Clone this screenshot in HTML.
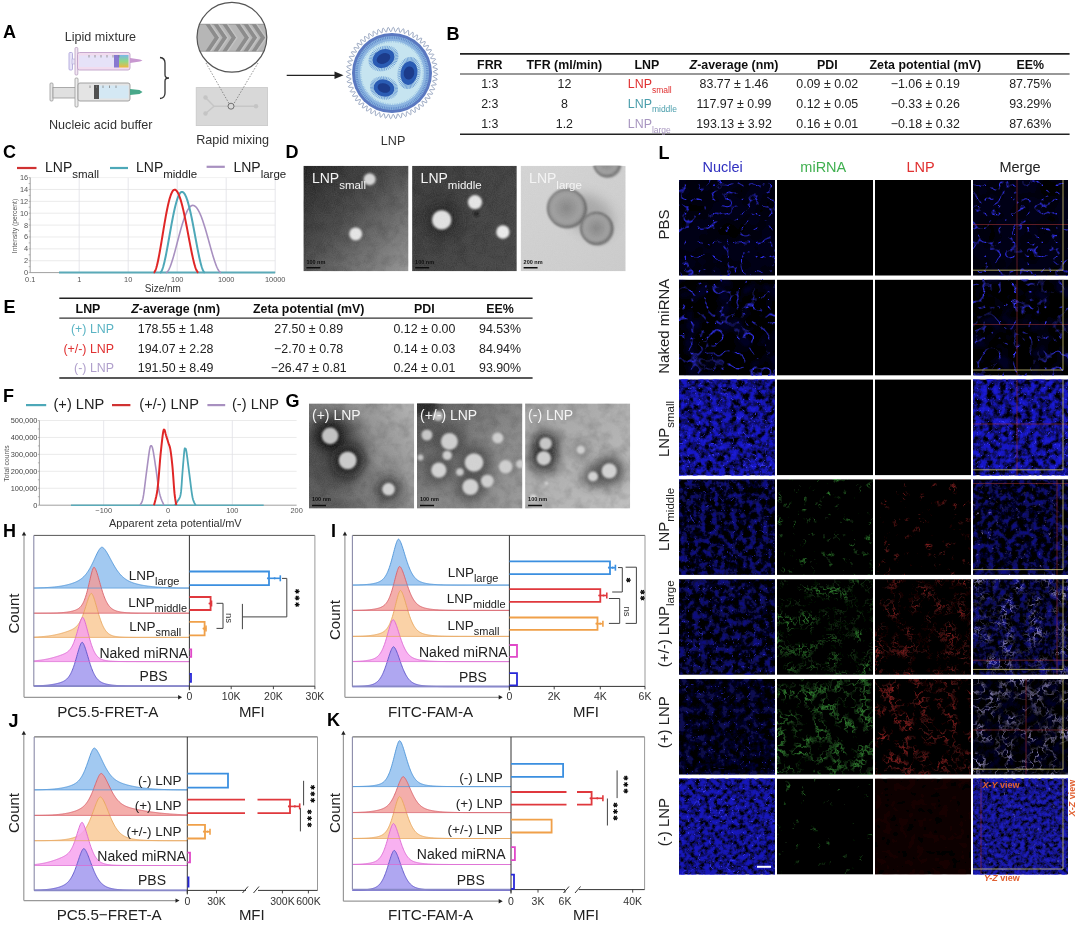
<!DOCTYPE html>
<html><head><meta charset="utf-8"><style>
html,body{margin:0;padding:0;background:#fff;}
svg{display:block;}
text{font-family:"Liberation Sans",sans-serif;}
</style></head><body>
<svg width="1080" height="925" viewBox="0 0 1080 925">
<defs><filter id="gsoft" x="0" y="0" width="100%" height="100%"><feGaussianBlur stdDeviation="0.3"/></filter></defs>
<g filter="url(#gsoft)">
<rect width="1080" height="925" fill="#fff"/>
<text x="3" y="37.5" font-size="18" fill="#000" text-anchor="start" font-weight="bold" >A</text><text x="446.5" y="40" font-size="18" fill="#000" text-anchor="start" font-weight="bold" >B</text><text x="3" y="158" font-size="18" fill="#000" text-anchor="start" font-weight="bold" >C</text><text x="285.5" y="158.3" font-size="18" fill="#000" text-anchor="start" font-weight="bold" >D</text><text x="3.5" y="313" font-size="18" fill="#000" text-anchor="start" font-weight="bold" >E</text><text x="3" y="402" font-size="18" fill="#000" text-anchor="start" font-weight="bold" >F</text><text x="285.5" y="406.7" font-size="18" fill="#000" text-anchor="start" font-weight="bold" >G</text><text x="3" y="537" font-size="18" fill="#000" text-anchor="start" font-weight="bold" >H</text><text x="331" y="537" font-size="18" fill="#000" text-anchor="start" font-weight="bold" >I</text><text x="8.5" y="727.3" font-size="18" fill="#000" text-anchor="start" font-weight="bold" >J</text><text x="327" y="726.2" font-size="18" fill="#000" text-anchor="start" font-weight="bold" >K</text><text x="658.5" y="158.5" font-size="18" fill="#000" text-anchor="start" font-weight="bold" >L</text><line x1="460" y1="53.9" x2="1069.6" y2="53.9" stroke="#222" stroke-width="1.6"/><line x1="460" y1="134.2" x2="1069.6" y2="134.2" stroke="#222" stroke-width="1.6"/><line x1="460" y1="74" x2="1069.6" y2="74" stroke="#333" stroke-width="1.1"/><text x="489.8" y="68.7" font-size="12.4" fill="#111" text-anchor="middle" font-weight="bold" >FRR</text><text x="564.4" y="68.7" font-size="12.4" fill="#111" text-anchor="middle" font-weight="bold" >TFR (ml/min)</text><text x="646.8" y="68.7" font-size="12.4" fill="#111" text-anchor="middle" font-weight="bold" >LNP</text><text x="734" y="68.7" font-size="12.4" fill="#111" text-anchor="middle" font-weight="bold" ><tspan font-style="italic">Z</tspan>-average (nm)</text><text x="827.3" y="68.7" font-size="12.4" fill="#111" text-anchor="middle" font-weight="bold" >PDI</text><text x="925.3" y="68.7" font-size="12.4" fill="#111" text-anchor="middle" font-weight="bold" >Zeta potential (mV)</text><text x="1030.2" y="68.7" font-size="12.4" fill="#111" text-anchor="middle" font-weight="bold" >EE%</text><text x="489.8" y="88.3" font-size="12.4" fill="#222" text-anchor="middle" font-weight="normal" >1:3</text><text x="564.4" y="88.3" font-size="12.4" fill="#222" text-anchor="middle" font-weight="normal" >12</text><text x="627.8" y="88.3" font-size="12.4" fill="#e03030" text-anchor="start" font-weight="normal" >LNP<tspan font-size="8.5" dy="4.2">small</tspan></text><text x="734" y="88.3" font-size="12.4" fill="#222" text-anchor="middle" font-weight="normal" >83.77 ± 1.46</text><text x="827.3" y="88.3" font-size="12.4" fill="#222" text-anchor="middle" font-weight="normal" >0.09 ± 0.02</text><text x="925.3" y="88.3" font-size="12.4" fill="#222" text-anchor="middle" font-weight="normal" >−1.06 ± 0.19</text><text x="1030.2" y="88.3" font-size="12.4" fill="#222" text-anchor="middle" font-weight="normal" >87.75%</text><text x="489.8" y="108.1" font-size="12.4" fill="#222" text-anchor="middle" font-weight="normal" >2:3</text><text x="564.4" y="108.1" font-size="12.4" fill="#222" text-anchor="middle" font-weight="normal" >8</text><text x="627.8" y="108.1" font-size="12.4" fill="#4a9eac" text-anchor="start" font-weight="normal" >LNP<tspan font-size="8.5" dy="4.2">middle</tspan></text><text x="734" y="108.1" font-size="12.4" fill="#222" text-anchor="middle" font-weight="normal" >117.97 ± 0.99</text><text x="827.3" y="108.1" font-size="12.4" fill="#222" text-anchor="middle" font-weight="normal" >0.12 ± 0.05</text><text x="925.3" y="108.1" font-size="12.4" fill="#222" text-anchor="middle" font-weight="normal" >−0.33 ± 0.26</text><text x="1030.2" y="108.1" font-size="12.4" fill="#222" text-anchor="middle" font-weight="normal" >93.29%</text><text x="489.8" y="128.3" font-size="12.4" fill="#222" text-anchor="middle" font-weight="normal" >1:3</text><text x="564.4" y="128.3" font-size="12.4" fill="#222" text-anchor="middle" font-weight="normal" >1.2</text><text x="627.8" y="128.3" font-size="12.4" fill="#a896c0" text-anchor="start" font-weight="normal" >LNP<tspan font-size="8.5" dy="4.2">large</tspan></text><text x="734" y="128.3" font-size="12.4" fill="#222" text-anchor="middle" font-weight="normal" >193.13 ± 3.92</text><text x="827.3" y="128.3" font-size="12.4" fill="#222" text-anchor="middle" font-weight="normal" >0.16 ± 0.01</text><text x="925.3" y="128.3" font-size="12.4" fill="#222" text-anchor="middle" font-weight="normal" >−0.18 ± 0.32</text><text x="1030.2" y="128.3" font-size="12.4" fill="#222" text-anchor="middle" font-weight="normal" >87.63%</text><line x1="59.3" y1="298.3" x2="532.6" y2="298.3" stroke="#222" stroke-width="1.6"/><line x1="59.3" y1="378" x2="532.6" y2="378" stroke="#222" stroke-width="1.6"/><line x1="59.3" y1="318.1" x2="532.6" y2="318.1" stroke="#333" stroke-width="1.1"/><text x="88" y="313.1" font-size="12.4" fill="#111" text-anchor="middle" font-weight="bold" >LNP</text><text x="175.6" y="313.1" font-size="12.4" fill="#111" text-anchor="middle" font-weight="bold" ><tspan font-style="italic">Z</tspan>-average (nm)</text><text x="308.7" y="313.1" font-size="12.4" fill="#111" text-anchor="middle" font-weight="bold" >Zeta potential (mV)</text><text x="424.4" y="313.1" font-size="12.4" fill="#111" text-anchor="middle" font-weight="bold" >PDI</text><text x="500" y="313.1" font-size="12.4" fill="#111" text-anchor="middle" font-weight="bold" >EE%</text><text x="114" y="333" font-size="12.4" fill="#5ab4c4" text-anchor="end" font-weight="normal" >(+) LNP</text><text x="175.6" y="333" font-size="12.4" fill="#222" text-anchor="middle" font-weight="normal" >178.55 ± 1.48</text><text x="308.7" y="333" font-size="12.4" fill="#222" text-anchor="middle" font-weight="normal" >27.50 ± 0.89</text><text x="424.4" y="333" font-size="12.4" fill="#222" text-anchor="middle" font-weight="normal" >0.12 ± 0.00</text><text x="500" y="333" font-size="12.4" fill="#222" text-anchor="middle" font-weight="normal" >94.53%</text><text x="114" y="352.8" font-size="12.4" fill="#e03030" text-anchor="end" font-weight="normal" >(+/-) LNP</text><text x="175.6" y="352.8" font-size="12.4" fill="#222" text-anchor="middle" font-weight="normal" >194.07 ± 2.28</text><text x="308.7" y="352.8" font-size="12.4" fill="#222" text-anchor="middle" font-weight="normal" >−2.70 ± 0.78</text><text x="424.4" y="352.8" font-size="12.4" fill="#222" text-anchor="middle" font-weight="normal" >0.14 ± 0.03</text><text x="500" y="352.8" font-size="12.4" fill="#222" text-anchor="middle" font-weight="normal" >84.94%</text><text x="114" y="372.1" font-size="12.4" fill="#b0a0cc" text-anchor="end" font-weight="normal" >(-) LNP</text><text x="175.6" y="372.1" font-size="12.4" fill="#222" text-anchor="middle" font-weight="normal" >191.50 ± 8.49</text><text x="308.7" y="372.1" font-size="12.4" fill="#222" text-anchor="middle" font-weight="normal" >−26.47 ± 0.81</text><text x="424.4" y="372.1" font-size="12.4" fill="#222" text-anchor="middle" font-weight="normal" >0.24 ± 0.01</text><text x="500" y="372.1" font-size="12.4" fill="#222" text-anchor="middle" font-weight="normal" >93.90%</text><text x="64.7" y="40.8" font-size="12.6" fill="#333" text-anchor="start" font-weight="normal" >Lipid mixture</text><text x="49" y="129" font-size="12.6" fill="#333" text-anchor="start" font-weight="normal" >Nucleic acid buffer</text><text x="196.2" y="144.3" font-size="12.6" fill="#333" text-anchor="start" font-weight="normal" >Rapid mixing</text><text x="380.8" y="145" font-size="12.6" fill="#333" text-anchor="start" font-weight="normal" >LNP</text><g><rect x="69" y="52.5" width="3.5" height="17.5" rx="1" fill="#e8e4f8" stroke="#a8a0d8" stroke-width="0.8"/><rect x="72" y="59" width="8" height="5" fill="#e8e4f8" stroke="#b0a8d8" stroke-width="0.6"/><rect x="75" y="47.5" width="2.8" height="27.5" rx="1" fill="#f3e6f3" stroke="#b8a0c0" stroke-width="0.8"/><rect x="77.5" y="52.5" width="52.5" height="17.5" rx="2" fill="#f2dcef" stroke="#c0a0c8" stroke-width="0.9"/><rect x="79" y="55.5" width="35" height="11.5" fill="#e6e2f8"/><rect x="114" y="55" width="5" height="12.5" fill="#8878d0"/><rect x="119" y="55" width="9.5" height="12.5" fill="url(#rainbow)"/><line x1="89" y1="55" x2="89" y2="57.5" stroke="#777" stroke-width="0.7"/><line x1="95" y1="55" x2="95" y2="57.5" stroke="#777" stroke-width="0.7"/><line x1="101" y1="55" x2="101" y2="57.5" stroke="#777" stroke-width="0.7"/><line x1="107" y1="55" x2="107" y2="57.5" stroke="#777" stroke-width="0.7"/><line x1="113" y1="55" x2="113" y2="57.5" stroke="#777" stroke-width="0.7"/><line x1="119" y1="55" x2="119" y2="57.5" stroke="#777" stroke-width="0.7"/><path d="M130 58 L140 59.5 L142.5 60.5 L140 61.5 L130 63 Z" fill="#c898d0"/><rect x="50" y="83" width="3" height="18" rx="1" fill="#e6e6e6" stroke="#999" stroke-width="0.8"/><rect x="53" y="87.5" width="25" height="10.5" fill="#e0e0e0" stroke="#999" stroke-width="0.8"/><rect x="75" y="78" width="3" height="29" rx="1" fill="#eee" stroke="#999" stroke-width="0.8"/><rect x="78" y="83" width="52" height="18" rx="2" fill="#e4e4e4" stroke="#999" stroke-width="0.9"/><rect x="99" y="85.5" width="29.5" height="13" fill="#d4e8f4"/><rect x="94" y="85" width="5" height="14" fill="#505050"/><line x1="90.0" y1="85.5" x2="90.0" y2="88" stroke="#777" stroke-width="0.7"/><line x1="96.5" y1="85.5" x2="96.5" y2="88" stroke="#777" stroke-width="0.7"/><line x1="103.0" y1="85.5" x2="103.0" y2="88" stroke="#777" stroke-width="0.7"/><line x1="109.5" y1="85.5" x2="109.5" y2="88" stroke="#777" stroke-width="0.7"/><line x1="116.0" y1="85.5" x2="116.0" y2="88" stroke="#777" stroke-width="0.7"/><path d="M130 89 L139.5 90 L142.5 92 L139.5 94 L130 95 Z" fill="#4aa88a"/><path d="M160 57.5 Q165 58 165 63 L165 75 Q165 78 169 78 Q165 78 165 81 L165 93 Q165 98 160 98.5" fill="none" stroke="#333" stroke-width="1.3"/></g><defs><clipPath id="zc"><circle cx="231.9" cy="37.3" r="34.9"/></clipPath><clipPath id="band"><rect x="190" y="24.3" width="80" height="27"/></clipPath><linearGradient id="rainbow" x1="0" y1="0" x2="0" y2="1"><stop offset="0" stop-color="#7ab8e8"/><stop offset="0.5" stop-color="#8ed88a"/><stop offset="1" stop-color="#f0b840"/></linearGradient></defs><g clip-path="url(#zc)"><rect x="190" y="0" width="80" height="80" fill="#fff"/><rect x="190" y="23.9" width="80" height="27.6" fill="#b6b6b6"/><line x1="190" y1="24.3" x2="270" y2="24.3" stroke="#999" stroke-width="0.8"/><line x1="190" y1="51.2" x2="270" y2="51.2" stroke="#999" stroke-width="0.8"/><g clip-path="url(#band)"><path d="M206.9 23 L216.9 37.7 L206.9 52.5" fill="none" stroke="#8c8c8c" stroke-width="4"/><path d="M209.9 23 L219.9 37.7 L209.9 52.5" fill="none" stroke="#c2c2c2" stroke-width="1.4"/><path d="M215 23 L225 37.7 L215 52.5" fill="none" stroke="#8c8c8c" stroke-width="4"/><path d="M218 23 L228 37.7 L218 52.5" fill="none" stroke="#c2c2c2" stroke-width="1.4"/><path d="M223.9 23 L233.9 37.7 L223.9 52.5" fill="none" stroke="#8c8c8c" stroke-width="4"/><path d="M226.9 23 L236.9 37.7 L226.9 52.5" fill="none" stroke="#c2c2c2" stroke-width="1.4"/><path d="M236.9 23 L246.9 37.7 L236.9 52.5" fill="none" stroke="#8c8c8c" stroke-width="4"/><path d="M239.9 23 L249.9 37.7 L239.9 52.5" fill="none" stroke="#c2c2c2" stroke-width="1.4"/><path d="M245 23 L255 37.7 L245 52.5" fill="none" stroke="#8c8c8c" stroke-width="4"/><path d="M248 23 L258 37.7 L248 52.5" fill="none" stroke="#c2c2c2" stroke-width="1.4"/><path d="M253.10000000000002 23 L263.1 37.7 L253.10000000000002 52.5" fill="none" stroke="#8c8c8c" stroke-width="4"/><path d="M256.1 23 L266.1 37.7 L256.1 52.5" fill="none" stroke="#c2c2c2" stroke-width="1.4"/></g></g><circle cx="231.9" cy="37.3" r="34.9" fill="none" stroke="#555" stroke-width="1.2"/><rect x="196.2" y="87.6" width="71.4" height="38" fill="#d8d8d8" stroke="#c8c8c8" stroke-width="0.8"/><path d="M205.5 97.5 L214 106.2 L205.5 113.5 M214 106.2 L256 106.2" stroke="#c6c6c6" stroke-width="1.5" fill="none"/><circle cx="205.5" cy="97.5" r="2.2" fill="#c4c4c4"/><circle cx="205.5" cy="113.5" r="2.2" fill="#c4c4c4"/><circle cx="256" cy="106.2" r="2.2" fill="#c4c4c4"/><path d="M206 63 L229 103.5 M258 63 L234 103.5" stroke="#666" stroke-width="0.7" stroke-dasharray="1.5,1.5" fill="none"/><circle cx="231" cy="106.2" r="3" fill="#d8d8d8" stroke="#555" stroke-width="0.8"/><line x1="286.7" y1="75.3" x2="336" y2="75.3" stroke="#222" stroke-width="1.3"/><path d="M334.5 71.5 L343.5 75.3 L334.5 79 Z" fill="#222"/><path d="M435.50 73.00 L436.53 73.39 L437.32 73.79 L437.67 74.20 L437.51 74.59 L436.87 74.96 L435.90 75.30 L434.81 75.62 L433.87 75.93 L433.28 76.25 L433.18 76.60 L433.57 77.00 L434.37 77.45 L435.37 77.94 L436.33 78.44 L437.02 78.93 L437.25 79.36 L436.98 79.72 L436.24 80.01 L435.21 80.23 L434.10 80.42 L433.16 80.63 L432.61 80.89 L432.53 81.25 L432.95 81.70 L433.73 82.25 L434.68 82.85 L435.56 83.46 L436.13 84.00 L436.24 84.44 L435.86 84.75 L435.04 84.94 L433.96 85.03 L432.85 85.10 L431.94 85.21 L431.42 85.43 L431.38 85.80 L431.80 86.32 L432.56 86.96 L433.44 87.67 L434.21 88.36 L434.66 88.95 L434.65 89.37 L434.17 89.61 L433.29 89.68 L432.19 89.65 L431.09 89.59 L430.22 89.62 L429.74 89.80 L429.73 90.19 L430.14 90.79 L430.85 91.53 L431.64 92.33 L432.30 93.09 L432.62 93.70 L432.51 94.09 L431.94 94.24 L431.01 94.18 L429.91 94.01 L428.85 93.85 L428.02 93.80 L427.59 93.96 L427.59 94.39 L427.99 95.05 L428.63 95.89 L429.32 96.78 L429.85 97.58 L430.05 98.19 L429.83 98.52 L429.20 98.56 L428.25 98.38 L427.16 98.08 L426.15 97.81 L425.38 97.70 L424.98 97.86 L425.00 98.32 L425.36 99.06 L425.92 99.98 L426.50 100.94 L426.90 101.77 L426.98 102.35 L426.67 102.61 L425.98 102.54 L425.03 102.23 L423.99 101.80 L423.03 101.43 L422.32 101.28 L421.97 101.44 L421.98 101.95 L422.29 102.77 L422.76 103.76 L423.21 104.76 L423.48 105.60 L423.45 106.14 L423.06 106.31 L422.34 106.11 L421.41 105.67 L420.42 105.13 L419.54 104.68 L418.89 104.49 L418.57 104.66 L418.57 105.23 L418.81 106.11 L419.17 107.16 L419.50 108.20 L419.64 109.02 L419.50 109.50 L419.05 109.56 L418.33 109.24 L417.44 108.66 L416.52 108.02 L415.71 107.50 L415.13 107.29 L414.83 107.49 L414.80 108.11 L414.97 109.05 L415.21 110.15 L415.40 111.19 L415.42 111.98 L415.19 112.38 L414.70 112.32 L413.99 111.88 L413.16 111.18 L412.33 110.44 L411.61 109.88 L411.09 109.66 L410.80 109.89 L410.73 110.56 L410.80 111.55 L410.92 112.68 L410.98 113.71 L410.89 114.44 L410.58 114.74 L410.07 114.56 L409.40 113.99 L408.65 113.19 L407.91 112.37 L407.27 111.78 L406.80 111.57 L406.52 111.83 L406.39 112.55 L406.37 113.57 L406.36 114.70 L406.29 115.70 L406.09 116.36 L405.73 116.55 L405.23 116.26 L404.61 115.57 L403.95 114.67 L403.31 113.79 L402.77 113.18 L402.34 112.99 L402.05 113.29 L401.85 114.04 L401.72 115.09 L401.58 116.20 L401.38 117.15 L401.10 117.72 L400.71 117.80 L400.23 117.38 L399.68 116.58 L399.13 115.60 L398.60 114.69 L398.14 114.07 L397.75 113.90 L397.43 114.24 L397.16 115.02 L396.91 116.07 L396.64 117.15 L396.34 118.03 L395.98 118.49 L395.58 118.45 L395.14 117.92 L394.69 117.02 L394.25 115.98 L393.84 115.05 L393.45 114.43 L393.08 114.30 L392.73 114.67 L392.37 115.47 L392.00 116.50 L391.61 117.53 L391.21 118.32 L390.80 118.67 L390.41 118.51 L390.04 117.87 L389.70 116.90 L389.38 115.81 L389.07 114.87 L388.75 114.28 L388.40 114.18 L388.00 114.57 L387.55 115.37 L387.06 116.37 L386.56 117.33 L386.07 118.02 L385.64 118.25 L385.28 117.98 L384.99 117.24 L384.77 116.21 L384.58 115.10 L384.37 114.16 L384.11 113.61 L383.75 113.53 L383.30 113.95 L382.75 114.73 L382.15 115.68 L381.54 116.56 L381.00 117.13 L380.56 117.24 L380.25 116.86 L380.06 116.04 L379.97 114.96 L379.90 113.85 L379.79 112.94 L379.57 112.42 L379.20 112.38 L378.68 112.80 L378.04 113.56 L377.33 114.44 L376.64 115.21 L376.05 115.66 L375.63 115.65 L375.39 115.17 L375.32 114.29 L375.35 113.19 L375.41 112.09 L375.38 111.22 L375.20 110.74 L374.81 110.73 L374.21 111.14 L373.47 111.85 L372.67 112.64 L371.91 113.30 L371.30 113.62 L370.91 113.51 L370.76 112.94 L370.82 112.01 L370.99 110.91 L371.15 109.85 L371.20 109.02 L371.04 108.59 L370.61 108.59 L369.95 108.99 L369.11 109.63 L368.22 110.32 L367.42 110.85 L366.81 111.05 L366.48 110.83 L366.44 110.20 L366.62 109.25 L366.92 108.16 L367.19 107.15 L367.30 106.38 L367.14 105.98 L366.68 106.00 L365.94 106.36 L365.02 106.92 L364.06 107.50 L363.23 107.90 L362.65 107.98 L362.39 107.67 L362.46 106.98 L362.77 106.03 L363.20 104.99 L363.57 104.03 L363.72 103.32 L363.56 102.97 L363.05 102.98 L362.23 103.29 L361.24 103.76 L360.24 104.21 L359.40 104.48 L358.86 104.45 L358.69 104.06 L358.89 103.34 L359.33 102.41 L359.87 101.42 L360.32 100.54 L360.51 99.89 L360.34 99.57 L359.77 99.57 L358.89 99.81 L357.84 100.17 L356.80 100.50 L355.98 100.64 L355.50 100.50 L355.44 100.05 L355.76 99.33 L356.34 98.44 L356.98 97.52 L357.50 96.71 L357.71 96.13 L357.51 95.83 L356.89 95.80 L355.95 95.97 L354.85 96.21 L353.81 96.40 L353.02 96.42 L352.62 96.19 L352.68 95.70 L353.12 94.99 L353.82 94.16 L354.56 93.33 L355.12 92.61 L355.34 92.09 L355.11 91.80 L354.44 91.73 L353.45 91.80 L352.32 91.92 L351.29 91.98 L350.56 91.89 L350.26 91.58 L350.44 91.07 L351.01 90.40 L351.81 89.65 L352.63 88.91 L353.22 88.27 L353.43 87.80 L353.17 87.52 L352.45 87.39 L351.43 87.37 L350.30 87.36 L349.30 87.29 L348.64 87.09 L348.45 86.73 L348.74 86.23 L349.43 85.61 L350.33 84.95 L351.21 84.31 L351.82 83.77 L352.01 83.34 L351.71 83.05 L350.96 82.85 L349.91 82.72 L348.80 82.58 L347.85 82.38 L347.28 82.10 L347.20 81.71 L347.62 81.23 L348.42 80.68 L349.40 80.13 L350.31 79.60 L350.93 79.14 L351.10 78.75 L350.76 78.43 L349.98 78.16 L348.93 77.91 L347.85 77.64 L346.97 77.34 L346.51 76.98 L346.55 76.58 L347.08 76.14 L347.98 75.69 L349.02 75.25 L349.95 74.84 L350.57 74.45 L350.70 74.08 L350.33 73.73 L349.53 73.37 L348.50 73.00 L347.47 72.61 L346.68 72.21 L346.33 71.80 L346.49 71.41 L347.13 71.04 L348.10 70.70 L349.19 70.38 L350.13 70.07 L350.72 69.75 L350.82 69.40 L350.43 69.00 L349.63 68.55 L348.63 68.06 L347.67 67.56 L346.98 67.07 L346.75 66.64 L347.02 66.28 L347.76 65.99 L348.79 65.77 L349.90 65.58 L350.84 65.37 L351.39 65.11 L351.47 64.75 L351.05 64.30 L350.27 63.75 L349.32 63.15 L348.44 62.54 L347.87 62.00 L347.76 61.56 L348.14 61.25 L348.96 61.06 L350.04 60.97 L351.15 60.90 L352.06 60.79 L352.58 60.57 L352.62 60.20 L352.20 59.68 L351.44 59.04 L350.56 58.33 L349.79 57.64 L349.34 57.05 L349.35 56.63 L349.83 56.39 L350.71 56.32 L351.81 56.35 L352.91 56.41 L353.78 56.38 L354.26 56.20 L354.27 55.81 L353.86 55.21 L353.15 54.47 L352.36 53.67 L351.70 52.91 L351.38 52.30 L351.49 51.91 L352.06 51.76 L352.99 51.82 L354.09 51.99 L355.15 52.15 L355.98 52.20 L356.41 52.04 L356.41 51.61 L356.01 50.95 L355.37 50.11 L354.68 49.22 L354.15 48.42 L353.95 47.81 L354.17 47.48 L354.80 47.44 L355.75 47.62 L356.84 47.92 L357.85 48.19 L358.62 48.30 L359.02 48.14 L359.00 47.68 L358.64 46.94 L358.08 46.02 L357.50 45.06 L357.10 44.23 L357.02 43.65 L357.33 43.39 L358.02 43.46 L358.97 43.77 L360.01 44.20 L360.97 44.57 L361.68 44.72 L362.03 44.56 L362.02 44.05 L361.71 43.23 L361.24 42.24 L360.79 41.24 L360.52 40.40 L360.55 39.86 L360.94 39.69 L361.66 39.89 L362.59 40.33 L363.58 40.87 L364.46 41.32 L365.11 41.51 L365.43 41.34 L365.43 40.77 L365.19 39.89 L364.83 38.84 L364.50 37.80 L364.36 36.98 L364.50 36.50 L364.95 36.44 L365.67 36.76 L366.56 37.34 L367.48 37.98 L368.29 38.50 L368.87 38.71 L369.17 38.51 L369.20 37.89 L369.03 36.95 L368.79 35.85 L368.60 34.81 L368.58 34.02 L368.81 33.62 L369.30 33.68 L370.01 34.12 L370.84 34.82 L371.67 35.56 L372.39 36.12 L372.91 36.34 L373.20 36.11 L373.27 35.44 L373.20 34.45 L373.08 33.32 L373.02 32.29 L373.11 31.56 L373.42 31.26 L373.93 31.44 L374.60 32.01 L375.35 32.81 L376.09 33.63 L376.73 34.22 L377.20 34.43 L377.48 34.17 L377.61 33.45 L377.63 32.43 L377.64 31.30 L377.71 30.30 L377.91 29.64 L378.27 29.45 L378.77 29.74 L379.39 30.43 L380.05 31.33 L380.69 32.21 L381.23 32.82 L381.66 33.01 L381.95 32.71 L382.15 31.96 L382.28 30.91 L382.42 29.80 L382.62 28.85 L382.90 28.28 L383.29 28.20 L383.77 28.62 L384.32 29.42 L384.87 30.40 L385.40 31.31 L385.86 31.93 L386.25 32.10 L386.57 31.76 L386.84 30.98 L387.09 29.93 L387.36 28.85 L387.66 27.97 L388.02 27.51 L388.42 27.55 L388.86 28.08 L389.31 28.98 L389.75 30.02 L390.16 30.95 L390.55 31.57 L390.92 31.70 L391.27 31.33 L391.63 30.53 L392.00 29.50 L392.39 28.47 L392.79 27.68 L393.20 27.33 L393.59 27.49 L393.96 28.13 L394.30 29.10 L394.62 30.19 L394.93 31.13 L395.25 31.72 L395.60 31.82 L396.00 31.43 L396.45 30.63 L396.94 29.63 L397.44 28.67 L397.93 27.98 L398.36 27.75 L398.72 28.02 L399.01 28.76 L399.23 29.79 L399.42 30.90 L399.63 31.84 L399.89 32.39 L400.25 32.47 L400.70 32.05 L401.25 31.27 L401.85 30.32 L402.46 29.44 L403.00 28.87 L403.44 28.76 L403.75 29.14 L403.94 29.96 L404.03 31.04 L404.10 32.15 L404.21 33.06 L404.43 33.58 L404.80 33.62 L405.32 33.20 L405.96 32.44 L406.67 31.56 L407.36 30.79 L407.95 30.34 L408.37 30.35 L408.61 30.83 L408.68 31.71 L408.65 32.81 L408.59 33.91 L408.62 34.78 L408.80 35.26 L409.19 35.27 L409.79 34.86 L410.53 34.15 L411.33 33.36 L412.09 32.70 L412.70 32.38 L413.09 32.49 L413.24 33.06 L413.18 33.99 L413.01 35.09 L412.85 36.15 L412.80 36.98 L412.96 37.41 L413.39 37.41 L414.05 37.01 L414.89 36.37 L415.78 35.68 L416.58 35.15 L417.19 34.95 L417.52 35.17 L417.56 35.80 L417.38 36.75 L417.08 37.84 L416.81 38.85 L416.70 39.62 L416.86 40.02 L417.32 40.00 L418.06 39.64 L418.98 39.08 L419.94 38.50 L420.77 38.10 L421.35 38.02 L421.61 38.33 L421.54 39.02 L421.23 39.97 L420.80 41.01 L420.43 41.97 L420.28 42.68 L420.44 43.03 L420.95 43.02 L421.77 42.71 L422.76 42.24 L423.76 41.79 L424.60 41.52 L425.14 41.55 L425.31 41.94 L425.11 42.66 L424.67 43.59 L424.13 44.58 L423.68 45.46 L423.49 46.11 L423.66 46.43 L424.23 46.43 L425.11 46.19 L426.16 45.83 L427.20 45.50 L428.02 45.36 L428.50 45.50 L428.56 45.95 L428.24 46.67 L427.66 47.56 L427.02 48.48 L426.50 49.29 L426.29 49.87 L426.49 50.17 L427.11 50.20 L428.05 50.03 L429.15 49.79 L430.19 49.60 L430.98 49.58 L431.38 49.81 L431.32 50.30 L430.88 51.01 L430.18 51.84 L429.44 52.67 L428.88 53.39 L428.66 53.91 L428.89 54.20 L429.56 54.27 L430.55 54.20 L431.68 54.08 L432.71 54.02 L433.44 54.11 L433.74 54.42 L433.56 54.93 L432.99 55.60 L432.19 56.35 L431.37 57.09 L430.78 57.73 L430.57 58.20 L430.83 58.48 L431.55 58.61 L432.57 58.63 L433.70 58.64 L434.70 58.71 L435.36 58.91 L435.55 59.27 L435.26 59.77 L434.57 60.39 L433.67 61.05 L432.79 61.69 L432.18 62.23 L431.99 62.66 L432.29 62.95 L433.04 63.15 L434.09 63.28 L435.20 63.42 L436.15 63.62 L436.72 63.90 L436.80 64.29 L436.38 64.77 L435.58 65.32 L434.60 65.87 L433.69 66.40 L433.07 66.86 L432.90 67.25 L433.24 67.57 L434.02 67.84 L435.07 68.09 L436.15 68.36 L437.03 68.66 L437.49 69.02 L437.45 69.42 L436.92 69.86 L436.02 70.31 L434.98 70.75 L434.05 71.16 L433.43 71.55 L433.30 71.92 L433.67 72.27 L434.47 72.63 L435.50 73.00" fill="none" stroke="#8a9ab8" stroke-width="0.9"/><circle cx="392" cy="73" r="40" fill="#5a78c0"/><circle cx="392" cy="73" r="37" fill="#8cb4e0"/><circle cx="392" cy="73" r="35.5" fill="none" stroke="#5c88c8" stroke-width="2.5" stroke-dasharray="0.8,1"/><circle cx="392" cy="73" r="32" fill="#c6e4f0"/><circle cx="392" cy="73" r="31.5" fill="none" stroke="#90bce0" stroke-width="2" stroke-dasharray="0.6,1.2"/><path d="M395.00 58.50 L399.02 58.50 M394.90 59.67 L398.89 60.09 M394.61 60.83 L398.50 61.64 M394.12 61.94 L397.84 63.15 M393.46 63.00 L396.95 64.58 M392.62 63.98 L395.82 65.90 M391.63 64.86 L394.48 67.09 M390.50 65.64 L392.95 68.14 M389.25 66.29 L391.26 69.02 M387.90 66.81 L389.44 69.73 M386.48 67.19 L387.52 70.24 M385.00 67.42 L385.53 70.55 M383.50 67.50 L383.50 70.65 M382.00 67.42 L381.47 70.55 M380.52 67.19 L379.48 70.24 M379.10 66.81 L377.56 69.73 M377.75 66.29 L375.74 69.02 M376.50 65.64 L374.05 68.14 M375.37 64.86 L372.52 67.09 M374.38 63.98 L371.18 65.90 M373.54 63.00 L370.05 64.58 M372.88 61.94 L369.16 63.15 M372.39 60.83 L368.50 61.64 M372.10 59.67 L368.11 60.09 M372.00 58.50 L367.98 58.50 M372.10 57.33 L368.11 56.91 M372.39 56.17 L368.50 55.36 M372.88 55.06 L369.16 53.85 M373.54 54.00 L370.05 52.43 M374.38 53.02 L371.18 51.10 M375.37 52.14 L372.52 49.91 M376.50 51.36 L374.05 48.86 M377.75 50.71 L375.74 47.98 M379.10 50.19 L377.56 47.27 M380.52 49.81 L379.48 46.76 M382.00 49.58 L381.47 46.45 M383.50 49.50 L383.50 46.35 M385.00 49.58 L385.53 46.45 M386.48 49.81 L387.52 46.76 M387.90 50.19 L389.44 47.27 M389.25 50.71 L391.26 47.98 M390.50 51.36 L392.95 48.86 M391.63 52.14 L394.48 49.91 M392.62 53.02 L395.82 51.10 M393.46 54.00 L396.95 52.42 M394.12 55.06 L397.84 53.85 M394.61 56.17 L398.50 55.36 M394.90 57.33 L398.89 56.91" transform="rotate(-25 383.5 58.5)" stroke="#6a9cd4" stroke-width="0.8"/><ellipse cx="383.5" cy="58.5" rx="11.5" ry="9" transform="rotate(-25 383.5 58.5)" fill="#2c5cb4"/><ellipse cx="383.5" cy="58.5" rx="7.13" ry="4.95" transform="rotate(-25 383.5 58.5)" fill="#1a3a8a"/><path d="M417.50 73.00 L420.48 73.00 M417.43 74.57 L420.38 75.11 M417.21 76.11 L420.08 77.19 M416.85 77.59 L419.60 79.20 M416.36 79.00 L418.94 81.10 M415.74 80.31 L418.10 82.86 M415.01 81.49 L417.11 84.46 M414.17 82.52 L415.99 85.85 M413.25 83.39 L414.74 87.03 M412.25 84.09 L413.39 87.97 M411.20 84.59 L411.97 88.65 M410.11 84.90 L410.50 89.06 M409.00 85.00 L409.00 89.20 M407.89 84.90 L407.50 89.06 M406.80 84.59 L406.03 88.65 M405.75 84.09 L404.61 87.97 M404.75 83.39 L403.26 87.03 M403.83 82.52 L402.01 85.85 M402.99 81.49 L400.89 84.46 M402.26 80.31 L399.90 82.86 M401.64 79.00 L399.06 81.10 M401.15 77.59 L398.40 79.20 M400.79 76.11 L397.92 77.19 M400.57 74.57 L397.62 75.11 M400.50 73.00 L397.52 73.00 M400.57 71.43 L397.62 70.89 M400.79 69.89 L397.92 68.81 M401.15 68.41 L398.40 66.80 M401.64 67.00 L399.06 64.90 M402.26 65.69 L399.90 63.14 M402.99 64.51 L400.89 61.54 M403.83 63.48 L402.01 60.15 M404.75 62.61 L403.26 58.97 M405.75 61.91 L404.61 58.03 M406.80 61.41 L406.03 57.35 M407.89 61.10 L407.50 56.94 M409.00 61.00 L409.00 56.80 M410.11 61.10 L410.50 56.94 M411.20 61.41 L411.97 57.35 M412.25 61.91 L413.39 58.03 M413.25 62.61 L414.74 58.97 M414.17 63.48 L415.99 60.15 M415.01 64.51 L417.11 61.54 M415.74 65.69 L418.10 63.14 M416.36 67.00 L418.94 64.90 M416.85 68.41 L419.60 66.80 M417.21 69.89 L420.08 68.81 M417.43 71.43 L420.38 70.89" transform="rotate(10 409 73)" stroke="#6a9cd4" stroke-width="0.8"/><ellipse cx="409" cy="73" rx="8.5" ry="12" transform="rotate(10 409 73)" fill="#2c5cb4"/><ellipse cx="409" cy="73" rx="5.27" ry="6.6000000000000005" transform="rotate(10 409 73)" fill="#1a3a8a"/><path d="M394.50 88.00 L398.18 88.00 M394.41 89.11 L398.05 89.50 M394.14 90.20 L397.69 90.97 M393.70 91.25 L397.10 92.39 M393.09 92.25 L396.28 93.74 M392.33 93.17 L395.25 94.99 M391.42 94.01 L394.02 96.11 M390.39 94.74 L392.63 97.10 M389.25 95.36 L391.09 97.94 M388.02 95.85 L389.42 98.60 M386.72 96.21 L387.67 99.08 M385.37 96.43 L385.85 99.38 M384.00 96.50 L384.00 99.47 M382.63 96.43 L382.15 99.38 M381.28 96.21 L380.33 99.08 M379.98 95.85 L378.58 98.60 M378.75 95.36 L376.91 97.94 M377.61 94.74 L375.37 97.10 M376.58 94.01 L373.98 96.11 M375.67 93.17 L372.75 94.99 M374.91 92.25 L371.72 93.74 M374.30 91.25 L370.90 92.39 M373.86 90.20 L370.31 90.97 M373.59 89.11 L369.95 89.50 M373.50 88.00 L369.82 88.00 M373.59 86.89 L369.95 86.50 M373.86 85.80 L370.31 85.03 M374.30 84.75 L370.90 83.61 M374.91 83.75 L371.72 82.26 M375.67 82.83 L372.75 81.01 M376.58 81.99 L373.98 79.89 M377.61 81.26 L375.37 78.90 M378.75 80.64 L376.91 78.06 M379.98 80.15 L378.58 77.40 M381.28 79.79 L380.33 76.92 M382.63 79.57 L382.15 76.62 M384.00 79.50 L384.00 76.53 M385.37 79.57 L385.85 76.62 M386.72 79.79 L387.67 76.92 M388.02 80.15 L389.42 77.40 M389.25 80.64 L391.09 78.06 M390.39 81.26 L392.63 78.90 M391.42 81.99 L394.02 79.89 M392.33 82.83 L395.25 81.01 M393.09 83.75 L396.28 82.26 M393.70 84.75 L397.10 83.61 M394.14 85.80 L397.69 85.03 M394.41 86.89 L398.05 86.50" transform="rotate(15 384 88)" stroke="#6a9cd4" stroke-width="0.8"/><ellipse cx="384" cy="88" rx="10.5" ry="8.5" transform="rotate(15 384 88)" fill="#2c5cb4"/><ellipse cx="384" cy="88" rx="6.51" ry="4.675000000000001" transform="rotate(15 384 88)" fill="#1a3a8a"/><line x1="30.2" y1="260.73" x2="275.2" y2="260.73" stroke="#e6e6e6" stroke-width="0.8"/><line x1="30.2" y1="248.85" x2="275.2" y2="248.85" stroke="#e6e6e6" stroke-width="0.8"/><line x1="30.2" y1="236.98" x2="275.2" y2="236.98" stroke="#e6e6e6" stroke-width="0.8"/><line x1="30.2" y1="225.10" x2="275.2" y2="225.10" stroke="#e6e6e6" stroke-width="0.8"/><line x1="30.2" y1="213.23" x2="275.2" y2="213.23" stroke="#e6e6e6" stroke-width="0.8"/><line x1="30.2" y1="201.35" x2="275.2" y2="201.35" stroke="#e6e6e6" stroke-width="0.8"/><line x1="30.2" y1="189.47" x2="275.2" y2="189.47" stroke="#e6e6e6" stroke-width="0.8"/><line x1="79.2" y1="177.6" x2="79.2" y2="272.6" stroke="#e0e0e6" stroke-width="0.8"/><line x1="128.2" y1="177.6" x2="128.2" y2="272.6" stroke="#e0e0e6" stroke-width="0.8"/><line x1="177.2" y1="177.6" x2="177.2" y2="272.6" stroke="#e0e0e6" stroke-width="0.8"/><line x1="226.2" y1="177.6" x2="226.2" y2="272.6" stroke="#e0e0e6" stroke-width="0.8"/><line x1="275.2" y1="177.6" x2="275.2" y2="272.6" stroke="#e0e0e6" stroke-width="0.8"/><line x1="30.2" y1="177.6" x2="275.2" y2="177.6" stroke="#ececec" stroke-width="0.8"/><line x1="30.2" y1="177.6" x2="30.2" y2="272.6" stroke="#888" stroke-width="0.8"/><line x1="30.2" y1="272.6" x2="275.2" y2="272.6" stroke="#888" stroke-width="0.8"/><line x1="28.7" y1="272.60" x2="30.2" y2="272.60" stroke="#888" stroke-width="0.6"/><line x1="28.7" y1="266.66" x2="30.2" y2="266.66" stroke="#888" stroke-width="0.6"/><line x1="28.7" y1="260.73" x2="30.2" y2="260.73" stroke="#888" stroke-width="0.6"/><line x1="28.7" y1="254.79" x2="30.2" y2="254.79" stroke="#888" stroke-width="0.6"/><line x1="28.7" y1="248.85" x2="30.2" y2="248.85" stroke="#888" stroke-width="0.6"/><line x1="28.7" y1="242.91" x2="30.2" y2="242.91" stroke="#888" stroke-width="0.6"/><line x1="28.7" y1="236.98" x2="30.2" y2="236.98" stroke="#888" stroke-width="0.6"/><line x1="28.7" y1="231.04" x2="30.2" y2="231.04" stroke="#888" stroke-width="0.6"/><line x1="28.7" y1="225.10" x2="30.2" y2="225.10" stroke="#888" stroke-width="0.6"/><line x1="28.7" y1="219.16" x2="30.2" y2="219.16" stroke="#888" stroke-width="0.6"/><line x1="28.7" y1="213.23" x2="30.2" y2="213.23" stroke="#888" stroke-width="0.6"/><line x1="28.7" y1="207.29" x2="30.2" y2="207.29" stroke="#888" stroke-width="0.6"/><line x1="28.7" y1="201.35" x2="30.2" y2="201.35" stroke="#888" stroke-width="0.6"/><line x1="28.7" y1="195.41" x2="30.2" y2="195.41" stroke="#888" stroke-width="0.6"/><line x1="28.7" y1="189.47" x2="30.2" y2="189.47" stroke="#888" stroke-width="0.6"/><line x1="28.7" y1="183.54" x2="30.2" y2="183.54" stroke="#888" stroke-width="0.6"/><line x1="28.7" y1="177.60" x2="30.2" y2="177.60" stroke="#888" stroke-width="0.6"/><text x="28.2" y="275.1" font-size="7.4" fill="#555" text-anchor="end" font-weight="normal" >0</text><text x="28.2" y="263.225" font-size="7.4" fill="#555" text-anchor="end" font-weight="normal" >2</text><text x="28.2" y="251.35000000000002" font-size="7.4" fill="#555" text-anchor="end" font-weight="normal" >4</text><text x="28.2" y="239.47500000000002" font-size="7.4" fill="#555" text-anchor="end" font-weight="normal" >6</text><text x="28.2" y="227.60000000000002" font-size="7.4" fill="#555" text-anchor="end" font-weight="normal" >8</text><text x="28.2" y="215.72500000000002" font-size="7.4" fill="#555" text-anchor="end" font-weight="normal" >10</text><text x="28.2" y="203.85" font-size="7.4" fill="#555" text-anchor="end" font-weight="normal" >12</text><text x="28.2" y="191.975" font-size="7.4" fill="#555" text-anchor="end" font-weight="normal" >14</text><text x="28.2" y="180.1" font-size="7.4" fill="#555" text-anchor="end" font-weight="normal" >16</text><text x="30.2" y="282" font-size="7.4" fill="#555" text-anchor="middle" font-weight="normal" >0.1</text><text x="79.2" y="282" font-size="7.4" fill="#555" text-anchor="middle" font-weight="normal" >1</text><text x="128.2" y="282" font-size="7.4" fill="#555" text-anchor="middle" font-weight="normal" >10</text><text x="177.2" y="282" font-size="7.4" fill="#555" text-anchor="middle" font-weight="normal" >100</text><text x="226.2" y="282" font-size="7.4" fill="#555" text-anchor="middle" font-weight="normal" >1000</text><text x="275.2" y="282" font-size="7.4" fill="#555" text-anchor="middle" font-weight="normal" >10000</text><text x="0" y="0" font-size="6.8" fill="#555" text-anchor="middle" font-weight="normal" transform="translate(16.5 226) rotate(-90)">Intensity (percent)</text><text x="144.8" y="292.2" font-size="10" fill="#333" text-anchor="start" font-weight="normal" >Size/nm</text><line x1="59" y1="272.6" x2="275.2" y2="272.6" stroke="#5aaab8" stroke-width="2"/><path d="M165.80 272.60 L166.20 272.54 L166.60 272.37 L167.00 272.09 L167.40 271.71 L167.80 271.23 L168.20 270.66 L168.60 270.00 L169.00 269.26 L169.40 268.44 L169.80 267.54 L170.20 266.58 L170.60 265.55 L171.00 264.46 L171.40 263.31 L171.80 262.11 L172.20 260.86 L172.60 259.57 L173.00 258.24 L173.40 256.88 L173.80 255.48 L174.20 254.05 L174.60 252.59 L175.00 251.12 L175.40 249.63 L175.80 248.12 L176.20 246.60 L176.60 245.07 L177.00 243.54 L177.40 242.01 L177.80 240.48 L178.20 238.95 L178.60 237.43 L179.00 235.92 L179.40 234.43 L179.80 232.95 L180.20 231.48 L180.60 230.04 L181.00 228.62 L181.40 227.22 L181.80 225.86 L182.20 224.52 L182.60 223.21 L183.00 221.94 L183.40 220.70 L183.80 219.50 L184.20 218.34 L184.60 217.22 L185.00 216.15 L185.40 215.12 L185.80 214.13 L186.20 213.19 L186.60 212.30 L187.00 211.46 L187.40 210.67 L187.80 209.93 L188.20 209.24 L188.60 208.61 L189.00 208.04 L189.40 207.51 L189.80 207.05 L190.20 206.64 L190.60 206.29 L191.00 206.00 L191.40 205.76 L191.80 205.58 L192.20 205.47 L192.60 205.41 L193.00 205.41 L193.40 205.46 L193.80 205.57 L194.20 205.72 L194.60 205.94 L195.00 206.20 L195.40 206.51 L195.80 206.88 L196.20 207.30 L196.60 207.77 L197.00 208.29 L197.40 208.86 L197.80 209.47 L198.20 210.14 L198.60 210.85 L199.00 211.61 L199.40 212.41 L199.80 213.26 L200.20 214.16 L200.60 215.09 L201.00 216.07 L201.40 217.08 L201.80 218.13 L202.20 219.23 L202.60 220.35 L203.00 221.51 L203.40 222.71 L203.80 223.93 L204.20 225.18 L204.60 226.46 L205.00 227.77 L205.40 229.10 L205.80 230.45 L206.20 231.83 L206.60 233.22 L207.00 234.62 L207.40 236.04 L207.80 237.47 L208.20 238.91 L208.60 240.36 L209.00 241.81 L209.40 243.26 L209.80 244.71 L210.20 246.16 L210.60 247.60 L211.00 249.03 L211.40 250.45 L211.80 251.86 L212.20 253.25 L212.60 254.61 L213.00 255.96 L213.40 257.27 L213.80 258.56 L214.20 259.81 L214.60 261.03 L215.00 262.21 L215.40 263.34 L215.80 264.43 L216.20 265.46 L216.60 266.45 L217.00 267.37 L217.40 268.23 L217.80 269.03 L218.20 269.76 L218.60 270.41 L219.00 270.99 L219.40 271.48 L219.80 271.89 L220.20 272.21 L220.60 272.44 L221.00 272.57" fill="none" stroke="#a890c0" stroke-width="1.6"/><path d="M160.00 272.60 L160.40 272.50 L160.80 272.19 L161.20 271.69 L161.60 271.01 L162.00 270.17 L162.40 269.17 L162.80 268.02 L163.20 266.73 L163.60 265.31 L164.00 263.78 L164.40 262.14 L164.80 260.40 L165.20 258.58 L165.60 256.67 L166.00 254.69 L166.40 252.65 L166.80 250.56 L167.20 248.42 L167.60 246.24 L168.00 244.03 L168.40 241.79 L168.80 239.55 L169.20 237.29 L169.60 235.03 L170.00 232.78 L170.40 230.53 L170.80 228.31 L171.20 226.11 L171.60 223.94 L172.00 221.80 L172.40 219.71 L172.80 217.66 L173.20 215.66 L173.60 213.71 L174.00 211.83 L174.40 210.01 L174.80 208.26 L175.20 206.58 L175.60 204.98 L176.00 203.46 L176.40 202.02 L176.80 200.67 L177.20 199.40 L177.60 198.23 L178.00 197.15 L178.40 196.16 L178.80 195.28 L179.20 194.49 L179.60 193.81 L180.00 193.23 L180.40 192.75 L180.80 192.38 L181.20 192.11 L181.60 191.95 L182.00 191.90 L182.40 191.95 L182.80 192.10 L183.20 192.34 L183.60 192.68 L184.00 193.12 L184.40 193.65 L184.80 194.27 L185.20 194.99 L185.60 195.81 L186.00 196.71 L186.40 197.70 L186.80 198.78 L187.20 199.94 L187.60 201.18 L188.00 202.51 L188.40 203.91 L188.80 205.39 L189.20 206.94 L189.60 208.56 L190.00 210.25 L190.40 211.99 L190.80 213.80 L191.20 215.66 L191.60 217.57 L192.00 219.53 L192.40 221.53 L192.80 223.56 L193.20 225.63 L193.60 227.73 L194.00 229.86 L194.40 231.99 L194.80 234.15 L195.20 236.31 L195.60 238.47 L196.00 240.62 L196.40 242.77 L196.80 244.89 L197.20 247.00 L197.60 249.07 L198.00 251.11 L198.40 253.10 L198.80 255.04 L199.20 256.92 L199.60 258.74 L200.00 260.48 L200.40 262.14 L200.80 263.71 L201.20 265.18 L201.60 266.55 L202.00 267.80 L202.40 268.93 L202.80 269.92 L203.20 270.77 L203.60 271.48 L204.00 272.02 L204.40 272.39 L204.80 272.58" fill="none" stroke="#4ea8b8" stroke-width="2"/><path d="M153.60 272.60 L154.00 272.48 L154.40 272.14 L154.80 271.58 L155.20 270.82 L155.60 269.87 L156.00 268.75 L156.40 267.46 L156.80 266.03 L157.20 264.45 L157.60 262.75 L158.00 260.93 L158.40 259.01 L158.80 256.99 L159.20 254.89 L159.60 252.71 L160.00 250.47 L160.40 248.18 L160.80 245.84 L161.20 243.46 L161.60 241.06 L162.00 238.64 L162.40 236.22 L162.80 233.78 L163.20 231.36 L163.60 228.95 L164.00 226.56 L164.40 224.20 L164.80 221.88 L165.20 219.59 L165.60 217.36 L166.00 215.17 L166.40 213.05 L166.80 211.00 L167.20 209.01 L167.60 207.10 L168.00 205.27 L168.40 203.52 L168.80 201.87 L169.20 200.30 L169.60 198.83 L170.00 197.46 L170.40 196.20 L170.80 195.04 L171.20 193.99 L171.60 193.05 L172.00 192.22 L172.40 191.51 L172.80 190.91 L173.20 190.44 L173.60 190.08 L174.00 189.84 L174.40 189.72 L174.80 189.71 L175.20 189.80 L175.60 189.99 L176.00 190.26 L176.40 190.63 L176.80 191.09 L177.20 191.63 L177.60 192.27 L178.00 192.99 L178.40 193.80 L178.80 194.70 L179.20 195.68 L179.60 196.74 L180.00 197.88 L180.40 199.10 L180.80 200.40 L181.20 201.76 L181.60 203.20 L182.00 204.71 L182.40 206.29 L182.80 207.93 L183.20 209.62 L183.60 211.38 L184.00 213.18 L184.40 215.04 L184.80 216.94 L185.20 218.89 L185.60 220.87 L186.00 222.89 L186.40 224.94 L186.80 227.01 L187.20 229.10 L187.60 231.21 L188.00 233.33 L188.40 235.46 L188.80 237.58 L189.20 239.70 L189.60 241.82 L190.00 243.91 L190.40 245.99 L190.80 248.03 L191.20 250.05 L191.60 252.02 L192.00 253.94 L192.40 255.82 L192.80 257.63 L193.20 259.38 L193.60 261.05 L194.00 262.64 L194.40 264.14 L194.80 265.55 L195.20 266.85 L195.60 268.05 L196.00 269.12 L196.40 270.06 L196.80 270.87 L197.20 271.54 L197.60 272.05 L198.00 272.40 L198.40 272.58" fill="none" stroke="#e02828" stroke-width="2"/><line x1="17" y1="168" x2="36.5" y2="168" stroke="#d03030" stroke-width="2.2"/><text x="45" y="172" font-size="14" fill="#222" text-anchor="start" font-weight="normal" >LNP<tspan font-size="11.5" dy="6">small</tspan></text><line x1="110" y1="168" x2="128" y2="168" stroke="#4ea8b8" stroke-width="2.2"/><text x="136" y="172" font-size="14" fill="#222" text-anchor="start" font-weight="normal" >LNP<tspan font-size="11.5" dy="6">middle</tspan></text><line x1="206.6" y1="166.8" x2="224.8" y2="166.8" stroke="#a890c0" stroke-width="2.2"/><text x="233.4" y="172" font-size="14" fill="#222" text-anchor="start" font-weight="normal" >LNP<tspan font-size="11.5" dy="6">large</tspan></text><line x1="39.4" y1="488.26" x2="296.6" y2="488.26" stroke="#e6e6e6" stroke-width="0.8"/><line x1="39.4" y1="471.32" x2="296.6" y2="471.32" stroke="#e6e6e6" stroke-width="0.8"/><line x1="39.4" y1="454.38" x2="296.6" y2="454.38" stroke="#e6e6e6" stroke-width="0.8"/><line x1="39.4" y1="437.44" x2="296.6" y2="437.44" stroke="#e6e6e6" stroke-width="0.8"/><line x1="39.4" y1="420.5" x2="296.6" y2="420.5" stroke="#e6e6e6" stroke-width="0.8"/><line x1="103.70" y1="420.5" x2="103.70" y2="505.2" stroke="#e0e0e6" stroke-width="0.8"/><line x1="168.00" y1="420.5" x2="168.00" y2="505.2" stroke="#e0e0e6" stroke-width="0.8"/><line x1="232.30" y1="420.5" x2="232.30" y2="505.2" stroke="#e0e0e6" stroke-width="0.8"/><line x1="39.4" y1="420.5" x2="39.4" y2="505.2" stroke="#888" stroke-width="0.8"/><line x1="39.4" y1="505.2" x2="296.6" y2="505.2" stroke="#888" stroke-width="0.8"/><line x1="37.9" y1="505.20" x2="39.4" y2="505.20" stroke="#888" stroke-width="0.6"/><line x1="37.9" y1="496.73" x2="39.4" y2="496.73" stroke="#888" stroke-width="0.6"/><line x1="37.9" y1="488.26" x2="39.4" y2="488.26" stroke="#888" stroke-width="0.6"/><line x1="37.9" y1="479.79" x2="39.4" y2="479.79" stroke="#888" stroke-width="0.6"/><line x1="37.9" y1="471.32" x2="39.4" y2="471.32" stroke="#888" stroke-width="0.6"/><line x1="37.9" y1="462.85" x2="39.4" y2="462.85" stroke="#888" stroke-width="0.6"/><line x1="37.9" y1="454.38" x2="39.4" y2="454.38" stroke="#888" stroke-width="0.6"/><line x1="37.9" y1="445.91" x2="39.4" y2="445.91" stroke="#888" stroke-width="0.6"/><line x1="37.9" y1="437.44" x2="39.4" y2="437.44" stroke="#888" stroke-width="0.6"/><line x1="37.9" y1="428.97" x2="39.4" y2="428.97" stroke="#888" stroke-width="0.6"/><line x1="37.9" y1="420.50" x2="39.4" y2="420.50" stroke="#888" stroke-width="0.6"/><text x="37.4" y="507.7" font-size="7.4" fill="#444" text-anchor="end" font-weight="normal" >0</text><text x="37.4" y="490.76" font-size="7.4" fill="#444" text-anchor="end" font-weight="normal" >100,000</text><text x="37.4" y="473.82" font-size="7.4" fill="#444" text-anchor="end" font-weight="normal" >200,000</text><text x="37.4" y="456.88" font-size="7.4" fill="#444" text-anchor="end" font-weight="normal" >300,000</text><text x="37.4" y="439.94" font-size="7.4" fill="#444" text-anchor="end" font-weight="normal" >400,000</text><text x="37.4" y="423.0" font-size="7.4" fill="#444" text-anchor="end" font-weight="normal" >500,000</text><text x="103.69999999999999" y="513" font-size="7.4" fill="#555" text-anchor="middle" font-weight="normal" >−100</text><text x="168.0" y="513" font-size="7.4" fill="#555" text-anchor="middle" font-weight="normal" >0</text><text x="232.29999999999998" y="513" font-size="7.4" fill="#555" text-anchor="middle" font-weight="normal" >100</text><text x="296.59999999999997" y="513" font-size="7.4" fill="#555" text-anchor="middle" font-weight="normal" >200</text><text x="0" y="0" font-size="6.8" fill="#555" text-anchor="middle" font-weight="normal" transform="translate(9 463.5) rotate(-90)">Total counts</text><text x="109" y="527.3" font-size="11" fill="#333" text-anchor="start" font-weight="normal" >Apparent zeta potential/mV</text><line x1="71" y1="505.2" x2="263.7" y2="505.2" stroke="#5aaab8" stroke-width="1.6"/><path d="M139.90 505.20 L140.23 504.66 L140.69 504.09 L141.23 503.32 L141.82 502.20 L142.42 500.55 L143.00 498.20 L143.57 494.92 L144.16 490.79 L144.76 486.14 L145.36 481.27 L145.94 476.52 L146.50 472.20 L147.05 468.10 L147.59 463.92 L148.12 459.85 L148.62 456.08 L149.09 452.80 L149.50 450.20 L149.84 448.35 L150.13 447.10 L150.37 446.35 L150.60 445.96 L150.83 445.82 L151.10 445.80 L151.39 445.86 L151.67 446.07 L151.96 446.54 L152.27 447.33 L152.62 448.52 L153.00 450.20 L153.43 452.46 L153.90 455.27 L154.40 458.47 L154.92 461.96 L155.46 465.57 L156.00 469.20 L156.54 473.05 L157.10 477.27 L157.66 481.64 L158.25 485.90 L158.86 489.84 L159.50 493.20 L160.23 496.03 L161.06 498.53 L161.92 500.70 L162.73 502.53 L163.41 504.03 L163.90 505.20" fill="none" stroke="#a890c0" stroke-width="1.6"/><path d="M174.80 505.20 L175.09 504.80 L175.48 504.27 L175.95 503.64 L176.46 502.90 L176.99 502.09 L177.50 501.20 L178.02 500.38 L178.58 499.64 L179.16 498.82 L179.72 497.76 L180.24 496.27 L180.70 494.20 L181.08 491.39 L181.40 487.94 L181.69 484.07 L181.95 480.01 L182.22 475.98 L182.50 472.20 L182.81 468.43 L183.13 464.44 L183.46 460.48 L183.77 456.79 L184.05 453.62 L184.30 451.20 L184.50 449.64 L184.65 448.77 L184.78 448.42 L184.90 448.40 L185.04 448.56 L185.20 448.70 L185.37 448.71 L185.54 448.70 L185.72 448.86 L185.93 449.37 L186.18 450.42 L186.50 452.20 L186.90 454.92 L187.37 458.46 L187.89 462.54 L188.44 466.89 L188.98 471.20 L189.50 475.20 L190.00 479.09 L190.50 483.13 L190.99 487.14 L191.49 490.94 L191.99 494.36 L192.50 497.20 L193.05 499.44 L193.64 501.20 L194.24 502.57 L194.79 503.64 L195.26 504.49 L195.60 505.20" fill="none" stroke="#4ea8b8" stroke-width="1.8"/><path d="M154.00 505.20 L154.39 503.67 L154.93 501.72 L155.56 499.32 L156.24 496.46 L156.91 493.09 L157.50 489.20 L158.03 484.44 L158.56 478.76 L159.06 472.57 L159.56 466.31 L160.03 460.38 L160.50 455.20 L160.96 450.62 L161.41 446.29 L161.85 442.29 L162.27 438.71 L162.65 435.65 L163.00 433.20 L163.29 431.46 L163.54 430.36 L163.76 429.79 L163.96 429.59 L164.17 429.64 L164.40 429.80 L164.64 430.16 L164.89 430.85 L165.13 431.79 L165.39 432.88 L165.68 434.05 L166.00 435.20 L166.37 436.40 L166.79 437.73 L167.23 439.14 L167.68 440.56 L168.11 441.93 L168.50 443.20 L168.85 444.23 L169.17 445.04 L169.48 445.80 L169.77 446.70 L170.08 447.90 L170.40 449.60 L170.74 451.79 L171.09 454.33 L171.44 457.17 L171.80 460.30 L172.15 463.65 L172.50 467.20 L172.84 471.21 L173.18 475.76 L173.52 480.55 L173.85 485.26 L174.18 489.58 L174.50 493.20 L174.83 496.15 L175.18 498.68 L175.53 500.82 L175.84 502.61 L176.11 504.06 L176.30 505.20" fill="none" stroke="#e02828" stroke-width="2"/><line x1="26" y1="405.1" x2="46.2" y2="405.1" stroke="#4ea8b8" stroke-width="2.2"/><text x="53.5" y="409.2" font-size="14.6" fill="#222" text-anchor="start" font-weight="normal" >(+) LNP</text><line x1="112" y1="405.1" x2="130.4" y2="405.1" stroke="#d03030" stroke-width="2.2"/><text x="139.3" y="409.2" font-size="14.6" fill="#222" text-anchor="start" font-weight="normal" >(+/-) LNP</text><line x1="207.4" y1="405.1" x2="225.2" y2="405.1" stroke="#a890c0" stroke-width="2.2"/><text x="232" y="409.2" font-size="14.6" fill="#222" text-anchor="start" font-weight="normal" >(-) LNP</text><defs>
<filter id="b06" x="-50%" y="-50%" width="200%" height="200%"><feGaussianBlur stdDeviation="0.85"/></filter>
<filter id="b1" x="-50%" y="-50%" width="200%" height="200%"><feGaussianBlur stdDeviation="1.2"/></filter>
<filter id="b3" x="-100%" y="-100%" width="300%" height="300%"><feGaussianBlur stdDeviation="3"/></filter>
<filter id="b6" x="-100%" y="-100%" width="300%" height="300%"><feGaussianBlur stdDeviation="6"/></filter>
<filter id="grain" x="0" y="0" width="100%" height="100%">
 <feTurbulence type="fractalNoise" baseFrequency="0.9" numOctaves="1" seed="3" result="n"/>
 <feColorMatrix in="n" type="matrix" values="0 0 0 0 0.5  0 0 0 0 0.5  0 0 0 0 0.5  0.35 0 0 0 -0.05" result="g"/>
 <feComposite in="g" in2="SourceGraphic" operator="in"/>
</filter>
<linearGradient id="gD1" x1="0" y1="0" x2="1" y2="1"><stop offset="0" stop-color="#1e1e1e"/><stop offset="0.45" stop-color="#474747"/><stop offset="1" stop-color="#959595"/></linearGradient><radialGradient id="rD3"><stop offset="0" stop-color="#858585"/><stop offset="0.75" stop-color="#a0a0a0"/><stop offset="1" stop-color="#8a8a8a"/></radialGradient>
<linearGradient id="gD2" x1="0" y1="0" x2="1" y2="1"><stop offset="0" stop-color="#363636"/><stop offset="1" stop-color="#444"/></linearGradient>
<linearGradient id="gD3" x1="0" y1="0" x2="1" y2="1"><stop offset="0" stop-color="#d6d6d6"/><stop offset="1" stop-color="#cdcdcd"/></linearGradient>
<linearGradient id="gG1" x1="0" y1="0.6" x2="1" y2="0"><stop offset="0" stop-color="#5a5a5a"/><stop offset="0.55" stop-color="#8e8e8e"/><stop offset="1" stop-color="#b4b4b4"/></linearGradient>
<linearGradient id="gG2" x1="0" y1="0" x2="1" y2="1"><stop offset="0" stop-color="#505050"/><stop offset="0.5" stop-color="#828282"/><stop offset="1" stop-color="#9a9a9a"/></linearGradient>
<linearGradient id="gG3" x1="0" y1="0" x2="1" y2="1"><stop offset="0" stop-color="#a0a0a0"/><stop offset="1" stop-color="#c0c0c0"/></linearGradient><filter id="mottle" x="0" y="0" width="100%" height="100%" color-interpolation-filters="sRGB"><feTurbulence type="fractalNoise" baseFrequency="0.09" numOctaves="3" seed="7"/><feColorMatrix type="matrix" values="0 0 0 0 0  0 0 0 0 0  0 0 0 0 0  1.4 0 0 0 -0.55"/></filter>
<clipPath id="cD1"><rect x="303.4" y="165.8" width="105.1" height="105.5"/></clipPath>
<clipPath id="cD2"><rect x="412.1" y="165.8" width="104.7" height="105.5"/></clipPath>
<clipPath id="cD3"><rect x="520.6" y="165.8" width="105.1" height="105.5"/></clipPath>
<clipPath id="cG1"><rect x="309" y="403.4" width="105.2" height="105.2"/></clipPath>
<clipPath id="cG2"><rect x="417" y="403.4" width="105.4" height="105.2"/></clipPath>
<clipPath id="cG3"><rect x="525.1" y="403.4" width="105.1" height="105.2"/></clipPath>
</defs><g clip-path="url(#cD1)"><rect x="303.4" y="165.8" width="105.1" height="105.5" fill="url(#gD1)"/><rect x="303.4" y="165.8" width="105.1" height="105.5" filter="url(#mottle)" opacity="0.22"/><circle cx="369.6" cy="179.2" r="6.0" fill="#d8d8d8" filter="url(#b06)"/><circle cx="355.7" cy="233.9" r="6.5" fill="#e8e8e8" filter="url(#b06)"/><rect x="303.4" y="165.8" width="105.1" height="105.5" fill="#000" filter="url(#grain)" opacity="0.6"/><text x="311.9" y="183.10000000000002" font-size="14" fill="#f4f4f4" text-anchor="start" font-weight="normal" >LNP<tspan font-size="11.5" dy="6">small</tspan></text><text x="306.4" y="263.8" font-size="5.5" font-weight="bold" fill="#111">100 nm</text><line x1="306.4" y1="267.8" x2="320.4" y2="267.8" stroke="#111" stroke-width="1.5"/></g><g clip-path="url(#cD2)"><rect x="412.1" y="165.8" width="104.7" height="105.5" fill="url(#gD2)"/><rect x="412.1" y="165.8" width="104.7" height="105.5" filter="url(#mottle)" opacity="0.22"/><circle cx="441.7" cy="219.9" r="18.43" fill="#222" filter="url(#b6)" opacity="0.85"/><circle cx="441.7" cy="219.9" r="9.7" fill="#e4e4e4" filter="url(#b06)"/><circle cx="475" cy="202.2" r="7.1" fill="#e8e8e8" filter="url(#b06)"/><circle cx="502.9" cy="232" r="6.7" fill="#eeeeee" filter="url(#b06)"/><circle cx="476.3" cy="213.8" r="2.8" fill="#1a1a1a" filter="url(#b06)"/><rect x="412.1" y="165.8" width="104.7" height="105.5" fill="#000" filter="url(#grain)" opacity="0.6"/><text x="420.6" y="183.10000000000002" font-size="14" fill="#f4f4f4" text-anchor="start" font-weight="normal" >LNP<tspan font-size="11.5" dy="6">middle</tspan></text><text x="415.1" y="263.8" font-size="5.5" font-weight="bold" fill="#111">100 nm</text><line x1="415.1" y1="267.8" x2="429.1" y2="267.8" stroke="#111" stroke-width="1.5"/></g><g clip-path="url(#cD3)"><rect x="520.6" y="165.8" width="105.1" height="105.5" fill="url(#gD3)"/><ellipse cx="590" cy="215" rx="26" ry="18" transform="rotate(35 590 215)" fill="#777" opacity="0.45" filter="url(#b6)"/><circle cx="607.8" cy="164.2" r="13.6" fill="#444" opacity="0.55" filter="url(#b1)"/><circle cx="567.6" cy="209.2" r="19.4" fill="#444" opacity="0.55" filter="url(#b1)"/><circle cx="597.5" cy="229.3" r="16.2" fill="#444" opacity="0.55" filter="url(#b1)"/><circle cx="606.6" cy="163" r="13" fill="url(#rD3)" stroke="#555" stroke-width="0.9" filter="url(#b06)"/><circle cx="566.4" cy="208" r="18.8" fill="url(#rD3)" stroke="#505050" stroke-width="1" filter="url(#b06)"/><circle cx="596.3" cy="228.1" r="15.6" fill="url(#rD3)" stroke="#4a4a4a" stroke-width="1" filter="url(#b06)"/><rect x="520.6" y="165.8" width="105.1" height="105.5" fill="#000" filter="url(#grain)" opacity="0.6"/><text x="529.1" y="183.10000000000002" font-size="14" fill="#f4f4f4" text-anchor="start" font-weight="normal" >LNP<tspan font-size="11.5" dy="6">large</tspan></text><text x="523.6" y="263.8" font-size="5.5" font-weight="bold" fill="#111">200 nm</text><line x1="523.6" y1="267.8" x2="537.6" y2="267.8" stroke="#111" stroke-width="1.5"/></g><g clip-path="url(#cG1)"><rect x="309" y="403.4" width="105.2" height="105.2" fill="url(#gG1)"/><rect x="309" y="403.4" width="105.2" height="105.2" filter="url(#mottle)" opacity="0.22"/><ellipse cx="335" cy="450" rx="30" ry="40" fill="#333" opacity="0.5" filter="url(#b6)"/><circle cx="330.1" cy="435.8" r="15.83" fill="#000" filter="url(#b6)" opacity="0.85"/><circle cx="347.7" cy="460.4" r="16.96" fill="#111" filter="url(#b6)" opacity="0.85"/><circle cx="388.5" cy="489.2" r="12.11" fill="#222" filter="url(#b6)" opacity="0.85"/><circle cx="330.1" cy="435.8" r="8.33" fill="#c4c4c4" filter="url(#b06)"/><circle cx="347.7" cy="460.4" r="8.924999999999999" fill="#cdcdcd" filter="url(#b06)"/><circle cx="388.5" cy="489.2" r="6.375" fill="#d4d4d4" filter="url(#b06)"/><rect x="309" y="403.4" width="105.2" height="105.2" fill="#000" filter="url(#grain)" opacity="0.6"/><text x="312" y="420.0" font-size="14" fill="#f4f4f4" text-anchor="start" font-weight="normal" >(+) LNP</text><text x="312" y="501.4" font-size="5.5" font-weight="bold" fill="#111">100 nm</text><line x1="312" y1="505.4" x2="326" y2="505.4" stroke="#111" stroke-width="1.5"/></g><g clip-path="url(#cG2)"><rect x="417" y="403.4" width="105.4" height="105.2" fill="url(#gG2)"/><rect x="417" y="403.4" width="105.4" height="105.2" filter="url(#mottle)" opacity="0.22"/><circle cx="425" cy="405" r="12" fill="#222" filter="url(#b3)"/><circle cx="426.9" cy="435" r="10.50" fill="#444" filter="url(#b6)" opacity="0.85"/><circle cx="449.4" cy="441.4" r="16.15" fill="#444" filter="url(#b6)" opacity="0.85"/><circle cx="438.8" cy="470.2" r="14.53" fill="#444" filter="url(#b6)" opacity="0.85"/><circle cx="474" cy="462.5" r="17.76" fill="#444" filter="url(#b6)" opacity="0.85"/><circle cx="470.4" cy="487" r="15.34" fill="#444" filter="url(#b6)" opacity="0.85"/><circle cx="426.9" cy="435" r="5.5249999999999995" fill="#c8c8c8" filter="url(#b06)"/><circle cx="449.4" cy="441.4" r="8.5" fill="#d0d0d0" filter="url(#b06)"/><circle cx="447.2" cy="455.4" r="4.675" fill="#d0d0d0" filter="url(#b06)"/><circle cx="438.8" cy="470.2" r="7.6499999999999995" fill="#d4d4d4" filter="url(#b06)"/><circle cx="459.9" cy="472" r="3.8249999999999997" fill="#ccc" filter="url(#b06)"/><circle cx="474" cy="462.5" r="9.35" fill="#d4d4d4" filter="url(#b06)"/><circle cx="497.8" cy="437.9" r="5.5249999999999995" fill="#d0d0d0" filter="url(#b06)"/><circle cx="505.6" cy="466.7" r="6.8" fill="#d0d0d0" filter="url(#b06)"/><circle cx="470.4" cy="487" r="8.075" fill="#d4d4d4" filter="url(#b06)"/><circle cx="487.3" cy="481" r="6.375" fill="#d0d0d0" filter="url(#b06)"/><circle cx="420.5" cy="457.5" r="2.975" fill="#c8c8c8" filter="url(#b06)"/><circle cx="520.3" cy="463.9" r="4.25" fill="#ccc" filter="url(#b06)"/><circle cx="438" cy="416" r="5.1" fill="#c0c0c0" filter="url(#b06)"/><rect x="417" y="403.4" width="105.4" height="105.2" fill="#000" filter="url(#grain)" opacity="0.6"/><text x="420" y="420.0" font-size="14" fill="#f4f4f4" text-anchor="start" font-weight="normal" >(+/-) LNP</text><text x="420" y="501.4" font-size="5.5" font-weight="bold" fill="#111">100 nm</text><line x1="420" y1="505.4" x2="434" y2="505.4" stroke="#111" stroke-width="1.5"/></g><g clip-path="url(#cG3)"><rect x="525.1" y="403.4" width="105.1" height="105.2" fill="url(#gG3)"/><rect x="525.1" y="403.4" width="105.1" height="105.2" filter="url(#mottle)" opacity="0.22"/><circle cx="545.6" cy="443.5" r="12.11" fill="#111" filter="url(#b6)" opacity="0.85"/><circle cx="543.8" cy="458.2" r="13.73" fill="#111" filter="url(#b6)" opacity="0.85"/><circle cx="580.8" cy="449.8" r="8.07" fill="#666" filter="url(#b6)" opacity="0.85"/><circle cx="593" cy="476.5" r="9.69" fill="#333" filter="url(#b6)" opacity="0.85"/><circle cx="609.2" cy="470.9" r="14.53" fill="#333" filter="url(#b6)" opacity="0.85"/><circle cx="545.6" cy="443.5" r="6.375" fill="#c8c8c8" filter="url(#b06)"/><circle cx="543.8" cy="458.2" r="7.225" fill="#cfcfcf" filter="url(#b06)"/><circle cx="580.8" cy="449.8" r="4.25" fill="#d0d0d0" filter="url(#b06)"/><circle cx="593" cy="476.5" r="5.1" fill="#d4d4d4" filter="url(#b06)"/><circle cx="609.2" cy="470.9" r="7.6499999999999995" fill="#d4d4d4" filter="url(#b06)"/><circle cx="546.6" cy="483.3" r="1.7" fill="#ddd" filter="url(#b06)"/><circle cx="533.3" cy="497.6" r="3.4" fill="#ddd" filter="url(#b06)"/><rect x="525.1" y="403.4" width="105.1" height="105.2" fill="#000" filter="url(#grain)" opacity="0.6"/><text x="528.1" y="420.0" font-size="14" fill="#f4f4f4" text-anchor="start" font-weight="normal" >(-) LNP</text><text x="528.1" y="501.4" font-size="5.5" font-weight="bold" fill="#111">100 nm</text><line x1="528.1" y1="505.4" x2="542.1" y2="505.4" stroke="#111" stroke-width="1.5"/></g><line x1="24" y1="534.5" x2="24" y2="697.3" stroke="#999" stroke-width="1.2"/><path d="M21.8 535.5 L24 531.5 L26.2 535.5 Z" fill="#222"/><line x1="24" y1="697.3" x2="179.1" y2="697.3" stroke="#999" stroke-width="1.2"/><path d="M178.1 695.0999999999999 L182.1 697.3 L178.1 699.5 Z" fill="#222"/><path d="M33.80 587.97 L34.30 587.96 L34.80 587.95 L35.30 587.94 L35.80 587.93 L36.30 587.92 L36.80 587.91 L37.30 587.90 L37.80 587.89 L38.30 587.88 L38.80 587.86 L39.30 587.85 L39.80 587.84 L40.30 587.82 L40.80 587.80 L41.30 587.79 L41.80 587.77 L42.30 587.75 L42.80 587.73 L43.30 587.71 L43.80 587.69 L44.30 587.67 L44.80 587.65 L45.30 587.62 L45.80 587.60 L46.30 587.57 L46.80 587.55 L47.30 587.52 L47.80 587.49 L48.30 587.46 L48.80 587.42 L49.30 587.39 L49.80 587.35 L50.30 587.32 L50.80 587.28 L51.30 587.24 L51.80 587.20 L52.30 587.15 L52.80 587.11 L53.30 587.06 L53.80 587.01 L54.30 586.96 L54.80 586.91 L55.30 586.86 L55.80 586.80 L56.30 586.74 L56.80 586.68 L57.30 586.62 L57.80 586.55 L58.30 586.48 L58.80 586.41 L59.30 586.34 L59.80 586.27 L60.30 586.19 L60.80 586.11 L61.30 586.03 L61.80 585.94 L62.30 585.85 L62.80 585.76 L63.30 585.67 L63.80 585.57 L64.30 585.47 L64.80 585.36 L65.30 585.26 L65.80 585.15 L66.30 585.03 L66.80 584.92 L67.30 584.80 L67.80 584.67 L68.30 584.54 L68.80 584.41 L69.30 584.27 L69.80 584.13 L70.30 583.99 L70.80 583.83 L71.30 583.68 L71.80 583.52 L72.30 583.35 L72.80 583.18 L73.30 583.00 L73.80 582.81 L74.30 582.62 L74.80 582.42 L75.30 582.21 L75.80 581.99 L76.30 581.76 L76.80 581.53 L77.30 581.28 L77.80 581.02 L78.30 580.74 L78.80 580.46 L79.30 580.16 L79.80 579.84 L80.30 579.51 L80.80 579.16 L81.30 578.79 L81.80 578.40 L82.30 577.99 L82.80 577.55 L83.30 577.09 L83.80 576.61 L84.30 576.10 L84.80 575.56 L85.30 574.99 L85.80 574.40 L86.30 573.77 L86.80 573.11 L87.30 572.41 L87.80 571.68 L88.30 570.92 L88.80 570.12 L89.30 569.29 L89.80 568.43 L90.30 567.53 L90.80 566.60 L91.30 565.64 L91.80 564.65 L92.30 563.64 L92.80 562.60 L93.30 561.54 L93.80 560.47 L94.30 559.39 L94.80 558.30 L95.30 557.22 L95.80 556.14 L96.30 555.07 L96.80 554.03 L97.30 553.02 L97.80 552.05 L98.30 551.13 L98.80 550.27 L99.30 549.49 L99.80 548.79 L100.30 548.20 L100.80 547.74 L101.30 547.40 L101.80 547.22 L102.30 547.28 L102.80 547.52 L103.30 547.87 L103.80 548.32 L104.30 548.84 L104.80 549.44 L105.30 550.10 L105.80 550.81 L106.30 551.57 L106.80 552.37 L107.30 553.21 L107.80 554.07 L108.30 554.96 L108.80 555.87 L109.30 556.79 L109.80 557.73 L110.30 558.66 L110.80 559.60 L111.30 560.53 L111.80 561.46 L112.30 562.38 L112.80 563.29 L113.30 564.18 L113.80 565.06 L114.30 565.91 L114.80 566.75 L115.30 567.57 L115.80 568.37 L116.30 569.14 L116.80 569.89 L117.30 570.61 L117.80 571.31 L118.30 571.98 L118.80 572.63 L119.30 573.26 L119.80 573.85 L120.30 574.43 L120.80 574.98 L121.30 575.51 L121.80 576.01 L122.30 576.49 L122.80 576.95 L123.30 577.39 L123.80 577.81 L124.30 578.21 L124.80 578.59 L125.30 578.95 L125.80 579.30 L126.30 579.63 L126.80 579.94 L127.30 580.24 L127.80 580.52 L128.30 580.80 L128.80 581.06 L129.30 581.30 L129.80 581.54 L130.30 581.77 L130.80 581.98 L131.30 582.19 L131.80 582.39 L132.30 582.58 L132.80 582.76 L133.30 582.94 L133.80 583.10 L134.30 583.27 L134.80 583.42 L135.30 583.57 L135.80 583.71 L136.30 583.85 L136.80 583.99 L137.30 584.12 L137.80 584.24 L138.30 584.36 L138.80 584.48 L139.30 584.60 L139.80 584.71 L140.30 584.81 L140.80 584.92 L141.30 585.02 L141.80 585.11 L142.30 585.21 L142.80 585.30 L143.30 585.39 L143.80 585.48 L144.30 585.56 L144.80 585.64 L145.30 585.72 L145.80 585.80 L146.30 585.87 L146.80 585.95 L147.30 586.02 L147.80 586.09 L148.30 586.15 L148.80 586.22 L149.30 586.28 L149.80 586.34 L150.30 586.40 L150.80 586.46 L151.30 586.52 L151.80 586.57 L152.30 586.63 L152.80 586.68 L153.30 586.73 L153.80 586.78 L154.30 586.82 L154.80 586.87 L155.30 586.91 L155.80 586.96 L156.30 587.00 L156.80 587.04 L157.30 587.08 L157.80 587.12 L158.30 587.15 L158.80 587.19 L159.30 587.22 L159.80 587.26 L160.30 587.29 L160.80 587.32 L161.30 587.35 L161.80 587.38 L162.30 587.41 L162.80 587.44 L163.30 587.46 L163.80 587.49 L164.30 587.51 L164.80 587.54 L165.30 587.56 L165.80 587.58 L166.30 587.60 L166.80 587.62 L167.30 587.64 L167.80 587.66 L168.30 587.68 L168.80 587.70 L169.30 587.71 L169.80 587.73 L170.30 587.75 L170.80 587.76 L171.30 587.78 L171.80 587.79 L172.30 587.80 L172.80 587.82 L173.30 587.83 L173.80 587.84 L174.30 587.85 L174.80 587.86 L175.30 587.87 L175.80 587.88 L176.30 587.89 L176.80 587.90 L177.30 587.91 L177.80 587.92 L178.30 587.93 L178.80 587.94 L179.30 587.94 L179.80 587.95 L180.30 587.96 L180.80 587.96 L181.30 587.97 L181.80 587.98 L182.30 587.98 L182.80 587.99 L183.30 587.99 L183.80 588.00 L184.30 588.00 L184.80 588.01 L185.30 588.01 L185.80 588.02 L186.30 588.02 L186.80 588.03 L187.30 588.03 L187.80 588.03 L188.30 588.04 L188.80 588.04 L189.30 588.04 L189.4 588.1 L33.8 588.1 Z" fill="#8dbdee" fill-opacity="0.82" stroke="none"/><path d="M33.80 587.97 L34.30 587.96 L34.80 587.95 L35.30 587.94 L35.80 587.93 L36.30 587.92 L36.80 587.91 L37.30 587.90 L37.80 587.89 L38.30 587.88 L38.80 587.86 L39.30 587.85 L39.80 587.84 L40.30 587.82 L40.80 587.80 L41.30 587.79 L41.80 587.77 L42.30 587.75 L42.80 587.73 L43.30 587.71 L43.80 587.69 L44.30 587.67 L44.80 587.65 L45.30 587.62 L45.80 587.60 L46.30 587.57 L46.80 587.55 L47.30 587.52 L47.80 587.49 L48.30 587.46 L48.80 587.42 L49.30 587.39 L49.80 587.35 L50.30 587.32 L50.80 587.28 L51.30 587.24 L51.80 587.20 L52.30 587.15 L52.80 587.11 L53.30 587.06 L53.80 587.01 L54.30 586.96 L54.80 586.91 L55.30 586.86 L55.80 586.80 L56.30 586.74 L56.80 586.68 L57.30 586.62 L57.80 586.55 L58.30 586.48 L58.80 586.41 L59.30 586.34 L59.80 586.27 L60.30 586.19 L60.80 586.11 L61.30 586.03 L61.80 585.94 L62.30 585.85 L62.80 585.76 L63.30 585.67 L63.80 585.57 L64.30 585.47 L64.80 585.36 L65.30 585.26 L65.80 585.15 L66.30 585.03 L66.80 584.92 L67.30 584.80 L67.80 584.67 L68.30 584.54 L68.80 584.41 L69.30 584.27 L69.80 584.13 L70.30 583.99 L70.80 583.83 L71.30 583.68 L71.80 583.52 L72.30 583.35 L72.80 583.18 L73.30 583.00 L73.80 582.81 L74.30 582.62 L74.80 582.42 L75.30 582.21 L75.80 581.99 L76.30 581.76 L76.80 581.53 L77.30 581.28 L77.80 581.02 L78.30 580.74 L78.80 580.46 L79.30 580.16 L79.80 579.84 L80.30 579.51 L80.80 579.16 L81.30 578.79 L81.80 578.40 L82.30 577.99 L82.80 577.55 L83.30 577.09 L83.80 576.61 L84.30 576.10 L84.80 575.56 L85.30 574.99 L85.80 574.40 L86.30 573.77 L86.80 573.11 L87.30 572.41 L87.80 571.68 L88.30 570.92 L88.80 570.12 L89.30 569.29 L89.80 568.43 L90.30 567.53 L90.80 566.60 L91.30 565.64 L91.80 564.65 L92.30 563.64 L92.80 562.60 L93.30 561.54 L93.80 560.47 L94.30 559.39 L94.80 558.30 L95.30 557.22 L95.80 556.14 L96.30 555.07 L96.80 554.03 L97.30 553.02 L97.80 552.05 L98.30 551.13 L98.80 550.27 L99.30 549.49 L99.80 548.79 L100.30 548.20 L100.80 547.74 L101.30 547.40 L101.80 547.22 L102.30 547.28 L102.80 547.52 L103.30 547.87 L103.80 548.32 L104.30 548.84 L104.80 549.44 L105.30 550.10 L105.80 550.81 L106.30 551.57 L106.80 552.37 L107.30 553.21 L107.80 554.07 L108.30 554.96 L108.80 555.87 L109.30 556.79 L109.80 557.73 L110.30 558.66 L110.80 559.60 L111.30 560.53 L111.80 561.46 L112.30 562.38 L112.80 563.29 L113.30 564.18 L113.80 565.06 L114.30 565.91 L114.80 566.75 L115.30 567.57 L115.80 568.37 L116.30 569.14 L116.80 569.89 L117.30 570.61 L117.80 571.31 L118.30 571.98 L118.80 572.63 L119.30 573.26 L119.80 573.85 L120.30 574.43 L120.80 574.98 L121.30 575.51 L121.80 576.01 L122.30 576.49 L122.80 576.95 L123.30 577.39 L123.80 577.81 L124.30 578.21 L124.80 578.59 L125.30 578.95 L125.80 579.30 L126.30 579.63 L126.80 579.94 L127.30 580.24 L127.80 580.52 L128.30 580.80 L128.80 581.06 L129.30 581.30 L129.80 581.54 L130.30 581.77 L130.80 581.98 L131.30 582.19 L131.80 582.39 L132.30 582.58 L132.80 582.76 L133.30 582.94 L133.80 583.10 L134.30 583.27 L134.80 583.42 L135.30 583.57 L135.80 583.71 L136.30 583.85 L136.80 583.99 L137.30 584.12 L137.80 584.24 L138.30 584.36 L138.80 584.48 L139.30 584.60 L139.80 584.71 L140.30 584.81 L140.80 584.92 L141.30 585.02 L141.80 585.11 L142.30 585.21 L142.80 585.30 L143.30 585.39 L143.80 585.48 L144.30 585.56 L144.80 585.64 L145.30 585.72 L145.80 585.80 L146.30 585.87 L146.80 585.95 L147.30 586.02 L147.80 586.09 L148.30 586.15 L148.80 586.22 L149.30 586.28 L149.80 586.34 L150.30 586.40 L150.80 586.46 L151.30 586.52 L151.80 586.57 L152.30 586.63 L152.80 586.68 L153.30 586.73 L153.80 586.78 L154.30 586.82 L154.80 586.87 L155.30 586.91 L155.80 586.96 L156.30 587.00 L156.80 587.04 L157.30 587.08 L157.80 587.12 L158.30 587.15 L158.80 587.19 L159.30 587.22 L159.80 587.26 L160.30 587.29 L160.80 587.32 L161.30 587.35 L161.80 587.38 L162.30 587.41 L162.80 587.44 L163.30 587.46 L163.80 587.49 L164.30 587.51 L164.80 587.54 L165.30 587.56 L165.80 587.58 L166.30 587.60 L166.80 587.62 L167.30 587.64 L167.80 587.66 L168.30 587.68 L168.80 587.70 L169.30 587.71 L169.80 587.73 L170.30 587.75 L170.80 587.76 L171.30 587.78 L171.80 587.79 L172.30 587.80 L172.80 587.82 L173.30 587.83 L173.80 587.84 L174.30 587.85 L174.80 587.86 L175.30 587.87 L175.80 587.88 L176.30 587.89 L176.80 587.90 L177.30 587.91 L177.80 587.92 L178.30 587.93 L178.80 587.94 L179.30 587.94 L179.80 587.95 L180.30 587.96 L180.80 587.96 L181.30 587.97 L181.80 587.98 L182.30 587.98 L182.80 587.99 L183.30 587.99 L183.80 588.00 L184.30 588.00 L184.80 588.01 L185.30 588.01 L185.80 588.02 L186.30 588.02 L186.80 588.03 L187.30 588.03 L187.80 588.03 L188.30 588.04 L188.80 588.04 L189.30 588.04" fill="none" stroke="#4d94d8" stroke-width="0.9"/><path d="M33.80 613.20 L34.30 613.20 L34.80 613.20 L35.30 613.20 L35.80 613.19 L36.30 613.19 L36.80 613.19 L37.30 613.19 L37.80 613.19 L38.30 613.19 L38.80 613.19 L39.30 613.19 L39.80 613.19 L40.30 613.19 L40.80 613.19 L41.30 613.18 L41.80 613.18 L42.30 613.18 L42.80 613.18 L43.30 613.18 L43.80 613.17 L44.30 613.17 L44.80 613.17 L45.30 613.16 L45.80 613.16 L46.30 613.16 L46.80 613.15 L47.30 613.15 L47.80 613.14 L48.30 613.14 L48.80 613.13 L49.30 613.13 L49.80 613.12 L50.30 613.11 L50.80 613.10 L51.30 613.09 L51.80 613.08 L52.30 613.07 L52.80 613.06 L53.30 613.05 L53.80 613.04 L54.30 613.02 L54.80 613.01 L55.30 612.99 L55.80 612.98 L56.30 612.96 L56.80 612.94 L57.30 612.92 L57.80 612.90 L58.30 612.87 L58.80 612.85 L59.30 612.82 L59.80 612.79 L60.30 612.76 L60.80 612.72 L61.30 612.69 L61.80 612.65 L62.30 612.61 L62.80 612.57 L63.30 612.52 L63.80 612.47 L64.30 612.42 L64.80 612.37 L65.30 612.31 L65.80 612.25 L66.30 612.19 L66.80 612.13 L67.30 612.06 L67.80 611.98 L68.30 611.90 L68.80 611.82 L69.30 611.74 L69.80 611.64 L70.30 611.55 L70.80 611.45 L71.30 611.34 L71.80 611.23 L72.30 611.11 L72.80 610.98 L73.30 610.84 L73.80 610.70 L74.30 610.54 L74.80 610.37 L75.30 610.19 L75.80 609.99 L76.30 609.78 L76.80 609.54 L77.30 609.28 L77.80 608.99 L78.30 608.67 L78.80 608.32 L79.30 607.92 L79.80 607.48 L80.30 606.98 L80.80 606.43 L81.30 605.80 L81.80 605.11 L82.30 604.33 L82.80 603.47 L83.30 602.51 L83.80 601.45 L84.30 600.28 L84.80 599.00 L85.30 597.59 L85.80 596.07 L86.30 594.44 L86.80 592.68 L87.30 590.82 L87.80 588.85 L88.30 586.80 L88.80 584.68 L89.30 582.52 L89.80 580.33 L90.30 578.16 L90.80 576.05 L91.30 574.02 L91.80 572.14 L92.30 570.46 L92.80 569.04 L93.30 567.95 L93.80 567.29 L94.30 567.32 L94.80 567.85 L95.30 568.68 L95.80 569.73 L96.30 570.98 L96.80 572.39 L97.30 573.92 L97.80 575.55 L98.30 577.26 L98.80 579.01 L99.30 580.79 L99.80 582.58 L100.30 584.36 L100.80 586.12 L101.30 587.84 L101.80 589.51 L102.30 591.12 L102.80 592.68 L103.30 594.16 L103.80 595.57 L104.30 596.90 L104.80 598.16 L105.30 599.34 L105.80 600.44 L106.30 601.47 L106.80 602.42 L107.30 603.30 L107.80 604.11 L108.30 604.86 L108.80 605.55 L109.30 606.18 L109.80 606.76 L110.30 607.28 L110.80 607.76 L111.30 608.20 L111.80 608.60 L112.30 608.97 L112.80 609.30 L113.30 609.60 L113.80 609.88 L114.30 610.13 L114.80 610.36 L115.30 610.57 L115.80 610.76 L116.30 610.93 L116.80 611.09 L117.30 611.24 L117.80 611.38 L118.30 611.50 L118.80 611.62 L119.30 611.73 L119.80 611.83 L120.30 611.92 L120.80 612.01 L121.30 612.09 L121.80 612.16 L122.30 612.23 L122.80 612.30 L123.30 612.36 L123.80 612.42 L124.30 612.47 L124.80 612.52 L125.30 612.57 L125.80 612.61 L126.30 612.65 L126.80 612.69 L127.30 612.73 L127.80 612.76 L128.30 612.79 L128.80 612.82 L129.30 612.85 L129.80 612.87 L130.30 612.90 L130.80 612.92 L131.30 612.94 L131.80 612.96 L132.30 612.98 L132.80 613.00 L133.30 613.01 L133.80 613.03 L134.30 613.04 L134.80 613.05 L135.30 613.07 L135.80 613.08 L136.30 613.09 L136.80 613.10 L137.30 613.10 L137.80 613.11 L138.30 613.12 L138.80 613.13 L139.30 613.13 L139.80 613.14 L140.30 613.14 L140.80 613.15 L141.30 613.15 L141.80 613.16 L142.30 613.16 L142.80 613.16 L143.30 613.17 L143.80 613.17 L144.30 613.17 L144.80 613.18 L145.30 613.18 L145.80 613.18 L146.30 613.18 L146.80 613.18 L147.30 613.19 L147.80 613.19 L148.30 613.19 L148.80 613.19 L149.30 613.19 L149.80 613.19 L150.30 613.19 L150.80 613.19 L151.30 613.19 L151.80 613.19 L152.30 613.19 L152.80 613.20 L153.30 613.20 L153.80 613.20 L154.30 613.20 L154.80 613.20 L155.30 613.20 L155.80 613.20 L156.30 613.20 L156.80 613.20 L157.30 613.20 L157.80 613.20 L158.30 613.20 L158.80 613.20 L159.30 613.20 L159.80 613.20 L160.30 613.20 L160.80 613.20 L161.30 613.20 L161.80 613.20 L162.30 613.20 L162.80 613.20 L163.30 613.20 L163.80 613.20 L164.30 613.20 L164.80 613.20 L165.30 613.20 L165.80 613.20 L166.30 613.20 L166.80 613.20 L167.30 613.20 L167.80 613.20 L168.30 613.20 L168.80 613.20 L169.30 613.20 L169.80 613.20 L170.30 613.20 L170.80 613.20 L171.30 613.20 L171.80 613.20 L172.30 613.20 L172.80 613.20 L173.30 613.20 L173.80 613.20 L174.30 613.20 L174.80 613.20 L175.30 613.20 L175.80 613.20 L176.30 613.20 L176.80 613.20 L177.30 613.20 L177.80 613.20 L178.30 613.20 L178.80 613.20 L179.30 613.20 L179.80 613.20 L180.30 613.20 L180.80 613.20 L181.30 613.20 L181.80 613.20 L182.30 613.20 L182.80 613.20 L183.30 613.20 L183.80 613.20 L184.30 613.20 L184.80 613.20 L185.30 613.20 L185.80 613.20 L186.30 613.20 L186.80 613.20 L187.30 613.20 L187.80 613.20 L188.30 613.20 L188.80 613.20 L189.30 613.20 L189.4 613.2 L33.8 613.2 Z" fill="#f29c98" fill-opacity="0.82" stroke="none"/><path d="M33.80 613.20 L34.30 613.20 L34.80 613.20 L35.30 613.20 L35.80 613.19 L36.30 613.19 L36.80 613.19 L37.30 613.19 L37.80 613.19 L38.30 613.19 L38.80 613.19 L39.30 613.19 L39.80 613.19 L40.30 613.19 L40.80 613.19 L41.30 613.18 L41.80 613.18 L42.30 613.18 L42.80 613.18 L43.30 613.18 L43.80 613.17 L44.30 613.17 L44.80 613.17 L45.30 613.16 L45.80 613.16 L46.30 613.16 L46.80 613.15 L47.30 613.15 L47.80 613.14 L48.30 613.14 L48.80 613.13 L49.30 613.13 L49.80 613.12 L50.30 613.11 L50.80 613.10 L51.30 613.09 L51.80 613.08 L52.30 613.07 L52.80 613.06 L53.30 613.05 L53.80 613.04 L54.30 613.02 L54.80 613.01 L55.30 612.99 L55.80 612.98 L56.30 612.96 L56.80 612.94 L57.30 612.92 L57.80 612.90 L58.30 612.87 L58.80 612.85 L59.30 612.82 L59.80 612.79 L60.30 612.76 L60.80 612.72 L61.30 612.69 L61.80 612.65 L62.30 612.61 L62.80 612.57 L63.30 612.52 L63.80 612.47 L64.30 612.42 L64.80 612.37 L65.30 612.31 L65.80 612.25 L66.30 612.19 L66.80 612.13 L67.30 612.06 L67.80 611.98 L68.30 611.90 L68.80 611.82 L69.30 611.74 L69.80 611.64 L70.30 611.55 L70.80 611.45 L71.30 611.34 L71.80 611.23 L72.30 611.11 L72.80 610.98 L73.30 610.84 L73.80 610.70 L74.30 610.54 L74.80 610.37 L75.30 610.19 L75.80 609.99 L76.30 609.78 L76.80 609.54 L77.30 609.28 L77.80 608.99 L78.30 608.67 L78.80 608.32 L79.30 607.92 L79.80 607.48 L80.30 606.98 L80.80 606.43 L81.30 605.80 L81.80 605.11 L82.30 604.33 L82.80 603.47 L83.30 602.51 L83.80 601.45 L84.30 600.28 L84.80 599.00 L85.30 597.59 L85.80 596.07 L86.30 594.44 L86.80 592.68 L87.30 590.82 L87.80 588.85 L88.30 586.80 L88.80 584.68 L89.30 582.52 L89.80 580.33 L90.30 578.16 L90.80 576.05 L91.30 574.02 L91.80 572.14 L92.30 570.46 L92.80 569.04 L93.30 567.95 L93.80 567.29 L94.30 567.32 L94.80 567.85 L95.30 568.68 L95.80 569.73 L96.30 570.98 L96.80 572.39 L97.30 573.92 L97.80 575.55 L98.30 577.26 L98.80 579.01 L99.30 580.79 L99.80 582.58 L100.30 584.36 L100.80 586.12 L101.30 587.84 L101.80 589.51 L102.30 591.12 L102.80 592.68 L103.30 594.16 L103.80 595.57 L104.30 596.90 L104.80 598.16 L105.30 599.34 L105.80 600.44 L106.30 601.47 L106.80 602.42 L107.30 603.30 L107.80 604.11 L108.30 604.86 L108.80 605.55 L109.30 606.18 L109.80 606.76 L110.30 607.28 L110.80 607.76 L111.30 608.20 L111.80 608.60 L112.30 608.97 L112.80 609.30 L113.30 609.60 L113.80 609.88 L114.30 610.13 L114.80 610.36 L115.30 610.57 L115.80 610.76 L116.30 610.93 L116.80 611.09 L117.30 611.24 L117.80 611.38 L118.30 611.50 L118.80 611.62 L119.30 611.73 L119.80 611.83 L120.30 611.92 L120.80 612.01 L121.30 612.09 L121.80 612.16 L122.30 612.23 L122.80 612.30 L123.30 612.36 L123.80 612.42 L124.30 612.47 L124.80 612.52 L125.30 612.57 L125.80 612.61 L126.30 612.65 L126.80 612.69 L127.30 612.73 L127.80 612.76 L128.30 612.79 L128.80 612.82 L129.30 612.85 L129.80 612.87 L130.30 612.90 L130.80 612.92 L131.30 612.94 L131.80 612.96 L132.30 612.98 L132.80 613.00 L133.30 613.01 L133.80 613.03 L134.30 613.04 L134.80 613.05 L135.30 613.07 L135.80 613.08 L136.30 613.09 L136.80 613.10 L137.30 613.10 L137.80 613.11 L138.30 613.12 L138.80 613.13 L139.30 613.13 L139.80 613.14 L140.30 613.14 L140.80 613.15 L141.30 613.15 L141.80 613.16 L142.30 613.16 L142.80 613.16 L143.30 613.17 L143.80 613.17 L144.30 613.17 L144.80 613.18 L145.30 613.18 L145.80 613.18 L146.30 613.18 L146.80 613.18 L147.30 613.19 L147.80 613.19 L148.30 613.19 L148.80 613.19 L149.30 613.19 L149.80 613.19 L150.30 613.19 L150.80 613.19 L151.30 613.19 L151.80 613.19 L152.30 613.19 L152.80 613.20 L153.30 613.20 L153.80 613.20 L154.30 613.20 L154.80 613.20 L155.30 613.20 L155.80 613.20 L156.30 613.20 L156.80 613.20 L157.30 613.20 L157.80 613.20 L158.30 613.20 L158.80 613.20 L159.30 613.20 L159.80 613.20 L160.30 613.20 L160.80 613.20 L161.30 613.20 L161.80 613.20 L162.30 613.20 L162.80 613.20 L163.30 613.20 L163.80 613.20 L164.30 613.20 L164.80 613.20 L165.30 613.20 L165.80 613.20 L166.30 613.20 L166.80 613.20 L167.30 613.20 L167.80 613.20 L168.30 613.20 L168.80 613.20 L169.30 613.20 L169.80 613.20 L170.30 613.20 L170.80 613.20 L171.30 613.20 L171.80 613.20 L172.30 613.20 L172.80 613.20 L173.30 613.20 L173.80 613.20 L174.30 613.20 L174.80 613.20 L175.30 613.20 L175.80 613.20 L176.30 613.20 L176.80 613.20 L177.30 613.20 L177.80 613.20 L178.30 613.20 L178.80 613.20 L179.30 613.20 L179.80 613.20 L180.30 613.20 L180.80 613.20 L181.30 613.20 L181.80 613.20 L182.30 613.20 L182.80 613.20 L183.30 613.20 L183.80 613.20 L184.30 613.20 L184.80 613.20 L185.30 613.20 L185.80 613.20 L186.30 613.20 L186.80 613.20 L187.30 613.20 L187.80 613.20 L188.30 613.20 L188.80 613.20 L189.30 613.20" fill="none" stroke="#d8606a" stroke-width="0.9"/><path d="M33.80 637.10 L34.30 637.08 L34.80 637.06 L35.30 637.04 L35.80 637.02 L36.30 636.99 L36.80 636.97 L37.30 636.94 L37.80 636.92 L38.30 636.89 L38.80 636.86 L39.30 636.83 L39.80 636.80 L40.30 636.77 L40.80 636.73 L41.30 636.70 L41.80 636.66 L42.30 636.62 L42.80 636.58 L43.30 636.53 L43.80 636.49 L44.30 636.44 L44.80 636.39 L45.30 636.34 L45.80 636.29 L46.30 636.23 L46.80 636.17 L47.30 636.11 L47.80 636.05 L48.30 635.99 L48.80 635.92 L49.30 635.85 L49.80 635.78 L50.30 635.70 L50.80 635.63 L51.30 635.55 L51.80 635.46 L52.30 635.38 L52.80 635.29 L53.30 635.20 L53.80 635.11 L54.30 635.01 L54.80 634.91 L55.30 634.81 L55.80 634.70 L56.30 634.59 L56.80 634.48 L57.30 634.37 L57.80 634.25 L58.30 634.13 L58.80 634.01 L59.30 633.89 L59.80 633.76 L60.30 633.63 L60.80 633.49 L61.30 633.36 L61.80 633.22 L62.30 633.07 L62.80 632.93 L63.30 632.78 L63.80 632.63 L64.30 632.48 L64.80 632.32 L65.30 632.16 L65.80 632.00 L66.30 631.83 L66.80 631.66 L67.30 631.49 L67.80 631.31 L68.30 631.13 L68.80 630.94 L69.30 630.74 L69.80 630.54 L70.30 630.34 L70.80 630.12 L71.30 629.89 L71.80 629.65 L72.30 629.40 L72.80 629.13 L73.30 628.84 L73.80 628.54 L74.30 628.21 L74.80 627.85 L75.30 627.46 L75.80 627.04 L76.30 626.59 L76.80 626.09 L77.30 625.54 L77.80 624.95 L78.30 624.30 L78.80 623.59 L79.30 622.82 L79.80 621.98 L80.30 621.06 L80.80 620.08 L81.30 619.01 L81.80 617.87 L82.30 616.66 L82.80 615.36 L83.30 613.99 L83.80 612.56 L84.30 611.08 L84.80 609.56 L85.30 608.01 L85.80 606.43 L86.30 604.85 L86.80 603.26 L87.30 601.70 L87.80 600.18 L88.30 598.74 L88.80 597.39 L89.30 596.17 L89.80 595.12 L90.30 594.27 L90.80 593.67 L91.30 593.40 L91.80 593.65 L92.30 594.33 L92.80 595.27 L93.30 596.42 L93.80 597.74 L94.30 599.20 L94.80 600.78 L95.30 602.43 L95.80 604.14 L96.30 605.89 L96.80 607.66 L97.30 609.43 L97.80 611.18 L98.30 612.91 L98.80 614.59 L99.30 616.22 L99.80 617.79 L100.30 619.29 L100.80 620.72 L101.30 622.08 L101.80 623.35 L102.30 624.55 L102.80 625.67 L103.30 626.72 L103.80 627.69 L104.30 628.58 L104.80 629.40 L105.30 630.16 L105.80 630.85 L106.30 631.48 L106.80 632.05 L107.30 632.57 L107.80 633.05 L108.30 633.47 L108.80 633.86 L109.30 634.20 L109.80 634.52 L110.30 634.80 L110.80 635.05 L111.30 635.28 L111.80 635.48 L112.30 635.66 L112.80 635.82 L113.30 635.97 L113.80 636.10 L114.30 636.22 L114.80 636.33 L115.30 636.42 L115.80 636.51 L116.30 636.59 L116.80 636.66 L117.30 636.72 L117.80 636.78 L118.30 636.83 L118.80 636.88 L119.30 636.92 L119.80 636.96 L120.30 637.00 L120.80 637.03 L121.30 637.06 L121.80 637.09 L122.30 637.11 L122.80 637.14 L123.30 637.16 L123.80 637.18 L124.30 637.20 L124.80 637.21 L125.30 637.23 L125.80 637.24 L126.30 637.26 L126.80 637.27 L127.30 637.28 L127.80 637.29 L128.30 637.30 L128.80 637.31 L129.30 637.32 L129.80 637.32 L130.30 637.33 L130.80 637.34 L131.30 637.34 L131.80 637.35 L132.30 637.35 L132.80 637.36 L133.30 637.36 L133.80 637.36 L134.30 637.37 L134.80 637.37 L135.30 637.37 L135.80 637.38 L136.30 637.38 L136.80 637.38 L137.30 637.38 L137.80 637.38 L138.30 637.39 L138.80 637.39 L139.30 637.39 L139.80 637.39 L140.30 637.39 L140.80 637.39 L141.30 637.39 L141.80 637.39 L142.30 637.39 L142.80 637.39 L143.30 637.39 L143.80 637.40 L144.30 637.40 L144.80 637.40 L145.30 637.40 L145.80 637.40 L146.30 637.40 L146.80 637.40 L147.30 637.40 L147.80 637.40 L148.30 637.40 L148.80 637.40 L149.30 637.40 L149.80 637.40 L150.30 637.40 L150.80 637.40 L151.30 637.40 L151.80 637.40 L152.30 637.40 L152.80 637.40 L153.30 637.40 L153.80 637.40 L154.30 637.40 L154.80 637.40 L155.30 637.40 L155.80 637.40 L156.30 637.40 L156.80 637.40 L157.30 637.40 L157.80 637.40 L158.30 637.40 L158.80 637.40 L159.30 637.40 L159.80 637.40 L160.30 637.40 L160.80 637.40 L161.30 637.40 L161.80 637.40 L162.30 637.40 L162.80 637.40 L163.30 637.40 L163.80 637.40 L164.30 637.40 L164.80 637.40 L165.30 637.40 L165.80 637.40 L166.30 637.40 L166.80 637.40 L167.30 637.40 L167.80 637.40 L168.30 637.40 L168.80 637.40 L169.30 637.40 L169.80 637.40 L170.30 637.40 L170.80 637.40 L171.30 637.40 L171.80 637.40 L172.30 637.40 L172.80 637.40 L173.30 637.40 L173.80 637.40 L174.30 637.40 L174.80 637.40 L175.30 637.40 L175.80 637.40 L176.30 637.40 L176.80 637.40 L177.30 637.40 L177.80 637.40 L178.30 637.40 L178.80 637.40 L179.30 637.40 L179.80 637.40 L180.30 637.40 L180.80 637.40 L181.30 637.40 L181.80 637.40 L182.30 637.40 L182.80 637.40 L183.30 637.40 L183.80 637.40 L184.30 637.40 L184.80 637.40 L185.30 637.40 L185.80 637.40 L186.30 637.40 L186.80 637.40 L187.30 637.40 L187.80 637.40 L188.30 637.40 L188.80 637.40 L189.30 637.40 L189.4 637.4 L33.8 637.4 Z" fill="#f9c894" fill-opacity="0.82" stroke="none"/><path d="M33.80 637.10 L34.30 637.08 L34.80 637.06 L35.30 637.04 L35.80 637.02 L36.30 636.99 L36.80 636.97 L37.30 636.94 L37.80 636.92 L38.30 636.89 L38.80 636.86 L39.30 636.83 L39.80 636.80 L40.30 636.77 L40.80 636.73 L41.30 636.70 L41.80 636.66 L42.30 636.62 L42.80 636.58 L43.30 636.53 L43.80 636.49 L44.30 636.44 L44.80 636.39 L45.30 636.34 L45.80 636.29 L46.30 636.23 L46.80 636.17 L47.30 636.11 L47.80 636.05 L48.30 635.99 L48.80 635.92 L49.30 635.85 L49.80 635.78 L50.30 635.70 L50.80 635.63 L51.30 635.55 L51.80 635.46 L52.30 635.38 L52.80 635.29 L53.30 635.20 L53.80 635.11 L54.30 635.01 L54.80 634.91 L55.30 634.81 L55.80 634.70 L56.30 634.59 L56.80 634.48 L57.30 634.37 L57.80 634.25 L58.30 634.13 L58.80 634.01 L59.30 633.89 L59.80 633.76 L60.30 633.63 L60.80 633.49 L61.30 633.36 L61.80 633.22 L62.30 633.07 L62.80 632.93 L63.30 632.78 L63.80 632.63 L64.30 632.48 L64.80 632.32 L65.30 632.16 L65.80 632.00 L66.30 631.83 L66.80 631.66 L67.30 631.49 L67.80 631.31 L68.30 631.13 L68.80 630.94 L69.30 630.74 L69.80 630.54 L70.30 630.34 L70.80 630.12 L71.30 629.89 L71.80 629.65 L72.30 629.40 L72.80 629.13 L73.30 628.84 L73.80 628.54 L74.30 628.21 L74.80 627.85 L75.30 627.46 L75.80 627.04 L76.30 626.59 L76.80 626.09 L77.30 625.54 L77.80 624.95 L78.30 624.30 L78.80 623.59 L79.30 622.82 L79.80 621.98 L80.30 621.06 L80.80 620.08 L81.30 619.01 L81.80 617.87 L82.30 616.66 L82.80 615.36 L83.30 613.99 L83.80 612.56 L84.30 611.08 L84.80 609.56 L85.30 608.01 L85.80 606.43 L86.30 604.85 L86.80 603.26 L87.30 601.70 L87.80 600.18 L88.30 598.74 L88.80 597.39 L89.30 596.17 L89.80 595.12 L90.30 594.27 L90.80 593.67 L91.30 593.40 L91.80 593.65 L92.30 594.33 L92.80 595.27 L93.30 596.42 L93.80 597.74 L94.30 599.20 L94.80 600.78 L95.30 602.43 L95.80 604.14 L96.30 605.89 L96.80 607.66 L97.30 609.43 L97.80 611.18 L98.30 612.91 L98.80 614.59 L99.30 616.22 L99.80 617.79 L100.30 619.29 L100.80 620.72 L101.30 622.08 L101.80 623.35 L102.30 624.55 L102.80 625.67 L103.30 626.72 L103.80 627.69 L104.30 628.58 L104.80 629.40 L105.30 630.16 L105.80 630.85 L106.30 631.48 L106.80 632.05 L107.30 632.57 L107.80 633.05 L108.30 633.47 L108.80 633.86 L109.30 634.20 L109.80 634.52 L110.30 634.80 L110.80 635.05 L111.30 635.28 L111.80 635.48 L112.30 635.66 L112.80 635.82 L113.30 635.97 L113.80 636.10 L114.30 636.22 L114.80 636.33 L115.30 636.42 L115.80 636.51 L116.30 636.59 L116.80 636.66 L117.30 636.72 L117.80 636.78 L118.30 636.83 L118.80 636.88 L119.30 636.92 L119.80 636.96 L120.30 637.00 L120.80 637.03 L121.30 637.06 L121.80 637.09 L122.30 637.11 L122.80 637.14 L123.30 637.16 L123.80 637.18 L124.30 637.20 L124.80 637.21 L125.30 637.23 L125.80 637.24 L126.30 637.26 L126.80 637.27 L127.30 637.28 L127.80 637.29 L128.30 637.30 L128.80 637.31 L129.30 637.32 L129.80 637.32 L130.30 637.33 L130.80 637.34 L131.30 637.34 L131.80 637.35 L132.30 637.35 L132.80 637.36 L133.30 637.36 L133.80 637.36 L134.30 637.37 L134.80 637.37 L135.30 637.37 L135.80 637.38 L136.30 637.38 L136.80 637.38 L137.30 637.38 L137.80 637.38 L138.30 637.39 L138.80 637.39 L139.30 637.39 L139.80 637.39 L140.30 637.39 L140.80 637.39 L141.30 637.39 L141.80 637.39 L142.30 637.39 L142.80 637.39 L143.30 637.39 L143.80 637.40 L144.30 637.40 L144.80 637.40 L145.30 637.40 L145.80 637.40 L146.30 637.40 L146.80 637.40 L147.30 637.40 L147.80 637.40 L148.30 637.40 L148.80 637.40 L149.30 637.40 L149.80 637.40 L150.30 637.40 L150.80 637.40 L151.30 637.40 L151.80 637.40 L152.30 637.40 L152.80 637.40 L153.30 637.40 L153.80 637.40 L154.30 637.40 L154.80 637.40 L155.30 637.40 L155.80 637.40 L156.30 637.40 L156.80 637.40 L157.30 637.40 L157.80 637.40 L158.30 637.40 L158.80 637.40 L159.30 637.40 L159.80 637.40 L160.30 637.40 L160.80 637.40 L161.30 637.40 L161.80 637.40 L162.30 637.40 L162.80 637.40 L163.30 637.40 L163.80 637.40 L164.30 637.40 L164.80 637.40 L165.30 637.40 L165.80 637.40 L166.30 637.40 L166.80 637.40 L167.30 637.40 L167.80 637.40 L168.30 637.40 L168.80 637.40 L169.30 637.40 L169.80 637.40 L170.30 637.40 L170.80 637.40 L171.30 637.40 L171.80 637.40 L172.30 637.40 L172.80 637.40 L173.30 637.40 L173.80 637.40 L174.30 637.40 L174.80 637.40 L175.30 637.40 L175.80 637.40 L176.30 637.40 L176.80 637.40 L177.30 637.40 L177.80 637.40 L178.30 637.40 L178.80 637.40 L179.30 637.40 L179.80 637.40 L180.30 637.40 L180.80 637.40 L181.30 637.40 L181.80 637.40 L182.30 637.40 L182.80 637.40 L183.30 637.40 L183.80 637.40 L184.30 637.40 L184.80 637.40 L185.30 637.40 L185.80 637.40 L186.30 637.40 L186.80 637.40 L187.30 637.40 L187.80 637.40 L188.30 637.40 L188.80 637.40 L189.30 637.40" fill="none" stroke="#e8a65c" stroke-width="0.9"/><path d="M33.80 660.86 L34.30 660.82 L34.80 660.78 L35.30 660.73 L35.80 660.69 L36.30 660.64 L36.80 660.59 L37.30 660.54 L37.80 660.49 L38.30 660.43 L38.80 660.37 L39.30 660.31 L39.80 660.25 L40.30 660.19 L40.80 660.12 L41.30 660.05 L41.80 659.98 L42.30 659.90 L42.80 659.83 L43.30 659.75 L43.80 659.66 L44.30 659.58 L44.80 659.49 L45.30 659.40 L45.80 659.31 L46.30 659.21 L46.80 659.11 L47.30 659.01 L47.80 658.90 L48.30 658.79 L48.80 658.68 L49.30 658.57 L49.80 658.45 L50.30 658.33 L50.80 658.21 L51.30 658.09 L51.80 657.96 L52.30 657.83 L52.80 657.69 L53.30 657.56 L53.80 657.42 L54.30 657.28 L54.80 657.13 L55.30 656.99 L55.80 656.84 L56.30 656.69 L56.80 656.53 L57.30 656.38 L57.80 656.22 L58.30 656.06 L58.80 655.89 L59.30 655.72 L59.80 655.55 L60.30 655.38 L60.80 655.20 L61.30 655.02 L61.80 654.84 L62.30 654.64 L62.80 654.44 L63.30 654.24 L63.80 654.02 L64.30 653.79 L64.80 653.55 L65.30 653.29 L65.80 653.02 L66.30 652.72 L66.80 652.40 L67.30 652.05 L67.80 651.67 L68.30 651.25 L68.80 650.78 L69.30 650.27 L69.80 649.70 L70.30 649.08 L70.80 648.38 L71.30 647.62 L71.80 646.77 L72.30 645.84 L72.80 644.83 L73.30 643.72 L73.80 642.51 L74.30 641.21 L74.80 639.82 L75.30 638.33 L75.80 636.76 L76.30 635.12 L76.80 633.44 L77.30 631.72 L77.80 629.96 L78.30 628.20 L78.80 626.44 L79.30 624.73 L79.80 623.10 L80.30 621.57 L80.80 620.20 L81.30 619.02 L81.80 618.10 L82.30 617.50 L82.80 617.33 L83.30 617.84 L83.80 618.72 L84.30 619.87 L84.80 621.24 L85.30 622.78 L85.80 624.47 L86.30 626.25 L86.80 628.11 L87.30 630.00 L87.80 631.92 L88.30 633.83 L88.80 635.71 L89.30 637.56 L89.80 639.35 L90.30 641.07 L90.80 642.72 L91.30 644.28 L91.80 645.76 L92.30 647.14 L92.80 648.43 L93.30 649.63 L93.80 650.74 L94.30 651.77 L94.80 652.70 L95.30 653.56 L95.80 654.34 L96.30 655.05 L96.80 655.69 L97.30 656.27 L97.80 656.79 L98.30 657.26 L98.80 657.68 L99.30 658.05 L99.80 658.39 L100.30 658.69 L100.80 658.96 L101.30 659.20 L101.80 659.42 L102.30 659.61 L102.80 659.79 L103.30 659.94 L103.80 660.08 L104.30 660.21 L104.80 660.32 L105.30 660.43 L105.80 660.52 L106.30 660.61 L106.80 660.69 L107.30 660.76 L107.80 660.82 L108.30 660.88 L108.80 660.94 L109.30 660.99 L109.80 661.03 L110.30 661.08 L110.80 661.12 L111.30 661.15 L111.80 661.19 L112.30 661.22 L112.80 661.25 L113.30 661.27 L113.80 661.30 L114.30 661.32 L114.80 661.35 L115.30 661.37 L115.80 661.38 L116.30 661.40 L116.80 661.42 L117.30 661.43 L117.80 661.45 L118.30 661.46 L118.80 661.47 L119.30 661.48 L119.80 661.49 L120.30 661.50 L120.80 661.51 L121.30 661.52 L121.80 661.52 L122.30 661.53 L122.80 661.54 L123.30 661.54 L123.80 661.55 L124.30 661.55 L124.80 661.56 L125.30 661.56 L125.80 661.56 L126.30 661.57 L126.80 661.57 L127.30 661.57 L127.80 661.58 L128.30 661.58 L128.80 661.58 L129.30 661.58 L129.80 661.58 L130.30 661.59 L130.80 661.59 L131.30 661.59 L131.80 661.59 L132.30 661.59 L132.80 661.59 L133.30 661.59 L133.80 661.59 L134.30 661.59 L134.80 661.59 L135.30 661.59 L135.80 661.60 L136.30 661.60 L136.80 661.60 L137.30 661.60 L137.80 661.60 L138.30 661.60 L138.80 661.60 L139.30 661.60 L139.80 661.60 L140.30 661.60 L140.80 661.60 L141.30 661.60 L141.80 661.60 L142.30 661.60 L142.80 661.60 L143.30 661.60 L143.80 661.60 L144.30 661.60 L144.80 661.60 L145.30 661.60 L145.80 661.60 L146.30 661.60 L146.80 661.60 L147.30 661.60 L147.80 661.60 L148.30 661.60 L148.80 661.60 L149.30 661.60 L149.80 661.60 L150.30 661.60 L150.80 661.60 L151.30 661.60 L151.80 661.60 L152.30 661.60 L152.80 661.60 L153.30 661.60 L153.80 661.60 L154.30 661.60 L154.80 661.60 L155.30 661.60 L155.80 661.60 L156.30 661.60 L156.80 661.60 L157.30 661.60 L157.80 661.60 L158.30 661.60 L158.80 661.60 L159.30 661.60 L159.80 661.60 L160.30 661.60 L160.80 661.60 L161.30 661.60 L161.80 661.60 L162.30 661.60 L162.80 661.60 L163.30 661.60 L163.80 661.60 L164.30 661.60 L164.80 661.60 L165.30 661.60 L165.80 661.60 L166.30 661.60 L166.80 661.60 L167.30 661.60 L167.80 661.60 L168.30 661.60 L168.80 661.60 L169.30 661.60 L169.80 661.60 L170.30 661.60 L170.80 661.60 L171.30 661.60 L171.80 661.60 L172.30 661.60 L172.80 661.60 L173.30 661.60 L173.80 661.60 L174.30 661.60 L174.80 661.60 L175.30 661.60 L175.80 661.60 L176.30 661.60 L176.80 661.60 L177.30 661.60 L177.80 661.60 L178.30 661.60 L178.80 661.60 L179.30 661.60 L179.80 661.60 L180.30 661.60 L180.80 661.60 L181.30 661.60 L181.80 661.60 L182.30 661.60 L182.80 661.60 L183.30 661.60 L183.80 661.60 L184.30 661.60 L184.80 661.60 L185.30 661.60 L185.80 661.60 L186.30 661.60 L186.80 661.60 L187.30 661.60 L187.80 661.60 L188.30 661.60 L188.80 661.60 L189.30 661.60 L189.4 661.6 L33.8 661.6 Z" fill="#f6a0ee" fill-opacity="0.82" stroke="none"/><path d="M33.80 660.86 L34.30 660.82 L34.80 660.78 L35.30 660.73 L35.80 660.69 L36.30 660.64 L36.80 660.59 L37.30 660.54 L37.80 660.49 L38.30 660.43 L38.80 660.37 L39.30 660.31 L39.80 660.25 L40.30 660.19 L40.80 660.12 L41.30 660.05 L41.80 659.98 L42.30 659.90 L42.80 659.83 L43.30 659.75 L43.80 659.66 L44.30 659.58 L44.80 659.49 L45.30 659.40 L45.80 659.31 L46.30 659.21 L46.80 659.11 L47.30 659.01 L47.80 658.90 L48.30 658.79 L48.80 658.68 L49.30 658.57 L49.80 658.45 L50.30 658.33 L50.80 658.21 L51.30 658.09 L51.80 657.96 L52.30 657.83 L52.80 657.69 L53.30 657.56 L53.80 657.42 L54.30 657.28 L54.80 657.13 L55.30 656.99 L55.80 656.84 L56.30 656.69 L56.80 656.53 L57.30 656.38 L57.80 656.22 L58.30 656.06 L58.80 655.89 L59.30 655.72 L59.80 655.55 L60.30 655.38 L60.80 655.20 L61.30 655.02 L61.80 654.84 L62.30 654.64 L62.80 654.44 L63.30 654.24 L63.80 654.02 L64.30 653.79 L64.80 653.55 L65.30 653.29 L65.80 653.02 L66.30 652.72 L66.80 652.40 L67.30 652.05 L67.80 651.67 L68.30 651.25 L68.80 650.78 L69.30 650.27 L69.80 649.70 L70.30 649.08 L70.80 648.38 L71.30 647.62 L71.80 646.77 L72.30 645.84 L72.80 644.83 L73.30 643.72 L73.80 642.51 L74.30 641.21 L74.80 639.82 L75.30 638.33 L75.80 636.76 L76.30 635.12 L76.80 633.44 L77.30 631.72 L77.80 629.96 L78.30 628.20 L78.80 626.44 L79.30 624.73 L79.80 623.10 L80.30 621.57 L80.80 620.20 L81.30 619.02 L81.80 618.10 L82.30 617.50 L82.80 617.33 L83.30 617.84 L83.80 618.72 L84.30 619.87 L84.80 621.24 L85.30 622.78 L85.80 624.47 L86.30 626.25 L86.80 628.11 L87.30 630.00 L87.80 631.92 L88.30 633.83 L88.80 635.71 L89.30 637.56 L89.80 639.35 L90.30 641.07 L90.80 642.72 L91.30 644.28 L91.80 645.76 L92.30 647.14 L92.80 648.43 L93.30 649.63 L93.80 650.74 L94.30 651.77 L94.80 652.70 L95.30 653.56 L95.80 654.34 L96.30 655.05 L96.80 655.69 L97.30 656.27 L97.80 656.79 L98.30 657.26 L98.80 657.68 L99.30 658.05 L99.80 658.39 L100.30 658.69 L100.80 658.96 L101.30 659.20 L101.80 659.42 L102.30 659.61 L102.80 659.79 L103.30 659.94 L103.80 660.08 L104.30 660.21 L104.80 660.32 L105.30 660.43 L105.80 660.52 L106.30 660.61 L106.80 660.69 L107.30 660.76 L107.80 660.82 L108.30 660.88 L108.80 660.94 L109.30 660.99 L109.80 661.03 L110.30 661.08 L110.80 661.12 L111.30 661.15 L111.80 661.19 L112.30 661.22 L112.80 661.25 L113.30 661.27 L113.80 661.30 L114.30 661.32 L114.80 661.35 L115.30 661.37 L115.80 661.38 L116.30 661.40 L116.80 661.42 L117.30 661.43 L117.80 661.45 L118.30 661.46 L118.80 661.47 L119.30 661.48 L119.80 661.49 L120.30 661.50 L120.80 661.51 L121.30 661.52 L121.80 661.52 L122.30 661.53 L122.80 661.54 L123.30 661.54 L123.80 661.55 L124.30 661.55 L124.80 661.56 L125.30 661.56 L125.80 661.56 L126.30 661.57 L126.80 661.57 L127.30 661.57 L127.80 661.58 L128.30 661.58 L128.80 661.58 L129.30 661.58 L129.80 661.58 L130.30 661.59 L130.80 661.59 L131.30 661.59 L131.80 661.59 L132.30 661.59 L132.80 661.59 L133.30 661.59 L133.80 661.59 L134.30 661.59 L134.80 661.59 L135.30 661.59 L135.80 661.60 L136.30 661.60 L136.80 661.60 L137.30 661.60 L137.80 661.60 L138.30 661.60 L138.80 661.60 L139.30 661.60 L139.80 661.60 L140.30 661.60 L140.80 661.60 L141.30 661.60 L141.80 661.60 L142.30 661.60 L142.80 661.60 L143.30 661.60 L143.80 661.60 L144.30 661.60 L144.80 661.60 L145.30 661.60 L145.80 661.60 L146.30 661.60 L146.80 661.60 L147.30 661.60 L147.80 661.60 L148.30 661.60 L148.80 661.60 L149.30 661.60 L149.80 661.60 L150.30 661.60 L150.80 661.60 L151.30 661.60 L151.80 661.60 L152.30 661.60 L152.80 661.60 L153.30 661.60 L153.80 661.60 L154.30 661.60 L154.80 661.60 L155.30 661.60 L155.80 661.60 L156.30 661.60 L156.80 661.60 L157.30 661.60 L157.80 661.60 L158.30 661.60 L158.80 661.60 L159.30 661.60 L159.80 661.60 L160.30 661.60 L160.80 661.60 L161.30 661.60 L161.80 661.60 L162.30 661.60 L162.80 661.60 L163.30 661.60 L163.80 661.60 L164.30 661.60 L164.80 661.60 L165.30 661.60 L165.80 661.60 L166.30 661.60 L166.80 661.60 L167.30 661.60 L167.80 661.60 L168.30 661.60 L168.80 661.60 L169.30 661.60 L169.80 661.60 L170.30 661.60 L170.80 661.60 L171.30 661.60 L171.80 661.60 L172.30 661.60 L172.80 661.60 L173.30 661.60 L173.80 661.60 L174.30 661.60 L174.80 661.60 L175.30 661.60 L175.80 661.60 L176.30 661.60 L176.80 661.60 L177.30 661.60 L177.80 661.60 L178.30 661.60 L178.80 661.60 L179.30 661.60 L179.80 661.60 L180.30 661.60 L180.80 661.60 L181.30 661.60 L181.80 661.60 L182.30 661.60 L182.80 661.60 L183.30 661.60 L183.80 661.60 L184.30 661.60 L184.80 661.60 L185.30 661.60 L185.80 661.60 L186.30 661.60 L186.80 661.60 L187.30 661.60 L187.80 661.60 L188.30 661.60 L188.80 661.60 L189.30 661.60" fill="none" stroke="#dd68d2" stroke-width="0.9"/><path d="M33.80 685.92 L34.30 685.91 L34.80 685.90 L35.30 685.88 L35.80 685.87 L36.30 685.85 L36.80 685.83 L37.30 685.81 L37.80 685.79 L38.30 685.77 L38.80 685.75 L39.30 685.73 L39.80 685.70 L40.30 685.68 L40.80 685.65 L41.30 685.62 L41.80 685.59 L42.30 685.56 L42.80 685.53 L43.30 685.49 L43.80 685.45 L44.30 685.41 L44.80 685.37 L45.30 685.33 L45.80 685.28 L46.30 685.24 L46.80 685.19 L47.30 685.13 L47.80 685.08 L48.30 685.02 L48.80 684.96 L49.30 684.90 L49.80 684.84 L50.30 684.77 L50.80 684.70 L51.30 684.63 L51.80 684.55 L52.30 684.47 L52.80 684.39 L53.30 684.30 L53.80 684.21 L54.30 684.12 L54.80 684.03 L55.30 683.93 L55.80 683.82 L56.30 683.71 L56.80 683.60 L57.30 683.48 L57.80 683.36 L58.30 683.23 L58.80 683.09 L59.30 682.95 L59.80 682.80 L60.30 682.64 L60.80 682.46 L61.30 682.28 L61.80 682.09 L62.30 681.88 L62.80 681.66 L63.30 681.42 L63.80 681.15 L64.30 680.87 L64.80 680.56 L65.30 680.22 L65.80 679.84 L66.30 679.44 L66.80 678.99 L67.30 678.49 L67.80 677.95 L68.30 677.36 L68.80 676.71 L69.30 675.99 L69.80 675.21 L70.30 674.36 L70.80 673.43 L71.30 672.43 L71.80 671.34 L72.30 670.17 L72.80 668.91 L73.30 667.57 L73.80 666.15 L74.30 664.65 L74.80 663.08 L75.30 661.44 L75.80 659.75 L76.30 658.01 L76.80 656.25 L77.30 654.47 L77.80 652.70 L78.30 650.97 L78.80 649.29 L79.30 647.70 L79.80 646.24 L80.30 644.94 L80.80 643.85 L81.30 642.99 L81.80 642.43 L82.30 642.30 L82.80 642.71 L83.30 643.43 L83.80 644.38 L84.30 645.52 L84.80 646.81 L85.30 648.24 L85.80 649.76 L86.30 651.36 L86.80 653.00 L87.30 654.68 L87.80 656.37 L88.30 658.06 L88.80 659.73 L89.30 661.36 L89.80 662.96 L90.30 664.50 L90.80 665.98 L91.30 667.40 L91.80 668.75 L92.30 670.03 L92.80 671.23 L93.30 672.36 L93.80 673.42 L94.30 674.41 L94.80 675.32 L95.30 676.17 L95.80 676.95 L96.30 677.66 L96.80 678.32 L97.30 678.93 L97.80 679.48 L98.30 679.99 L98.80 680.45 L99.30 680.87 L99.80 681.25 L100.30 681.60 L100.80 681.92 L101.30 682.21 L101.80 682.48 L102.30 682.72 L102.80 682.94 L103.30 683.14 L103.80 683.33 L104.30 683.50 L104.80 683.66 L105.30 683.81 L105.80 683.94 L106.30 684.07 L106.80 684.18 L107.30 684.29 L107.80 684.39 L108.30 684.49 L108.80 684.58 L109.30 684.66 L109.80 684.74 L110.30 684.82 L110.80 684.89 L111.30 684.95 L111.80 685.02 L112.30 685.08 L112.80 685.13 L113.30 685.19 L113.80 685.24 L114.30 685.29 L114.80 685.33 L115.30 685.38 L115.80 685.42 L116.30 685.46 L116.80 685.50 L117.30 685.53 L117.80 685.56 L118.30 685.60 L118.80 685.63 L119.30 685.66 L119.80 685.68 L120.30 685.71 L120.80 685.73 L121.30 685.76 L121.80 685.78 L122.30 685.80 L122.80 685.82 L123.30 685.84 L123.80 685.85 L124.30 685.87 L124.80 685.88 L125.30 685.90 L125.80 685.91 L126.30 685.92 L126.80 685.94 L127.30 685.95 L127.80 685.96 L128.30 685.97 L128.80 685.98 L129.30 685.99 L129.80 685.99 L130.30 686.00 L130.80 686.01 L131.30 686.02 L131.80 686.02 L132.30 686.03 L132.80 686.03 L133.30 686.04 L133.80 686.04 L134.30 686.05 L134.80 686.05 L135.30 686.05 L135.80 686.06 L136.30 686.06 L136.80 686.06 L137.30 686.07 L137.80 686.07 L138.30 686.07 L138.80 686.07 L139.30 686.08 L139.80 686.08 L140.30 686.08 L140.80 686.08 L141.30 686.08 L141.80 686.08 L142.30 686.09 L142.80 686.09 L143.30 686.09 L143.80 686.09 L144.30 686.09 L144.80 686.09 L145.30 686.09 L145.80 686.09 L146.30 686.09 L146.80 686.09 L147.30 686.09 L147.80 686.09 L148.30 686.10 L148.80 686.10 L149.30 686.10 L149.80 686.10 L150.30 686.10 L150.80 686.10 L151.30 686.10 L151.80 686.10 L152.30 686.10 L152.80 686.10 L153.30 686.10 L153.80 686.10 L154.30 686.10 L154.80 686.10 L155.30 686.10 L155.80 686.10 L156.30 686.10 L156.80 686.10 L157.30 686.10 L157.80 686.10 L158.30 686.10 L158.80 686.10 L159.30 686.10 L159.80 686.10 L160.30 686.10 L160.80 686.10 L161.30 686.10 L161.80 686.10 L162.30 686.10 L162.80 686.10 L163.30 686.10 L163.80 686.10 L164.30 686.10 L164.80 686.10 L165.30 686.10 L165.80 686.10 L166.30 686.10 L166.80 686.10 L167.30 686.10 L167.80 686.10 L168.30 686.10 L168.80 686.10 L169.30 686.10 L169.80 686.10 L170.30 686.10 L170.80 686.10 L171.30 686.10 L171.80 686.10 L172.30 686.10 L172.80 686.10 L173.30 686.10 L173.80 686.10 L174.30 686.10 L174.80 686.10 L175.30 686.10 L175.80 686.10 L176.30 686.10 L176.80 686.10 L177.30 686.10 L177.80 686.10 L178.30 686.10 L178.80 686.10 L179.30 686.10 L179.80 686.10 L180.30 686.10 L180.80 686.10 L181.30 686.10 L181.80 686.10 L182.30 686.10 L182.80 686.10 L183.30 686.10 L183.80 686.10 L184.30 686.10 L184.80 686.10 L185.30 686.10 L185.80 686.10 L186.30 686.10 L186.80 686.10 L187.30 686.10 L187.80 686.10 L188.30 686.10 L188.80 686.10 L189.30 686.10 L189.4 686.1 L33.8 686.1 Z" fill="#9d94ee" fill-opacity="0.82" stroke="none"/><path d="M33.80 685.92 L34.30 685.91 L34.80 685.90 L35.30 685.88 L35.80 685.87 L36.30 685.85 L36.80 685.83 L37.30 685.81 L37.80 685.79 L38.30 685.77 L38.80 685.75 L39.30 685.73 L39.80 685.70 L40.30 685.68 L40.80 685.65 L41.30 685.62 L41.80 685.59 L42.30 685.56 L42.80 685.53 L43.30 685.49 L43.80 685.45 L44.30 685.41 L44.80 685.37 L45.30 685.33 L45.80 685.28 L46.30 685.24 L46.80 685.19 L47.30 685.13 L47.80 685.08 L48.30 685.02 L48.80 684.96 L49.30 684.90 L49.80 684.84 L50.30 684.77 L50.80 684.70 L51.30 684.63 L51.80 684.55 L52.30 684.47 L52.80 684.39 L53.30 684.30 L53.80 684.21 L54.30 684.12 L54.80 684.03 L55.30 683.93 L55.80 683.82 L56.30 683.71 L56.80 683.60 L57.30 683.48 L57.80 683.36 L58.30 683.23 L58.80 683.09 L59.30 682.95 L59.80 682.80 L60.30 682.64 L60.80 682.46 L61.30 682.28 L61.80 682.09 L62.30 681.88 L62.80 681.66 L63.30 681.42 L63.80 681.15 L64.30 680.87 L64.80 680.56 L65.30 680.22 L65.80 679.84 L66.30 679.44 L66.80 678.99 L67.30 678.49 L67.80 677.95 L68.30 677.36 L68.80 676.71 L69.30 675.99 L69.80 675.21 L70.30 674.36 L70.80 673.43 L71.30 672.43 L71.80 671.34 L72.30 670.17 L72.80 668.91 L73.30 667.57 L73.80 666.15 L74.30 664.65 L74.80 663.08 L75.30 661.44 L75.80 659.75 L76.30 658.01 L76.80 656.25 L77.30 654.47 L77.80 652.70 L78.30 650.97 L78.80 649.29 L79.30 647.70 L79.80 646.24 L80.30 644.94 L80.80 643.85 L81.30 642.99 L81.80 642.43 L82.30 642.30 L82.80 642.71 L83.30 643.43 L83.80 644.38 L84.30 645.52 L84.80 646.81 L85.30 648.24 L85.80 649.76 L86.30 651.36 L86.80 653.00 L87.30 654.68 L87.80 656.37 L88.30 658.06 L88.80 659.73 L89.30 661.36 L89.80 662.96 L90.30 664.50 L90.80 665.98 L91.30 667.40 L91.80 668.75 L92.30 670.03 L92.80 671.23 L93.30 672.36 L93.80 673.42 L94.30 674.41 L94.80 675.32 L95.30 676.17 L95.80 676.95 L96.30 677.66 L96.80 678.32 L97.30 678.93 L97.80 679.48 L98.30 679.99 L98.80 680.45 L99.30 680.87 L99.80 681.25 L100.30 681.60 L100.80 681.92 L101.30 682.21 L101.80 682.48 L102.30 682.72 L102.80 682.94 L103.30 683.14 L103.80 683.33 L104.30 683.50 L104.80 683.66 L105.30 683.81 L105.80 683.94 L106.30 684.07 L106.80 684.18 L107.30 684.29 L107.80 684.39 L108.30 684.49 L108.80 684.58 L109.30 684.66 L109.80 684.74 L110.30 684.82 L110.80 684.89 L111.30 684.95 L111.80 685.02 L112.30 685.08 L112.80 685.13 L113.30 685.19 L113.80 685.24 L114.30 685.29 L114.80 685.33 L115.30 685.38 L115.80 685.42 L116.30 685.46 L116.80 685.50 L117.30 685.53 L117.80 685.56 L118.30 685.60 L118.80 685.63 L119.30 685.66 L119.80 685.68 L120.30 685.71 L120.80 685.73 L121.30 685.76 L121.80 685.78 L122.30 685.80 L122.80 685.82 L123.30 685.84 L123.80 685.85 L124.30 685.87 L124.80 685.88 L125.30 685.90 L125.80 685.91 L126.30 685.92 L126.80 685.94 L127.30 685.95 L127.80 685.96 L128.30 685.97 L128.80 685.98 L129.30 685.99 L129.80 685.99 L130.30 686.00 L130.80 686.01 L131.30 686.02 L131.80 686.02 L132.30 686.03 L132.80 686.03 L133.30 686.04 L133.80 686.04 L134.30 686.05 L134.80 686.05 L135.30 686.05 L135.80 686.06 L136.30 686.06 L136.80 686.06 L137.30 686.07 L137.80 686.07 L138.30 686.07 L138.80 686.07 L139.30 686.08 L139.80 686.08 L140.30 686.08 L140.80 686.08 L141.30 686.08 L141.80 686.08 L142.30 686.09 L142.80 686.09 L143.30 686.09 L143.80 686.09 L144.30 686.09 L144.80 686.09 L145.30 686.09 L145.80 686.09 L146.30 686.09 L146.80 686.09 L147.30 686.09 L147.80 686.09 L148.30 686.10 L148.80 686.10 L149.30 686.10 L149.80 686.10 L150.30 686.10 L150.80 686.10 L151.30 686.10 L151.80 686.10 L152.30 686.10 L152.80 686.10 L153.30 686.10 L153.80 686.10 L154.30 686.10 L154.80 686.10 L155.30 686.10 L155.80 686.10 L156.30 686.10 L156.80 686.10 L157.30 686.10 L157.80 686.10 L158.30 686.10 L158.80 686.10 L159.30 686.10 L159.80 686.10 L160.30 686.10 L160.80 686.10 L161.30 686.10 L161.80 686.10 L162.30 686.10 L162.80 686.10 L163.30 686.10 L163.80 686.10 L164.30 686.10 L164.80 686.10 L165.30 686.10 L165.80 686.10 L166.30 686.10 L166.80 686.10 L167.30 686.10 L167.80 686.10 L168.30 686.10 L168.80 686.10 L169.30 686.10 L169.80 686.10 L170.30 686.10 L170.80 686.10 L171.30 686.10 L171.80 686.10 L172.30 686.10 L172.80 686.10 L173.30 686.10 L173.80 686.10 L174.30 686.10 L174.80 686.10 L175.30 686.10 L175.80 686.10 L176.30 686.10 L176.80 686.10 L177.30 686.10 L177.80 686.10 L178.30 686.10 L178.80 686.10 L179.30 686.10 L179.80 686.10 L180.30 686.10 L180.80 686.10 L181.30 686.10 L181.80 686.10 L182.30 686.10 L182.80 686.10 L183.30 686.10 L183.80 686.10 L184.30 686.10 L184.80 686.10 L185.30 686.10 L185.80 686.10 L186.30 686.10 L186.80 686.10 L187.30 686.10 L187.80 686.10 L188.30 686.10 L188.80 686.10 L189.30 686.10" fill="none" stroke="#5e54c8" stroke-width="0.9"/><line x1="33.8" y1="588.1" x2="189.4" y2="588.1" stroke="#4d94d8" stroke-width="0.9" opacity="0.8"/><line x1="33.8" y1="613.2" x2="189.4" y2="613.2" stroke="#d8606a" stroke-width="0.9" opacity="0.8"/><line x1="33.8" y1="637.4" x2="189.4" y2="637.4" stroke="#e8a65c" stroke-width="0.9" opacity="0.8"/><line x1="33.8" y1="661.6" x2="189.4" y2="661.6" stroke="#dd68d2" stroke-width="0.9" opacity="0.8"/><line x1="33.8" y1="686.1" x2="189.4" y2="686.1" stroke="#5e54c8" stroke-width="0.9" opacity="0.8"/><line x1="33.8" y1="686.2" x2="189.4" y2="686.2" stroke="#8888c8" stroke-width="1.8"/><path d="M33.8 535.4 L314.9 535.4" fill="none" stroke="#555" stroke-width="1"/><path d="M314.9 535.4 L314.9 686.2" fill="none" stroke="#999" stroke-width="1"/><path d="M314.9 686.2 L189.4 686.2" fill="none" stroke="#333" stroke-width="1"/><line x1="33.8" y1="535.4" x2="33.8" y2="686.2" stroke="#8a8aa8" stroke-width="1.1"/><line x1="189.4" y1="535.4" x2="189.4" y2="690.2" stroke="#333" stroke-width="1"/><text x="179.5" y="580.1" font-size="13.5" fill="#222" text-anchor="end" font-weight="normal" >LNP<tspan font-size="11" dy="5">large</tspan></text><text x="187" y="606.7" font-size="13.5" fill="#222" text-anchor="end" font-weight="normal" >LNP<tspan font-size="11" dy="5">middle</tspan></text><text x="181.2" y="630.5" font-size="13.5" fill="#222" text-anchor="end" font-weight="normal" >LNP<tspan font-size="11" dy="5">small</tspan></text><text x="188.1" y="658" font-size="14" fill="#222" text-anchor="end" font-weight="normal" >Naked miRNA</text><text x="167.6" y="681.1" font-size="14" fill="#222" text-anchor="end" font-weight="normal" >PBS</text><path d="M189.4 571.5 L269 571.5 L269 585.1 L189.4 585.1" fill="none" stroke="#3b8fe0" stroke-width="1.8"/><line x1="269" y1="578.3" x2="280.3" y2="578.3" stroke="#3b8fe0" stroke-width="1.6"/><line x1="280.3" y1="575.3" x2="280.3" y2="581.3" stroke="#3b8fe0" stroke-width="1.6"/><circle cx="268" cy="578.3" r="1.1" fill="#3b8fe0"/><circle cx="274.65" cy="578.3" r="1.1" fill="#3b8fe0"/><path d="M189.4 597 L210.6 597 L210.6 610 L189.4 610" fill="none" stroke="#e0383c" stroke-width="1.8"/><line x1="210.6" y1="603.5" x2="211.5" y2="603.5" stroke="#e0383c" stroke-width="1.6"/><line x1="211.5" y1="600.5" x2="211.5" y2="606.5" stroke="#e0383c" stroke-width="1.6"/><circle cx="209.6" cy="603.5" r="1.1" fill="#e0383c"/><circle cx="211.05" cy="603.5" r="1.1" fill="#e0383c"/><path d="M189.4 621.9 L204.6 621.9 L204.6 635.3 L189.4 635.3" fill="none" stroke="#f0a048" stroke-width="1.8"/><line x1="204.6" y1="628.5999999999999" x2="206" y2="628.5999999999999" stroke="#f0a048" stroke-width="1.6"/><line x1="206" y1="625.5999999999999" x2="206" y2="631.5999999999999" stroke="#f0a048" stroke-width="1.6"/><circle cx="203.6" cy="628.5999999999999" r="1.1" fill="#f0a048"/><circle cx="205.3" cy="628.5999999999999" r="1.1" fill="#f0a048"/><path d="M189.4 649.3 L191.2 649.3 L191.2 656.9 L189.4 656.9" fill="none" stroke="#e048c8" stroke-width="1.8"/><path d="M189.4 673.8 L191 673.8 L191 681.8 L189.4 681.8" fill="none" stroke="#2828d8" stroke-width="1.8"/><path d="M216.5 603.3 L223 603.3 L223 628.4 L216.5 628.4" fill="none" stroke="#444" stroke-width="1"/><path d="M282 578.4 L286.8 578.4 L286.8 616.9 L242.4 616.9 M242.4 603.9 L242.4 629.2" fill="none" stroke="#444" stroke-width="1"/><text x="0" y="0" font-size="9.5" fill="#333" text-anchor="middle" transform="translate(226 618) rotate(90)">ns</text><path d="M294.80 591.30 L299.60 591.30 M296.00 589.22 L298.40 593.38 M298.40 589.22 L296.00 593.38 " stroke="#111" stroke-width="1.25" fill="none"/><path d="M294.80 598.00 L299.60 598.00 M296.00 595.92 L298.40 600.08 M298.40 595.92 L296.00 600.08 " stroke="#111" stroke-width="1.25" fill="none"/><path d="M294.80 604.60 L299.60 604.60 M296.00 602.52 L298.40 606.68 M298.40 602.52 L296.00 606.68 " stroke="#111" stroke-width="1.25" fill="none"/><line x1="189.4" y1="686.2" x2="189.4" y2="689.2" stroke="#333" stroke-width="0.9"/><text x="189.4" y="699.7" font-size="10.5" fill="#333" text-anchor="middle" font-weight="normal" >0</text><line x1="231.2" y1="686.2" x2="231.2" y2="689.2" stroke="#333" stroke-width="0.9"/><text x="231.2" y="699.7" font-size="10.5" fill="#333" text-anchor="middle" font-weight="normal" >10K</text><line x1="273.4" y1="686.2" x2="273.4" y2="689.2" stroke="#333" stroke-width="0.9"/><text x="273.4" y="699.7" font-size="10.5" fill="#333" text-anchor="middle" font-weight="normal" >20K</text><line x1="314.9" y1="686.2" x2="314.9" y2="689.2" stroke="#333" stroke-width="0.9"/><text x="314.9" y="699.7" font-size="10.5" fill="#333" text-anchor="middle" font-weight="normal" >30K</text><text x="0" y="0" font-size="15" fill="#222" text-anchor="middle" font-weight="normal" transform="translate(19.3 613.6) rotate(-90)">Count</text><text x="107.8" y="717.4" font-size="15.2" fill="#222" text-anchor="middle" font-weight="normal" >PC5.5-FRET-A</text><text x="251.8" y="717.4" font-size="15" fill="#222" text-anchor="middle" font-weight="normal" >MFI</text><line x1="344.9" y1="534.5" x2="344.9" y2="697.3" stroke="#999" stroke-width="1.2"/><path d="M342.7 535.5 L344.9 531.5 L347.09999999999997 535.5 Z" fill="#222"/><line x1="344.9" y1="697.3" x2="499.7" y2="697.3" stroke="#999" stroke-width="1.2"/><path d="M498.7 695.0999999999999 L502.7 697.3 L498.7 699.5 Z" fill="#222"/><path d="M352.40 585.04 L352.90 585.03 L353.40 585.02 L353.90 585.02 L354.40 585.01 L354.90 585.00 L355.40 584.99 L355.90 584.98 L356.40 584.97 L356.90 584.96 L357.40 584.95 L357.90 584.94 L358.40 584.92 L358.90 584.91 L359.40 584.89 L359.90 584.87 L360.40 584.85 L360.90 584.83 L361.40 584.81 L361.90 584.79 L362.40 584.77 L362.90 584.74 L363.40 584.71 L363.90 584.68 L364.40 584.65 L364.90 584.62 L365.40 584.58 L365.90 584.54 L366.40 584.50 L366.90 584.46 L367.40 584.41 L367.90 584.36 L368.40 584.31 L368.90 584.25 L369.40 584.20 L369.90 584.13 L370.40 584.07 L370.90 584.00 L371.40 583.92 L371.90 583.85 L372.40 583.76 L372.90 583.67 L373.40 583.58 L373.90 583.48 L374.40 583.37 L374.90 583.26 L375.40 583.13 L375.90 583.00 L376.40 582.86 L376.90 582.70 L377.40 582.54 L377.90 582.36 L378.40 582.16 L378.90 581.95 L379.40 581.71 L379.90 581.45 L380.40 581.17 L380.90 580.86 L381.40 580.52 L381.90 580.15 L382.40 579.73 L382.90 579.27 L383.40 578.77 L383.90 578.21 L384.40 577.60 L384.90 576.93 L385.40 576.18 L385.90 575.37 L386.40 574.48 L386.90 573.52 L387.40 572.46 L387.90 571.32 L388.40 570.09 L388.90 568.77 L389.40 567.36 L389.90 565.86 L390.40 564.27 L390.90 562.61 L391.40 560.86 L391.90 559.05 L392.40 557.19 L392.90 555.29 L393.40 553.37 L393.90 551.45 L394.40 549.55 L394.90 547.70 L395.40 545.92 L395.90 544.26 L396.40 542.75 L396.90 541.43 L397.40 540.34 L397.90 539.54 L398.40 539.13 L398.90 539.30 L399.40 539.83 L399.90 540.60 L400.40 541.57 L400.90 542.71 L401.40 543.98 L401.90 545.36 L402.40 546.83 L402.90 548.37 L403.40 549.96 L403.90 551.59 L404.40 553.22 L404.90 554.87 L405.40 556.50 L405.90 558.10 L406.40 559.68 L406.90 561.21 L407.40 562.70 L407.90 564.14 L408.40 565.51 L408.90 566.83 L409.40 568.08 L409.90 569.26 L410.40 570.38 L410.90 571.44 L411.40 572.42 L411.90 573.35 L412.40 574.21 L412.90 575.01 L413.40 575.76 L413.90 576.45 L414.40 577.08 L414.90 577.67 L415.40 578.22 L415.90 578.72 L416.40 579.17 L416.90 579.60 L417.40 579.98 L417.90 580.34 L418.40 580.67 L418.90 580.97 L419.40 581.24 L419.90 581.50 L420.40 581.73 L420.90 581.95 L421.40 582.14 L421.90 582.33 L422.40 582.50 L422.90 582.65 L423.40 582.80 L423.90 582.93 L424.40 583.06 L424.90 583.18 L425.40 583.29 L425.90 583.39 L426.40 583.49 L426.90 583.58 L427.40 583.66 L427.90 583.74 L428.40 583.82 L428.90 583.89 L429.40 583.96 L429.90 584.02 L430.40 584.08 L430.90 584.14 L431.40 584.19 L431.90 584.24 L432.40 584.29 L432.90 584.34 L433.40 584.38 L433.90 584.42 L434.40 584.46 L434.90 584.50 L435.40 584.54 L435.90 584.57 L436.40 584.60 L436.90 584.63 L437.40 584.66 L437.90 584.69 L438.40 584.71 L438.90 584.74 L439.40 584.76 L439.90 584.78 L440.40 584.80 L440.90 584.82 L441.40 584.84 L441.90 584.86 L442.40 584.87 L442.90 584.89 L443.40 584.90 L443.90 584.91 L444.40 584.93 L444.90 584.94 L445.40 584.95 L445.90 584.96 L446.40 584.97 L446.90 584.98 L447.40 584.99 L447.90 585.00 L448.40 585.00 L448.90 585.01 L449.40 585.02 L449.90 585.02 L450.40 585.03 L450.90 585.03 L451.40 585.04 L451.90 585.04 L452.40 585.05 L452.90 585.05 L453.40 585.06 L453.90 585.06 L454.40 585.06 L454.90 585.06 L455.40 585.07 L455.90 585.07 L456.40 585.07 L456.90 585.07 L457.40 585.08 L457.90 585.08 L458.40 585.08 L458.90 585.08 L459.40 585.08 L459.90 585.08 L460.40 585.09 L460.90 585.09 L461.40 585.09 L461.90 585.09 L462.40 585.09 L462.90 585.09 L463.40 585.09 L463.90 585.09 L464.40 585.09 L464.90 585.09 L465.40 585.09 L465.90 585.09 L466.40 585.10 L466.90 585.10 L467.40 585.10 L467.90 585.10 L468.40 585.10 L468.90 585.10 L469.40 585.10 L469.90 585.10 L470.40 585.10 L470.90 585.10 L471.40 585.10 L471.90 585.10 L472.40 585.10 L472.90 585.10 L473.40 585.10 L473.90 585.10 L474.40 585.10 L474.90 585.10 L475.40 585.10 L475.90 585.10 L476.40 585.10 L476.90 585.10 L477.40 585.10 L477.90 585.10 L478.40 585.10 L478.90 585.10 L479.40 585.10 L479.90 585.10 L480.40 585.10 L480.90 585.10 L481.40 585.10 L481.90 585.10 L482.40 585.10 L482.90 585.10 L483.40 585.10 L483.90 585.10 L484.40 585.10 L484.90 585.10 L485.40 585.10 L485.90 585.10 L486.40 585.10 L486.90 585.10 L487.40 585.10 L487.90 585.10 L488.40 585.10 L488.90 585.10 L489.40 585.10 L489.90 585.10 L490.40 585.10 L490.90 585.10 L491.40 585.10 L491.90 585.10 L492.40 585.10 L492.90 585.10 L493.40 585.10 L493.90 585.10 L494.40 585.10 L494.90 585.10 L495.40 585.10 L495.90 585.10 L496.40 585.10 L496.90 585.10 L497.40 585.10 L497.90 585.10 L498.40 585.10 L498.90 585.10 L499.40 585.10 L499.90 585.10 L500.40 585.10 L500.90 585.10 L501.40 585.10 L501.90 585.10 L502.40 585.10 L502.90 585.10 L503.40 585.10 L503.90 585.10 L504.40 585.10 L504.90 585.10 L505.40 585.10 L505.90 585.10 L506.40 585.10 L506.90 585.10 L507.40 585.10 L507.90 585.10 L508.40 585.10 L508.90 585.10 L509.40 585.10 L509.4 585.1 L352.4 585.1 Z" fill="#8dbdee" fill-opacity="0.82" stroke="none"/><path d="M352.40 585.04 L352.90 585.03 L353.40 585.02 L353.90 585.02 L354.40 585.01 L354.90 585.00 L355.40 584.99 L355.90 584.98 L356.40 584.97 L356.90 584.96 L357.40 584.95 L357.90 584.94 L358.40 584.92 L358.90 584.91 L359.40 584.89 L359.90 584.87 L360.40 584.85 L360.90 584.83 L361.40 584.81 L361.90 584.79 L362.40 584.77 L362.90 584.74 L363.40 584.71 L363.90 584.68 L364.40 584.65 L364.90 584.62 L365.40 584.58 L365.90 584.54 L366.40 584.50 L366.90 584.46 L367.40 584.41 L367.90 584.36 L368.40 584.31 L368.90 584.25 L369.40 584.20 L369.90 584.13 L370.40 584.07 L370.90 584.00 L371.40 583.92 L371.90 583.85 L372.40 583.76 L372.90 583.67 L373.40 583.58 L373.90 583.48 L374.40 583.37 L374.90 583.26 L375.40 583.13 L375.90 583.00 L376.40 582.86 L376.90 582.70 L377.40 582.54 L377.90 582.36 L378.40 582.16 L378.90 581.95 L379.40 581.71 L379.90 581.45 L380.40 581.17 L380.90 580.86 L381.40 580.52 L381.90 580.15 L382.40 579.73 L382.90 579.27 L383.40 578.77 L383.90 578.21 L384.40 577.60 L384.90 576.93 L385.40 576.18 L385.90 575.37 L386.40 574.48 L386.90 573.52 L387.40 572.46 L387.90 571.32 L388.40 570.09 L388.90 568.77 L389.40 567.36 L389.90 565.86 L390.40 564.27 L390.90 562.61 L391.40 560.86 L391.90 559.05 L392.40 557.19 L392.90 555.29 L393.40 553.37 L393.90 551.45 L394.40 549.55 L394.90 547.70 L395.40 545.92 L395.90 544.26 L396.40 542.75 L396.90 541.43 L397.40 540.34 L397.90 539.54 L398.40 539.13 L398.90 539.30 L399.40 539.83 L399.90 540.60 L400.40 541.57 L400.90 542.71 L401.40 543.98 L401.90 545.36 L402.40 546.83 L402.90 548.37 L403.40 549.96 L403.90 551.59 L404.40 553.22 L404.90 554.87 L405.40 556.50 L405.90 558.10 L406.40 559.68 L406.90 561.21 L407.40 562.70 L407.90 564.14 L408.40 565.51 L408.90 566.83 L409.40 568.08 L409.90 569.26 L410.40 570.38 L410.90 571.44 L411.40 572.42 L411.90 573.35 L412.40 574.21 L412.90 575.01 L413.40 575.76 L413.90 576.45 L414.40 577.08 L414.90 577.67 L415.40 578.22 L415.90 578.72 L416.40 579.17 L416.90 579.60 L417.40 579.98 L417.90 580.34 L418.40 580.67 L418.90 580.97 L419.40 581.24 L419.90 581.50 L420.40 581.73 L420.90 581.95 L421.40 582.14 L421.90 582.33 L422.40 582.50 L422.90 582.65 L423.40 582.80 L423.90 582.93 L424.40 583.06 L424.90 583.18 L425.40 583.29 L425.90 583.39 L426.40 583.49 L426.90 583.58 L427.40 583.66 L427.90 583.74 L428.40 583.82 L428.90 583.89 L429.40 583.96 L429.90 584.02 L430.40 584.08 L430.90 584.14 L431.40 584.19 L431.90 584.24 L432.40 584.29 L432.90 584.34 L433.40 584.38 L433.90 584.42 L434.40 584.46 L434.90 584.50 L435.40 584.54 L435.90 584.57 L436.40 584.60 L436.90 584.63 L437.40 584.66 L437.90 584.69 L438.40 584.71 L438.90 584.74 L439.40 584.76 L439.90 584.78 L440.40 584.80 L440.90 584.82 L441.40 584.84 L441.90 584.86 L442.40 584.87 L442.90 584.89 L443.40 584.90 L443.90 584.91 L444.40 584.93 L444.90 584.94 L445.40 584.95 L445.90 584.96 L446.40 584.97 L446.90 584.98 L447.40 584.99 L447.90 585.00 L448.40 585.00 L448.90 585.01 L449.40 585.02 L449.90 585.02 L450.40 585.03 L450.90 585.03 L451.40 585.04 L451.90 585.04 L452.40 585.05 L452.90 585.05 L453.40 585.06 L453.90 585.06 L454.40 585.06 L454.90 585.06 L455.40 585.07 L455.90 585.07 L456.40 585.07 L456.90 585.07 L457.40 585.08 L457.90 585.08 L458.40 585.08 L458.90 585.08 L459.40 585.08 L459.90 585.08 L460.40 585.09 L460.90 585.09 L461.40 585.09 L461.90 585.09 L462.40 585.09 L462.90 585.09 L463.40 585.09 L463.90 585.09 L464.40 585.09 L464.90 585.09 L465.40 585.09 L465.90 585.09 L466.40 585.10 L466.90 585.10 L467.40 585.10 L467.90 585.10 L468.40 585.10 L468.90 585.10 L469.40 585.10 L469.90 585.10 L470.40 585.10 L470.90 585.10 L471.40 585.10 L471.90 585.10 L472.40 585.10 L472.90 585.10 L473.40 585.10 L473.90 585.10 L474.40 585.10 L474.90 585.10 L475.40 585.10 L475.90 585.10 L476.40 585.10 L476.90 585.10 L477.40 585.10 L477.90 585.10 L478.40 585.10 L478.90 585.10 L479.40 585.10 L479.90 585.10 L480.40 585.10 L480.90 585.10 L481.40 585.10 L481.90 585.10 L482.40 585.10 L482.90 585.10 L483.40 585.10 L483.90 585.10 L484.40 585.10 L484.90 585.10 L485.40 585.10 L485.90 585.10 L486.40 585.10 L486.90 585.10 L487.40 585.10 L487.90 585.10 L488.40 585.10 L488.90 585.10 L489.40 585.10 L489.90 585.10 L490.40 585.10 L490.90 585.10 L491.40 585.10 L491.90 585.10 L492.40 585.10 L492.90 585.10 L493.40 585.10 L493.90 585.10 L494.40 585.10 L494.90 585.10 L495.40 585.10 L495.90 585.10 L496.40 585.10 L496.90 585.10 L497.40 585.10 L497.90 585.10 L498.40 585.10 L498.90 585.10 L499.40 585.10 L499.90 585.10 L500.40 585.10 L500.90 585.10 L501.40 585.10 L501.90 585.10 L502.40 585.10 L502.90 585.10 L503.40 585.10 L503.90 585.10 L504.40 585.10 L504.90 585.10 L505.40 585.10 L505.90 585.10 L506.40 585.10 L506.90 585.10 L507.40 585.10 L507.90 585.10 L508.40 585.10 L508.90 585.10 L509.40 585.10" fill="none" stroke="#4d94d8" stroke-width="0.9"/><path d="M352.40 610.36 L352.90 610.35 L353.40 610.35 L353.90 610.34 L354.40 610.34 L354.90 610.33 L355.40 610.32 L355.90 610.32 L356.40 610.31 L356.90 610.30 L357.40 610.29 L357.90 610.28 L358.40 610.27 L358.90 610.26 L359.40 610.25 L359.90 610.24 L360.40 610.22 L360.90 610.21 L361.40 610.19 L361.90 610.17 L362.40 610.15 L362.90 610.13 L363.40 610.11 L363.90 610.09 L364.40 610.07 L364.90 610.04 L365.40 610.01 L365.90 609.98 L366.40 609.95 L366.90 609.92 L367.40 609.88 L367.90 609.84 L368.40 609.80 L368.90 609.76 L369.40 609.71 L369.90 609.66 L370.40 609.61 L370.90 609.56 L371.40 609.50 L371.90 609.44 L372.40 609.37 L372.90 609.30 L373.40 609.23 L373.90 609.15 L374.40 609.07 L374.90 608.98 L375.40 608.89 L375.90 608.79 L376.40 608.69 L376.90 608.58 L377.40 608.46 L377.90 608.33 L378.40 608.19 L378.90 608.04 L379.40 607.88 L379.90 607.70 L380.40 607.51 L380.90 607.30 L381.40 607.07 L381.90 606.82 L382.40 606.54 L382.90 606.24 L383.40 605.90 L383.90 605.53 L384.40 605.11 L384.90 604.65 L385.40 604.14 L385.90 603.57 L386.40 602.94 L386.90 602.25 L387.40 601.48 L387.90 600.63 L388.40 599.71 L388.90 598.69 L389.40 597.59 L389.90 596.39 L390.40 595.09 L390.90 593.70 L391.40 592.21 L391.90 590.62 L392.40 588.95 L392.90 587.20 L393.40 585.38 L393.90 583.50 L394.40 581.59 L394.90 579.65 L395.40 577.72 L395.90 575.82 L396.40 573.98 L396.90 572.24 L397.40 570.63 L397.90 569.20 L398.40 567.99 L398.90 567.06 L399.40 566.50 L399.90 566.50 L400.40 566.92 L400.90 567.59 L401.40 568.45 L401.90 569.48 L402.40 570.65 L402.90 571.93 L403.40 573.30 L403.90 574.74 L404.40 576.23 L404.90 577.76 L405.40 579.31 L405.90 580.86 L406.40 582.41 L406.90 583.94 L407.40 585.44 L407.90 586.90 L408.40 588.32 L408.90 589.70 L409.40 591.02 L409.90 592.28 L410.40 593.48 L410.90 594.62 L411.40 595.70 L411.90 596.72 L412.40 597.68 L412.90 598.57 L413.40 599.41 L413.90 600.19 L414.40 600.91 L414.90 601.59 L415.40 602.21 L415.90 602.79 L416.40 603.32 L416.90 603.81 L417.40 604.27 L417.90 604.69 L418.40 605.07 L418.90 605.42 L419.40 605.75 L419.90 606.05 L420.40 606.33 L420.90 606.58 L421.40 606.82 L421.90 607.04 L422.40 607.24 L422.90 607.43 L423.40 607.60 L423.90 607.76 L424.40 607.91 L424.90 608.05 L425.40 608.18 L425.90 608.31 L426.40 608.42 L426.90 608.53 L427.40 608.63 L427.90 608.73 L428.40 608.82 L428.90 608.90 L429.40 608.98 L429.90 609.06 L430.40 609.13 L430.90 609.20 L431.40 609.27 L431.90 609.33 L432.40 609.39 L432.90 609.44 L433.40 609.50 L433.90 609.55 L434.40 609.60 L434.90 609.64 L435.40 609.68 L435.90 609.73 L436.40 609.76 L436.90 609.80 L437.40 609.84 L437.90 609.87 L438.40 609.90 L438.90 609.93 L439.40 609.96 L439.90 609.99 L440.40 610.01 L440.90 610.04 L441.40 610.06 L441.90 610.08 L442.40 610.10 L442.90 610.12 L443.40 610.14 L443.90 610.16 L444.40 610.17 L444.90 610.19 L445.40 610.20 L445.90 610.21 L446.40 610.23 L446.90 610.24 L447.40 610.25 L447.90 610.26 L448.40 610.27 L448.90 610.28 L449.40 610.29 L449.90 610.30 L450.40 610.30 L450.90 610.31 L451.40 610.32 L451.90 610.32 L452.40 610.33 L452.90 610.33 L453.40 610.34 L453.90 610.34 L454.40 610.35 L454.90 610.35 L455.40 610.36 L455.90 610.36 L456.40 610.36 L456.90 610.36 L457.40 610.37 L457.90 610.37 L458.40 610.37 L458.90 610.37 L459.40 610.38 L459.90 610.38 L460.40 610.38 L460.90 610.38 L461.40 610.38 L461.90 610.38 L462.40 610.39 L462.90 610.39 L463.40 610.39 L463.90 610.39 L464.40 610.39 L464.90 610.39 L465.40 610.39 L465.90 610.39 L466.40 610.39 L466.90 610.39 L467.40 610.39 L467.90 610.39 L468.40 610.40 L468.90 610.40 L469.40 610.40 L469.90 610.40 L470.40 610.40 L470.90 610.40 L471.40 610.40 L471.90 610.40 L472.40 610.40 L472.90 610.40 L473.40 610.40 L473.90 610.40 L474.40 610.40 L474.90 610.40 L475.40 610.40 L475.90 610.40 L476.40 610.40 L476.90 610.40 L477.40 610.40 L477.90 610.40 L478.40 610.40 L478.90 610.40 L479.40 610.40 L479.90 610.40 L480.40 610.40 L480.90 610.40 L481.40 610.40 L481.90 610.40 L482.40 610.40 L482.90 610.40 L483.40 610.40 L483.90 610.40 L484.40 610.40 L484.90 610.40 L485.40 610.40 L485.90 610.40 L486.40 610.40 L486.90 610.40 L487.40 610.40 L487.90 610.40 L488.40 610.40 L488.90 610.40 L489.40 610.40 L489.90 610.40 L490.40 610.40 L490.90 610.40 L491.40 610.40 L491.90 610.40 L492.40 610.40 L492.90 610.40 L493.40 610.40 L493.90 610.40 L494.40 610.40 L494.90 610.40 L495.40 610.40 L495.90 610.40 L496.40 610.40 L496.90 610.40 L497.40 610.40 L497.90 610.40 L498.40 610.40 L498.90 610.40 L499.40 610.40 L499.90 610.40 L500.40 610.40 L500.90 610.40 L501.40 610.40 L501.90 610.40 L502.40 610.40 L502.90 610.40 L503.40 610.40 L503.90 610.40 L504.40 610.40 L504.90 610.40 L505.40 610.40 L505.90 610.40 L506.40 610.40 L506.90 610.40 L507.40 610.40 L507.90 610.40 L508.40 610.40 L508.90 610.40 L509.40 610.40 L509.4 610.4 L352.4 610.4 Z" fill="#f29c98" fill-opacity="0.82" stroke="none"/><path d="M352.40 610.36 L352.90 610.35 L353.40 610.35 L353.90 610.34 L354.40 610.34 L354.90 610.33 L355.40 610.32 L355.90 610.32 L356.40 610.31 L356.90 610.30 L357.40 610.29 L357.90 610.28 L358.40 610.27 L358.90 610.26 L359.40 610.25 L359.90 610.24 L360.40 610.22 L360.90 610.21 L361.40 610.19 L361.90 610.17 L362.40 610.15 L362.90 610.13 L363.40 610.11 L363.90 610.09 L364.40 610.07 L364.90 610.04 L365.40 610.01 L365.90 609.98 L366.40 609.95 L366.90 609.92 L367.40 609.88 L367.90 609.84 L368.40 609.80 L368.90 609.76 L369.40 609.71 L369.90 609.66 L370.40 609.61 L370.90 609.56 L371.40 609.50 L371.90 609.44 L372.40 609.37 L372.90 609.30 L373.40 609.23 L373.90 609.15 L374.40 609.07 L374.90 608.98 L375.40 608.89 L375.90 608.79 L376.40 608.69 L376.90 608.58 L377.40 608.46 L377.90 608.33 L378.40 608.19 L378.90 608.04 L379.40 607.88 L379.90 607.70 L380.40 607.51 L380.90 607.30 L381.40 607.07 L381.90 606.82 L382.40 606.54 L382.90 606.24 L383.40 605.90 L383.90 605.53 L384.40 605.11 L384.90 604.65 L385.40 604.14 L385.90 603.57 L386.40 602.94 L386.90 602.25 L387.40 601.48 L387.90 600.63 L388.40 599.71 L388.90 598.69 L389.40 597.59 L389.90 596.39 L390.40 595.09 L390.90 593.70 L391.40 592.21 L391.90 590.62 L392.40 588.95 L392.90 587.20 L393.40 585.38 L393.90 583.50 L394.40 581.59 L394.90 579.65 L395.40 577.72 L395.90 575.82 L396.40 573.98 L396.90 572.24 L397.40 570.63 L397.90 569.20 L398.40 567.99 L398.90 567.06 L399.40 566.50 L399.90 566.50 L400.40 566.92 L400.90 567.59 L401.40 568.45 L401.90 569.48 L402.40 570.65 L402.90 571.93 L403.40 573.30 L403.90 574.74 L404.40 576.23 L404.90 577.76 L405.40 579.31 L405.90 580.86 L406.40 582.41 L406.90 583.94 L407.40 585.44 L407.90 586.90 L408.40 588.32 L408.90 589.70 L409.40 591.02 L409.90 592.28 L410.40 593.48 L410.90 594.62 L411.40 595.70 L411.90 596.72 L412.40 597.68 L412.90 598.57 L413.40 599.41 L413.90 600.19 L414.40 600.91 L414.90 601.59 L415.40 602.21 L415.90 602.79 L416.40 603.32 L416.90 603.81 L417.40 604.27 L417.90 604.69 L418.40 605.07 L418.90 605.42 L419.40 605.75 L419.90 606.05 L420.40 606.33 L420.90 606.58 L421.40 606.82 L421.90 607.04 L422.40 607.24 L422.90 607.43 L423.40 607.60 L423.90 607.76 L424.40 607.91 L424.90 608.05 L425.40 608.18 L425.90 608.31 L426.40 608.42 L426.90 608.53 L427.40 608.63 L427.90 608.73 L428.40 608.82 L428.90 608.90 L429.40 608.98 L429.90 609.06 L430.40 609.13 L430.90 609.20 L431.40 609.27 L431.90 609.33 L432.40 609.39 L432.90 609.44 L433.40 609.50 L433.90 609.55 L434.40 609.60 L434.90 609.64 L435.40 609.68 L435.90 609.73 L436.40 609.76 L436.90 609.80 L437.40 609.84 L437.90 609.87 L438.40 609.90 L438.90 609.93 L439.40 609.96 L439.90 609.99 L440.40 610.01 L440.90 610.04 L441.40 610.06 L441.90 610.08 L442.40 610.10 L442.90 610.12 L443.40 610.14 L443.90 610.16 L444.40 610.17 L444.90 610.19 L445.40 610.20 L445.90 610.21 L446.40 610.23 L446.90 610.24 L447.40 610.25 L447.90 610.26 L448.40 610.27 L448.90 610.28 L449.40 610.29 L449.90 610.30 L450.40 610.30 L450.90 610.31 L451.40 610.32 L451.90 610.32 L452.40 610.33 L452.90 610.33 L453.40 610.34 L453.90 610.34 L454.40 610.35 L454.90 610.35 L455.40 610.36 L455.90 610.36 L456.40 610.36 L456.90 610.36 L457.40 610.37 L457.90 610.37 L458.40 610.37 L458.90 610.37 L459.40 610.38 L459.90 610.38 L460.40 610.38 L460.90 610.38 L461.40 610.38 L461.90 610.38 L462.40 610.39 L462.90 610.39 L463.40 610.39 L463.90 610.39 L464.40 610.39 L464.90 610.39 L465.40 610.39 L465.90 610.39 L466.40 610.39 L466.90 610.39 L467.40 610.39 L467.90 610.39 L468.40 610.40 L468.90 610.40 L469.40 610.40 L469.90 610.40 L470.40 610.40 L470.90 610.40 L471.40 610.40 L471.90 610.40 L472.40 610.40 L472.90 610.40 L473.40 610.40 L473.90 610.40 L474.40 610.40 L474.90 610.40 L475.40 610.40 L475.90 610.40 L476.40 610.40 L476.90 610.40 L477.40 610.40 L477.90 610.40 L478.40 610.40 L478.90 610.40 L479.40 610.40 L479.90 610.40 L480.40 610.40 L480.90 610.40 L481.40 610.40 L481.90 610.40 L482.40 610.40 L482.90 610.40 L483.40 610.40 L483.90 610.40 L484.40 610.40 L484.90 610.40 L485.40 610.40 L485.90 610.40 L486.40 610.40 L486.90 610.40 L487.40 610.40 L487.90 610.40 L488.40 610.40 L488.90 610.40 L489.40 610.40 L489.90 610.40 L490.40 610.40 L490.90 610.40 L491.40 610.40 L491.90 610.40 L492.40 610.40 L492.90 610.40 L493.40 610.40 L493.90 610.40 L494.40 610.40 L494.90 610.40 L495.40 610.40 L495.90 610.40 L496.40 610.40 L496.90 610.40 L497.40 610.40 L497.90 610.40 L498.40 610.40 L498.90 610.40 L499.40 610.40 L499.90 610.40 L500.40 610.40 L500.90 610.40 L501.40 610.40 L501.90 610.40 L502.40 610.40 L502.90 610.40 L503.40 610.40 L503.90 610.40 L504.40 610.40 L504.90 610.40 L505.40 610.40 L505.90 610.40 L506.40 610.40 L506.90 610.40 L507.40 610.40 L507.90 610.40 L508.40 610.40 L508.90 610.40 L509.40 610.40" fill="none" stroke="#d8606a" stroke-width="0.9"/><path d="M352.40 636.35 L352.90 636.34 L353.40 636.34 L353.90 636.33 L354.40 636.32 L354.90 636.32 L355.40 636.31 L355.90 636.30 L356.40 636.29 L356.90 636.28 L357.40 636.27 L357.90 636.26 L358.40 636.25 L358.90 636.24 L359.40 636.22 L359.90 636.21 L360.40 636.19 L360.90 636.17 L361.40 636.15 L361.90 636.13 L362.40 636.11 L362.90 636.09 L363.40 636.07 L363.90 636.04 L364.40 636.01 L364.90 635.98 L365.40 635.95 L365.90 635.92 L366.40 635.88 L366.90 635.84 L367.40 635.80 L367.90 635.76 L368.40 635.71 L368.90 635.66 L369.40 635.61 L369.90 635.56 L370.40 635.50 L370.90 635.44 L371.40 635.38 L371.90 635.31 L372.40 635.24 L372.90 635.16 L373.40 635.08 L373.90 635.00 L374.40 634.91 L374.90 634.82 L375.40 634.72 L375.90 634.62 L376.40 634.51 L376.90 634.40 L377.40 634.27 L377.90 634.14 L378.40 634.01 L378.90 633.86 L379.40 633.70 L379.90 633.53 L380.40 633.35 L380.90 633.15 L381.40 632.94 L381.90 632.71 L382.40 632.45 L382.90 632.18 L383.40 631.87 L383.90 631.54 L384.40 631.17 L384.90 630.76 L385.40 630.31 L385.90 629.81 L386.40 629.26 L386.90 628.65 L387.40 627.98 L387.90 627.24 L388.40 626.42 L388.90 625.52 L389.40 624.53 L389.90 623.45 L390.40 622.28 L390.90 621.00 L391.40 619.63 L391.90 618.16 L392.40 616.59 L392.90 614.92 L393.40 613.17 L393.90 611.33 L394.40 609.43 L394.90 607.47 L395.40 605.47 L395.90 603.47 L396.40 601.48 L396.90 599.53 L397.40 597.65 L397.90 595.89 L398.40 594.28 L398.90 592.88 L399.40 591.74 L399.90 590.92 L400.40 590.50 L400.90 590.71 L401.40 591.30 L401.90 592.15 L402.40 593.21 L402.90 594.45 L403.40 595.82 L403.90 597.31 L404.40 598.88 L404.90 600.52 L405.40 602.21 L405.90 603.92 L406.40 605.65 L406.90 607.36 L407.40 609.05 L407.90 610.71 L408.40 612.33 L408.90 613.90 L409.40 615.41 L409.90 616.85 L410.40 618.23 L410.90 619.53 L411.40 620.77 L411.90 621.93 L412.40 623.02 L412.90 624.03 L413.40 624.98 L413.90 625.86 L414.40 626.67 L414.90 627.42 L415.40 628.11 L415.90 628.75 L416.40 629.33 L416.90 629.87 L417.40 630.36 L417.90 630.81 L418.40 631.22 L418.90 631.59 L419.40 631.93 L419.90 632.25 L420.40 632.53 L420.90 632.79 L421.40 633.03 L421.90 633.25 L422.40 633.45 L422.90 633.64 L423.40 633.81 L423.90 633.97 L424.40 634.11 L424.90 634.25 L425.40 634.37 L425.90 634.49 L426.40 634.60 L426.90 634.70 L427.40 634.80 L427.90 634.89 L428.40 634.97 L428.90 635.05 L429.40 635.12 L429.90 635.20 L430.40 635.26 L430.90 635.33 L431.40 635.38 L431.90 635.44 L432.40 635.50 L432.90 635.55 L433.40 635.59 L433.90 635.64 L434.40 635.68 L434.90 635.73 L435.40 635.76 L435.90 635.80 L436.40 635.84 L436.90 635.87 L437.40 635.90 L437.90 635.93 L438.40 635.96 L438.90 635.99 L439.40 636.01 L439.90 636.04 L440.40 636.06 L440.90 636.08 L441.40 636.10 L441.90 636.12 L442.40 636.14 L442.90 636.16 L443.40 636.17 L443.90 636.19 L444.40 636.20 L444.90 636.21 L445.40 636.23 L445.90 636.24 L446.40 636.25 L446.90 636.26 L447.40 636.27 L447.90 636.28 L448.40 636.29 L448.90 636.30 L449.40 636.30 L449.90 636.31 L450.40 636.32 L450.90 636.32 L451.40 636.33 L451.90 636.33 L452.40 636.34 L452.90 636.34 L453.40 636.35 L453.90 636.35 L454.40 636.36 L454.90 636.36 L455.40 636.36 L455.90 636.36 L456.40 636.37 L456.90 636.37 L457.40 636.37 L457.90 636.37 L458.40 636.38 L458.90 636.38 L459.40 636.38 L459.90 636.38 L460.40 636.38 L460.90 636.38 L461.40 636.39 L461.90 636.39 L462.40 636.39 L462.90 636.39 L463.40 636.39 L463.90 636.39 L464.40 636.39 L464.90 636.39 L465.40 636.39 L465.90 636.39 L466.40 636.39 L466.90 636.39 L467.40 636.40 L467.90 636.40 L468.40 636.40 L468.90 636.40 L469.40 636.40 L469.90 636.40 L470.40 636.40 L470.90 636.40 L471.40 636.40 L471.90 636.40 L472.40 636.40 L472.90 636.40 L473.40 636.40 L473.90 636.40 L474.40 636.40 L474.90 636.40 L475.40 636.40 L475.90 636.40 L476.40 636.40 L476.90 636.40 L477.40 636.40 L477.90 636.40 L478.40 636.40 L478.90 636.40 L479.40 636.40 L479.90 636.40 L480.40 636.40 L480.90 636.40 L481.40 636.40 L481.90 636.40 L482.40 636.40 L482.90 636.40 L483.40 636.40 L483.90 636.40 L484.40 636.40 L484.90 636.40 L485.40 636.40 L485.90 636.40 L486.40 636.40 L486.90 636.40 L487.40 636.40 L487.90 636.40 L488.40 636.40 L488.90 636.40 L489.40 636.40 L489.90 636.40 L490.40 636.40 L490.90 636.40 L491.40 636.40 L491.90 636.40 L492.40 636.40 L492.90 636.40 L493.40 636.40 L493.90 636.40 L494.40 636.40 L494.90 636.40 L495.40 636.40 L495.90 636.40 L496.40 636.40 L496.90 636.40 L497.40 636.40 L497.90 636.40 L498.40 636.40 L498.90 636.40 L499.40 636.40 L499.90 636.40 L500.40 636.40 L500.90 636.40 L501.40 636.40 L501.90 636.40 L502.40 636.40 L502.90 636.40 L503.40 636.40 L503.90 636.40 L504.40 636.40 L504.90 636.40 L505.40 636.40 L505.90 636.40 L506.40 636.40 L506.90 636.40 L507.40 636.40 L507.90 636.40 L508.40 636.40 L508.90 636.40 L509.40 636.40 L509.4 636.4 L352.4 636.4 Z" fill="#f9c894" fill-opacity="0.82" stroke="none"/><path d="M352.40 636.35 L352.90 636.34 L353.40 636.34 L353.90 636.33 L354.40 636.32 L354.90 636.32 L355.40 636.31 L355.90 636.30 L356.40 636.29 L356.90 636.28 L357.40 636.27 L357.90 636.26 L358.40 636.25 L358.90 636.24 L359.40 636.22 L359.90 636.21 L360.40 636.19 L360.90 636.17 L361.40 636.15 L361.90 636.13 L362.40 636.11 L362.90 636.09 L363.40 636.07 L363.90 636.04 L364.40 636.01 L364.90 635.98 L365.40 635.95 L365.90 635.92 L366.40 635.88 L366.90 635.84 L367.40 635.80 L367.90 635.76 L368.40 635.71 L368.90 635.66 L369.40 635.61 L369.90 635.56 L370.40 635.50 L370.90 635.44 L371.40 635.38 L371.90 635.31 L372.40 635.24 L372.90 635.16 L373.40 635.08 L373.90 635.00 L374.40 634.91 L374.90 634.82 L375.40 634.72 L375.90 634.62 L376.40 634.51 L376.90 634.40 L377.40 634.27 L377.90 634.14 L378.40 634.01 L378.90 633.86 L379.40 633.70 L379.90 633.53 L380.40 633.35 L380.90 633.15 L381.40 632.94 L381.90 632.71 L382.40 632.45 L382.90 632.18 L383.40 631.87 L383.90 631.54 L384.40 631.17 L384.90 630.76 L385.40 630.31 L385.90 629.81 L386.40 629.26 L386.90 628.65 L387.40 627.98 L387.90 627.24 L388.40 626.42 L388.90 625.52 L389.40 624.53 L389.90 623.45 L390.40 622.28 L390.90 621.00 L391.40 619.63 L391.90 618.16 L392.40 616.59 L392.90 614.92 L393.40 613.17 L393.90 611.33 L394.40 609.43 L394.90 607.47 L395.40 605.47 L395.90 603.47 L396.40 601.48 L396.90 599.53 L397.40 597.65 L397.90 595.89 L398.40 594.28 L398.90 592.88 L399.40 591.74 L399.90 590.92 L400.40 590.50 L400.90 590.71 L401.40 591.30 L401.90 592.15 L402.40 593.21 L402.90 594.45 L403.40 595.82 L403.90 597.31 L404.40 598.88 L404.90 600.52 L405.40 602.21 L405.90 603.92 L406.40 605.65 L406.90 607.36 L407.40 609.05 L407.90 610.71 L408.40 612.33 L408.90 613.90 L409.40 615.41 L409.90 616.85 L410.40 618.23 L410.90 619.53 L411.40 620.77 L411.90 621.93 L412.40 623.02 L412.90 624.03 L413.40 624.98 L413.90 625.86 L414.40 626.67 L414.90 627.42 L415.40 628.11 L415.90 628.75 L416.40 629.33 L416.90 629.87 L417.40 630.36 L417.90 630.81 L418.40 631.22 L418.90 631.59 L419.40 631.93 L419.90 632.25 L420.40 632.53 L420.90 632.79 L421.40 633.03 L421.90 633.25 L422.40 633.45 L422.90 633.64 L423.40 633.81 L423.90 633.97 L424.40 634.11 L424.90 634.25 L425.40 634.37 L425.90 634.49 L426.40 634.60 L426.90 634.70 L427.40 634.80 L427.90 634.89 L428.40 634.97 L428.90 635.05 L429.40 635.12 L429.90 635.20 L430.40 635.26 L430.90 635.33 L431.40 635.38 L431.90 635.44 L432.40 635.50 L432.90 635.55 L433.40 635.59 L433.90 635.64 L434.40 635.68 L434.90 635.73 L435.40 635.76 L435.90 635.80 L436.40 635.84 L436.90 635.87 L437.40 635.90 L437.90 635.93 L438.40 635.96 L438.90 635.99 L439.40 636.01 L439.90 636.04 L440.40 636.06 L440.90 636.08 L441.40 636.10 L441.90 636.12 L442.40 636.14 L442.90 636.16 L443.40 636.17 L443.90 636.19 L444.40 636.20 L444.90 636.21 L445.40 636.23 L445.90 636.24 L446.40 636.25 L446.90 636.26 L447.40 636.27 L447.90 636.28 L448.40 636.29 L448.90 636.30 L449.40 636.30 L449.90 636.31 L450.40 636.32 L450.90 636.32 L451.40 636.33 L451.90 636.33 L452.40 636.34 L452.90 636.34 L453.40 636.35 L453.90 636.35 L454.40 636.36 L454.90 636.36 L455.40 636.36 L455.90 636.36 L456.40 636.37 L456.90 636.37 L457.40 636.37 L457.90 636.37 L458.40 636.38 L458.90 636.38 L459.40 636.38 L459.90 636.38 L460.40 636.38 L460.90 636.38 L461.40 636.39 L461.90 636.39 L462.40 636.39 L462.90 636.39 L463.40 636.39 L463.90 636.39 L464.40 636.39 L464.90 636.39 L465.40 636.39 L465.90 636.39 L466.40 636.39 L466.90 636.39 L467.40 636.40 L467.90 636.40 L468.40 636.40 L468.90 636.40 L469.40 636.40 L469.90 636.40 L470.40 636.40 L470.90 636.40 L471.40 636.40 L471.90 636.40 L472.40 636.40 L472.90 636.40 L473.40 636.40 L473.90 636.40 L474.40 636.40 L474.90 636.40 L475.40 636.40 L475.90 636.40 L476.40 636.40 L476.90 636.40 L477.40 636.40 L477.90 636.40 L478.40 636.40 L478.90 636.40 L479.40 636.40 L479.90 636.40 L480.40 636.40 L480.90 636.40 L481.40 636.40 L481.90 636.40 L482.40 636.40 L482.90 636.40 L483.40 636.40 L483.90 636.40 L484.40 636.40 L484.90 636.40 L485.40 636.40 L485.90 636.40 L486.40 636.40 L486.90 636.40 L487.40 636.40 L487.90 636.40 L488.40 636.40 L488.90 636.40 L489.40 636.40 L489.90 636.40 L490.40 636.40 L490.90 636.40 L491.40 636.40 L491.90 636.40 L492.40 636.40 L492.90 636.40 L493.40 636.40 L493.90 636.40 L494.40 636.40 L494.90 636.40 L495.40 636.40 L495.90 636.40 L496.40 636.40 L496.90 636.40 L497.40 636.40 L497.90 636.40 L498.40 636.40 L498.90 636.40 L499.40 636.40 L499.90 636.40 L500.40 636.40 L500.90 636.40 L501.40 636.40 L501.90 636.40 L502.40 636.40 L502.90 636.40 L503.40 636.40 L503.90 636.40 L504.40 636.40 L504.90 636.40 L505.40 636.40 L505.90 636.40 L506.40 636.40 L506.90 636.40 L507.40 636.40 L507.90 636.40 L508.40 636.40 L508.90 636.40 L509.40 636.40" fill="none" stroke="#e8a65c" stroke-width="0.9"/><path d="M352.40 661.47 L352.90 661.46 L353.40 661.44 L353.90 661.43 L354.40 661.42 L354.90 661.40 L355.40 661.39 L355.90 661.37 L356.40 661.35 L356.90 661.33 L357.40 661.31 L357.90 661.28 L358.40 661.26 L358.90 661.23 L359.40 661.21 L359.90 661.18 L360.40 661.14 L360.90 661.11 L361.40 661.07 L361.90 661.04 L362.40 661.00 L362.90 660.95 L363.40 660.91 L363.90 660.86 L364.40 660.81 L364.90 660.75 L365.40 660.69 L365.90 660.63 L366.40 660.57 L366.90 660.50 L367.40 660.42 L367.90 660.34 L368.40 660.26 L368.90 660.17 L369.40 660.07 L369.90 659.96 L370.40 659.85 L370.90 659.73 L371.40 659.60 L371.90 659.46 L372.40 659.30 L372.90 659.13 L373.40 658.95 L373.90 658.74 L374.40 658.52 L374.90 658.27 L375.40 658.00 L375.90 657.71 L376.40 657.38 L376.90 657.01 L377.40 656.61 L377.90 656.16 L378.40 655.67 L378.90 655.12 L379.40 654.52 L379.90 653.86 L380.40 653.14 L380.90 652.34 L381.40 651.47 L381.90 650.53 L382.40 649.50 L382.90 648.39 L383.40 647.20 L383.90 645.93 L384.40 644.57 L384.90 643.12 L385.40 641.61 L385.90 640.02 L386.40 638.37 L386.90 636.66 L387.40 634.92 L387.90 633.16 L388.40 631.38 L388.90 629.63 L389.40 627.91 L389.90 626.26 L390.40 624.71 L390.90 623.28 L391.40 622.01 L391.90 620.95 L392.40 620.14 L392.90 619.66 L393.40 619.71 L393.90 620.17 L394.40 620.88 L394.90 621.79 L395.40 622.87 L395.90 624.09 L396.40 625.41 L396.90 626.83 L397.40 628.31 L397.90 629.84 L398.40 631.40 L398.90 632.96 L399.40 634.53 L399.90 636.08 L400.40 637.60 L400.90 639.08 L401.40 640.52 L401.90 641.91 L402.40 643.24 L402.90 644.52 L403.40 645.72 L403.90 646.86 L404.40 647.94 L404.90 648.95 L405.40 649.89 L405.90 650.77 L406.40 651.58 L406.90 652.34 L407.40 653.04 L407.90 653.69 L408.40 654.28 L408.90 654.82 L409.40 655.33 L409.90 655.78 L410.40 656.20 L410.90 656.59 L411.40 656.94 L411.90 657.26 L412.40 657.55 L412.90 657.82 L413.40 658.07 L413.90 658.30 L414.40 658.50 L414.90 658.69 L415.40 658.87 L415.90 659.03 L416.40 659.18 L416.90 659.32 L417.40 659.45 L417.90 659.57 L418.40 659.68 L418.90 659.79 L419.40 659.89 L419.90 659.98 L420.40 660.07 L420.90 660.15 L421.40 660.23 L421.90 660.30 L422.40 660.37 L422.90 660.44 L423.40 660.50 L423.90 660.56 L424.40 660.61 L424.90 660.67 L425.40 660.72 L425.90 660.77 L426.40 660.81 L426.90 660.86 L427.40 660.90 L427.90 660.94 L428.40 660.98 L428.90 661.01 L429.40 661.05 L429.90 661.08 L430.40 661.11 L430.90 661.14 L431.40 661.16 L431.90 661.19 L432.40 661.22 L432.90 661.24 L433.40 661.26 L433.90 661.28 L434.40 661.30 L434.90 661.32 L435.40 661.34 L435.90 661.36 L436.40 661.37 L436.90 661.39 L437.40 661.40 L437.90 661.41 L438.40 661.43 L438.90 661.44 L439.40 661.45 L439.90 661.46 L440.40 661.47 L440.90 661.48 L441.40 661.49 L441.90 661.49 L442.40 661.50 L442.90 661.51 L443.40 661.52 L443.90 661.52 L444.40 661.53 L444.90 661.53 L445.40 661.54 L445.90 661.54 L446.40 661.55 L446.90 661.55 L447.40 661.55 L447.90 661.56 L448.40 661.56 L448.90 661.56 L449.40 661.57 L449.90 661.57 L450.40 661.57 L450.90 661.57 L451.40 661.58 L451.90 661.58 L452.40 661.58 L452.90 661.58 L453.40 661.58 L453.90 661.58 L454.40 661.59 L454.90 661.59 L455.40 661.59 L455.90 661.59 L456.40 661.59 L456.90 661.59 L457.40 661.59 L457.90 661.59 L458.40 661.59 L458.90 661.59 L459.40 661.59 L459.90 661.59 L460.40 661.59 L460.90 661.60 L461.40 661.60 L461.90 661.60 L462.40 661.60 L462.90 661.60 L463.40 661.60 L463.90 661.60 L464.40 661.60 L464.90 661.60 L465.40 661.60 L465.90 661.60 L466.40 661.60 L466.90 661.60 L467.40 661.60 L467.90 661.60 L468.40 661.60 L468.90 661.60 L469.40 661.60 L469.90 661.60 L470.40 661.60 L470.90 661.60 L471.40 661.60 L471.90 661.60 L472.40 661.60 L472.90 661.60 L473.40 661.60 L473.90 661.60 L474.40 661.60 L474.90 661.60 L475.40 661.60 L475.90 661.60 L476.40 661.60 L476.90 661.60 L477.40 661.60 L477.90 661.60 L478.40 661.60 L478.90 661.60 L479.40 661.60 L479.90 661.60 L480.40 661.60 L480.90 661.60 L481.40 661.60 L481.90 661.60 L482.40 661.60 L482.90 661.60 L483.40 661.60 L483.90 661.60 L484.40 661.60 L484.90 661.60 L485.40 661.60 L485.90 661.60 L486.40 661.60 L486.90 661.60 L487.40 661.60 L487.90 661.60 L488.40 661.60 L488.90 661.60 L489.40 661.60 L489.90 661.60 L490.40 661.60 L490.90 661.60 L491.40 661.60 L491.90 661.60 L492.40 661.60 L492.90 661.60 L493.40 661.60 L493.90 661.60 L494.40 661.60 L494.90 661.60 L495.40 661.60 L495.90 661.60 L496.40 661.60 L496.90 661.60 L497.40 661.60 L497.90 661.60 L498.40 661.60 L498.90 661.60 L499.40 661.60 L499.90 661.60 L500.40 661.60 L500.90 661.60 L501.40 661.60 L501.90 661.60 L502.40 661.60 L502.90 661.60 L503.40 661.60 L503.90 661.60 L504.40 661.60 L504.90 661.60 L505.40 661.60 L505.90 661.60 L506.40 661.60 L506.90 661.60 L507.40 661.60 L507.90 661.60 L508.40 661.60 L508.90 661.60 L509.40 661.60 L509.4 661.6 L352.4 661.6 Z" fill="#f6a0ee" fill-opacity="0.82" stroke="none"/><path d="M352.40 661.47 L352.90 661.46 L353.40 661.44 L353.90 661.43 L354.40 661.42 L354.90 661.40 L355.40 661.39 L355.90 661.37 L356.40 661.35 L356.90 661.33 L357.40 661.31 L357.90 661.28 L358.40 661.26 L358.90 661.23 L359.40 661.21 L359.90 661.18 L360.40 661.14 L360.90 661.11 L361.40 661.07 L361.90 661.04 L362.40 661.00 L362.90 660.95 L363.40 660.91 L363.90 660.86 L364.40 660.81 L364.90 660.75 L365.40 660.69 L365.90 660.63 L366.40 660.57 L366.90 660.50 L367.40 660.42 L367.90 660.34 L368.40 660.26 L368.90 660.17 L369.40 660.07 L369.90 659.96 L370.40 659.85 L370.90 659.73 L371.40 659.60 L371.90 659.46 L372.40 659.30 L372.90 659.13 L373.40 658.95 L373.90 658.74 L374.40 658.52 L374.90 658.27 L375.40 658.00 L375.90 657.71 L376.40 657.38 L376.90 657.01 L377.40 656.61 L377.90 656.16 L378.40 655.67 L378.90 655.12 L379.40 654.52 L379.90 653.86 L380.40 653.14 L380.90 652.34 L381.40 651.47 L381.90 650.53 L382.40 649.50 L382.90 648.39 L383.40 647.20 L383.90 645.93 L384.40 644.57 L384.90 643.12 L385.40 641.61 L385.90 640.02 L386.40 638.37 L386.90 636.66 L387.40 634.92 L387.90 633.16 L388.40 631.38 L388.90 629.63 L389.40 627.91 L389.90 626.26 L390.40 624.71 L390.90 623.28 L391.40 622.01 L391.90 620.95 L392.40 620.14 L392.90 619.66 L393.40 619.71 L393.90 620.17 L394.40 620.88 L394.90 621.79 L395.40 622.87 L395.90 624.09 L396.40 625.41 L396.90 626.83 L397.40 628.31 L397.90 629.84 L398.40 631.40 L398.90 632.96 L399.40 634.53 L399.90 636.08 L400.40 637.60 L400.90 639.08 L401.40 640.52 L401.90 641.91 L402.40 643.24 L402.90 644.52 L403.40 645.72 L403.90 646.86 L404.40 647.94 L404.90 648.95 L405.40 649.89 L405.90 650.77 L406.40 651.58 L406.90 652.34 L407.40 653.04 L407.90 653.69 L408.40 654.28 L408.90 654.82 L409.40 655.33 L409.90 655.78 L410.40 656.20 L410.90 656.59 L411.40 656.94 L411.90 657.26 L412.40 657.55 L412.90 657.82 L413.40 658.07 L413.90 658.30 L414.40 658.50 L414.90 658.69 L415.40 658.87 L415.90 659.03 L416.40 659.18 L416.90 659.32 L417.40 659.45 L417.90 659.57 L418.40 659.68 L418.90 659.79 L419.40 659.89 L419.90 659.98 L420.40 660.07 L420.90 660.15 L421.40 660.23 L421.90 660.30 L422.40 660.37 L422.90 660.44 L423.40 660.50 L423.90 660.56 L424.40 660.61 L424.90 660.67 L425.40 660.72 L425.90 660.77 L426.40 660.81 L426.90 660.86 L427.40 660.90 L427.90 660.94 L428.40 660.98 L428.90 661.01 L429.40 661.05 L429.90 661.08 L430.40 661.11 L430.90 661.14 L431.40 661.16 L431.90 661.19 L432.40 661.22 L432.90 661.24 L433.40 661.26 L433.90 661.28 L434.40 661.30 L434.90 661.32 L435.40 661.34 L435.90 661.36 L436.40 661.37 L436.90 661.39 L437.40 661.40 L437.90 661.41 L438.40 661.43 L438.90 661.44 L439.40 661.45 L439.90 661.46 L440.40 661.47 L440.90 661.48 L441.40 661.49 L441.90 661.49 L442.40 661.50 L442.90 661.51 L443.40 661.52 L443.90 661.52 L444.40 661.53 L444.90 661.53 L445.40 661.54 L445.90 661.54 L446.40 661.55 L446.90 661.55 L447.40 661.55 L447.90 661.56 L448.40 661.56 L448.90 661.56 L449.40 661.57 L449.90 661.57 L450.40 661.57 L450.90 661.57 L451.40 661.58 L451.90 661.58 L452.40 661.58 L452.90 661.58 L453.40 661.58 L453.90 661.58 L454.40 661.59 L454.90 661.59 L455.40 661.59 L455.90 661.59 L456.40 661.59 L456.90 661.59 L457.40 661.59 L457.90 661.59 L458.40 661.59 L458.90 661.59 L459.40 661.59 L459.90 661.59 L460.40 661.59 L460.90 661.60 L461.40 661.60 L461.90 661.60 L462.40 661.60 L462.90 661.60 L463.40 661.60 L463.90 661.60 L464.40 661.60 L464.90 661.60 L465.40 661.60 L465.90 661.60 L466.40 661.60 L466.90 661.60 L467.40 661.60 L467.90 661.60 L468.40 661.60 L468.90 661.60 L469.40 661.60 L469.90 661.60 L470.40 661.60 L470.90 661.60 L471.40 661.60 L471.90 661.60 L472.40 661.60 L472.90 661.60 L473.40 661.60 L473.90 661.60 L474.40 661.60 L474.90 661.60 L475.40 661.60 L475.90 661.60 L476.40 661.60 L476.90 661.60 L477.40 661.60 L477.90 661.60 L478.40 661.60 L478.90 661.60 L479.40 661.60 L479.90 661.60 L480.40 661.60 L480.90 661.60 L481.40 661.60 L481.90 661.60 L482.40 661.60 L482.90 661.60 L483.40 661.60 L483.90 661.60 L484.40 661.60 L484.90 661.60 L485.40 661.60 L485.90 661.60 L486.40 661.60 L486.90 661.60 L487.40 661.60 L487.90 661.60 L488.40 661.60 L488.90 661.60 L489.40 661.60 L489.90 661.60 L490.40 661.60 L490.90 661.60 L491.40 661.60 L491.90 661.60 L492.40 661.60 L492.90 661.60 L493.40 661.60 L493.90 661.60 L494.40 661.60 L494.90 661.60 L495.40 661.60 L495.90 661.60 L496.40 661.60 L496.90 661.60 L497.40 661.60 L497.90 661.60 L498.40 661.60 L498.90 661.60 L499.40 661.60 L499.90 661.60 L500.40 661.60 L500.90 661.60 L501.40 661.60 L501.90 661.60 L502.40 661.60 L502.90 661.60 L503.40 661.60 L503.90 661.60 L504.40 661.60 L504.90 661.60 L505.40 661.60 L505.90 661.60 L506.40 661.60 L506.90 661.60 L507.40 661.60 L507.90 661.60 L508.40 661.60 L508.90 661.60 L509.40 661.60" fill="none" stroke="#dd68d2" stroke-width="0.9"/><path d="M352.40 686.59 L352.90 686.58 L353.40 686.57 L353.90 686.56 L354.40 686.54 L354.90 686.53 L355.40 686.52 L355.90 686.50 L356.40 686.48 L356.90 686.47 L357.40 686.45 L357.90 686.43 L358.40 686.41 L358.90 686.38 L359.40 686.36 L359.90 686.33 L360.40 686.31 L360.90 686.28 L361.40 686.25 L361.90 686.21 L362.40 686.18 L362.90 686.14 L363.40 686.10 L363.90 686.05 L364.40 686.01 L364.90 685.95 L365.40 685.90 L365.90 685.84 L366.40 685.78 L366.90 685.72 L367.40 685.64 L367.90 685.57 L368.40 685.48 L368.90 685.39 L369.40 685.30 L369.90 685.19 L370.40 685.07 L370.90 684.95 L371.40 684.81 L371.90 684.66 L372.40 684.50 L372.90 684.32 L373.40 684.12 L373.90 683.90 L374.40 683.66 L374.90 683.40 L375.40 683.10 L375.90 682.78 L376.40 682.43 L376.90 682.04 L377.40 681.62 L377.90 681.15 L378.40 680.63 L378.90 680.07 L379.40 679.46 L379.90 678.78 L380.40 678.06 L380.90 677.27 L381.40 676.41 L381.90 675.49 L382.40 674.50 L382.90 673.45 L383.40 672.32 L383.90 671.12 L384.40 669.86 L384.90 668.53 L385.40 667.15 L385.90 665.71 L386.40 664.22 L386.90 662.69 L387.40 661.14 L387.90 659.57 L388.40 657.99 L388.90 656.43 L389.40 654.90 L389.90 653.43 L390.40 652.02 L390.90 650.72 L391.40 649.53 L391.90 648.50 L392.40 647.66 L392.90 647.04 L393.40 646.72 L393.90 646.87 L394.40 647.33 L394.90 648.00 L395.40 648.83 L395.90 649.82 L396.40 650.92 L396.90 652.11 L397.40 653.39 L397.90 654.73 L398.40 656.11 L398.90 657.52 L399.40 658.95 L399.90 660.38 L400.40 661.81 L400.90 663.21 L401.40 664.59 L401.90 665.93 L402.40 667.24 L402.90 668.50 L403.40 669.71 L403.90 670.86 L404.40 671.96 L404.90 673.01 L405.40 674.00 L405.90 674.93 L406.40 675.80 L406.90 676.62 L407.40 677.38 L407.90 678.09 L408.40 678.75 L408.90 679.36 L409.40 679.92 L409.90 680.44 L410.40 680.92 L410.90 681.36 L411.40 681.77 L411.90 682.14 L412.40 682.48 L412.90 682.79 L413.40 683.08 L413.90 683.34 L414.40 683.58 L414.90 683.80 L415.40 684.00 L415.90 684.18 L416.40 684.35 L416.90 684.50 L417.40 684.65 L417.90 684.78 L418.40 684.90 L418.90 685.01 L419.40 685.11 L419.90 685.21 L420.40 685.30 L420.90 685.38 L421.40 685.46 L421.90 685.53 L422.40 685.60 L422.90 685.66 L423.40 685.72 L423.90 685.78 L424.40 685.83 L424.90 685.88 L425.40 685.93 L425.90 685.97 L426.40 686.01 L426.90 686.05 L427.40 686.09 L427.90 686.13 L428.40 686.16 L428.90 686.19 L429.40 686.22 L429.90 686.25 L430.40 686.28 L430.90 686.30 L431.40 686.33 L431.90 686.35 L432.40 686.37 L432.90 686.39 L433.40 686.41 L433.90 686.43 L434.40 686.44 L434.90 686.46 L435.40 686.48 L435.90 686.49 L436.40 686.50 L436.90 686.52 L437.40 686.53 L437.90 686.54 L438.40 686.55 L438.90 686.56 L439.40 686.57 L439.90 686.58 L440.40 686.59 L440.90 686.60 L441.40 686.60 L441.90 686.61 L442.40 686.62 L442.90 686.62 L443.40 686.63 L443.90 686.63 L444.40 686.64 L444.90 686.64 L445.40 686.65 L445.90 686.65 L446.40 686.65 L446.90 686.66 L447.40 686.66 L447.90 686.66 L448.40 686.67 L448.90 686.67 L449.40 686.67 L449.90 686.67 L450.40 686.68 L450.90 686.68 L451.40 686.68 L451.90 686.68 L452.40 686.68 L452.90 686.68 L453.40 686.69 L453.90 686.69 L454.40 686.69 L454.90 686.69 L455.40 686.69 L455.90 686.69 L456.40 686.69 L456.90 686.69 L457.40 686.69 L457.90 686.69 L458.40 686.69 L458.90 686.69 L459.40 686.69 L459.90 686.70 L460.40 686.70 L460.90 686.70 L461.40 686.70 L461.90 686.70 L462.40 686.70 L462.90 686.70 L463.40 686.70 L463.90 686.70 L464.40 686.70 L464.90 686.70 L465.40 686.70 L465.90 686.70 L466.40 686.70 L466.90 686.70 L467.40 686.70 L467.90 686.70 L468.40 686.70 L468.90 686.70 L469.40 686.70 L469.90 686.70 L470.40 686.70 L470.90 686.70 L471.40 686.70 L471.90 686.70 L472.40 686.70 L472.90 686.70 L473.40 686.70 L473.90 686.70 L474.40 686.70 L474.90 686.70 L475.40 686.70 L475.90 686.70 L476.40 686.70 L476.90 686.70 L477.40 686.70 L477.90 686.70 L478.40 686.70 L478.90 686.70 L479.40 686.70 L479.90 686.70 L480.40 686.70 L480.90 686.70 L481.40 686.70 L481.90 686.70 L482.40 686.70 L482.90 686.70 L483.40 686.70 L483.90 686.70 L484.40 686.70 L484.90 686.70 L485.40 686.70 L485.90 686.70 L486.40 686.70 L486.90 686.70 L487.40 686.70 L487.90 686.70 L488.40 686.70 L488.90 686.70 L489.40 686.70 L489.90 686.70 L490.40 686.70 L490.90 686.70 L491.40 686.70 L491.90 686.70 L492.40 686.70 L492.90 686.70 L493.40 686.70 L493.90 686.70 L494.40 686.70 L494.90 686.70 L495.40 686.70 L495.90 686.70 L496.40 686.70 L496.90 686.70 L497.40 686.70 L497.90 686.70 L498.40 686.70 L498.90 686.70 L499.40 686.70 L499.90 686.70 L500.40 686.70 L500.90 686.70 L501.40 686.70 L501.90 686.70 L502.40 686.70 L502.90 686.70 L503.40 686.70 L503.90 686.70 L504.40 686.70 L504.90 686.70 L505.40 686.70 L505.90 686.70 L506.40 686.70 L506.90 686.70 L507.40 686.70 L507.90 686.70 L508.40 686.70 L508.90 686.70 L509.40 686.70 L509.4 686.7 L352.4 686.7 Z" fill="#9d94ee" fill-opacity="0.82" stroke="none"/><path d="M352.40 686.59 L352.90 686.58 L353.40 686.57 L353.90 686.56 L354.40 686.54 L354.90 686.53 L355.40 686.52 L355.90 686.50 L356.40 686.48 L356.90 686.47 L357.40 686.45 L357.90 686.43 L358.40 686.41 L358.90 686.38 L359.40 686.36 L359.90 686.33 L360.40 686.31 L360.90 686.28 L361.40 686.25 L361.90 686.21 L362.40 686.18 L362.90 686.14 L363.40 686.10 L363.90 686.05 L364.40 686.01 L364.90 685.95 L365.40 685.90 L365.90 685.84 L366.40 685.78 L366.90 685.72 L367.40 685.64 L367.90 685.57 L368.40 685.48 L368.90 685.39 L369.40 685.30 L369.90 685.19 L370.40 685.07 L370.90 684.95 L371.40 684.81 L371.90 684.66 L372.40 684.50 L372.90 684.32 L373.40 684.12 L373.90 683.90 L374.40 683.66 L374.90 683.40 L375.40 683.10 L375.90 682.78 L376.40 682.43 L376.90 682.04 L377.40 681.62 L377.90 681.15 L378.40 680.63 L378.90 680.07 L379.40 679.46 L379.90 678.78 L380.40 678.06 L380.90 677.27 L381.40 676.41 L381.90 675.49 L382.40 674.50 L382.90 673.45 L383.40 672.32 L383.90 671.12 L384.40 669.86 L384.90 668.53 L385.40 667.15 L385.90 665.71 L386.40 664.22 L386.90 662.69 L387.40 661.14 L387.90 659.57 L388.40 657.99 L388.90 656.43 L389.40 654.90 L389.90 653.43 L390.40 652.02 L390.90 650.72 L391.40 649.53 L391.90 648.50 L392.40 647.66 L392.90 647.04 L393.40 646.72 L393.90 646.87 L394.40 647.33 L394.90 648.00 L395.40 648.83 L395.90 649.82 L396.40 650.92 L396.90 652.11 L397.40 653.39 L397.90 654.73 L398.40 656.11 L398.90 657.52 L399.40 658.95 L399.90 660.38 L400.40 661.81 L400.90 663.21 L401.40 664.59 L401.90 665.93 L402.40 667.24 L402.90 668.50 L403.40 669.71 L403.90 670.86 L404.40 671.96 L404.90 673.01 L405.40 674.00 L405.90 674.93 L406.40 675.80 L406.90 676.62 L407.40 677.38 L407.90 678.09 L408.40 678.75 L408.90 679.36 L409.40 679.92 L409.90 680.44 L410.40 680.92 L410.90 681.36 L411.40 681.77 L411.90 682.14 L412.40 682.48 L412.90 682.79 L413.40 683.08 L413.90 683.34 L414.40 683.58 L414.90 683.80 L415.40 684.00 L415.90 684.18 L416.40 684.35 L416.90 684.50 L417.40 684.65 L417.90 684.78 L418.40 684.90 L418.90 685.01 L419.40 685.11 L419.90 685.21 L420.40 685.30 L420.90 685.38 L421.40 685.46 L421.90 685.53 L422.40 685.60 L422.90 685.66 L423.40 685.72 L423.90 685.78 L424.40 685.83 L424.90 685.88 L425.40 685.93 L425.90 685.97 L426.40 686.01 L426.90 686.05 L427.40 686.09 L427.90 686.13 L428.40 686.16 L428.90 686.19 L429.40 686.22 L429.90 686.25 L430.40 686.28 L430.90 686.30 L431.40 686.33 L431.90 686.35 L432.40 686.37 L432.90 686.39 L433.40 686.41 L433.90 686.43 L434.40 686.44 L434.90 686.46 L435.40 686.48 L435.90 686.49 L436.40 686.50 L436.90 686.52 L437.40 686.53 L437.90 686.54 L438.40 686.55 L438.90 686.56 L439.40 686.57 L439.90 686.58 L440.40 686.59 L440.90 686.60 L441.40 686.60 L441.90 686.61 L442.40 686.62 L442.90 686.62 L443.40 686.63 L443.90 686.63 L444.40 686.64 L444.90 686.64 L445.40 686.65 L445.90 686.65 L446.40 686.65 L446.90 686.66 L447.40 686.66 L447.90 686.66 L448.40 686.67 L448.90 686.67 L449.40 686.67 L449.90 686.67 L450.40 686.68 L450.90 686.68 L451.40 686.68 L451.90 686.68 L452.40 686.68 L452.90 686.68 L453.40 686.69 L453.90 686.69 L454.40 686.69 L454.90 686.69 L455.40 686.69 L455.90 686.69 L456.40 686.69 L456.90 686.69 L457.40 686.69 L457.90 686.69 L458.40 686.69 L458.90 686.69 L459.40 686.69 L459.90 686.70 L460.40 686.70 L460.90 686.70 L461.40 686.70 L461.90 686.70 L462.40 686.70 L462.90 686.70 L463.40 686.70 L463.90 686.70 L464.40 686.70 L464.90 686.70 L465.40 686.70 L465.90 686.70 L466.40 686.70 L466.90 686.70 L467.40 686.70 L467.90 686.70 L468.40 686.70 L468.90 686.70 L469.40 686.70 L469.90 686.70 L470.40 686.70 L470.90 686.70 L471.40 686.70 L471.90 686.70 L472.40 686.70 L472.90 686.70 L473.40 686.70 L473.90 686.70 L474.40 686.70 L474.90 686.70 L475.40 686.70 L475.90 686.70 L476.40 686.70 L476.90 686.70 L477.40 686.70 L477.90 686.70 L478.40 686.70 L478.90 686.70 L479.40 686.70 L479.90 686.70 L480.40 686.70 L480.90 686.70 L481.40 686.70 L481.90 686.70 L482.40 686.70 L482.90 686.70 L483.40 686.70 L483.90 686.70 L484.40 686.70 L484.90 686.70 L485.40 686.70 L485.90 686.70 L486.40 686.70 L486.90 686.70 L487.40 686.70 L487.90 686.70 L488.40 686.70 L488.90 686.70 L489.40 686.70 L489.90 686.70 L490.40 686.70 L490.90 686.70 L491.40 686.70 L491.90 686.70 L492.40 686.70 L492.90 686.70 L493.40 686.70 L493.90 686.70 L494.40 686.70 L494.90 686.70 L495.40 686.70 L495.90 686.70 L496.40 686.70 L496.90 686.70 L497.40 686.70 L497.90 686.70 L498.40 686.70 L498.90 686.70 L499.40 686.70 L499.90 686.70 L500.40 686.70 L500.90 686.70 L501.40 686.70 L501.90 686.70 L502.40 686.70 L502.90 686.70 L503.40 686.70 L503.90 686.70 L504.40 686.70 L504.90 686.70 L505.40 686.70 L505.90 686.70 L506.40 686.70 L506.90 686.70 L507.40 686.70 L507.90 686.70 L508.40 686.70 L508.90 686.70 L509.40 686.70" fill="none" stroke="#5e54c8" stroke-width="0.9"/><line x1="352.4" y1="585.1" x2="509.4" y2="585.1" stroke="#4d94d8" stroke-width="0.9" opacity="0.8"/><line x1="352.4" y1="610.4" x2="509.4" y2="610.4" stroke="#d8606a" stroke-width="0.9" opacity="0.8"/><line x1="352.4" y1="636.4" x2="509.4" y2="636.4" stroke="#e8a65c" stroke-width="0.9" opacity="0.8"/><line x1="352.4" y1="661.6" x2="509.4" y2="661.6" stroke="#dd68d2" stroke-width="0.9" opacity="0.8"/><line x1="352.4" y1="686.7" x2="509.4" y2="686.7" stroke="#5e54c8" stroke-width="0.9" opacity="0.8"/><line x1="352.4" y1="686.4" x2="509.4" y2="686.4" stroke="#8888c8" stroke-width="1.8"/><path d="M352.4 535.4 L645 535.4" fill="none" stroke="#555" stroke-width="1"/><path d="M645 535.4 L645 686.4" fill="none" stroke="#999" stroke-width="1"/><path d="M645 686.4 L509.4 686.4" fill="none" stroke="#333" stroke-width="1"/><line x1="352.4" y1="535.4" x2="352.4" y2="686.4" stroke="#8a8aa8" stroke-width="1.1"/><line x1="509.4" y1="535.4" x2="509.4" y2="690.4" stroke="#333" stroke-width="1"/><text x="498.4" y="576.9" font-size="13.5" fill="#222" text-anchor="end" font-weight="normal" >LNP<tspan font-size="11" dy="5">large</tspan></text><text x="505.5" y="602.8" font-size="13.5" fill="#222" text-anchor="end" font-weight="normal" >LNP<tspan font-size="11" dy="5">middle</tspan></text><text x="499.5" y="629.9" font-size="13.5" fill="#222" text-anchor="end" font-weight="normal" >LNP<tspan font-size="11" dy="5">small</tspan></text><text x="507.7" y="657.3" font-size="14" fill="#222" text-anchor="end" font-weight="normal" >Naked miRNA</text><text x="486.9" y="682.4" font-size="14" fill="#222" text-anchor="end" font-weight="normal" >PBS</text><path d="M509.4 561.3 L610 561.3 L610 574.1 L509.4 574.1" fill="none" stroke="#3b8fe0" stroke-width="1.8"/><line x1="610" y1="567.7" x2="615.4" y2="567.7" stroke="#3b8fe0" stroke-width="1.6"/><line x1="615.4" y1="564.7" x2="615.4" y2="570.7" stroke="#3b8fe0" stroke-width="1.6"/><circle cx="609" cy="567.7" r="1.1" fill="#3b8fe0"/><circle cx="612.7" cy="567.7" r="1.1" fill="#3b8fe0"/><path d="M509.4 589.2 L600.3 589.2 L600.3 601.8 L509.4 601.8" fill="none" stroke="#e0383c" stroke-width="1.8"/><line x1="600.3" y1="595.5" x2="606.8" y2="595.5" stroke="#e0383c" stroke-width="1.6"/><line x1="606.8" y1="592.5" x2="606.8" y2="598.5" stroke="#e0383c" stroke-width="1.6"/><circle cx="599.3" cy="595.5" r="1.1" fill="#e0383c"/><circle cx="603.55" cy="595.5" r="1.1" fill="#e0383c"/><path d="M509.4 617.5 L597.5 617.5 L597.5 629.9 L509.4 629.9" fill="none" stroke="#f0a048" stroke-width="1.8"/><line x1="597.5" y1="623.7" x2="602.9" y2="623.7" stroke="#f0a048" stroke-width="1.6"/><line x1="602.9" y1="620.7" x2="602.9" y2="626.7" stroke="#f0a048" stroke-width="1.6"/><circle cx="596.5" cy="623.7" r="1.1" fill="#f0a048"/><circle cx="600.2" cy="623.7" r="1.1" fill="#f0a048"/><path d="M509.4 645 L517 645 L517 656.9 L509.4 656.9" fill="none" stroke="#e048c8" stroke-width="1.8"/><path d="M509.4 673.1 L517 673.1 L517 685.4 L509.4 685.4" fill="none" stroke="#2828d8" stroke-width="1.8"/><path d="M618 567.6 L622.3 567.6 L622.3 592 L612.2 592" fill="none" stroke="#444" stroke-width="1"/><path d="M608.9 598.5 L619.7 598.5 L619.7 623.4 L608.9 623.4" fill="none" stroke="#444" stroke-width="1"/><path d="M625.6 567.2 L636.4 567.2 L636.4 623.4 L625.6 623.4" fill="none" stroke="#444" stroke-width="1"/><path d="M626.00 580.10 L630.80 580.10 M627.20 578.02 L629.60 582.18 M629.60 578.02 L627.20 582.18 " stroke="#111" stroke-width="1.25" fill="none"/><text x="0" y="0" font-size="9.5" fill="#333" text-anchor="middle" transform="translate(623.5 611.4) rotate(90)">ns</text><path d="M640.10 592.10 L644.90 592.10 M641.30 590.02 L643.70 594.18 M643.70 590.02 L641.30 594.18 " stroke="#111" stroke-width="1.25" fill="none"/><path d="M640.10 598.20 L644.90 598.20 M641.30 596.12 L643.70 600.28 M643.70 596.12 L641.30 600.28 " stroke="#111" stroke-width="1.25" fill="none"/><line x1="509.4" y1="686.4" x2="509.4" y2="689.4" stroke="#333" stroke-width="0.9"/><text x="509.4" y="699.7" font-size="10.5" fill="#333" text-anchor="middle" font-weight="normal" >0</text><line x1="554.2" y1="686.4" x2="554.2" y2="689.4" stroke="#333" stroke-width="0.9"/><text x="554.2" y="699.7" font-size="10.5" fill="#333" text-anchor="middle" font-weight="normal" >2K</text><line x1="600.3" y1="686.4" x2="600.3" y2="689.4" stroke="#333" stroke-width="0.9"/><text x="600.3" y="699.7" font-size="10.5" fill="#333" text-anchor="middle" font-weight="normal" >4K</text><line x1="645" y1="686.4" x2="645" y2="689.4" stroke="#333" stroke-width="0.9"/><text x="645" y="699.7" font-size="10.5" fill="#333" text-anchor="middle" font-weight="normal" >6K</text><text x="0" y="0" font-size="15" fill="#222" text-anchor="middle" font-weight="normal" transform="translate(340.3 620) rotate(-90)">Count</text><text x="430.5" y="717.4" font-size="15.2" fill="#222" text-anchor="middle" font-weight="normal" >FITC-FAM-A</text><text x="586" y="717.4" font-size="15" fill="#222" text-anchor="middle" font-weight="normal" >MFI</text><line x1="23.8" y1="733.7" x2="23.8" y2="900.6" stroke="#999" stroke-width="1.2"/><path d="M21.6 734.7 L23.8 730.7 L26.0 734.7 Z" fill="#222"/><line x1="23.8" y1="900.6" x2="176.5" y2="900.6" stroke="#999" stroke-width="1.2"/><path d="M175.5 898.4 L179.5 900.6 L175.5 902.8000000000001 Z" fill="#222"/><path d="M34.20 789.82 L34.70 789.81 L35.20 789.80 L35.70 789.80 L36.20 789.79 L36.70 789.78 L37.20 789.78 L37.70 789.77 L38.20 789.76 L38.70 789.75 L39.20 789.74 L39.70 789.73 L40.20 789.72 L40.70 789.70 L41.20 789.69 L41.70 789.68 L42.20 789.66 L42.70 789.65 L43.20 789.63 L43.70 789.62 L44.20 789.60 L44.70 789.58 L45.20 789.56 L45.70 789.54 L46.20 789.52 L46.70 789.49 L47.20 789.47 L47.70 789.44 L48.20 789.42 L48.70 789.39 L49.20 789.36 L49.70 789.33 L50.20 789.30 L50.70 789.26 L51.20 789.23 L51.70 789.19 L52.20 789.15 L52.70 789.11 L53.20 789.06 L53.70 789.02 L54.20 788.97 L54.70 788.92 L55.20 788.87 L55.70 788.82 L56.20 788.76 L56.70 788.70 L57.20 788.64 L57.70 788.58 L58.20 788.51 L58.70 788.44 L59.20 788.37 L59.70 788.29 L60.20 788.22 L60.70 788.14 L61.20 788.05 L61.70 787.97 L62.20 787.88 L62.70 787.78 L63.20 787.69 L63.70 787.59 L64.20 787.48 L64.70 787.37 L65.20 787.26 L65.70 787.14 L66.20 787.02 L66.70 786.90 L67.20 786.76 L67.70 786.63 L68.20 786.49 L68.70 786.34 L69.20 786.18 L69.70 786.02 L70.20 785.85 L70.70 785.67 L71.20 785.48 L71.70 785.29 L72.20 785.08 L72.70 784.86 L73.20 784.62 L73.70 784.37 L74.20 784.10 L74.70 783.82 L75.20 783.51 L75.70 783.19 L76.20 782.83 L76.70 782.45 L77.20 782.05 L77.70 781.60 L78.20 781.13 L78.70 780.61 L79.20 780.06 L79.70 779.46 L80.20 778.82 L80.70 778.12 L81.20 777.38 L81.70 776.58 L82.20 775.72 L82.70 774.80 L83.20 773.83 L83.70 772.79 L84.20 771.69 L84.70 770.54 L85.20 769.32 L85.70 768.06 L86.20 766.74 L86.70 765.38 L87.20 763.97 L87.70 762.54 L88.20 761.09 L88.70 759.63 L89.20 758.17 L89.70 756.74 L90.20 755.33 L90.70 753.98 L91.20 752.71 L91.70 751.52 L92.20 750.46 L92.70 749.54 L93.20 748.80 L93.70 748.27 L94.20 748.05 L94.70 748.17 L95.20 748.45 L95.70 748.86 L96.20 749.41 L96.70 750.06 L97.20 750.79 L97.70 751.60 L98.20 752.47 L98.70 753.39 L99.20 754.35 L99.70 755.35 L100.20 756.37 L100.70 757.41 L101.20 758.46 L101.70 759.52 L102.20 760.57 L102.70 761.63 L103.20 762.67 L103.70 763.69 L104.20 764.70 L104.70 765.69 L105.20 766.65 L105.70 767.59 L106.20 768.50 L106.70 769.37 L107.20 770.22 L107.70 771.04 L108.20 771.82 L108.70 772.57 L109.20 773.29 L109.70 773.97 L110.20 774.63 L110.70 775.25 L111.20 775.84 L111.70 776.41 L112.20 776.94 L112.70 777.44 L113.20 777.92 L113.70 778.38 L114.20 778.81 L114.70 779.22 L115.20 779.60 L115.70 779.97 L116.20 780.31 L116.70 780.64 L117.20 780.95 L117.70 781.25 L118.20 781.53 L118.70 781.79 L119.20 782.04 L119.70 782.29 L120.20 782.52 L120.70 782.74 L121.20 782.95 L121.70 783.15 L122.20 783.34 L122.70 783.53 L123.20 783.71 L123.70 783.88 L124.20 784.04 L124.70 784.21 L125.20 784.36 L125.70 784.51 L126.20 784.66 L126.70 784.80 L127.20 784.94 L127.70 785.07 L128.20 785.20 L128.70 785.33 L129.20 785.45 L129.70 785.57 L130.20 785.69 L130.70 785.81 L131.20 785.92 L131.70 786.03 L132.20 786.14 L132.70 786.24 L133.20 786.34 L133.70 786.44 L134.20 786.54 L134.70 786.64 L135.20 786.73 L135.70 786.82 L136.20 786.91 L136.70 787.00 L137.20 787.09 L137.70 787.17 L138.20 787.25 L138.70 787.33 L139.20 787.41 L139.70 787.49 L140.20 787.56 L140.70 787.64 L141.20 787.71 L141.70 787.78 L142.20 787.84 L142.70 787.91 L143.20 787.98 L143.70 788.04 L144.20 788.10 L144.70 788.16 L145.20 788.22 L145.70 788.27 L146.20 788.33 L146.70 788.38 L147.20 788.43 L147.70 788.48 L148.20 788.53 L148.70 788.58 L149.20 788.63 L149.70 788.67 L150.20 788.72 L150.70 788.76 L151.20 788.80 L151.70 788.84 L152.20 788.88 L152.70 788.91 L153.20 788.95 L153.70 788.99 L154.20 789.02 L154.70 789.05 L155.20 789.09 L155.70 789.12 L156.20 789.15 L156.70 789.18 L157.20 789.20 L157.70 789.23 L158.20 789.26 L158.70 789.28 L159.20 789.31 L159.70 789.33 L160.20 789.35 L160.70 789.37 L161.20 789.40 L161.70 789.42 L162.20 789.44 L162.70 789.46 L163.20 789.47 L163.70 789.49 L164.20 789.51 L164.70 789.52 L165.20 789.54 L165.70 789.56 L166.20 789.57 L166.70 789.58 L167.20 789.60 L167.70 789.61 L168.20 789.62 L168.70 789.64 L169.20 789.65 L169.70 789.66 L170.20 789.67 L170.70 789.68 L171.20 789.69 L171.70 789.70 L172.20 789.71 L172.70 789.72 L173.20 789.72 L173.70 789.73 L174.20 789.74 L174.70 789.75 L175.20 789.75 L175.70 789.76 L176.20 789.77 L176.70 789.77 L177.20 789.78 L177.70 789.79 L178.20 789.79 L178.70 789.80 L179.20 789.80 L179.70 789.81 L180.20 789.81 L180.70 789.81 L181.20 789.82 L181.70 789.82 L182.20 789.83 L182.70 789.83 L183.20 789.83 L183.70 789.84 L184.20 789.84 L184.70 789.84 L185.20 789.85 L185.70 789.85 L186.20 789.85 L186.70 789.85 L187.20 789.86 L187.3 789.9 L34.2 789.9 Z" fill="#8dbdee" fill-opacity="0.82" stroke="none"/><path d="M34.20 789.82 L34.70 789.81 L35.20 789.80 L35.70 789.80 L36.20 789.79 L36.70 789.78 L37.20 789.78 L37.70 789.77 L38.20 789.76 L38.70 789.75 L39.20 789.74 L39.70 789.73 L40.20 789.72 L40.70 789.70 L41.20 789.69 L41.70 789.68 L42.20 789.66 L42.70 789.65 L43.20 789.63 L43.70 789.62 L44.20 789.60 L44.70 789.58 L45.20 789.56 L45.70 789.54 L46.20 789.52 L46.70 789.49 L47.20 789.47 L47.70 789.44 L48.20 789.42 L48.70 789.39 L49.20 789.36 L49.70 789.33 L50.20 789.30 L50.70 789.26 L51.20 789.23 L51.70 789.19 L52.20 789.15 L52.70 789.11 L53.20 789.06 L53.70 789.02 L54.20 788.97 L54.70 788.92 L55.20 788.87 L55.70 788.82 L56.20 788.76 L56.70 788.70 L57.20 788.64 L57.70 788.58 L58.20 788.51 L58.70 788.44 L59.20 788.37 L59.70 788.29 L60.20 788.22 L60.70 788.14 L61.20 788.05 L61.70 787.97 L62.20 787.88 L62.70 787.78 L63.20 787.69 L63.70 787.59 L64.20 787.48 L64.70 787.37 L65.20 787.26 L65.70 787.14 L66.20 787.02 L66.70 786.90 L67.20 786.76 L67.70 786.63 L68.20 786.49 L68.70 786.34 L69.20 786.18 L69.70 786.02 L70.20 785.85 L70.70 785.67 L71.20 785.48 L71.70 785.29 L72.20 785.08 L72.70 784.86 L73.20 784.62 L73.70 784.37 L74.20 784.10 L74.70 783.82 L75.20 783.51 L75.70 783.19 L76.20 782.83 L76.70 782.45 L77.20 782.05 L77.70 781.60 L78.20 781.13 L78.70 780.61 L79.20 780.06 L79.70 779.46 L80.20 778.82 L80.70 778.12 L81.20 777.38 L81.70 776.58 L82.20 775.72 L82.70 774.80 L83.20 773.83 L83.70 772.79 L84.20 771.69 L84.70 770.54 L85.20 769.32 L85.70 768.06 L86.20 766.74 L86.70 765.38 L87.20 763.97 L87.70 762.54 L88.20 761.09 L88.70 759.63 L89.20 758.17 L89.70 756.74 L90.20 755.33 L90.70 753.98 L91.20 752.71 L91.70 751.52 L92.20 750.46 L92.70 749.54 L93.20 748.80 L93.70 748.27 L94.20 748.05 L94.70 748.17 L95.20 748.45 L95.70 748.86 L96.20 749.41 L96.70 750.06 L97.20 750.79 L97.70 751.60 L98.20 752.47 L98.70 753.39 L99.20 754.35 L99.70 755.35 L100.20 756.37 L100.70 757.41 L101.20 758.46 L101.70 759.52 L102.20 760.57 L102.70 761.63 L103.20 762.67 L103.70 763.69 L104.20 764.70 L104.70 765.69 L105.20 766.65 L105.70 767.59 L106.20 768.50 L106.70 769.37 L107.20 770.22 L107.70 771.04 L108.20 771.82 L108.70 772.57 L109.20 773.29 L109.70 773.97 L110.20 774.63 L110.70 775.25 L111.20 775.84 L111.70 776.41 L112.20 776.94 L112.70 777.44 L113.20 777.92 L113.70 778.38 L114.20 778.81 L114.70 779.22 L115.20 779.60 L115.70 779.97 L116.20 780.31 L116.70 780.64 L117.20 780.95 L117.70 781.25 L118.20 781.53 L118.70 781.79 L119.20 782.04 L119.70 782.29 L120.20 782.52 L120.70 782.74 L121.20 782.95 L121.70 783.15 L122.20 783.34 L122.70 783.53 L123.20 783.71 L123.70 783.88 L124.20 784.04 L124.70 784.21 L125.20 784.36 L125.70 784.51 L126.20 784.66 L126.70 784.80 L127.20 784.94 L127.70 785.07 L128.20 785.20 L128.70 785.33 L129.20 785.45 L129.70 785.57 L130.20 785.69 L130.70 785.81 L131.20 785.92 L131.70 786.03 L132.20 786.14 L132.70 786.24 L133.20 786.34 L133.70 786.44 L134.20 786.54 L134.70 786.64 L135.20 786.73 L135.70 786.82 L136.20 786.91 L136.70 787.00 L137.20 787.09 L137.70 787.17 L138.20 787.25 L138.70 787.33 L139.20 787.41 L139.70 787.49 L140.20 787.56 L140.70 787.64 L141.20 787.71 L141.70 787.78 L142.20 787.84 L142.70 787.91 L143.20 787.98 L143.70 788.04 L144.20 788.10 L144.70 788.16 L145.20 788.22 L145.70 788.27 L146.20 788.33 L146.70 788.38 L147.20 788.43 L147.70 788.48 L148.20 788.53 L148.70 788.58 L149.20 788.63 L149.70 788.67 L150.20 788.72 L150.70 788.76 L151.20 788.80 L151.70 788.84 L152.20 788.88 L152.70 788.91 L153.20 788.95 L153.70 788.99 L154.20 789.02 L154.70 789.05 L155.20 789.09 L155.70 789.12 L156.20 789.15 L156.70 789.18 L157.20 789.20 L157.70 789.23 L158.20 789.26 L158.70 789.28 L159.20 789.31 L159.70 789.33 L160.20 789.35 L160.70 789.37 L161.20 789.40 L161.70 789.42 L162.20 789.44 L162.70 789.46 L163.20 789.47 L163.70 789.49 L164.20 789.51 L164.70 789.52 L165.20 789.54 L165.70 789.56 L166.20 789.57 L166.70 789.58 L167.20 789.60 L167.70 789.61 L168.20 789.62 L168.70 789.64 L169.20 789.65 L169.70 789.66 L170.20 789.67 L170.70 789.68 L171.20 789.69 L171.70 789.70 L172.20 789.71 L172.70 789.72 L173.20 789.72 L173.70 789.73 L174.20 789.74 L174.70 789.75 L175.20 789.75 L175.70 789.76 L176.20 789.77 L176.70 789.77 L177.20 789.78 L177.70 789.79 L178.20 789.79 L178.70 789.80 L179.20 789.80 L179.70 789.81 L180.20 789.81 L180.70 789.81 L181.20 789.82 L181.70 789.82 L182.20 789.83 L182.70 789.83 L183.20 789.83 L183.70 789.84 L184.20 789.84 L184.70 789.84 L185.20 789.85 L185.70 789.85 L186.20 789.85 L186.70 789.85 L187.20 789.86" fill="none" stroke="#4d94d8" stroke-width="0.9"/><path d="M34.20 815.35 L34.70 815.35 L35.20 815.35 L35.70 815.34 L36.20 815.34 L36.70 815.33 L37.20 815.33 L37.70 815.32 L38.20 815.32 L38.70 815.31 L39.20 815.30 L39.70 815.30 L40.20 815.29 L40.70 815.28 L41.20 815.28 L41.70 815.27 L42.20 815.26 L42.70 815.25 L43.20 815.24 L43.70 815.23 L44.20 815.22 L44.70 815.20 L45.20 815.19 L45.70 815.18 L46.20 815.16 L46.70 815.15 L47.20 815.13 L47.70 815.12 L48.20 815.10 L48.70 815.08 L49.20 815.06 L49.70 815.04 L50.20 815.02 L50.70 814.99 L51.20 814.97 L51.70 814.94 L52.20 814.92 L52.70 814.89 L53.20 814.86 L53.70 814.83 L54.20 814.80 L54.70 814.76 L55.20 814.73 L55.70 814.69 L56.20 814.65 L56.70 814.61 L57.20 814.56 L57.70 814.52 L58.20 814.47 L58.70 814.42 L59.20 814.37 L59.70 814.32 L60.20 814.26 L60.70 814.20 L61.20 814.14 L61.70 814.08 L62.20 814.01 L62.70 813.94 L63.20 813.87 L63.70 813.80 L64.20 813.72 L64.70 813.64 L65.20 813.55 L65.70 813.47 L66.20 813.38 L66.70 813.28 L67.20 813.19 L67.70 813.09 L68.20 812.98 L68.70 812.88 L69.20 812.77 L69.70 812.65 L70.20 812.53 L70.70 812.41 L71.20 812.28 L71.70 812.15 L72.20 812.01 L72.70 811.86 L73.20 811.72 L73.70 811.56 L74.20 811.40 L74.70 811.24 L75.20 811.06 L75.70 810.88 L76.20 810.69 L76.70 810.49 L77.20 810.28 L77.70 810.07 L78.20 809.84 L78.70 809.60 L79.20 809.34 L79.70 809.07 L80.20 808.79 L80.70 808.48 L81.20 808.16 L81.70 807.82 L82.20 807.45 L82.70 807.07 L83.20 806.65 L83.70 806.21 L84.20 805.73 L84.70 805.23 L85.20 804.68 L85.70 804.11 L86.20 803.49 L86.70 802.83 L87.20 802.13 L87.70 801.38 L88.20 800.58 L88.70 799.74 L89.20 798.85 L89.70 797.90 L90.20 796.91 L90.70 795.87 L91.20 794.78 L91.70 793.65 L92.20 792.47 L92.70 791.25 L93.20 790.00 L93.70 788.71 L94.20 787.41 L94.70 786.09 L95.20 784.76 L95.70 783.44 L96.20 782.13 L96.70 780.85 L97.20 779.61 L97.70 778.42 L98.20 777.32 L98.70 776.30 L99.20 775.39 L99.70 774.62 L100.20 774.02 L100.70 773.60 L101.20 773.43 L101.70 773.58 L102.20 773.90 L102.70 774.36 L103.20 774.92 L103.70 775.58 L104.20 776.31 L104.70 777.12 L105.20 777.98 L105.70 778.89 L106.20 779.85 L106.70 780.83 L107.20 781.84 L107.70 782.87 L108.20 783.90 L108.70 784.94 L109.20 785.98 L109.70 787.01 L110.20 788.03 L110.70 789.04 L111.20 790.03 L111.70 790.99 L112.20 791.93 L112.70 792.84 L113.20 793.72 L113.70 794.57 L114.20 795.39 L114.70 796.17 L115.20 796.93 L115.70 797.65 L116.20 798.33 L116.70 798.99 L117.20 799.61 L117.70 800.20 L118.20 800.76 L118.70 801.28 L119.20 801.78 L119.70 802.25 L120.20 802.70 L120.70 803.12 L121.20 803.51 L121.70 803.88 L122.20 804.23 L122.70 804.56 L123.20 804.87 L123.70 805.16 L124.20 805.44 L124.70 805.70 L125.20 805.95 L125.70 806.18 L126.20 806.40 L126.70 806.61 L127.20 806.81 L127.70 806.99 L128.20 807.17 L128.70 807.35 L129.20 807.51 L129.70 807.67 L130.20 807.82 L130.70 807.96 L131.20 808.10 L131.70 808.24 L132.20 808.37 L132.70 808.50 L133.20 808.62 L133.70 808.74 L134.20 808.86 L134.70 808.97 L135.20 809.09 L135.70 809.20 L136.20 809.31 L136.70 809.41 L137.20 809.52 L137.70 809.62 L138.20 809.72 L138.70 809.82 L139.20 809.92 L139.70 810.01 L140.20 810.11 L140.70 810.20 L141.20 810.30 L141.70 810.39 L142.20 810.48 L142.70 810.57 L143.20 810.66 L143.70 810.74 L144.20 810.83 L144.70 810.91 L145.20 811.00 L145.70 811.08 L146.20 811.16 L146.70 811.24 L147.20 811.32 L147.70 811.40 L148.20 811.48 L148.70 811.56 L149.20 811.63 L149.70 811.71 L150.20 811.78 L150.70 811.86 L151.20 811.93 L151.70 812.00 L152.20 812.07 L152.70 812.14 L153.20 812.21 L153.70 812.27 L154.20 812.34 L154.70 812.41 L155.20 812.47 L155.70 812.53 L156.20 812.59 L156.70 812.66 L157.20 812.72 L157.70 812.78 L158.20 812.83 L158.70 812.89 L159.20 812.95 L159.70 813.00 L160.20 813.06 L160.70 813.11 L161.20 813.16 L161.70 813.22 L162.20 813.27 L162.70 813.32 L163.20 813.37 L163.70 813.41 L164.20 813.46 L164.70 813.51 L165.20 813.55 L165.70 813.60 L166.20 813.64 L166.70 813.68 L167.20 813.73 L167.70 813.77 L168.20 813.81 L168.70 813.85 L169.20 813.89 L169.70 813.92 L170.20 813.96 L170.70 814.00 L171.20 814.03 L171.70 814.07 L172.20 814.10 L172.70 814.14 L173.20 814.17 L173.70 814.20 L174.20 814.23 L174.70 814.26 L175.20 814.29 L175.70 814.32 L176.20 814.35 L176.70 814.38 L177.20 814.41 L177.70 814.44 L178.20 814.46 L178.70 814.49 L179.20 814.51 L179.70 814.54 L180.20 814.56 L180.70 814.58 L181.20 814.61 L181.70 814.63 L182.20 814.65 L182.70 814.67 L183.20 814.69 L183.70 814.71 L184.20 814.73 L184.70 814.75 L185.20 814.77 L185.70 814.79 L186.20 814.81 L186.70 814.82 L187.20 814.84 L187.3 815.4 L34.2 815.4 Z" fill="#f29c98" fill-opacity="0.82" stroke="none"/><path d="M34.20 815.35 L34.70 815.35 L35.20 815.35 L35.70 815.34 L36.20 815.34 L36.70 815.33 L37.20 815.33 L37.70 815.32 L38.20 815.32 L38.70 815.31 L39.20 815.30 L39.70 815.30 L40.20 815.29 L40.70 815.28 L41.20 815.28 L41.70 815.27 L42.20 815.26 L42.70 815.25 L43.20 815.24 L43.70 815.23 L44.20 815.22 L44.70 815.20 L45.20 815.19 L45.70 815.18 L46.20 815.16 L46.70 815.15 L47.20 815.13 L47.70 815.12 L48.20 815.10 L48.70 815.08 L49.20 815.06 L49.70 815.04 L50.20 815.02 L50.70 814.99 L51.20 814.97 L51.70 814.94 L52.20 814.92 L52.70 814.89 L53.20 814.86 L53.70 814.83 L54.20 814.80 L54.70 814.76 L55.20 814.73 L55.70 814.69 L56.20 814.65 L56.70 814.61 L57.20 814.56 L57.70 814.52 L58.20 814.47 L58.70 814.42 L59.20 814.37 L59.70 814.32 L60.20 814.26 L60.70 814.20 L61.20 814.14 L61.70 814.08 L62.20 814.01 L62.70 813.94 L63.20 813.87 L63.70 813.80 L64.20 813.72 L64.70 813.64 L65.20 813.55 L65.70 813.47 L66.20 813.38 L66.70 813.28 L67.20 813.19 L67.70 813.09 L68.20 812.98 L68.70 812.88 L69.20 812.77 L69.70 812.65 L70.20 812.53 L70.70 812.41 L71.20 812.28 L71.70 812.15 L72.20 812.01 L72.70 811.86 L73.20 811.72 L73.70 811.56 L74.20 811.40 L74.70 811.24 L75.20 811.06 L75.70 810.88 L76.20 810.69 L76.70 810.49 L77.20 810.28 L77.70 810.07 L78.20 809.84 L78.70 809.60 L79.20 809.34 L79.70 809.07 L80.20 808.79 L80.70 808.48 L81.20 808.16 L81.70 807.82 L82.20 807.45 L82.70 807.07 L83.20 806.65 L83.70 806.21 L84.20 805.73 L84.70 805.23 L85.20 804.68 L85.70 804.11 L86.20 803.49 L86.70 802.83 L87.20 802.13 L87.70 801.38 L88.20 800.58 L88.70 799.74 L89.20 798.85 L89.70 797.90 L90.20 796.91 L90.70 795.87 L91.20 794.78 L91.70 793.65 L92.20 792.47 L92.70 791.25 L93.20 790.00 L93.70 788.71 L94.20 787.41 L94.70 786.09 L95.20 784.76 L95.70 783.44 L96.20 782.13 L96.70 780.85 L97.20 779.61 L97.70 778.42 L98.20 777.32 L98.70 776.30 L99.20 775.39 L99.70 774.62 L100.20 774.02 L100.70 773.60 L101.20 773.43 L101.70 773.58 L102.20 773.90 L102.70 774.36 L103.20 774.92 L103.70 775.58 L104.20 776.31 L104.70 777.12 L105.20 777.98 L105.70 778.89 L106.20 779.85 L106.70 780.83 L107.20 781.84 L107.70 782.87 L108.20 783.90 L108.70 784.94 L109.20 785.98 L109.70 787.01 L110.20 788.03 L110.70 789.04 L111.20 790.03 L111.70 790.99 L112.20 791.93 L112.70 792.84 L113.20 793.72 L113.70 794.57 L114.20 795.39 L114.70 796.17 L115.20 796.93 L115.70 797.65 L116.20 798.33 L116.70 798.99 L117.20 799.61 L117.70 800.20 L118.20 800.76 L118.70 801.28 L119.20 801.78 L119.70 802.25 L120.20 802.70 L120.70 803.12 L121.20 803.51 L121.70 803.88 L122.20 804.23 L122.70 804.56 L123.20 804.87 L123.70 805.16 L124.20 805.44 L124.70 805.70 L125.20 805.95 L125.70 806.18 L126.20 806.40 L126.70 806.61 L127.20 806.81 L127.70 806.99 L128.20 807.17 L128.70 807.35 L129.20 807.51 L129.70 807.67 L130.20 807.82 L130.70 807.96 L131.20 808.10 L131.70 808.24 L132.20 808.37 L132.70 808.50 L133.20 808.62 L133.70 808.74 L134.20 808.86 L134.70 808.97 L135.20 809.09 L135.70 809.20 L136.20 809.31 L136.70 809.41 L137.20 809.52 L137.70 809.62 L138.20 809.72 L138.70 809.82 L139.20 809.92 L139.70 810.01 L140.20 810.11 L140.70 810.20 L141.20 810.30 L141.70 810.39 L142.20 810.48 L142.70 810.57 L143.20 810.66 L143.70 810.74 L144.20 810.83 L144.70 810.91 L145.20 811.00 L145.70 811.08 L146.20 811.16 L146.70 811.24 L147.20 811.32 L147.70 811.40 L148.20 811.48 L148.70 811.56 L149.20 811.63 L149.70 811.71 L150.20 811.78 L150.70 811.86 L151.20 811.93 L151.70 812.00 L152.20 812.07 L152.70 812.14 L153.20 812.21 L153.70 812.27 L154.20 812.34 L154.70 812.41 L155.20 812.47 L155.70 812.53 L156.20 812.59 L156.70 812.66 L157.20 812.72 L157.70 812.78 L158.20 812.83 L158.70 812.89 L159.20 812.95 L159.70 813.00 L160.20 813.06 L160.70 813.11 L161.20 813.16 L161.70 813.22 L162.20 813.27 L162.70 813.32 L163.20 813.37 L163.70 813.41 L164.20 813.46 L164.70 813.51 L165.20 813.55 L165.70 813.60 L166.20 813.64 L166.70 813.68 L167.20 813.73 L167.70 813.77 L168.20 813.81 L168.70 813.85 L169.20 813.89 L169.70 813.92 L170.20 813.96 L170.70 814.00 L171.20 814.03 L171.70 814.07 L172.20 814.10 L172.70 814.14 L173.20 814.17 L173.70 814.20 L174.20 814.23 L174.70 814.26 L175.20 814.29 L175.70 814.32 L176.20 814.35 L176.70 814.38 L177.20 814.41 L177.70 814.44 L178.20 814.46 L178.70 814.49 L179.20 814.51 L179.70 814.54 L180.20 814.56 L180.70 814.58 L181.20 814.61 L181.70 814.63 L182.20 814.65 L182.70 814.67 L183.20 814.69 L183.70 814.71 L184.20 814.73 L184.70 814.75 L185.20 814.77 L185.70 814.79 L186.20 814.81 L186.70 814.82 L187.20 814.84" fill="none" stroke="#d8606a" stroke-width="0.9"/><path d="M34.20 840.69 L34.70 840.68 L35.20 840.68 L35.70 840.68 L36.20 840.68 L36.70 840.68 L37.20 840.68 L37.70 840.67 L38.20 840.67 L38.70 840.67 L39.20 840.67 L39.70 840.66 L40.20 840.66 L40.70 840.66 L41.20 840.66 L41.70 840.65 L42.20 840.65 L42.70 840.64 L43.20 840.64 L43.70 840.63 L44.20 840.63 L44.70 840.62 L45.20 840.62 L45.70 840.61 L46.20 840.60 L46.70 840.59 L47.20 840.59 L47.70 840.58 L48.20 840.57 L48.70 840.56 L49.20 840.55 L49.70 840.54 L50.20 840.52 L50.70 840.51 L51.20 840.50 L51.70 840.48 L52.20 840.46 L52.70 840.45 L53.20 840.43 L53.70 840.41 L54.20 840.39 L54.70 840.37 L55.20 840.35 L55.70 840.32 L56.20 840.30 L56.70 840.27 L57.20 840.24 L57.70 840.21 L58.20 840.18 L58.70 840.14 L59.20 840.11 L59.70 840.07 L60.20 840.03 L60.70 839.99 L61.20 839.94 L61.70 839.90 L62.20 839.85 L62.70 839.80 L63.20 839.74 L63.70 839.68 L64.20 839.62 L64.70 839.56 L65.20 839.49 L65.70 839.42 L66.20 839.35 L66.70 839.27 L67.20 839.19 L67.70 839.11 L68.20 839.02 L68.70 838.92 L69.20 838.82 L69.70 838.72 L70.20 838.61 L70.70 838.49 L71.20 838.37 L71.70 838.24 L72.20 838.11 L72.70 837.97 L73.20 837.82 L73.70 837.66 L74.20 837.49 L74.70 837.31 L75.20 837.12 L75.70 836.92 L76.20 836.70 L76.70 836.48 L77.20 836.23 L77.70 835.97 L78.20 835.70 L78.70 835.40 L79.20 835.08 L79.70 834.75 L80.20 834.38 L80.70 834.00 L81.20 833.58 L81.70 833.14 L82.20 832.66 L82.70 832.16 L83.20 831.61 L83.70 831.03 L84.20 830.41 L84.70 829.75 L85.20 829.05 L85.70 828.30 L86.20 827.51 L86.70 826.67 L87.20 825.78 L87.70 824.84 L88.20 823.85 L88.70 822.82 L89.20 821.73 L89.70 820.60 L90.20 819.42 L90.70 818.20 L91.20 816.94 L91.70 815.65 L92.20 814.32 L92.70 812.97 L93.20 811.60 L93.70 810.23 L94.20 808.85 L94.70 807.47 L95.20 806.12 L95.70 804.80 L96.20 803.52 L96.70 802.30 L97.20 801.16 L97.70 800.11 L98.20 799.17 L98.70 798.37 L99.20 797.72 L99.70 797.23 L100.20 796.95 L100.70 796.97 L101.20 797.29 L101.70 797.78 L102.20 798.40 L102.70 799.15 L103.20 799.99 L103.70 800.93 L104.20 801.94 L104.70 803.01 L105.20 804.14 L105.70 805.31 L106.20 806.51 L106.70 807.74 L107.20 808.98 L107.70 810.24 L108.20 811.49 L108.70 812.75 L109.20 813.99 L109.70 815.21 L110.20 816.42 L110.70 817.60 L111.20 818.75 L111.70 819.87 L112.20 820.96 L112.70 822.01 L113.20 823.02 L113.70 824.00 L114.20 824.94 L114.70 825.83 L115.20 826.69 L115.70 827.51 L116.20 828.28 L116.70 829.02 L117.20 829.72 L117.70 830.38 L118.20 831.00 L118.70 831.59 L119.20 832.15 L119.70 832.67 L120.20 833.16 L120.70 833.62 L121.20 834.05 L121.70 834.46 L122.20 834.83 L122.70 835.19 L123.20 835.52 L123.70 835.83 L124.20 836.12 L124.70 836.39 L125.20 836.65 L125.70 836.88 L126.20 837.11 L126.70 837.31 L127.20 837.51 L127.70 837.69 L128.20 837.86 L128.70 838.02 L129.20 838.17 L129.70 838.31 L130.20 838.44 L130.70 838.56 L131.20 838.68 L131.70 838.79 L132.20 838.89 L132.70 838.99 L133.20 839.08 L133.70 839.16 L134.20 839.24 L134.70 839.32 L135.20 839.39 L135.70 839.46 L136.20 839.53 L136.70 839.59 L137.20 839.65 L137.70 839.70 L138.20 839.76 L138.70 839.81 L139.20 839.85 L139.70 839.90 L140.20 839.94 L140.70 839.98 L141.20 840.02 L141.70 840.06 L142.20 840.09 L142.70 840.12 L143.20 840.16 L143.70 840.19 L144.20 840.21 L144.70 840.24 L145.20 840.27 L145.70 840.29 L146.20 840.31 L146.70 840.34 L147.20 840.36 L147.70 840.38 L148.20 840.39 L148.70 840.41 L149.20 840.43 L149.70 840.45 L150.20 840.46 L150.70 840.47 L151.20 840.49 L151.70 840.50 L152.20 840.51 L152.70 840.52 L153.20 840.53 L153.70 840.55 L154.20 840.55 L154.70 840.56 L155.20 840.57 L155.70 840.58 L156.20 840.59 L156.70 840.59 L157.20 840.60 L157.70 840.61 L158.20 840.61 L158.70 840.62 L159.20 840.62 L159.70 840.63 L160.20 840.63 L160.70 840.64 L161.20 840.64 L161.70 840.65 L162.20 840.65 L162.70 840.65 L163.20 840.66 L163.70 840.66 L164.20 840.66 L164.70 840.67 L165.20 840.67 L165.70 840.67 L166.20 840.67 L166.70 840.67 L167.20 840.68 L167.70 840.68 L168.20 840.68 L168.70 840.68 L169.20 840.68 L169.70 840.68 L170.20 840.68 L170.70 840.69 L171.20 840.69 L171.70 840.69 L172.20 840.69 L172.70 840.69 L173.20 840.69 L173.70 840.69 L174.20 840.69 L174.70 840.69 L175.20 840.69 L175.70 840.69 L176.20 840.69 L176.70 840.69 L177.20 840.69 L177.70 840.70 L178.20 840.70 L178.70 840.70 L179.20 840.70 L179.70 840.70 L180.20 840.70 L180.70 840.70 L181.20 840.70 L181.70 840.70 L182.20 840.70 L182.70 840.70 L183.20 840.70 L183.70 840.70 L184.20 840.70 L184.70 840.70 L185.20 840.70 L185.70 840.70 L186.20 840.70 L186.70 840.70 L187.20 840.70 L187.3 840.7 L34.2 840.7 Z" fill="#f9c894" fill-opacity="0.82" stroke="none"/><path d="M34.20 840.69 L34.70 840.68 L35.20 840.68 L35.70 840.68 L36.20 840.68 L36.70 840.68 L37.20 840.68 L37.70 840.67 L38.20 840.67 L38.70 840.67 L39.20 840.67 L39.70 840.66 L40.20 840.66 L40.70 840.66 L41.20 840.66 L41.70 840.65 L42.20 840.65 L42.70 840.64 L43.20 840.64 L43.70 840.63 L44.20 840.63 L44.70 840.62 L45.20 840.62 L45.70 840.61 L46.20 840.60 L46.70 840.59 L47.20 840.59 L47.70 840.58 L48.20 840.57 L48.70 840.56 L49.20 840.55 L49.70 840.54 L50.20 840.52 L50.70 840.51 L51.20 840.50 L51.70 840.48 L52.20 840.46 L52.70 840.45 L53.20 840.43 L53.70 840.41 L54.20 840.39 L54.70 840.37 L55.20 840.35 L55.70 840.32 L56.20 840.30 L56.70 840.27 L57.20 840.24 L57.70 840.21 L58.20 840.18 L58.70 840.14 L59.20 840.11 L59.70 840.07 L60.20 840.03 L60.70 839.99 L61.20 839.94 L61.70 839.90 L62.20 839.85 L62.70 839.80 L63.20 839.74 L63.70 839.68 L64.20 839.62 L64.70 839.56 L65.20 839.49 L65.70 839.42 L66.20 839.35 L66.70 839.27 L67.20 839.19 L67.70 839.11 L68.20 839.02 L68.70 838.92 L69.20 838.82 L69.70 838.72 L70.20 838.61 L70.70 838.49 L71.20 838.37 L71.70 838.24 L72.20 838.11 L72.70 837.97 L73.20 837.82 L73.70 837.66 L74.20 837.49 L74.70 837.31 L75.20 837.12 L75.70 836.92 L76.20 836.70 L76.70 836.48 L77.20 836.23 L77.70 835.97 L78.20 835.70 L78.70 835.40 L79.20 835.08 L79.70 834.75 L80.20 834.38 L80.70 834.00 L81.20 833.58 L81.70 833.14 L82.20 832.66 L82.70 832.16 L83.20 831.61 L83.70 831.03 L84.20 830.41 L84.70 829.75 L85.20 829.05 L85.70 828.30 L86.20 827.51 L86.70 826.67 L87.20 825.78 L87.70 824.84 L88.20 823.85 L88.70 822.82 L89.20 821.73 L89.70 820.60 L90.20 819.42 L90.70 818.20 L91.20 816.94 L91.70 815.65 L92.20 814.32 L92.70 812.97 L93.20 811.60 L93.70 810.23 L94.20 808.85 L94.70 807.47 L95.20 806.12 L95.70 804.80 L96.20 803.52 L96.70 802.30 L97.20 801.16 L97.70 800.11 L98.20 799.17 L98.70 798.37 L99.20 797.72 L99.70 797.23 L100.20 796.95 L100.70 796.97 L101.20 797.29 L101.70 797.78 L102.20 798.40 L102.70 799.15 L103.20 799.99 L103.70 800.93 L104.20 801.94 L104.70 803.01 L105.20 804.14 L105.70 805.31 L106.20 806.51 L106.70 807.74 L107.20 808.98 L107.70 810.24 L108.20 811.49 L108.70 812.75 L109.20 813.99 L109.70 815.21 L110.20 816.42 L110.70 817.60 L111.20 818.75 L111.70 819.87 L112.20 820.96 L112.70 822.01 L113.20 823.02 L113.70 824.00 L114.20 824.94 L114.70 825.83 L115.20 826.69 L115.70 827.51 L116.20 828.28 L116.70 829.02 L117.20 829.72 L117.70 830.38 L118.20 831.00 L118.70 831.59 L119.20 832.15 L119.70 832.67 L120.20 833.16 L120.70 833.62 L121.20 834.05 L121.70 834.46 L122.20 834.83 L122.70 835.19 L123.20 835.52 L123.70 835.83 L124.20 836.12 L124.70 836.39 L125.20 836.65 L125.70 836.88 L126.20 837.11 L126.70 837.31 L127.20 837.51 L127.70 837.69 L128.20 837.86 L128.70 838.02 L129.20 838.17 L129.70 838.31 L130.20 838.44 L130.70 838.56 L131.20 838.68 L131.70 838.79 L132.20 838.89 L132.70 838.99 L133.20 839.08 L133.70 839.16 L134.20 839.24 L134.70 839.32 L135.20 839.39 L135.70 839.46 L136.20 839.53 L136.70 839.59 L137.20 839.65 L137.70 839.70 L138.20 839.76 L138.70 839.81 L139.20 839.85 L139.70 839.90 L140.20 839.94 L140.70 839.98 L141.20 840.02 L141.70 840.06 L142.20 840.09 L142.70 840.12 L143.20 840.16 L143.70 840.19 L144.20 840.21 L144.70 840.24 L145.20 840.27 L145.70 840.29 L146.20 840.31 L146.70 840.34 L147.20 840.36 L147.70 840.38 L148.20 840.39 L148.70 840.41 L149.20 840.43 L149.70 840.45 L150.20 840.46 L150.70 840.47 L151.20 840.49 L151.70 840.50 L152.20 840.51 L152.70 840.52 L153.20 840.53 L153.70 840.55 L154.20 840.55 L154.70 840.56 L155.20 840.57 L155.70 840.58 L156.20 840.59 L156.70 840.59 L157.20 840.60 L157.70 840.61 L158.20 840.61 L158.70 840.62 L159.20 840.62 L159.70 840.63 L160.20 840.63 L160.70 840.64 L161.20 840.64 L161.70 840.65 L162.20 840.65 L162.70 840.65 L163.20 840.66 L163.70 840.66 L164.20 840.66 L164.70 840.67 L165.20 840.67 L165.70 840.67 L166.20 840.67 L166.70 840.67 L167.20 840.68 L167.70 840.68 L168.20 840.68 L168.70 840.68 L169.20 840.68 L169.70 840.68 L170.20 840.68 L170.70 840.69 L171.20 840.69 L171.70 840.69 L172.20 840.69 L172.70 840.69 L173.20 840.69 L173.70 840.69 L174.20 840.69 L174.70 840.69 L175.20 840.69 L175.70 840.69 L176.20 840.69 L176.70 840.69 L177.20 840.69 L177.70 840.70 L178.20 840.70 L178.70 840.70 L179.20 840.70 L179.70 840.70 L180.20 840.70 L180.70 840.70 L181.20 840.70 L181.70 840.70 L182.20 840.70 L182.70 840.70 L183.20 840.70 L183.70 840.70 L184.20 840.70 L184.70 840.70 L185.20 840.70 L185.70 840.70 L186.20 840.70 L186.70 840.70 L187.20 840.70" fill="none" stroke="#e8a65c" stroke-width="0.9"/><path d="M34.20 864.57 L34.70 864.52 L35.20 864.47 L35.70 864.42 L36.20 864.36 L36.70 864.30 L37.20 864.24 L37.70 864.18 L38.20 864.11 L38.70 864.04 L39.20 863.97 L39.70 863.90 L40.20 863.82 L40.70 863.74 L41.20 863.66 L41.70 863.57 L42.20 863.48 L42.70 863.39 L43.20 863.29 L43.70 863.20 L44.20 863.09 L44.70 862.99 L45.20 862.88 L45.70 862.77 L46.20 862.65 L46.70 862.54 L47.20 862.41 L47.70 862.29 L48.20 862.16 L48.70 862.03 L49.20 861.89 L49.70 861.75 L50.20 861.61 L50.70 861.46 L51.20 861.31 L51.70 861.16 L52.20 861.00 L52.70 860.85 L53.20 860.68 L53.70 860.52 L54.20 860.35 L54.70 860.18 L55.20 860.00 L55.70 859.82 L56.20 859.64 L56.70 859.46 L57.20 859.27 L57.70 859.08 L58.20 858.89 L58.70 858.69 L59.20 858.49 L59.70 858.29 L60.20 858.08 L60.70 857.87 L61.20 857.65 L61.70 857.43 L62.20 857.20 L62.70 856.96 L63.20 856.72 L63.70 856.46 L64.20 856.19 L64.70 855.91 L65.20 855.61 L65.70 855.29 L66.20 854.95 L66.70 854.59 L67.20 854.19 L67.70 853.76 L68.20 853.29 L68.70 852.78 L69.20 852.21 L69.70 851.60 L70.20 850.92 L70.70 850.18 L71.20 849.36 L71.70 848.48 L72.20 847.51 L72.70 846.46 L73.20 845.32 L73.70 844.10 L74.20 842.79 L74.70 841.40 L75.20 839.93 L75.70 838.40 L76.20 836.82 L76.70 835.22 L77.20 833.60 L77.70 831.99 L78.20 830.39 L78.70 828.84 L79.20 827.36 L79.70 825.99 L80.20 824.76 L80.70 823.72 L81.20 822.92 L81.70 822.41 L82.20 822.30 L82.70 822.77 L83.20 823.55 L83.70 824.54 L84.20 825.72 L84.70 827.04 L85.20 828.48 L85.70 830.01 L86.20 831.61 L86.70 833.26 L87.20 834.94 L87.70 836.63 L88.20 838.31 L88.70 839.97 L89.20 841.60 L89.70 843.19 L90.20 844.73 L90.70 846.21 L91.20 847.63 L91.70 848.98 L92.20 850.26 L92.70 851.47 L93.20 852.60 L93.70 853.66 L94.20 854.65 L94.70 855.57 L95.20 856.42 L95.70 857.21 L96.20 857.93 L96.70 858.60 L97.20 859.21 L97.70 859.77 L98.20 860.27 L98.70 860.74 L99.20 861.16 L99.70 861.54 L100.20 861.89 L100.70 862.21 L101.20 862.50 L101.70 862.76 L102.20 862.99 L102.70 863.21 L103.20 863.40 L103.70 863.58 L104.20 863.74 L104.70 863.88 L105.20 864.01 L105.70 864.13 L106.20 864.24 L106.70 864.34 L107.20 864.44 L107.70 864.52 L108.20 864.60 L108.70 864.67 L109.20 864.73 L109.70 864.79 L110.20 864.85 L110.70 864.90 L111.20 864.94 L111.70 864.99 L112.20 865.03 L112.70 865.06 L113.20 865.10 L113.70 865.13 L114.20 865.16 L114.70 865.19 L115.20 865.21 L115.70 865.23 L116.20 865.26 L116.70 865.28 L117.20 865.29 L117.70 865.31 L118.20 865.33 L118.70 865.34 L119.20 865.35 L119.70 865.37 L120.20 865.38 L120.70 865.39 L121.20 865.40 L121.70 865.41 L122.20 865.41 L122.70 865.42 L123.20 865.43 L123.70 865.44 L124.20 865.44 L124.70 865.45 L125.20 865.45 L125.70 865.46 L126.20 865.46 L126.70 865.46 L127.20 865.47 L127.70 865.47 L128.20 865.47 L128.70 865.48 L129.20 865.48 L129.70 865.48 L130.20 865.48 L130.70 865.48 L131.20 865.49 L131.70 865.49 L132.20 865.49 L132.70 865.49 L133.20 865.49 L133.70 865.49 L134.20 865.49 L134.70 865.49 L135.20 865.49 L135.70 865.49 L136.20 865.49 L136.70 865.50 L137.20 865.50 L137.70 865.50 L138.20 865.50 L138.70 865.50 L139.20 865.50 L139.70 865.50 L140.20 865.50 L140.70 865.50 L141.20 865.50 L141.70 865.50 L142.20 865.50 L142.70 865.50 L143.20 865.50 L143.70 865.50 L144.20 865.50 L144.70 865.50 L145.20 865.50 L145.70 865.50 L146.20 865.50 L146.70 865.50 L147.20 865.50 L147.70 865.50 L148.20 865.50 L148.70 865.50 L149.20 865.50 L149.70 865.50 L150.20 865.50 L150.70 865.50 L151.20 865.50 L151.70 865.50 L152.20 865.50 L152.70 865.50 L153.20 865.50 L153.70 865.50 L154.20 865.50 L154.70 865.50 L155.20 865.50 L155.70 865.50 L156.20 865.50 L156.70 865.50 L157.20 865.50 L157.70 865.50 L158.20 865.50 L158.70 865.50 L159.20 865.50 L159.70 865.50 L160.20 865.50 L160.70 865.50 L161.20 865.50 L161.70 865.50 L162.20 865.50 L162.70 865.50 L163.20 865.50 L163.70 865.50 L164.20 865.50 L164.70 865.50 L165.20 865.50 L165.70 865.50 L166.20 865.50 L166.70 865.50 L167.20 865.50 L167.70 865.50 L168.20 865.50 L168.70 865.50 L169.20 865.50 L169.70 865.50 L170.20 865.50 L170.70 865.50 L171.20 865.50 L171.70 865.50 L172.20 865.50 L172.70 865.50 L173.20 865.50 L173.70 865.50 L174.20 865.50 L174.70 865.50 L175.20 865.50 L175.70 865.50 L176.20 865.50 L176.70 865.50 L177.20 865.50 L177.70 865.50 L178.20 865.50 L178.70 865.50 L179.20 865.50 L179.70 865.50 L180.20 865.50 L180.70 865.50 L181.20 865.50 L181.70 865.50 L182.20 865.50 L182.70 865.50 L183.20 865.50 L183.70 865.50 L184.20 865.50 L184.70 865.50 L185.20 865.50 L185.70 865.50 L186.20 865.50 L186.70 865.50 L187.20 865.50 L187.3 865.5 L34.2 865.5 Z" fill="#f6a0ee" fill-opacity="0.82" stroke="none"/><path d="M34.20 864.57 L34.70 864.52 L35.20 864.47 L35.70 864.42 L36.20 864.36 L36.70 864.30 L37.20 864.24 L37.70 864.18 L38.20 864.11 L38.70 864.04 L39.20 863.97 L39.70 863.90 L40.20 863.82 L40.70 863.74 L41.20 863.66 L41.70 863.57 L42.20 863.48 L42.70 863.39 L43.20 863.29 L43.70 863.20 L44.20 863.09 L44.70 862.99 L45.20 862.88 L45.70 862.77 L46.20 862.65 L46.70 862.54 L47.20 862.41 L47.70 862.29 L48.20 862.16 L48.70 862.03 L49.20 861.89 L49.70 861.75 L50.20 861.61 L50.70 861.46 L51.20 861.31 L51.70 861.16 L52.20 861.00 L52.70 860.85 L53.20 860.68 L53.70 860.52 L54.20 860.35 L54.70 860.18 L55.20 860.00 L55.70 859.82 L56.20 859.64 L56.70 859.46 L57.20 859.27 L57.70 859.08 L58.20 858.89 L58.70 858.69 L59.20 858.49 L59.70 858.29 L60.20 858.08 L60.70 857.87 L61.20 857.65 L61.70 857.43 L62.20 857.20 L62.70 856.96 L63.20 856.72 L63.70 856.46 L64.20 856.19 L64.70 855.91 L65.20 855.61 L65.70 855.29 L66.20 854.95 L66.70 854.59 L67.20 854.19 L67.70 853.76 L68.20 853.29 L68.70 852.78 L69.20 852.21 L69.70 851.60 L70.20 850.92 L70.70 850.18 L71.20 849.36 L71.70 848.48 L72.20 847.51 L72.70 846.46 L73.20 845.32 L73.70 844.10 L74.20 842.79 L74.70 841.40 L75.20 839.93 L75.70 838.40 L76.20 836.82 L76.70 835.22 L77.20 833.60 L77.70 831.99 L78.20 830.39 L78.70 828.84 L79.20 827.36 L79.70 825.99 L80.20 824.76 L80.70 823.72 L81.20 822.92 L81.70 822.41 L82.20 822.30 L82.70 822.77 L83.20 823.55 L83.70 824.54 L84.20 825.72 L84.70 827.04 L85.20 828.48 L85.70 830.01 L86.20 831.61 L86.70 833.26 L87.20 834.94 L87.70 836.63 L88.20 838.31 L88.70 839.97 L89.20 841.60 L89.70 843.19 L90.20 844.73 L90.70 846.21 L91.20 847.63 L91.70 848.98 L92.20 850.26 L92.70 851.47 L93.20 852.60 L93.70 853.66 L94.20 854.65 L94.70 855.57 L95.20 856.42 L95.70 857.21 L96.20 857.93 L96.70 858.60 L97.20 859.21 L97.70 859.77 L98.20 860.27 L98.70 860.74 L99.20 861.16 L99.70 861.54 L100.20 861.89 L100.70 862.21 L101.20 862.50 L101.70 862.76 L102.20 862.99 L102.70 863.21 L103.20 863.40 L103.70 863.58 L104.20 863.74 L104.70 863.88 L105.20 864.01 L105.70 864.13 L106.20 864.24 L106.70 864.34 L107.20 864.44 L107.70 864.52 L108.20 864.60 L108.70 864.67 L109.20 864.73 L109.70 864.79 L110.20 864.85 L110.70 864.90 L111.20 864.94 L111.70 864.99 L112.20 865.03 L112.70 865.06 L113.20 865.10 L113.70 865.13 L114.20 865.16 L114.70 865.19 L115.20 865.21 L115.70 865.23 L116.20 865.26 L116.70 865.28 L117.20 865.29 L117.70 865.31 L118.20 865.33 L118.70 865.34 L119.20 865.35 L119.70 865.37 L120.20 865.38 L120.70 865.39 L121.20 865.40 L121.70 865.41 L122.20 865.41 L122.70 865.42 L123.20 865.43 L123.70 865.44 L124.20 865.44 L124.70 865.45 L125.20 865.45 L125.70 865.46 L126.20 865.46 L126.70 865.46 L127.20 865.47 L127.70 865.47 L128.20 865.47 L128.70 865.48 L129.20 865.48 L129.70 865.48 L130.20 865.48 L130.70 865.48 L131.20 865.49 L131.70 865.49 L132.20 865.49 L132.70 865.49 L133.20 865.49 L133.70 865.49 L134.20 865.49 L134.70 865.49 L135.20 865.49 L135.70 865.49 L136.20 865.49 L136.70 865.50 L137.20 865.50 L137.70 865.50 L138.20 865.50 L138.70 865.50 L139.20 865.50 L139.70 865.50 L140.20 865.50 L140.70 865.50 L141.20 865.50 L141.70 865.50 L142.20 865.50 L142.70 865.50 L143.20 865.50 L143.70 865.50 L144.20 865.50 L144.70 865.50 L145.20 865.50 L145.70 865.50 L146.20 865.50 L146.70 865.50 L147.20 865.50 L147.70 865.50 L148.20 865.50 L148.70 865.50 L149.20 865.50 L149.70 865.50 L150.20 865.50 L150.70 865.50 L151.20 865.50 L151.70 865.50 L152.20 865.50 L152.70 865.50 L153.20 865.50 L153.70 865.50 L154.20 865.50 L154.70 865.50 L155.20 865.50 L155.70 865.50 L156.20 865.50 L156.70 865.50 L157.20 865.50 L157.70 865.50 L158.20 865.50 L158.70 865.50 L159.20 865.50 L159.70 865.50 L160.20 865.50 L160.70 865.50 L161.20 865.50 L161.70 865.50 L162.20 865.50 L162.70 865.50 L163.20 865.50 L163.70 865.50 L164.20 865.50 L164.70 865.50 L165.20 865.50 L165.70 865.50 L166.20 865.50 L166.70 865.50 L167.20 865.50 L167.70 865.50 L168.20 865.50 L168.70 865.50 L169.20 865.50 L169.70 865.50 L170.20 865.50 L170.70 865.50 L171.20 865.50 L171.70 865.50 L172.20 865.50 L172.70 865.50 L173.20 865.50 L173.70 865.50 L174.20 865.50 L174.70 865.50 L175.20 865.50 L175.70 865.50 L176.20 865.50 L176.70 865.50 L177.20 865.50 L177.70 865.50 L178.20 865.50 L178.70 865.50 L179.20 865.50 L179.70 865.50 L180.20 865.50 L180.70 865.50 L181.20 865.50 L181.70 865.50 L182.20 865.50 L182.70 865.50 L183.20 865.50 L183.70 865.50 L184.20 865.50 L184.70 865.50 L185.20 865.50 L185.70 865.50 L186.20 865.50 L186.70 865.50 L187.20 865.50" fill="none" stroke="#dd68d2" stroke-width="0.9"/><path d="M34.20 890.22 L34.70 890.21 L35.20 890.20 L35.70 890.18 L36.20 890.16 L36.70 890.15 L37.20 890.13 L37.70 890.11 L38.20 890.09 L38.70 890.07 L39.20 890.05 L39.70 890.02 L40.20 890.00 L40.70 889.97 L41.20 889.94 L41.70 889.91 L42.20 889.88 L42.70 889.84 L43.20 889.81 L43.70 889.77 L44.20 889.73 L44.70 889.69 L45.20 889.65 L45.70 889.60 L46.20 889.55 L46.70 889.50 L47.20 889.45 L47.70 889.39 L48.20 889.33 L48.70 889.27 L49.20 889.21 L49.70 889.14 L50.20 889.07 L50.70 888.99 L51.20 888.92 L51.70 888.83 L52.20 888.75 L52.70 888.66 L53.20 888.57 L53.70 888.47 L54.20 888.37 L54.70 888.27 L55.20 888.16 L55.70 888.05 L56.20 887.93 L56.70 887.81 L57.20 887.68 L57.70 887.54 L58.20 887.40 L58.70 887.25 L59.20 887.09 L59.70 886.93 L60.20 886.76 L60.70 886.58 L61.20 886.38 L61.70 886.18 L62.20 885.96 L62.70 885.74 L63.20 885.49 L63.70 885.23 L64.20 884.95 L64.70 884.65 L65.20 884.33 L65.70 883.98 L66.20 883.61 L66.70 883.21 L67.20 882.78 L67.70 882.31 L68.20 881.80 L68.70 881.25 L69.20 880.66 L69.70 880.02 L70.20 879.34 L70.70 878.60 L71.20 877.80 L71.70 876.95 L72.20 876.04 L72.70 875.06 L73.20 874.03 L73.70 872.93 L74.20 871.77 L74.70 870.55 L75.20 869.27 L75.70 867.93 L76.20 866.55 L76.70 865.13 L77.20 863.67 L77.70 862.19 L78.20 860.69 L78.70 859.20 L79.20 857.72 L79.70 856.27 L80.20 854.87 L80.70 853.54 L81.20 852.30 L81.70 851.19 L82.20 850.22 L82.70 849.45 L83.20 848.89 L83.70 848.59 L84.20 848.69 L84.70 849.10 L85.20 849.70 L85.70 850.46 L86.20 851.35 L86.70 852.35 L87.20 853.45 L87.70 854.62 L88.20 855.85 L88.70 857.14 L89.20 858.46 L89.70 859.80 L90.20 861.16 L90.70 862.52 L91.20 863.87 L91.70 865.21 L92.20 866.52 L92.70 867.81 L93.20 869.07 L93.70 870.29 L94.20 871.47 L94.70 872.60 L95.20 873.69 L95.70 874.73 L96.20 875.72 L96.70 876.66 L97.20 877.55 L97.70 878.40 L98.20 879.19 L98.70 879.94 L99.20 880.64 L99.70 881.30 L100.20 881.92 L100.70 882.49 L101.20 883.03 L101.70 883.53 L102.20 883.99 L102.70 884.43 L103.20 884.83 L103.70 885.20 L104.20 885.55 L104.70 885.87 L105.20 886.17 L105.70 886.44 L106.20 886.70 L106.70 886.94 L107.20 887.16 L107.70 887.36 L108.20 887.55 L108.70 887.73 L109.20 887.89 L109.70 888.05 L110.20 888.19 L110.70 888.32 L111.20 888.45 L111.70 888.57 L112.20 888.68 L112.70 888.78 L113.20 888.87 L113.70 888.96 L114.20 889.05 L114.70 889.13 L115.20 889.20 L115.70 889.27 L116.20 889.34 L116.70 889.40 L117.20 889.46 L117.70 889.52 L118.20 889.57 L118.70 889.62 L119.20 889.67 L119.70 889.71 L120.20 889.75 L120.70 889.79 L121.20 889.83 L121.70 889.87 L122.20 889.90 L122.70 889.93 L123.20 889.96 L123.70 889.99 L124.20 890.02 L124.70 890.04 L125.20 890.06 L125.70 890.09 L126.20 890.11 L126.70 890.13 L127.20 890.14 L127.70 890.16 L128.20 890.18 L128.70 890.19 L129.20 890.21 L129.70 890.22 L130.20 890.23 L130.70 890.24 L131.20 890.26 L131.70 890.27 L132.20 890.28 L132.70 890.28 L133.20 890.29 L133.70 890.30 L134.20 890.31 L134.70 890.31 L135.20 890.32 L135.70 890.33 L136.20 890.33 L136.70 890.34 L137.20 890.34 L137.70 890.35 L138.20 890.35 L138.70 890.35 L139.20 890.36 L139.70 890.36 L140.20 890.36 L140.70 890.37 L141.20 890.37 L141.70 890.37 L142.20 890.37 L142.70 890.38 L143.20 890.38 L143.70 890.38 L144.20 890.38 L144.70 890.38 L145.20 890.38 L145.70 890.39 L146.20 890.39 L146.70 890.39 L147.20 890.39 L147.70 890.39 L148.20 890.39 L148.70 890.39 L149.20 890.39 L149.70 890.39 L150.20 890.39 L150.70 890.39 L151.20 890.39 L151.70 890.40 L152.20 890.40 L152.70 890.40 L153.20 890.40 L153.70 890.40 L154.20 890.40 L154.70 890.40 L155.20 890.40 L155.70 890.40 L156.20 890.40 L156.70 890.40 L157.20 890.40 L157.70 890.40 L158.20 890.40 L158.70 890.40 L159.20 890.40 L159.70 890.40 L160.20 890.40 L160.70 890.40 L161.20 890.40 L161.70 890.40 L162.20 890.40 L162.70 890.40 L163.20 890.40 L163.70 890.40 L164.20 890.40 L164.70 890.40 L165.20 890.40 L165.70 890.40 L166.20 890.40 L166.70 890.40 L167.20 890.40 L167.70 890.40 L168.20 890.40 L168.70 890.40 L169.20 890.40 L169.70 890.40 L170.20 890.40 L170.70 890.40 L171.20 890.40 L171.70 890.40 L172.20 890.40 L172.70 890.40 L173.20 890.40 L173.70 890.40 L174.20 890.40 L174.70 890.40 L175.20 890.40 L175.70 890.40 L176.20 890.40 L176.70 890.40 L177.20 890.40 L177.70 890.40 L178.20 890.40 L178.70 890.40 L179.20 890.40 L179.70 890.40 L180.20 890.40 L180.70 890.40 L181.20 890.40 L181.70 890.40 L182.20 890.40 L182.70 890.40 L183.20 890.40 L183.70 890.40 L184.20 890.40 L184.70 890.40 L185.20 890.40 L185.70 890.40 L186.20 890.40 L186.70 890.40 L187.20 890.40 L187.3 890.4 L34.2 890.4 Z" fill="#9d94ee" fill-opacity="0.82" stroke="none"/><path d="M34.20 890.22 L34.70 890.21 L35.20 890.20 L35.70 890.18 L36.20 890.16 L36.70 890.15 L37.20 890.13 L37.70 890.11 L38.20 890.09 L38.70 890.07 L39.20 890.05 L39.70 890.02 L40.20 890.00 L40.70 889.97 L41.20 889.94 L41.70 889.91 L42.20 889.88 L42.70 889.84 L43.20 889.81 L43.70 889.77 L44.20 889.73 L44.70 889.69 L45.20 889.65 L45.70 889.60 L46.20 889.55 L46.70 889.50 L47.20 889.45 L47.70 889.39 L48.20 889.33 L48.70 889.27 L49.20 889.21 L49.70 889.14 L50.20 889.07 L50.70 888.99 L51.20 888.92 L51.70 888.83 L52.20 888.75 L52.70 888.66 L53.20 888.57 L53.70 888.47 L54.20 888.37 L54.70 888.27 L55.20 888.16 L55.70 888.05 L56.20 887.93 L56.70 887.81 L57.20 887.68 L57.70 887.54 L58.20 887.40 L58.70 887.25 L59.20 887.09 L59.70 886.93 L60.20 886.76 L60.70 886.58 L61.20 886.38 L61.70 886.18 L62.20 885.96 L62.70 885.74 L63.20 885.49 L63.70 885.23 L64.20 884.95 L64.70 884.65 L65.20 884.33 L65.70 883.98 L66.20 883.61 L66.70 883.21 L67.20 882.78 L67.70 882.31 L68.20 881.80 L68.70 881.25 L69.20 880.66 L69.70 880.02 L70.20 879.34 L70.70 878.60 L71.20 877.80 L71.70 876.95 L72.20 876.04 L72.70 875.06 L73.20 874.03 L73.70 872.93 L74.20 871.77 L74.70 870.55 L75.20 869.27 L75.70 867.93 L76.20 866.55 L76.70 865.13 L77.20 863.67 L77.70 862.19 L78.20 860.69 L78.70 859.20 L79.20 857.72 L79.70 856.27 L80.20 854.87 L80.70 853.54 L81.20 852.30 L81.70 851.19 L82.20 850.22 L82.70 849.45 L83.20 848.89 L83.70 848.59 L84.20 848.69 L84.70 849.10 L85.20 849.70 L85.70 850.46 L86.20 851.35 L86.70 852.35 L87.20 853.45 L87.70 854.62 L88.20 855.85 L88.70 857.14 L89.20 858.46 L89.70 859.80 L90.20 861.16 L90.70 862.52 L91.20 863.87 L91.70 865.21 L92.20 866.52 L92.70 867.81 L93.20 869.07 L93.70 870.29 L94.20 871.47 L94.70 872.60 L95.20 873.69 L95.70 874.73 L96.20 875.72 L96.70 876.66 L97.20 877.55 L97.70 878.40 L98.20 879.19 L98.70 879.94 L99.20 880.64 L99.70 881.30 L100.20 881.92 L100.70 882.49 L101.20 883.03 L101.70 883.53 L102.20 883.99 L102.70 884.43 L103.20 884.83 L103.70 885.20 L104.20 885.55 L104.70 885.87 L105.20 886.17 L105.70 886.44 L106.20 886.70 L106.70 886.94 L107.20 887.16 L107.70 887.36 L108.20 887.55 L108.70 887.73 L109.20 887.89 L109.70 888.05 L110.20 888.19 L110.70 888.32 L111.20 888.45 L111.70 888.57 L112.20 888.68 L112.70 888.78 L113.20 888.87 L113.70 888.96 L114.20 889.05 L114.70 889.13 L115.20 889.20 L115.70 889.27 L116.20 889.34 L116.70 889.40 L117.20 889.46 L117.70 889.52 L118.20 889.57 L118.70 889.62 L119.20 889.67 L119.70 889.71 L120.20 889.75 L120.70 889.79 L121.20 889.83 L121.70 889.87 L122.20 889.90 L122.70 889.93 L123.20 889.96 L123.70 889.99 L124.20 890.02 L124.70 890.04 L125.20 890.06 L125.70 890.09 L126.20 890.11 L126.70 890.13 L127.20 890.14 L127.70 890.16 L128.20 890.18 L128.70 890.19 L129.20 890.21 L129.70 890.22 L130.20 890.23 L130.70 890.24 L131.20 890.26 L131.70 890.27 L132.20 890.28 L132.70 890.28 L133.20 890.29 L133.70 890.30 L134.20 890.31 L134.70 890.31 L135.20 890.32 L135.70 890.33 L136.20 890.33 L136.70 890.34 L137.20 890.34 L137.70 890.35 L138.20 890.35 L138.70 890.35 L139.20 890.36 L139.70 890.36 L140.20 890.36 L140.70 890.37 L141.20 890.37 L141.70 890.37 L142.20 890.37 L142.70 890.38 L143.20 890.38 L143.70 890.38 L144.20 890.38 L144.70 890.38 L145.20 890.38 L145.70 890.39 L146.20 890.39 L146.70 890.39 L147.20 890.39 L147.70 890.39 L148.20 890.39 L148.70 890.39 L149.20 890.39 L149.70 890.39 L150.20 890.39 L150.70 890.39 L151.20 890.39 L151.70 890.40 L152.20 890.40 L152.70 890.40 L153.20 890.40 L153.70 890.40 L154.20 890.40 L154.70 890.40 L155.20 890.40 L155.70 890.40 L156.20 890.40 L156.70 890.40 L157.20 890.40 L157.70 890.40 L158.20 890.40 L158.70 890.40 L159.20 890.40 L159.70 890.40 L160.20 890.40 L160.70 890.40 L161.20 890.40 L161.70 890.40 L162.20 890.40 L162.70 890.40 L163.20 890.40 L163.70 890.40 L164.20 890.40 L164.70 890.40 L165.20 890.40 L165.70 890.40 L166.20 890.40 L166.70 890.40 L167.20 890.40 L167.70 890.40 L168.20 890.40 L168.70 890.40 L169.20 890.40 L169.70 890.40 L170.20 890.40 L170.70 890.40 L171.20 890.40 L171.70 890.40 L172.20 890.40 L172.70 890.40 L173.20 890.40 L173.70 890.40 L174.20 890.40 L174.70 890.40 L175.20 890.40 L175.70 890.40 L176.20 890.40 L176.70 890.40 L177.20 890.40 L177.70 890.40 L178.20 890.40 L178.70 890.40 L179.20 890.40 L179.70 890.40 L180.20 890.40 L180.70 890.40 L181.20 890.40 L181.70 890.40 L182.20 890.40 L182.70 890.40 L183.20 890.40 L183.70 890.40 L184.20 890.40 L184.70 890.40 L185.20 890.40 L185.70 890.40 L186.20 890.40 L186.70 890.40 L187.20 890.40" fill="none" stroke="#5e54c8" stroke-width="0.9"/><line x1="34.2" y1="789.9" x2="187.3" y2="789.9" stroke="#4d94d8" stroke-width="0.9" opacity="0.8"/><line x1="34.2" y1="815.4" x2="187.3" y2="815.4" stroke="#d8606a" stroke-width="0.9" opacity="0.8"/><line x1="34.2" y1="840.7" x2="187.3" y2="840.7" stroke="#e8a65c" stroke-width="0.9" opacity="0.8"/><line x1="34.2" y1="865.5" x2="187.3" y2="865.5" stroke="#dd68d2" stroke-width="0.9" opacity="0.8"/><line x1="34.2" y1="890.4" x2="187.3" y2="890.4" stroke="#5e54c8" stroke-width="0.9" opacity="0.8"/><line x1="34.2" y1="890.4" x2="187.3" y2="890.4" stroke="#8888c8" stroke-width="1.8"/><path d="M34.2 736.9 L317.5 736.9" fill="none" stroke="#555" stroke-width="1"/><path d="M317.5 736.9 L317.5 890.4" fill="none" stroke="#999" stroke-width="1"/><path d="M317.5 890.4 L187.3 890.4" fill="none" stroke="#333" stroke-width="1"/><line x1="34.2" y1="736.9" x2="34.2" y2="890.4" stroke="#8a8aa8" stroke-width="1.1"/><line x1="187.3" y1="736.9" x2="187.3" y2="894.4" stroke="#333" stroke-width="1"/><text x="181.6" y="784.5" font-size="13.5" fill="#222" text-anchor="end" font-weight="normal" >(-) LNP</text><text x="181.6" y="810.4" font-size="13.5" fill="#222" text-anchor="end" font-weight="normal" >(+) LNP</text><text x="181.6" y="836.4" font-size="13.5" fill="#222" text-anchor="end" font-weight="normal" >(+/-) LNP</text><text x="186" y="860.8" font-size="14" fill="#222" text-anchor="end" font-weight="normal" >Naked miRNA</text><text x="166" y="884.6" font-size="14" fill="#222" text-anchor="end" font-weight="normal" >PBS</text><path d="M187.3 773.6 L228 773.6 L228 787.7 L187.3 787.7" fill="none" stroke="#3b8fe0" stroke-width="1.8"/><path d="M187.3 799.6 L290 799.6 L290 813.2 L187.3 813.2" fill="none" stroke="#e0383c" stroke-width="1.8"/><line x1="290" y1="806.4000000000001" x2="299.7" y2="806.4000000000001" stroke="#e0383c" stroke-width="1.6"/><line x1="299.7" y1="803.4000000000001" x2="299.7" y2="809.4000000000001" stroke="#e0383c" stroke-width="1.6"/><circle cx="289" cy="806.4000000000001" r="1.1" fill="#e0383c"/><circle cx="294.85" cy="806.4000000000001" r="1.1" fill="#e0383c"/><path d="M187.3 824.9 L205 824.9 L205 838.5 L187.3 838.5" fill="none" stroke="#f0a048" stroke-width="1.8"/><line x1="205" y1="831.7" x2="210" y2="831.7" stroke="#f0a048" stroke-width="1.6"/><line x1="210" y1="828.7" x2="210" y2="834.7" stroke="#f0a048" stroke-width="1.6"/><circle cx="204" cy="831.7" r="1.1" fill="#f0a048"/><circle cx="207.5" cy="831.7" r="1.1" fill="#f0a048"/><path d="M187.3 852.6 L190 852.6 L190 862.3 L187.3 862.3" fill="none" stroke="#e048c8" stroke-width="1.8"/><path d="M187.3 877.4 L188.5 877.4 L188.5 886.7 L187.3 886.7" fill="none" stroke="#2828d8" stroke-width="1.8"/><rect x="245" y="797" width="12.5" height="18" fill="#fff"/><line x1="303.6" y1="780.8" x2="303.6" y2="805.4" stroke="#444" stroke-width="1"/><line x1="300.4" y1="808.2" x2="300.4" y2="831.4" stroke="#444" stroke-width="1"/><path d="M310.30 787.30 L315.10 787.30 M311.50 785.22 L313.90 789.38 M313.90 785.22 L311.50 789.38 " stroke="#111" stroke-width="1.25" fill="none"/><path d="M310.30 793.80 L315.10 793.80 M311.50 791.72 L313.90 795.88 M313.90 791.72 L311.50 795.88 " stroke="#111" stroke-width="1.25" fill="none"/><path d="M310.30 800.30 L315.10 800.30 M311.50 798.22 L313.90 802.38 M313.90 798.22 L311.50 802.38 " stroke="#111" stroke-width="1.25" fill="none"/><path d="M307.10 811.90 L311.90 811.90 M308.30 809.82 L310.70 813.98 M310.70 809.82 L308.30 813.98 " stroke="#111" stroke-width="1.25" fill="none"/><path d="M307.10 818.40 L311.90 818.40 M308.30 816.32 L310.70 820.48 M310.70 816.32 L308.30 820.48 " stroke="#111" stroke-width="1.25" fill="none"/><path d="M307.10 824.90 L311.90 824.90 M308.30 822.82 L310.70 826.98 M310.70 822.82 L308.30 826.98 " stroke="#111" stroke-width="1.25" fill="none"/><rect x="246" y="886" width="12" height="8" fill="#fff"/><path d="M242.5 893 L248 886.5 M253.5 893 L259 886.5" stroke="#333" stroke-width="1"/><line x1="187.3" y1="890.4" x2="187.3" y2="893.4" stroke="#333" stroke-width="0.9"/><text x="187.3" y="904.5" font-size="10.5" fill="#333" text-anchor="middle" font-weight="normal" >0</text><line x1="216.5" y1="890.4" x2="216.5" y2="893.4" stroke="#333" stroke-width="0.9"/><text x="216.5" y="904.5" font-size="10.5" fill="#333" text-anchor="middle" font-weight="normal" >30K</text><line x1="282.4" y1="890.4" x2="282.4" y2="893.4" stroke="#333" stroke-width="0.9"/><text x="282.4" y="904.5" font-size="10.5" fill="#333" text-anchor="middle" font-weight="normal" >300K</text><line x1="308.4" y1="890.4" x2="308.4" y2="893.4" stroke="#333" stroke-width="0.9"/><text x="308.4" y="904.5" font-size="10.5" fill="#333" text-anchor="middle" font-weight="normal" >600K</text><text x="0" y="0" font-size="15" fill="#222" text-anchor="middle" font-weight="normal" transform="translate(19.3 813) rotate(-90)">Count</text><text x="109.2" y="919.6" font-size="15.2" fill="#222" text-anchor="middle" font-weight="normal" >PC5.5−FRET-A</text><text x="251.8" y="919.6" font-size="15" fill="#222" text-anchor="middle" font-weight="normal" >MFI</text><line x1="343.4" y1="733.7" x2="343.4" y2="901.2" stroke="#999" stroke-width="1.2"/><path d="M341.2 734.7 L343.4 730.7 L345.59999999999997 734.7 Z" fill="#222"/><line x1="343.4" y1="901.2" x2="499.7" y2="901.2" stroke="#999" stroke-width="1.2"/><path d="M498.7 899.0 L502.7 901.2 L498.7 903.4000000000001 Z" fill="#222"/><path d="M352.40 786.56 L352.90 786.56 L353.40 786.55 L353.90 786.55 L354.40 786.54 L354.90 786.54 L355.40 786.53 L355.90 786.53 L356.40 786.52 L356.90 786.51 L357.40 786.50 L357.90 786.50 L358.40 786.49 L358.90 786.48 L359.40 786.47 L359.90 786.46 L360.40 786.44 L360.90 786.43 L361.40 786.42 L361.90 786.40 L362.40 786.38 L362.90 786.37 L363.40 786.35 L363.90 786.33 L364.40 786.31 L364.90 786.29 L365.40 786.26 L365.90 786.24 L366.40 786.21 L366.90 786.18 L367.40 786.15 L367.90 786.12 L368.40 786.08 L368.90 786.05 L369.40 786.01 L369.90 785.96 L370.40 785.92 L370.90 785.87 L371.40 785.82 L371.90 785.77 L372.40 785.71 L372.90 785.65 L373.40 785.59 L373.90 785.52 L374.40 785.45 L374.90 785.37 L375.40 785.28 L375.90 785.19 L376.40 785.09 L376.90 784.99 L377.40 784.87 L377.90 784.74 L378.40 784.60 L378.90 784.45 L379.40 784.29 L379.90 784.10 L380.40 783.90 L380.90 783.68 L381.40 783.43 L381.90 783.15 L382.40 782.84 L382.90 782.50 L383.40 782.12 L383.90 781.69 L384.40 781.22 L384.90 780.69 L385.40 780.11 L385.90 779.46 L386.40 778.75 L386.90 777.96 L387.40 777.09 L387.90 776.14 L388.40 775.11 L388.90 773.98 L389.40 772.75 L389.90 771.44 L390.40 770.02 L390.90 768.51 L391.40 766.91 L391.90 765.22 L392.40 763.45 L392.90 761.60 L393.40 759.70 L393.90 757.75 L394.40 755.77 L394.90 753.79 L395.40 751.82 L395.90 749.89 L396.40 748.04 L396.90 746.30 L397.40 744.70 L397.90 743.28 L398.40 742.09 L398.90 741.20 L399.40 740.68 L399.90 740.74 L400.40 741.22 L400.90 741.98 L401.40 742.94 L401.90 744.08 L402.40 745.37 L402.90 746.78 L403.40 748.28 L403.90 749.86 L404.40 751.49 L404.90 753.16 L405.40 754.85 L405.90 756.54 L406.40 758.22 L406.90 759.88 L407.40 761.50 L407.90 763.09 L408.40 764.62 L408.90 766.10 L409.40 767.52 L409.90 768.87 L410.40 770.16 L410.90 771.37 L411.40 772.52 L411.90 773.60 L412.40 774.61 L412.90 775.55 L413.40 776.42 L413.90 777.24 L414.40 777.99 L414.90 778.68 L415.40 779.32 L415.90 779.91 L416.40 780.45 L416.90 780.94 L417.40 781.39 L417.90 781.80 L418.40 782.18 L418.90 782.52 L419.40 782.83 L419.90 783.12 L420.40 783.37 L420.90 783.61 L421.40 783.83 L421.90 784.02 L422.40 784.20 L422.90 784.36 L423.40 784.51 L423.90 784.65 L424.40 784.78 L424.90 784.89 L425.40 785.00 L425.90 785.10 L426.40 785.19 L426.90 785.28 L427.40 785.36 L427.90 785.43 L428.40 785.50 L428.90 785.56 L429.40 785.62 L429.90 785.68 L430.40 785.73 L430.90 785.78 L431.40 785.83 L431.90 785.87 L432.40 785.91 L432.90 785.95 L433.40 785.99 L433.90 786.03 L434.40 786.06 L434.90 786.09 L435.40 786.12 L435.90 786.15 L436.40 786.18 L436.90 786.20 L437.40 786.23 L437.90 786.25 L438.40 786.27 L438.90 786.29 L439.40 786.31 L439.90 786.33 L440.40 786.34 L440.90 786.36 L441.40 786.38 L441.90 786.39 L442.40 786.40 L442.90 786.42 L443.40 786.43 L443.90 786.44 L444.40 786.45 L444.90 786.46 L445.40 786.47 L445.90 786.48 L446.40 786.49 L446.90 786.50 L447.40 786.50 L447.90 786.51 L448.40 786.52 L448.90 786.52 L449.40 786.53 L449.90 786.53 L450.40 786.54 L450.90 786.54 L451.40 786.55 L451.90 786.55 L452.40 786.55 L452.90 786.56 L453.40 786.56 L453.90 786.56 L454.40 786.57 L454.90 786.57 L455.40 786.57 L455.90 786.57 L456.40 786.58 L456.90 786.58 L457.40 786.58 L457.90 786.58 L458.40 786.58 L458.90 786.58 L459.40 786.59 L459.90 786.59 L460.40 786.59 L460.90 786.59 L461.40 786.59 L461.90 786.59 L462.40 786.59 L462.90 786.59 L463.40 786.59 L463.90 786.59 L464.40 786.59 L464.90 786.59 L465.40 786.59 L465.90 786.60 L466.40 786.60 L466.90 786.60 L467.40 786.60 L467.90 786.60 L468.40 786.60 L468.90 786.60 L469.40 786.60 L469.90 786.60 L470.40 786.60 L470.90 786.60 L471.40 786.60 L471.90 786.60 L472.40 786.60 L472.90 786.60 L473.40 786.60 L473.90 786.60 L474.40 786.60 L474.90 786.60 L475.40 786.60 L475.90 786.60 L476.40 786.60 L476.90 786.60 L477.40 786.60 L477.90 786.60 L478.40 786.60 L478.90 786.60 L479.40 786.60 L479.90 786.60 L480.40 786.60 L480.90 786.60 L481.40 786.60 L481.90 786.60 L482.40 786.60 L482.90 786.60 L483.40 786.60 L483.90 786.60 L484.40 786.60 L484.90 786.60 L485.40 786.60 L485.90 786.60 L486.40 786.60 L486.90 786.60 L487.40 786.60 L487.90 786.60 L488.40 786.60 L488.90 786.60 L489.40 786.60 L489.90 786.60 L490.40 786.60 L490.90 786.60 L491.40 786.60 L491.90 786.60 L492.40 786.60 L492.90 786.60 L493.40 786.60 L493.90 786.60 L494.40 786.60 L494.90 786.60 L495.40 786.60 L495.90 786.60 L496.40 786.60 L496.90 786.60 L497.40 786.60 L497.90 786.60 L498.40 786.60 L498.90 786.60 L499.40 786.60 L499.90 786.60 L500.40 786.60 L500.90 786.60 L501.40 786.60 L501.90 786.60 L502.40 786.60 L502.90 786.60 L503.40 786.60 L503.90 786.60 L504.40 786.60 L504.90 786.60 L505.40 786.60 L505.90 786.60 L506.40 786.60 L506.90 786.60 L507.40 786.60 L507.90 786.60 L508.40 786.60 L508.90 786.60 L509.40 786.60 L509.90 786.60 L510.40 786.60 L510.90 786.60 L511 786.6 L352.4 786.6 Z" fill="#8dbdee" fill-opacity="0.82" stroke="none"/><path d="M352.40 786.56 L352.90 786.56 L353.40 786.55 L353.90 786.55 L354.40 786.54 L354.90 786.54 L355.40 786.53 L355.90 786.53 L356.40 786.52 L356.90 786.51 L357.40 786.50 L357.90 786.50 L358.40 786.49 L358.90 786.48 L359.40 786.47 L359.90 786.46 L360.40 786.44 L360.90 786.43 L361.40 786.42 L361.90 786.40 L362.40 786.38 L362.90 786.37 L363.40 786.35 L363.90 786.33 L364.40 786.31 L364.90 786.29 L365.40 786.26 L365.90 786.24 L366.40 786.21 L366.90 786.18 L367.40 786.15 L367.90 786.12 L368.40 786.08 L368.90 786.05 L369.40 786.01 L369.90 785.96 L370.40 785.92 L370.90 785.87 L371.40 785.82 L371.90 785.77 L372.40 785.71 L372.90 785.65 L373.40 785.59 L373.90 785.52 L374.40 785.45 L374.90 785.37 L375.40 785.28 L375.90 785.19 L376.40 785.09 L376.90 784.99 L377.40 784.87 L377.90 784.74 L378.40 784.60 L378.90 784.45 L379.40 784.29 L379.90 784.10 L380.40 783.90 L380.90 783.68 L381.40 783.43 L381.90 783.15 L382.40 782.84 L382.90 782.50 L383.40 782.12 L383.90 781.69 L384.40 781.22 L384.90 780.69 L385.40 780.11 L385.90 779.46 L386.40 778.75 L386.90 777.96 L387.40 777.09 L387.90 776.14 L388.40 775.11 L388.90 773.98 L389.40 772.75 L389.90 771.44 L390.40 770.02 L390.90 768.51 L391.40 766.91 L391.90 765.22 L392.40 763.45 L392.90 761.60 L393.40 759.70 L393.90 757.75 L394.40 755.77 L394.90 753.79 L395.40 751.82 L395.90 749.89 L396.40 748.04 L396.90 746.30 L397.40 744.70 L397.90 743.28 L398.40 742.09 L398.90 741.20 L399.40 740.68 L399.90 740.74 L400.40 741.22 L400.90 741.98 L401.40 742.94 L401.90 744.08 L402.40 745.37 L402.90 746.78 L403.40 748.28 L403.90 749.86 L404.40 751.49 L404.90 753.16 L405.40 754.85 L405.90 756.54 L406.40 758.22 L406.90 759.88 L407.40 761.50 L407.90 763.09 L408.40 764.62 L408.90 766.10 L409.40 767.52 L409.90 768.87 L410.40 770.16 L410.90 771.37 L411.40 772.52 L411.90 773.60 L412.40 774.61 L412.90 775.55 L413.40 776.42 L413.90 777.24 L414.40 777.99 L414.90 778.68 L415.40 779.32 L415.90 779.91 L416.40 780.45 L416.90 780.94 L417.40 781.39 L417.90 781.80 L418.40 782.18 L418.90 782.52 L419.40 782.83 L419.90 783.12 L420.40 783.37 L420.90 783.61 L421.40 783.83 L421.90 784.02 L422.40 784.20 L422.90 784.36 L423.40 784.51 L423.90 784.65 L424.40 784.78 L424.90 784.89 L425.40 785.00 L425.90 785.10 L426.40 785.19 L426.90 785.28 L427.40 785.36 L427.90 785.43 L428.40 785.50 L428.90 785.56 L429.40 785.62 L429.90 785.68 L430.40 785.73 L430.90 785.78 L431.40 785.83 L431.90 785.87 L432.40 785.91 L432.90 785.95 L433.40 785.99 L433.90 786.03 L434.40 786.06 L434.90 786.09 L435.40 786.12 L435.90 786.15 L436.40 786.18 L436.90 786.20 L437.40 786.23 L437.90 786.25 L438.40 786.27 L438.90 786.29 L439.40 786.31 L439.90 786.33 L440.40 786.34 L440.90 786.36 L441.40 786.38 L441.90 786.39 L442.40 786.40 L442.90 786.42 L443.40 786.43 L443.90 786.44 L444.40 786.45 L444.90 786.46 L445.40 786.47 L445.90 786.48 L446.40 786.49 L446.90 786.50 L447.40 786.50 L447.90 786.51 L448.40 786.52 L448.90 786.52 L449.40 786.53 L449.90 786.53 L450.40 786.54 L450.90 786.54 L451.40 786.55 L451.90 786.55 L452.40 786.55 L452.90 786.56 L453.40 786.56 L453.90 786.56 L454.40 786.57 L454.90 786.57 L455.40 786.57 L455.90 786.57 L456.40 786.58 L456.90 786.58 L457.40 786.58 L457.90 786.58 L458.40 786.58 L458.90 786.58 L459.40 786.59 L459.90 786.59 L460.40 786.59 L460.90 786.59 L461.40 786.59 L461.90 786.59 L462.40 786.59 L462.90 786.59 L463.40 786.59 L463.90 786.59 L464.40 786.59 L464.90 786.59 L465.40 786.59 L465.90 786.60 L466.40 786.60 L466.90 786.60 L467.40 786.60 L467.90 786.60 L468.40 786.60 L468.90 786.60 L469.40 786.60 L469.90 786.60 L470.40 786.60 L470.90 786.60 L471.40 786.60 L471.90 786.60 L472.40 786.60 L472.90 786.60 L473.40 786.60 L473.90 786.60 L474.40 786.60 L474.90 786.60 L475.40 786.60 L475.90 786.60 L476.40 786.60 L476.90 786.60 L477.40 786.60 L477.90 786.60 L478.40 786.60 L478.90 786.60 L479.40 786.60 L479.90 786.60 L480.40 786.60 L480.90 786.60 L481.40 786.60 L481.90 786.60 L482.40 786.60 L482.90 786.60 L483.40 786.60 L483.90 786.60 L484.40 786.60 L484.90 786.60 L485.40 786.60 L485.90 786.60 L486.40 786.60 L486.90 786.60 L487.40 786.60 L487.90 786.60 L488.40 786.60 L488.90 786.60 L489.40 786.60 L489.90 786.60 L490.40 786.60 L490.90 786.60 L491.40 786.60 L491.90 786.60 L492.40 786.60 L492.90 786.60 L493.40 786.60 L493.90 786.60 L494.40 786.60 L494.90 786.60 L495.40 786.60 L495.90 786.60 L496.40 786.60 L496.90 786.60 L497.40 786.60 L497.90 786.60 L498.40 786.60 L498.90 786.60 L499.40 786.60 L499.90 786.60 L500.40 786.60 L500.90 786.60 L501.40 786.60 L501.90 786.60 L502.40 786.60 L502.90 786.60 L503.40 786.60 L503.90 786.60 L504.40 786.60 L504.90 786.60 L505.40 786.60 L505.90 786.60 L506.40 786.60 L506.90 786.60 L507.40 786.60 L507.90 786.60 L508.40 786.60 L508.90 786.60 L509.40 786.60 L509.90 786.60 L510.40 786.60 L510.90 786.60" fill="none" stroke="#4d94d8" stroke-width="0.9"/><path d="M352.40 812.49 L352.90 812.48 L353.40 812.47 L353.90 812.46 L354.40 812.45 L354.90 812.44 L355.40 812.43 L355.90 812.42 L356.40 812.41 L356.90 812.39 L357.40 812.38 L357.90 812.36 L358.40 812.35 L358.90 812.33 L359.40 812.31 L359.90 812.29 L360.40 812.27 L360.90 812.25 L361.40 812.22 L361.90 812.20 L362.40 812.17 L362.90 812.14 L363.40 812.12 L363.90 812.08 L364.40 812.05 L364.90 812.02 L365.40 811.98 L365.90 811.94 L366.40 811.90 L366.90 811.86 L367.40 811.82 L367.90 811.77 L368.40 811.73 L368.90 811.67 L369.40 811.62 L369.90 811.57 L370.40 811.51 L370.90 811.45 L371.40 811.38 L371.90 811.32 L372.40 811.25 L372.90 811.18 L373.40 811.10 L373.90 811.02 L374.40 810.94 L374.90 810.85 L375.40 810.76 L375.90 810.67 L376.40 810.57 L376.90 810.47 L377.40 810.36 L377.90 810.24 L378.40 810.12 L378.90 809.99 L379.40 809.86 L379.90 809.72 L380.40 809.56 L380.90 809.40 L381.40 809.23 L381.90 809.05 L382.40 808.85 L382.90 808.65 L383.40 808.42 L383.90 808.18 L384.40 807.92 L384.90 807.63 L385.40 807.33 L385.90 807.00 L386.40 806.64 L386.90 806.25 L387.40 805.83 L387.90 805.37 L388.40 804.88 L388.90 804.34 L389.40 803.77 L389.90 803.14 L390.40 802.47 L390.90 801.74 L391.40 800.97 L391.90 800.14 L392.40 799.25 L392.90 798.31 L393.40 797.32 L393.90 796.27 L394.40 795.16 L394.90 794.01 L395.40 792.82 L395.90 791.58 L396.40 790.32 L396.90 789.02 L397.40 787.72 L397.90 786.40 L398.40 785.10 L398.90 783.82 L399.40 782.58 L399.90 781.39 L400.40 780.28 L400.90 779.27 L401.40 778.37 L401.90 777.62 L402.40 777.06 L402.90 776.72 L403.40 776.70 L403.90 776.98 L404.40 777.45 L404.90 778.05 L405.40 778.77 L405.90 779.59 L406.40 780.50 L406.90 781.47 L407.40 782.51 L407.90 783.58 L408.40 784.69 L408.90 785.82 L409.40 786.97 L409.90 788.12 L410.40 789.26 L410.90 790.39 L411.40 791.51 L411.90 792.61 L412.40 793.67 L412.90 794.71 L413.40 795.71 L413.90 796.68 L414.40 797.60 L414.90 798.49 L415.40 799.33 L415.90 800.13 L416.40 800.89 L416.90 801.61 L417.40 802.29 L417.90 802.93 L418.40 803.53 L418.90 804.09 L419.40 804.61 L419.90 805.11 L420.40 805.56 L420.90 805.99 L421.40 806.39 L421.90 806.76 L422.40 807.10 L422.90 807.42 L423.40 807.72 L423.90 808.00 L424.40 808.26 L424.90 808.50 L425.40 808.72 L425.90 808.93 L426.40 809.12 L426.90 809.30 L427.40 809.47 L427.90 809.63 L428.40 809.78 L428.90 809.92 L429.40 810.05 L429.90 810.18 L430.40 810.29 L430.90 810.40 L431.40 810.51 L431.90 810.60 L432.40 810.70 L432.90 810.79 L433.40 810.87 L433.90 810.95 L434.40 811.03 L434.90 811.10 L435.40 811.17 L435.90 811.24 L436.40 811.30 L436.90 811.36 L437.40 811.42 L437.90 811.48 L438.40 811.53 L438.90 811.58 L439.40 811.63 L439.90 811.68 L440.40 811.72 L440.90 811.76 L441.40 811.81 L441.90 811.84 L442.40 811.88 L442.90 811.92 L443.40 811.95 L443.90 811.99 L444.40 812.02 L444.90 812.05 L445.40 812.08 L445.90 812.10 L446.40 812.13 L446.90 812.15 L447.40 812.18 L447.90 812.20 L448.40 812.22 L448.90 812.24 L449.40 812.26 L449.90 812.28 L450.40 812.30 L450.90 812.32 L451.40 812.33 L451.90 812.35 L452.40 812.36 L452.90 812.38 L453.40 812.39 L453.90 812.40 L454.40 812.41 L454.90 812.42 L455.40 812.43 L455.90 812.44 L456.40 812.45 L456.90 812.46 L457.40 812.47 L457.90 812.48 L458.40 812.49 L458.90 812.49 L459.40 812.50 L459.90 812.51 L460.40 812.51 L460.90 812.52 L461.40 812.52 L461.90 812.53 L462.40 812.53 L462.90 812.54 L463.40 812.54 L463.90 812.55 L464.40 812.55 L464.90 812.55 L465.40 812.56 L465.90 812.56 L466.40 812.56 L466.90 812.56 L467.40 812.57 L467.90 812.57 L468.40 812.57 L468.90 812.57 L469.40 812.57 L469.90 812.58 L470.40 812.58 L470.90 812.58 L471.40 812.58 L471.90 812.58 L472.40 812.58 L472.90 812.59 L473.40 812.59 L473.90 812.59 L474.40 812.59 L474.90 812.59 L475.40 812.59 L475.90 812.59 L476.40 812.59 L476.90 812.59 L477.40 812.59 L477.90 812.59 L478.40 812.59 L478.90 812.59 L479.40 812.59 L479.90 812.59 L480.40 812.60 L480.90 812.60 L481.40 812.60 L481.90 812.60 L482.40 812.60 L482.90 812.60 L483.40 812.60 L483.90 812.60 L484.40 812.60 L484.90 812.60 L485.40 812.60 L485.90 812.60 L486.40 812.60 L486.90 812.60 L487.40 812.60 L487.90 812.60 L488.40 812.60 L488.90 812.60 L489.40 812.60 L489.90 812.60 L490.40 812.60 L490.90 812.60 L491.40 812.60 L491.90 812.60 L492.40 812.60 L492.90 812.60 L493.40 812.60 L493.90 812.60 L494.40 812.60 L494.90 812.60 L495.40 812.60 L495.90 812.60 L496.40 812.60 L496.90 812.60 L497.40 812.60 L497.90 812.60 L498.40 812.60 L498.90 812.60 L499.40 812.60 L499.90 812.60 L500.40 812.60 L500.90 812.60 L501.40 812.60 L501.90 812.60 L502.40 812.60 L502.90 812.60 L503.40 812.60 L503.90 812.60 L504.40 812.60 L504.90 812.60 L505.40 812.60 L505.90 812.60 L506.40 812.60 L506.90 812.60 L507.40 812.60 L507.90 812.60 L508.40 812.60 L508.90 812.60 L509.40 812.60 L509.90 812.60 L510.40 812.60 L510.90 812.60 L511 812.6 L352.4 812.6 Z" fill="#f29c98" fill-opacity="0.82" stroke="none"/><path d="M352.40 812.49 L352.90 812.48 L353.40 812.47 L353.90 812.46 L354.40 812.45 L354.90 812.44 L355.40 812.43 L355.90 812.42 L356.40 812.41 L356.90 812.39 L357.40 812.38 L357.90 812.36 L358.40 812.35 L358.90 812.33 L359.40 812.31 L359.90 812.29 L360.40 812.27 L360.90 812.25 L361.40 812.22 L361.90 812.20 L362.40 812.17 L362.90 812.14 L363.40 812.12 L363.90 812.08 L364.40 812.05 L364.90 812.02 L365.40 811.98 L365.90 811.94 L366.40 811.90 L366.90 811.86 L367.40 811.82 L367.90 811.77 L368.40 811.73 L368.90 811.67 L369.40 811.62 L369.90 811.57 L370.40 811.51 L370.90 811.45 L371.40 811.38 L371.90 811.32 L372.40 811.25 L372.90 811.18 L373.40 811.10 L373.90 811.02 L374.40 810.94 L374.90 810.85 L375.40 810.76 L375.90 810.67 L376.40 810.57 L376.90 810.47 L377.40 810.36 L377.90 810.24 L378.40 810.12 L378.90 809.99 L379.40 809.86 L379.90 809.72 L380.40 809.56 L380.90 809.40 L381.40 809.23 L381.90 809.05 L382.40 808.85 L382.90 808.65 L383.40 808.42 L383.90 808.18 L384.40 807.92 L384.90 807.63 L385.40 807.33 L385.90 807.00 L386.40 806.64 L386.90 806.25 L387.40 805.83 L387.90 805.37 L388.40 804.88 L388.90 804.34 L389.40 803.77 L389.90 803.14 L390.40 802.47 L390.90 801.74 L391.40 800.97 L391.90 800.14 L392.40 799.25 L392.90 798.31 L393.40 797.32 L393.90 796.27 L394.40 795.16 L394.90 794.01 L395.40 792.82 L395.90 791.58 L396.40 790.32 L396.90 789.02 L397.40 787.72 L397.90 786.40 L398.40 785.10 L398.90 783.82 L399.40 782.58 L399.90 781.39 L400.40 780.28 L400.90 779.27 L401.40 778.37 L401.90 777.62 L402.40 777.06 L402.90 776.72 L403.40 776.70 L403.90 776.98 L404.40 777.45 L404.90 778.05 L405.40 778.77 L405.90 779.59 L406.40 780.50 L406.90 781.47 L407.40 782.51 L407.90 783.58 L408.40 784.69 L408.90 785.82 L409.40 786.97 L409.90 788.12 L410.40 789.26 L410.90 790.39 L411.40 791.51 L411.90 792.61 L412.40 793.67 L412.90 794.71 L413.40 795.71 L413.90 796.68 L414.40 797.60 L414.90 798.49 L415.40 799.33 L415.90 800.13 L416.40 800.89 L416.90 801.61 L417.40 802.29 L417.90 802.93 L418.40 803.53 L418.90 804.09 L419.40 804.61 L419.90 805.11 L420.40 805.56 L420.90 805.99 L421.40 806.39 L421.90 806.76 L422.40 807.10 L422.90 807.42 L423.40 807.72 L423.90 808.00 L424.40 808.26 L424.90 808.50 L425.40 808.72 L425.90 808.93 L426.40 809.12 L426.90 809.30 L427.40 809.47 L427.90 809.63 L428.40 809.78 L428.90 809.92 L429.40 810.05 L429.90 810.18 L430.40 810.29 L430.90 810.40 L431.40 810.51 L431.90 810.60 L432.40 810.70 L432.90 810.79 L433.40 810.87 L433.90 810.95 L434.40 811.03 L434.90 811.10 L435.40 811.17 L435.90 811.24 L436.40 811.30 L436.90 811.36 L437.40 811.42 L437.90 811.48 L438.40 811.53 L438.90 811.58 L439.40 811.63 L439.90 811.68 L440.40 811.72 L440.90 811.76 L441.40 811.81 L441.90 811.84 L442.40 811.88 L442.90 811.92 L443.40 811.95 L443.90 811.99 L444.40 812.02 L444.90 812.05 L445.40 812.08 L445.90 812.10 L446.40 812.13 L446.90 812.15 L447.40 812.18 L447.90 812.20 L448.40 812.22 L448.90 812.24 L449.40 812.26 L449.90 812.28 L450.40 812.30 L450.90 812.32 L451.40 812.33 L451.90 812.35 L452.40 812.36 L452.90 812.38 L453.40 812.39 L453.90 812.40 L454.40 812.41 L454.90 812.42 L455.40 812.43 L455.90 812.44 L456.40 812.45 L456.90 812.46 L457.40 812.47 L457.90 812.48 L458.40 812.49 L458.90 812.49 L459.40 812.50 L459.90 812.51 L460.40 812.51 L460.90 812.52 L461.40 812.52 L461.90 812.53 L462.40 812.53 L462.90 812.54 L463.40 812.54 L463.90 812.55 L464.40 812.55 L464.90 812.55 L465.40 812.56 L465.90 812.56 L466.40 812.56 L466.90 812.56 L467.40 812.57 L467.90 812.57 L468.40 812.57 L468.90 812.57 L469.40 812.57 L469.90 812.58 L470.40 812.58 L470.90 812.58 L471.40 812.58 L471.90 812.58 L472.40 812.58 L472.90 812.59 L473.40 812.59 L473.90 812.59 L474.40 812.59 L474.90 812.59 L475.40 812.59 L475.90 812.59 L476.40 812.59 L476.90 812.59 L477.40 812.59 L477.90 812.59 L478.40 812.59 L478.90 812.59 L479.40 812.59 L479.90 812.59 L480.40 812.60 L480.90 812.60 L481.40 812.60 L481.90 812.60 L482.40 812.60 L482.90 812.60 L483.40 812.60 L483.90 812.60 L484.40 812.60 L484.90 812.60 L485.40 812.60 L485.90 812.60 L486.40 812.60 L486.90 812.60 L487.40 812.60 L487.90 812.60 L488.40 812.60 L488.90 812.60 L489.40 812.60 L489.90 812.60 L490.40 812.60 L490.90 812.60 L491.40 812.60 L491.90 812.60 L492.40 812.60 L492.90 812.60 L493.40 812.60 L493.90 812.60 L494.40 812.60 L494.90 812.60 L495.40 812.60 L495.90 812.60 L496.40 812.60 L496.90 812.60 L497.40 812.60 L497.90 812.60 L498.40 812.60 L498.90 812.60 L499.40 812.60 L499.90 812.60 L500.40 812.60 L500.90 812.60 L501.40 812.60 L501.90 812.60 L502.40 812.60 L502.90 812.60 L503.40 812.60 L503.90 812.60 L504.40 812.60 L504.90 812.60 L505.40 812.60 L505.90 812.60 L506.40 812.60 L506.90 812.60 L507.40 812.60 L507.90 812.60 L508.40 812.60 L508.90 812.60 L509.40 812.60 L509.90 812.60 L510.40 812.60 L510.90 812.60" fill="none" stroke="#d8606a" stroke-width="0.9"/><path d="M352.40 838.46 L352.90 838.46 L353.40 838.45 L353.90 838.45 L354.40 838.44 L354.90 838.44 L355.40 838.43 L355.90 838.43 L356.40 838.42 L356.90 838.41 L357.40 838.40 L357.90 838.40 L358.40 838.39 L358.90 838.38 L359.40 838.37 L359.90 838.36 L360.40 838.34 L360.90 838.33 L361.40 838.32 L361.90 838.30 L362.40 838.28 L362.90 838.27 L363.40 838.25 L363.90 838.23 L364.40 838.21 L364.90 838.19 L365.40 838.16 L365.90 838.14 L366.40 838.11 L366.90 838.08 L367.40 838.05 L367.90 838.02 L368.40 837.98 L368.90 837.95 L369.40 837.91 L369.90 837.86 L370.40 837.82 L370.90 837.77 L371.40 837.72 L371.90 837.67 L372.40 837.61 L372.90 837.56 L373.40 837.49 L373.90 837.42 L374.40 837.35 L374.90 837.27 L375.40 837.19 L375.90 837.10 L376.40 837.00 L376.90 836.90 L377.40 836.79 L377.90 836.67 L378.40 836.53 L378.90 836.39 L379.40 836.23 L379.90 836.05 L380.40 835.86 L380.90 835.65 L381.40 835.41 L381.90 835.15 L382.40 834.86 L382.90 834.54 L383.40 834.19 L383.90 833.80 L384.40 833.36 L384.90 832.87 L385.40 832.33 L385.90 831.74 L386.40 831.08 L386.90 830.36 L387.40 829.57 L387.90 828.70 L388.40 827.76 L388.90 826.73 L389.40 825.61 L389.90 824.41 L390.40 823.13 L390.90 821.76 L391.40 820.30 L391.90 818.77 L392.40 817.16 L392.90 815.49 L393.40 813.76 L393.90 812.00 L394.40 810.21 L394.90 808.41 L395.40 806.63 L395.90 804.89 L396.40 803.22 L396.90 801.64 L397.40 800.20 L397.90 798.92 L398.40 797.85 L398.90 797.04 L399.40 796.57 L399.90 796.62 L400.40 797.07 L400.90 797.75 L401.40 798.62 L401.90 799.65 L402.40 800.82 L402.90 802.09 L403.40 803.45 L403.90 804.88 L404.40 806.36 L404.90 807.87 L405.40 809.40 L405.90 810.93 L406.40 812.45 L406.90 813.95 L407.40 815.43 L407.90 816.86 L408.40 818.26 L408.90 819.60 L409.40 820.88 L409.90 822.11 L410.40 823.28 L410.90 824.39 L411.40 825.43 L411.90 826.41 L412.40 827.33 L412.90 828.19 L413.40 828.99 L413.90 829.73 L414.40 830.42 L414.90 831.05 L415.40 831.64 L415.90 832.18 L416.40 832.67 L416.90 833.12 L417.40 833.54 L417.90 833.92 L418.40 834.27 L418.90 834.59 L419.40 834.88 L419.90 835.14 L420.40 835.38 L420.90 835.60 L421.40 835.81 L421.90 835.99 L422.40 836.16 L422.90 836.32 L423.40 836.46 L423.90 836.59 L424.40 836.71 L424.90 836.82 L425.40 836.92 L425.90 837.02 L426.40 837.11 L426.90 837.19 L427.40 837.27 L427.90 837.34 L428.40 837.41 L428.90 837.47 L429.40 837.53 L429.90 837.58 L430.40 837.63 L430.90 837.68 L431.40 837.73 L431.90 837.77 L432.40 837.82 L432.90 837.86 L433.40 837.89 L433.90 837.93 L434.40 837.96 L434.90 837.99 L435.40 838.02 L435.90 838.05 L436.40 838.08 L436.90 838.10 L437.40 838.13 L437.90 838.15 L438.40 838.17 L438.90 838.19 L439.40 838.21 L439.90 838.23 L440.40 838.24 L440.90 838.26 L441.40 838.28 L441.90 838.29 L442.40 838.30 L442.90 838.32 L443.40 838.33 L443.90 838.34 L444.40 838.35 L444.90 838.36 L445.40 838.37 L445.90 838.38 L446.40 838.39 L446.90 838.40 L447.40 838.40 L447.90 838.41 L448.40 838.42 L448.90 838.42 L449.40 838.43 L449.90 838.43 L450.40 838.44 L450.90 838.44 L451.40 838.45 L451.90 838.45 L452.40 838.45 L452.90 838.46 L453.40 838.46 L453.90 838.46 L454.40 838.47 L454.90 838.47 L455.40 838.47 L455.90 838.47 L456.40 838.48 L456.90 838.48 L457.40 838.48 L457.90 838.48 L458.40 838.48 L458.90 838.48 L459.40 838.49 L459.90 838.49 L460.40 838.49 L460.90 838.49 L461.40 838.49 L461.90 838.49 L462.40 838.49 L462.90 838.49 L463.40 838.49 L463.90 838.49 L464.40 838.49 L464.90 838.49 L465.40 838.49 L465.90 838.50 L466.40 838.50 L466.90 838.50 L467.40 838.50 L467.90 838.50 L468.40 838.50 L468.90 838.50 L469.40 838.50 L469.90 838.50 L470.40 838.50 L470.90 838.50 L471.40 838.50 L471.90 838.50 L472.40 838.50 L472.90 838.50 L473.40 838.50 L473.90 838.50 L474.40 838.50 L474.90 838.50 L475.40 838.50 L475.90 838.50 L476.40 838.50 L476.90 838.50 L477.40 838.50 L477.90 838.50 L478.40 838.50 L478.90 838.50 L479.40 838.50 L479.90 838.50 L480.40 838.50 L480.90 838.50 L481.40 838.50 L481.90 838.50 L482.40 838.50 L482.90 838.50 L483.40 838.50 L483.90 838.50 L484.40 838.50 L484.90 838.50 L485.40 838.50 L485.90 838.50 L486.40 838.50 L486.90 838.50 L487.40 838.50 L487.90 838.50 L488.40 838.50 L488.90 838.50 L489.40 838.50 L489.90 838.50 L490.40 838.50 L490.90 838.50 L491.40 838.50 L491.90 838.50 L492.40 838.50 L492.90 838.50 L493.40 838.50 L493.90 838.50 L494.40 838.50 L494.90 838.50 L495.40 838.50 L495.90 838.50 L496.40 838.50 L496.90 838.50 L497.40 838.50 L497.90 838.50 L498.40 838.50 L498.90 838.50 L499.40 838.50 L499.90 838.50 L500.40 838.50 L500.90 838.50 L501.40 838.50 L501.90 838.50 L502.40 838.50 L502.90 838.50 L503.40 838.50 L503.90 838.50 L504.40 838.50 L504.90 838.50 L505.40 838.50 L505.90 838.50 L506.40 838.50 L506.90 838.50 L507.40 838.50 L507.90 838.50 L508.40 838.50 L508.90 838.50 L509.40 838.50 L509.90 838.50 L510.40 838.50 L510.90 838.50 L511 838.5 L352.4 838.5 Z" fill="#f9c894" fill-opacity="0.82" stroke="none"/><path d="M352.40 838.46 L352.90 838.46 L353.40 838.45 L353.90 838.45 L354.40 838.44 L354.90 838.44 L355.40 838.43 L355.90 838.43 L356.40 838.42 L356.90 838.41 L357.40 838.40 L357.90 838.40 L358.40 838.39 L358.90 838.38 L359.40 838.37 L359.90 838.36 L360.40 838.34 L360.90 838.33 L361.40 838.32 L361.90 838.30 L362.40 838.28 L362.90 838.27 L363.40 838.25 L363.90 838.23 L364.40 838.21 L364.90 838.19 L365.40 838.16 L365.90 838.14 L366.40 838.11 L366.90 838.08 L367.40 838.05 L367.90 838.02 L368.40 837.98 L368.90 837.95 L369.40 837.91 L369.90 837.86 L370.40 837.82 L370.90 837.77 L371.40 837.72 L371.90 837.67 L372.40 837.61 L372.90 837.56 L373.40 837.49 L373.90 837.42 L374.40 837.35 L374.90 837.27 L375.40 837.19 L375.90 837.10 L376.40 837.00 L376.90 836.90 L377.40 836.79 L377.90 836.67 L378.40 836.53 L378.90 836.39 L379.40 836.23 L379.90 836.05 L380.40 835.86 L380.90 835.65 L381.40 835.41 L381.90 835.15 L382.40 834.86 L382.90 834.54 L383.40 834.19 L383.90 833.80 L384.40 833.36 L384.90 832.87 L385.40 832.33 L385.90 831.74 L386.40 831.08 L386.90 830.36 L387.40 829.57 L387.90 828.70 L388.40 827.76 L388.90 826.73 L389.40 825.61 L389.90 824.41 L390.40 823.13 L390.90 821.76 L391.40 820.30 L391.90 818.77 L392.40 817.16 L392.90 815.49 L393.40 813.76 L393.90 812.00 L394.40 810.21 L394.90 808.41 L395.40 806.63 L395.90 804.89 L396.40 803.22 L396.90 801.64 L397.40 800.20 L397.90 798.92 L398.40 797.85 L398.90 797.04 L399.40 796.57 L399.90 796.62 L400.40 797.07 L400.90 797.75 L401.40 798.62 L401.90 799.65 L402.40 800.82 L402.90 802.09 L403.40 803.45 L403.90 804.88 L404.40 806.36 L404.90 807.87 L405.40 809.40 L405.90 810.93 L406.40 812.45 L406.90 813.95 L407.40 815.43 L407.90 816.86 L408.40 818.26 L408.90 819.60 L409.40 820.88 L409.90 822.11 L410.40 823.28 L410.90 824.39 L411.40 825.43 L411.90 826.41 L412.40 827.33 L412.90 828.19 L413.40 828.99 L413.90 829.73 L414.40 830.42 L414.90 831.05 L415.40 831.64 L415.90 832.18 L416.40 832.67 L416.90 833.12 L417.40 833.54 L417.90 833.92 L418.40 834.27 L418.90 834.59 L419.40 834.88 L419.90 835.14 L420.40 835.38 L420.90 835.60 L421.40 835.81 L421.90 835.99 L422.40 836.16 L422.90 836.32 L423.40 836.46 L423.90 836.59 L424.40 836.71 L424.90 836.82 L425.40 836.92 L425.90 837.02 L426.40 837.11 L426.90 837.19 L427.40 837.27 L427.90 837.34 L428.40 837.41 L428.90 837.47 L429.40 837.53 L429.90 837.58 L430.40 837.63 L430.90 837.68 L431.40 837.73 L431.90 837.77 L432.40 837.82 L432.90 837.86 L433.40 837.89 L433.90 837.93 L434.40 837.96 L434.90 837.99 L435.40 838.02 L435.90 838.05 L436.40 838.08 L436.90 838.10 L437.40 838.13 L437.90 838.15 L438.40 838.17 L438.90 838.19 L439.40 838.21 L439.90 838.23 L440.40 838.24 L440.90 838.26 L441.40 838.28 L441.90 838.29 L442.40 838.30 L442.90 838.32 L443.40 838.33 L443.90 838.34 L444.40 838.35 L444.90 838.36 L445.40 838.37 L445.90 838.38 L446.40 838.39 L446.90 838.40 L447.40 838.40 L447.90 838.41 L448.40 838.42 L448.90 838.42 L449.40 838.43 L449.90 838.43 L450.40 838.44 L450.90 838.44 L451.40 838.45 L451.90 838.45 L452.40 838.45 L452.90 838.46 L453.40 838.46 L453.90 838.46 L454.40 838.47 L454.90 838.47 L455.40 838.47 L455.90 838.47 L456.40 838.48 L456.90 838.48 L457.40 838.48 L457.90 838.48 L458.40 838.48 L458.90 838.48 L459.40 838.49 L459.90 838.49 L460.40 838.49 L460.90 838.49 L461.40 838.49 L461.90 838.49 L462.40 838.49 L462.90 838.49 L463.40 838.49 L463.90 838.49 L464.40 838.49 L464.90 838.49 L465.40 838.49 L465.90 838.50 L466.40 838.50 L466.90 838.50 L467.40 838.50 L467.90 838.50 L468.40 838.50 L468.90 838.50 L469.40 838.50 L469.90 838.50 L470.40 838.50 L470.90 838.50 L471.40 838.50 L471.90 838.50 L472.40 838.50 L472.90 838.50 L473.40 838.50 L473.90 838.50 L474.40 838.50 L474.90 838.50 L475.40 838.50 L475.90 838.50 L476.40 838.50 L476.90 838.50 L477.40 838.50 L477.90 838.50 L478.40 838.50 L478.90 838.50 L479.40 838.50 L479.90 838.50 L480.40 838.50 L480.90 838.50 L481.40 838.50 L481.90 838.50 L482.40 838.50 L482.90 838.50 L483.40 838.50 L483.90 838.50 L484.40 838.50 L484.90 838.50 L485.40 838.50 L485.90 838.50 L486.40 838.50 L486.90 838.50 L487.40 838.50 L487.90 838.50 L488.40 838.50 L488.90 838.50 L489.40 838.50 L489.90 838.50 L490.40 838.50 L490.90 838.50 L491.40 838.50 L491.90 838.50 L492.40 838.50 L492.90 838.50 L493.40 838.50 L493.90 838.50 L494.40 838.50 L494.90 838.50 L495.40 838.50 L495.90 838.50 L496.40 838.50 L496.90 838.50 L497.40 838.50 L497.90 838.50 L498.40 838.50 L498.90 838.50 L499.40 838.50 L499.90 838.50 L500.40 838.50 L500.90 838.50 L501.40 838.50 L501.90 838.50 L502.40 838.50 L502.90 838.50 L503.40 838.50 L503.90 838.50 L504.40 838.50 L504.90 838.50 L505.40 838.50 L505.90 838.50 L506.40 838.50 L506.90 838.50 L507.40 838.50 L507.90 838.50 L508.40 838.50 L508.90 838.50 L509.40 838.50 L509.90 838.50 L510.40 838.50 L510.90 838.50" fill="none" stroke="#e8a65c" stroke-width="0.9"/><path d="M352.40 864.39 L352.90 864.38 L353.40 864.37 L353.90 864.36 L354.40 864.34 L354.90 864.33 L355.40 864.32 L355.90 864.30 L356.40 864.28 L356.90 864.27 L357.40 864.25 L357.90 864.23 L358.40 864.21 L358.90 864.19 L359.40 864.16 L359.90 864.14 L360.40 864.11 L360.90 864.08 L361.40 864.05 L361.90 864.02 L362.40 863.98 L362.90 863.95 L363.40 863.91 L363.90 863.86 L364.40 863.82 L364.90 863.77 L365.40 863.72 L365.90 863.67 L366.40 863.61 L366.90 863.55 L367.40 863.49 L367.90 863.42 L368.40 863.35 L368.90 863.27 L369.40 863.19 L369.90 863.10 L370.40 863.00 L370.90 862.90 L371.40 862.79 L371.90 862.66 L372.40 862.53 L372.90 862.38 L373.40 862.22 L373.90 862.05 L374.40 861.86 L374.90 861.64 L375.40 861.41 L375.90 861.15 L376.40 860.86 L376.90 860.54 L377.40 860.18 L377.90 859.79 L378.40 859.35 L378.90 858.87 L379.40 858.33 L379.90 857.74 L380.40 857.08 L380.90 856.36 L381.40 855.58 L381.90 854.71 L382.40 853.77 L382.90 852.75 L383.40 851.65 L383.90 850.46 L384.40 849.19 L384.90 847.84 L385.40 846.41 L385.90 844.90 L386.40 843.32 L386.90 841.68 L387.40 839.99 L387.90 838.26 L388.40 836.51 L388.90 834.76 L389.40 833.04 L389.90 831.35 L390.40 829.74 L390.90 828.22 L391.40 826.84 L391.90 825.63 L392.40 824.63 L392.90 823.90 L393.40 823.53 L393.90 823.70 L394.40 824.25 L394.90 825.04 L395.40 826.04 L395.90 827.20 L396.40 828.50 L396.90 829.90 L397.40 831.38 L397.90 832.93 L398.40 834.51 L398.90 836.11 L399.40 837.71 L399.90 839.30 L400.40 840.87 L400.90 842.40 L401.40 843.88 L401.90 845.31 L402.40 846.68 L402.90 847.98 L403.40 849.21 L403.90 850.38 L404.40 851.47 L404.90 852.50 L405.40 853.45 L405.90 854.33 L406.40 855.15 L406.90 855.91 L407.40 856.60 L407.90 857.24 L408.40 857.82 L408.90 858.35 L409.40 858.84 L409.90 859.28 L410.40 859.68 L410.90 860.04 L411.40 860.37 L411.90 860.67 L412.40 860.95 L412.90 861.20 L413.40 861.42 L413.90 861.63 L414.40 861.82 L414.90 861.99 L415.40 862.14 L415.90 862.29 L416.40 862.42 L416.90 862.54 L417.40 862.66 L417.90 862.76 L418.40 862.86 L418.90 862.95 L419.40 863.03 L419.90 863.11 L420.40 863.19 L420.90 863.26 L421.40 863.33 L421.90 863.39 L422.40 863.45 L422.90 863.50 L423.40 863.56 L423.90 863.61 L424.40 863.66 L424.90 863.70 L425.40 863.75 L425.90 863.79 L426.40 863.83 L426.90 863.86 L427.40 863.90 L427.90 863.93 L428.40 863.96 L428.90 864.00 L429.40 864.02 L429.90 864.05 L430.40 864.08 L430.90 864.10 L431.40 864.13 L431.90 864.15 L432.40 864.17 L432.90 864.19 L433.40 864.21 L433.90 864.23 L434.40 864.24 L434.90 864.26 L435.40 864.28 L435.90 864.29 L436.40 864.30 L436.90 864.32 L437.40 864.33 L437.90 864.34 L438.40 864.35 L438.90 864.36 L439.40 864.37 L439.90 864.38 L440.40 864.39 L440.90 864.40 L441.40 864.40 L441.90 864.41 L442.40 864.42 L442.90 864.42 L443.40 864.43 L443.90 864.43 L444.40 864.44 L444.90 864.44 L445.40 864.45 L445.90 864.45 L446.40 864.45 L446.90 864.46 L447.40 864.46 L447.90 864.46 L448.40 864.47 L448.90 864.47 L449.40 864.47 L449.90 864.47 L450.40 864.48 L450.90 864.48 L451.40 864.48 L451.90 864.48 L452.40 864.48 L452.90 864.48 L453.40 864.49 L453.90 864.49 L454.40 864.49 L454.90 864.49 L455.40 864.49 L455.90 864.49 L456.40 864.49 L456.90 864.49 L457.40 864.49 L457.90 864.49 L458.40 864.49 L458.90 864.49 L459.40 864.49 L459.90 864.50 L460.40 864.50 L460.90 864.50 L461.40 864.50 L461.90 864.50 L462.40 864.50 L462.90 864.50 L463.40 864.50 L463.90 864.50 L464.40 864.50 L464.90 864.50 L465.40 864.50 L465.90 864.50 L466.40 864.50 L466.90 864.50 L467.40 864.50 L467.90 864.50 L468.40 864.50 L468.90 864.50 L469.40 864.50 L469.90 864.50 L470.40 864.50 L470.90 864.50 L471.40 864.50 L471.90 864.50 L472.40 864.50 L472.90 864.50 L473.40 864.50 L473.90 864.50 L474.40 864.50 L474.90 864.50 L475.40 864.50 L475.90 864.50 L476.40 864.50 L476.90 864.50 L477.40 864.50 L477.90 864.50 L478.40 864.50 L478.90 864.50 L479.40 864.50 L479.90 864.50 L480.40 864.50 L480.90 864.50 L481.40 864.50 L481.90 864.50 L482.40 864.50 L482.90 864.50 L483.40 864.50 L483.90 864.50 L484.40 864.50 L484.90 864.50 L485.40 864.50 L485.90 864.50 L486.40 864.50 L486.90 864.50 L487.40 864.50 L487.90 864.50 L488.40 864.50 L488.90 864.50 L489.40 864.50 L489.90 864.50 L490.40 864.50 L490.90 864.50 L491.40 864.50 L491.90 864.50 L492.40 864.50 L492.90 864.50 L493.40 864.50 L493.90 864.50 L494.40 864.50 L494.90 864.50 L495.40 864.50 L495.90 864.50 L496.40 864.50 L496.90 864.50 L497.40 864.50 L497.90 864.50 L498.40 864.50 L498.90 864.50 L499.40 864.50 L499.90 864.50 L500.40 864.50 L500.90 864.50 L501.40 864.50 L501.90 864.50 L502.40 864.50 L502.90 864.50 L503.40 864.50 L503.90 864.50 L504.40 864.50 L504.90 864.50 L505.40 864.50 L505.90 864.50 L506.40 864.50 L506.90 864.50 L507.40 864.50 L507.90 864.50 L508.40 864.50 L508.90 864.50 L509.40 864.50 L509.90 864.50 L510.40 864.50 L510.90 864.50 L511 864.5 L352.4 864.5 Z" fill="#f6a0ee" fill-opacity="0.82" stroke="none"/><path d="M352.40 864.39 L352.90 864.38 L353.40 864.37 L353.90 864.36 L354.40 864.34 L354.90 864.33 L355.40 864.32 L355.90 864.30 L356.40 864.28 L356.90 864.27 L357.40 864.25 L357.90 864.23 L358.40 864.21 L358.90 864.19 L359.40 864.16 L359.90 864.14 L360.40 864.11 L360.90 864.08 L361.40 864.05 L361.90 864.02 L362.40 863.98 L362.90 863.95 L363.40 863.91 L363.90 863.86 L364.40 863.82 L364.90 863.77 L365.40 863.72 L365.90 863.67 L366.40 863.61 L366.90 863.55 L367.40 863.49 L367.90 863.42 L368.40 863.35 L368.90 863.27 L369.40 863.19 L369.90 863.10 L370.40 863.00 L370.90 862.90 L371.40 862.79 L371.90 862.66 L372.40 862.53 L372.90 862.38 L373.40 862.22 L373.90 862.05 L374.40 861.86 L374.90 861.64 L375.40 861.41 L375.90 861.15 L376.40 860.86 L376.90 860.54 L377.40 860.18 L377.90 859.79 L378.40 859.35 L378.90 858.87 L379.40 858.33 L379.90 857.74 L380.40 857.08 L380.90 856.36 L381.40 855.58 L381.90 854.71 L382.40 853.77 L382.90 852.75 L383.40 851.65 L383.90 850.46 L384.40 849.19 L384.90 847.84 L385.40 846.41 L385.90 844.90 L386.40 843.32 L386.90 841.68 L387.40 839.99 L387.90 838.26 L388.40 836.51 L388.90 834.76 L389.40 833.04 L389.90 831.35 L390.40 829.74 L390.90 828.22 L391.40 826.84 L391.90 825.63 L392.40 824.63 L392.90 823.90 L393.40 823.53 L393.90 823.70 L394.40 824.25 L394.90 825.04 L395.40 826.04 L395.90 827.20 L396.40 828.50 L396.90 829.90 L397.40 831.38 L397.90 832.93 L398.40 834.51 L398.90 836.11 L399.40 837.71 L399.90 839.30 L400.40 840.87 L400.90 842.40 L401.40 843.88 L401.90 845.31 L402.40 846.68 L402.90 847.98 L403.40 849.21 L403.90 850.38 L404.40 851.47 L404.90 852.50 L405.40 853.45 L405.90 854.33 L406.40 855.15 L406.90 855.91 L407.40 856.60 L407.90 857.24 L408.40 857.82 L408.90 858.35 L409.40 858.84 L409.90 859.28 L410.40 859.68 L410.90 860.04 L411.40 860.37 L411.90 860.67 L412.40 860.95 L412.90 861.20 L413.40 861.42 L413.90 861.63 L414.40 861.82 L414.90 861.99 L415.40 862.14 L415.90 862.29 L416.40 862.42 L416.90 862.54 L417.40 862.66 L417.90 862.76 L418.40 862.86 L418.90 862.95 L419.40 863.03 L419.90 863.11 L420.40 863.19 L420.90 863.26 L421.40 863.33 L421.90 863.39 L422.40 863.45 L422.90 863.50 L423.40 863.56 L423.90 863.61 L424.40 863.66 L424.90 863.70 L425.40 863.75 L425.90 863.79 L426.40 863.83 L426.90 863.86 L427.40 863.90 L427.90 863.93 L428.40 863.96 L428.90 864.00 L429.40 864.02 L429.90 864.05 L430.40 864.08 L430.90 864.10 L431.40 864.13 L431.90 864.15 L432.40 864.17 L432.90 864.19 L433.40 864.21 L433.90 864.23 L434.40 864.24 L434.90 864.26 L435.40 864.28 L435.90 864.29 L436.40 864.30 L436.90 864.32 L437.40 864.33 L437.90 864.34 L438.40 864.35 L438.90 864.36 L439.40 864.37 L439.90 864.38 L440.40 864.39 L440.90 864.40 L441.40 864.40 L441.90 864.41 L442.40 864.42 L442.90 864.42 L443.40 864.43 L443.90 864.43 L444.40 864.44 L444.90 864.44 L445.40 864.45 L445.90 864.45 L446.40 864.45 L446.90 864.46 L447.40 864.46 L447.90 864.46 L448.40 864.47 L448.90 864.47 L449.40 864.47 L449.90 864.47 L450.40 864.48 L450.90 864.48 L451.40 864.48 L451.90 864.48 L452.40 864.48 L452.90 864.48 L453.40 864.49 L453.90 864.49 L454.40 864.49 L454.90 864.49 L455.40 864.49 L455.90 864.49 L456.40 864.49 L456.90 864.49 L457.40 864.49 L457.90 864.49 L458.40 864.49 L458.90 864.49 L459.40 864.49 L459.90 864.50 L460.40 864.50 L460.90 864.50 L461.40 864.50 L461.90 864.50 L462.40 864.50 L462.90 864.50 L463.40 864.50 L463.90 864.50 L464.40 864.50 L464.90 864.50 L465.40 864.50 L465.90 864.50 L466.40 864.50 L466.90 864.50 L467.40 864.50 L467.90 864.50 L468.40 864.50 L468.90 864.50 L469.40 864.50 L469.90 864.50 L470.40 864.50 L470.90 864.50 L471.40 864.50 L471.90 864.50 L472.40 864.50 L472.90 864.50 L473.40 864.50 L473.90 864.50 L474.40 864.50 L474.90 864.50 L475.40 864.50 L475.90 864.50 L476.40 864.50 L476.90 864.50 L477.40 864.50 L477.90 864.50 L478.40 864.50 L478.90 864.50 L479.40 864.50 L479.90 864.50 L480.40 864.50 L480.90 864.50 L481.40 864.50 L481.90 864.50 L482.40 864.50 L482.90 864.50 L483.40 864.50 L483.90 864.50 L484.40 864.50 L484.90 864.50 L485.40 864.50 L485.90 864.50 L486.40 864.50 L486.90 864.50 L487.40 864.50 L487.90 864.50 L488.40 864.50 L488.90 864.50 L489.40 864.50 L489.90 864.50 L490.40 864.50 L490.90 864.50 L491.40 864.50 L491.90 864.50 L492.40 864.50 L492.90 864.50 L493.40 864.50 L493.90 864.50 L494.40 864.50 L494.90 864.50 L495.40 864.50 L495.90 864.50 L496.40 864.50 L496.90 864.50 L497.40 864.50 L497.90 864.50 L498.40 864.50 L498.90 864.50 L499.40 864.50 L499.90 864.50 L500.40 864.50 L500.90 864.50 L501.40 864.50 L501.90 864.50 L502.40 864.50 L502.90 864.50 L503.40 864.50 L503.90 864.50 L504.40 864.50 L504.90 864.50 L505.40 864.50 L505.90 864.50 L506.40 864.50 L506.90 864.50 L507.40 864.50 L507.90 864.50 L508.40 864.50 L508.90 864.50 L509.40 864.50 L509.90 864.50 L510.40 864.50 L510.90 864.50" fill="none" stroke="#dd68d2" stroke-width="0.9"/><path d="M352.40 890.30 L352.90 890.30 L353.40 890.29 L353.90 890.28 L354.40 890.27 L354.90 890.26 L355.40 890.24 L355.90 890.23 L356.40 890.22 L356.90 890.20 L357.40 890.18 L357.90 890.17 L358.40 890.15 L358.90 890.13 L359.40 890.11 L359.90 890.09 L360.40 890.06 L360.90 890.04 L361.40 890.01 L361.90 889.98 L362.40 889.95 L362.90 889.91 L363.40 889.88 L363.90 889.84 L364.40 889.80 L364.90 889.76 L365.40 889.71 L365.90 889.66 L366.40 889.61 L366.90 889.55 L367.40 889.49 L367.90 889.43 L368.40 889.36 L368.90 889.29 L369.40 889.21 L369.90 889.12 L370.40 889.03 L370.90 888.92 L371.40 888.81 L371.90 888.69 L372.40 888.56 L372.90 888.42 L373.40 888.26 L373.90 888.09 L374.40 887.90 L374.90 887.69 L375.40 887.46 L375.90 887.20 L376.40 886.92 L376.90 886.61 L377.40 886.27 L377.90 885.89 L378.40 885.47 L378.90 885.01 L379.40 884.50 L379.90 883.95 L380.40 883.33 L380.90 882.66 L381.40 881.93 L381.90 881.14 L382.40 880.27 L382.90 879.34 L383.40 878.33 L383.90 877.25 L384.40 876.10 L384.90 874.87 L385.40 873.57 L385.90 872.20 L386.40 870.77 L386.90 869.28 L387.40 867.74 L387.90 866.16 L388.40 864.55 L388.90 862.92 L389.40 861.30 L389.90 859.69 L390.40 858.13 L390.90 856.62 L391.40 855.21 L391.90 853.90 L392.40 852.74 L392.90 851.76 L393.40 851.00 L393.90 850.51 L394.40 850.45 L394.90 850.81 L395.40 851.41 L395.90 852.19 L396.40 853.14 L396.90 854.21 L397.40 855.40 L397.90 856.67 L398.40 858.01 L398.90 859.39 L399.40 860.82 L399.90 862.26 L400.40 863.71 L400.90 865.15 L401.40 866.58 L401.90 867.98 L402.40 869.35 L402.90 870.68 L403.40 871.96 L403.90 873.19 L404.40 874.36 L404.90 875.49 L405.40 876.55 L405.90 877.55 L406.40 878.50 L406.90 879.38 L407.40 880.21 L407.90 880.98 L408.40 881.70 L408.90 882.37 L409.40 882.98 L409.90 883.55 L410.40 884.08 L410.90 884.56 L411.40 885.00 L411.90 885.41 L412.40 885.78 L412.90 886.12 L413.40 886.43 L413.90 886.72 L414.40 886.98 L414.90 887.22 L415.40 887.44 L415.90 887.64 L416.40 887.82 L416.90 887.99 L417.40 888.15 L417.90 888.29 L418.40 888.42 L418.90 888.54 L419.40 888.66 L419.90 888.76 L420.40 888.86 L420.90 888.95 L421.40 889.03 L421.90 889.11 L422.40 889.18 L422.90 889.25 L423.40 889.32 L423.90 889.38 L424.40 889.44 L424.90 889.49 L425.40 889.54 L425.90 889.59 L426.40 889.63 L426.90 889.68 L427.40 889.72 L427.90 889.76 L428.40 889.79 L428.90 889.83 L429.40 889.86 L429.90 889.89 L430.40 889.92 L430.90 889.95 L431.40 889.98 L431.90 890.00 L432.40 890.03 L432.90 890.05 L433.40 890.07 L433.90 890.09 L434.40 890.11 L434.90 890.13 L435.40 890.14 L435.90 890.16 L436.40 890.18 L436.90 890.19 L437.40 890.20 L437.90 890.22 L438.40 890.23 L438.90 890.24 L439.40 890.25 L439.90 890.26 L440.40 890.27 L440.90 890.28 L441.40 890.29 L441.90 890.30 L442.40 890.30 L442.90 890.31 L443.40 890.32 L443.90 890.32 L444.40 890.33 L444.90 890.33 L445.40 890.34 L445.90 890.34 L446.40 890.35 L446.90 890.35 L447.40 890.35 L447.90 890.36 L448.40 890.36 L448.90 890.36 L449.40 890.37 L449.90 890.37 L450.40 890.37 L450.90 890.37 L451.40 890.38 L451.90 890.38 L452.40 890.38 L452.90 890.38 L453.40 890.38 L453.90 890.38 L454.40 890.39 L454.90 890.39 L455.40 890.39 L455.90 890.39 L456.40 890.39 L456.90 890.39 L457.40 890.39 L457.90 890.39 L458.40 890.39 L458.90 890.39 L459.40 890.39 L459.90 890.39 L460.40 890.39 L460.90 890.40 L461.40 890.40 L461.90 890.40 L462.40 890.40 L462.90 890.40 L463.40 890.40 L463.90 890.40 L464.40 890.40 L464.90 890.40 L465.40 890.40 L465.90 890.40 L466.40 890.40 L466.90 890.40 L467.40 890.40 L467.90 890.40 L468.40 890.40 L468.90 890.40 L469.40 890.40 L469.90 890.40 L470.40 890.40 L470.90 890.40 L471.40 890.40 L471.90 890.40 L472.40 890.40 L472.90 890.40 L473.40 890.40 L473.90 890.40 L474.40 890.40 L474.90 890.40 L475.40 890.40 L475.90 890.40 L476.40 890.40 L476.90 890.40 L477.40 890.40 L477.90 890.40 L478.40 890.40 L478.90 890.40 L479.40 890.40 L479.90 890.40 L480.40 890.40 L480.90 890.40 L481.40 890.40 L481.90 890.40 L482.40 890.40 L482.90 890.40 L483.40 890.40 L483.90 890.40 L484.40 890.40 L484.90 890.40 L485.40 890.40 L485.90 890.40 L486.40 890.40 L486.90 890.40 L487.40 890.40 L487.90 890.40 L488.40 890.40 L488.90 890.40 L489.40 890.40 L489.90 890.40 L490.40 890.40 L490.90 890.40 L491.40 890.40 L491.90 890.40 L492.40 890.40 L492.90 890.40 L493.40 890.40 L493.90 890.40 L494.40 890.40 L494.90 890.40 L495.40 890.40 L495.90 890.40 L496.40 890.40 L496.90 890.40 L497.40 890.40 L497.90 890.40 L498.40 890.40 L498.90 890.40 L499.40 890.40 L499.90 890.40 L500.40 890.40 L500.90 890.40 L501.40 890.40 L501.90 890.40 L502.40 890.40 L502.90 890.40 L503.40 890.40 L503.90 890.40 L504.40 890.40 L504.90 890.40 L505.40 890.40 L505.90 890.40 L506.40 890.40 L506.90 890.40 L507.40 890.40 L507.90 890.40 L508.40 890.40 L508.90 890.40 L509.40 890.40 L509.90 890.40 L510.40 890.40 L510.90 890.40 L511 890.4 L352.4 890.4 Z" fill="#9d94ee" fill-opacity="0.82" stroke="none"/><path d="M352.40 890.30 L352.90 890.30 L353.40 890.29 L353.90 890.28 L354.40 890.27 L354.90 890.26 L355.40 890.24 L355.90 890.23 L356.40 890.22 L356.90 890.20 L357.40 890.18 L357.90 890.17 L358.40 890.15 L358.90 890.13 L359.40 890.11 L359.90 890.09 L360.40 890.06 L360.90 890.04 L361.40 890.01 L361.90 889.98 L362.40 889.95 L362.90 889.91 L363.40 889.88 L363.90 889.84 L364.40 889.80 L364.90 889.76 L365.40 889.71 L365.90 889.66 L366.40 889.61 L366.90 889.55 L367.40 889.49 L367.90 889.43 L368.40 889.36 L368.90 889.29 L369.40 889.21 L369.90 889.12 L370.40 889.03 L370.90 888.92 L371.40 888.81 L371.90 888.69 L372.40 888.56 L372.90 888.42 L373.40 888.26 L373.90 888.09 L374.40 887.90 L374.90 887.69 L375.40 887.46 L375.90 887.20 L376.40 886.92 L376.90 886.61 L377.40 886.27 L377.90 885.89 L378.40 885.47 L378.90 885.01 L379.40 884.50 L379.90 883.95 L380.40 883.33 L380.90 882.66 L381.40 881.93 L381.90 881.14 L382.40 880.27 L382.90 879.34 L383.40 878.33 L383.90 877.25 L384.40 876.10 L384.90 874.87 L385.40 873.57 L385.90 872.20 L386.40 870.77 L386.90 869.28 L387.40 867.74 L387.90 866.16 L388.40 864.55 L388.90 862.92 L389.40 861.30 L389.90 859.69 L390.40 858.13 L390.90 856.62 L391.40 855.21 L391.90 853.90 L392.40 852.74 L392.90 851.76 L393.40 851.00 L393.90 850.51 L394.40 850.45 L394.90 850.81 L395.40 851.41 L395.90 852.19 L396.40 853.14 L396.90 854.21 L397.40 855.40 L397.90 856.67 L398.40 858.01 L398.90 859.39 L399.40 860.82 L399.90 862.26 L400.40 863.71 L400.90 865.15 L401.40 866.58 L401.90 867.98 L402.40 869.35 L402.90 870.68 L403.40 871.96 L403.90 873.19 L404.40 874.36 L404.90 875.49 L405.40 876.55 L405.90 877.55 L406.40 878.50 L406.90 879.38 L407.40 880.21 L407.90 880.98 L408.40 881.70 L408.90 882.37 L409.40 882.98 L409.90 883.55 L410.40 884.08 L410.90 884.56 L411.40 885.00 L411.90 885.41 L412.40 885.78 L412.90 886.12 L413.40 886.43 L413.90 886.72 L414.40 886.98 L414.90 887.22 L415.40 887.44 L415.90 887.64 L416.40 887.82 L416.90 887.99 L417.40 888.15 L417.90 888.29 L418.40 888.42 L418.90 888.54 L419.40 888.66 L419.90 888.76 L420.40 888.86 L420.90 888.95 L421.40 889.03 L421.90 889.11 L422.40 889.18 L422.90 889.25 L423.40 889.32 L423.90 889.38 L424.40 889.44 L424.90 889.49 L425.40 889.54 L425.90 889.59 L426.40 889.63 L426.90 889.68 L427.40 889.72 L427.90 889.76 L428.40 889.79 L428.90 889.83 L429.40 889.86 L429.90 889.89 L430.40 889.92 L430.90 889.95 L431.40 889.98 L431.90 890.00 L432.40 890.03 L432.90 890.05 L433.40 890.07 L433.90 890.09 L434.40 890.11 L434.90 890.13 L435.40 890.14 L435.90 890.16 L436.40 890.18 L436.90 890.19 L437.40 890.20 L437.90 890.22 L438.40 890.23 L438.90 890.24 L439.40 890.25 L439.90 890.26 L440.40 890.27 L440.90 890.28 L441.40 890.29 L441.90 890.30 L442.40 890.30 L442.90 890.31 L443.40 890.32 L443.90 890.32 L444.40 890.33 L444.90 890.33 L445.40 890.34 L445.90 890.34 L446.40 890.35 L446.90 890.35 L447.40 890.35 L447.90 890.36 L448.40 890.36 L448.90 890.36 L449.40 890.37 L449.90 890.37 L450.40 890.37 L450.90 890.37 L451.40 890.38 L451.90 890.38 L452.40 890.38 L452.90 890.38 L453.40 890.38 L453.90 890.38 L454.40 890.39 L454.90 890.39 L455.40 890.39 L455.90 890.39 L456.40 890.39 L456.90 890.39 L457.40 890.39 L457.90 890.39 L458.40 890.39 L458.90 890.39 L459.40 890.39 L459.90 890.39 L460.40 890.39 L460.90 890.40 L461.40 890.40 L461.90 890.40 L462.40 890.40 L462.90 890.40 L463.40 890.40 L463.90 890.40 L464.40 890.40 L464.90 890.40 L465.40 890.40 L465.90 890.40 L466.40 890.40 L466.90 890.40 L467.40 890.40 L467.90 890.40 L468.40 890.40 L468.90 890.40 L469.40 890.40 L469.90 890.40 L470.40 890.40 L470.90 890.40 L471.40 890.40 L471.90 890.40 L472.40 890.40 L472.90 890.40 L473.40 890.40 L473.90 890.40 L474.40 890.40 L474.90 890.40 L475.40 890.40 L475.90 890.40 L476.40 890.40 L476.90 890.40 L477.40 890.40 L477.90 890.40 L478.40 890.40 L478.90 890.40 L479.40 890.40 L479.90 890.40 L480.40 890.40 L480.90 890.40 L481.40 890.40 L481.90 890.40 L482.40 890.40 L482.90 890.40 L483.40 890.40 L483.90 890.40 L484.40 890.40 L484.90 890.40 L485.40 890.40 L485.90 890.40 L486.40 890.40 L486.90 890.40 L487.40 890.40 L487.90 890.40 L488.40 890.40 L488.90 890.40 L489.40 890.40 L489.90 890.40 L490.40 890.40 L490.90 890.40 L491.40 890.40 L491.90 890.40 L492.40 890.40 L492.90 890.40 L493.40 890.40 L493.90 890.40 L494.40 890.40 L494.90 890.40 L495.40 890.40 L495.90 890.40 L496.40 890.40 L496.90 890.40 L497.40 890.40 L497.90 890.40 L498.40 890.40 L498.90 890.40 L499.40 890.40 L499.90 890.40 L500.40 890.40 L500.90 890.40 L501.40 890.40 L501.90 890.40 L502.40 890.40 L502.90 890.40 L503.40 890.40 L503.90 890.40 L504.40 890.40 L504.90 890.40 L505.40 890.40 L505.90 890.40 L506.40 890.40 L506.90 890.40 L507.40 890.40 L507.90 890.40 L508.40 890.40 L508.90 890.40 L509.40 890.40 L509.90 890.40 L510.40 890.40 L510.90 890.40" fill="none" stroke="#5e54c8" stroke-width="0.9"/><line x1="352.4" y1="786.6" x2="511" y2="786.6" stroke="#4d94d8" stroke-width="0.9" opacity="0.8"/><line x1="352.4" y1="812.6" x2="511" y2="812.6" stroke="#d8606a" stroke-width="0.9" opacity="0.8"/><line x1="352.4" y1="838.5" x2="511" y2="838.5" stroke="#e8a65c" stroke-width="0.9" opacity="0.8"/><line x1="352.4" y1="864.5" x2="511" y2="864.5" stroke="#dd68d2" stroke-width="0.9" opacity="0.8"/><line x1="352.4" y1="890.4" x2="511" y2="890.4" stroke="#5e54c8" stroke-width="0.9" opacity="0.8"/><line x1="352.4" y1="889.6" x2="511" y2="889.6" stroke="#8888c8" stroke-width="1.8"/><path d="M352.4 736.9 L644.6 736.9" fill="none" stroke="#555" stroke-width="1"/><path d="M644.6 736.9 L644.6 889.6" fill="none" stroke="#999" stroke-width="1"/><path d="M644.6 889.6 L511 889.6" fill="none" stroke="#333" stroke-width="1"/><line x1="352.4" y1="736.9" x2="352.4" y2="889.6" stroke="#8a8aa8" stroke-width="1.1"/><line x1="511" y1="736.9" x2="511" y2="893.6" stroke="#333" stroke-width="1"/><text x="502.7" y="782.3" font-size="13.5" fill="#222" text-anchor="end" font-weight="normal" >(-) LNP</text><text x="502.7" y="808.2" font-size="13.5" fill="#222" text-anchor="end" font-weight="normal" >(+) LNP</text><text x="502.7" y="834.2" font-size="13.5" fill="#222" text-anchor="end" font-weight="normal" >(+/-) LNP</text><text x="505.5" y="859.1" font-size="14" fill="#222" text-anchor="end" font-weight="normal" >Naked miRNA</text><text x="484.8" y="884.6" font-size="14" fill="#222" text-anchor="end" font-weight="normal" >PBS</text><path d="M511 763.9 L563.1 763.9 L563.1 776.9 L511 776.9" fill="none" stroke="#3b8fe0" stroke-width="1.8"/><path d="M511 792 L591.6 792 L591.6 804.6 L511 804.6" fill="none" stroke="#e0383c" stroke-width="1.8"/><line x1="591.6" y1="798.3" x2="602.9" y2="798.3" stroke="#e0383c" stroke-width="1.6"/><line x1="602.9" y1="795.3" x2="602.9" y2="801.3" stroke="#e0383c" stroke-width="1.6"/><circle cx="590.6" cy="798.3" r="1.1" fill="#e0383c"/><circle cx="597.25" cy="798.3" r="1.1" fill="#e0383c"/><path d="M511 819.7 L551.6 819.7 L551.6 832.5 L511 832.5" fill="none" stroke="#f0a048" stroke-width="1.8"/><path d="M511 847.2 L514.9 847.2 L514.9 860.1 L511 860.1" fill="none" stroke="#e048c8" stroke-width="1.8"/><path d="M511 874.6 L514 874.6 L514 888.9 L511 888.9" fill="none" stroke="#2828d8" stroke-width="1.8"/><rect x="566.5" y="789" width="10.5" height="18" fill="#fff"/><line x1="617.1" y1="770.4" x2="617.1" y2="798.1" stroke="#444" stroke-width="1"/><line x1="607.4" y1="798.5" x2="607.4" y2="825.5" stroke="#444" stroke-width="1"/><path d="M623.40 778.00 L628.20 778.00 M624.60 775.92 L627.00 780.08 M627.00 775.92 L624.60 780.08 " stroke="#111" stroke-width="1.25" fill="none"/><path d="M623.40 784.50 L628.20 784.50 M624.60 782.42 L627.00 786.58 M627.00 782.42 L624.60 786.58 " stroke="#111" stroke-width="1.25" fill="none"/><path d="M623.40 791.00 L628.20 791.00 M624.60 788.92 L627.00 793.08 M627.00 788.92 L624.60 793.08 " stroke="#111" stroke-width="1.25" fill="none"/><path d="M613.00 805.00 L617.80 805.00 M614.20 802.92 L616.60 807.08 M616.60 802.92 L614.20 807.08 " stroke="#111" stroke-width="1.25" fill="none"/><path d="M613.00 811.50 L617.80 811.50 M614.20 809.42 L616.60 813.58 M616.60 809.42 L614.20 813.58 " stroke="#111" stroke-width="1.25" fill="none"/><path d="M613.00 818.00 L617.80 818.00 M614.20 815.92 L616.60 820.08 M616.60 815.92 L614.20 820.08 " stroke="#111" stroke-width="1.25" fill="none"/><rect x="565" y="886" width="14" height="8" fill="#fff"/><path d="M563.5 893 L569 886.5 M575 893 L580.5 886.5" stroke="#333" stroke-width="1"/><line x1="511" y1="889.6" x2="511" y2="892.6" stroke="#333" stroke-width="0.9"/><text x="511" y="904.5" font-size="10.5" fill="#333" text-anchor="middle" font-weight="normal" >0</text><line x1="538" y1="889.6" x2="538" y2="892.6" stroke="#333" stroke-width="0.9"/><text x="538" y="904.5" font-size="10.5" fill="#333" text-anchor="middle" font-weight="normal" >3K</text><line x1="565" y1="889.6" x2="565" y2="892.6" stroke="#333" stroke-width="0.9"/><text x="565" y="904.5" font-size="10.5" fill="#333" text-anchor="middle" font-weight="normal" >6K</text><line x1="632.7" y1="889.6" x2="632.7" y2="892.6" stroke="#333" stroke-width="0.9"/><text x="632.7" y="904.5" font-size="10.5" fill="#333" text-anchor="middle" font-weight="normal" >40K</text><text x="0" y="0" font-size="15" fill="#222" text-anchor="middle" font-weight="normal" transform="translate(340.3 813) rotate(-90)">Count</text><text x="430.5" y="919.6" font-size="15.2" fill="#222" text-anchor="middle" font-weight="normal" >FITC-FAM-A</text><text x="586" y="919.6" font-size="15" fill="#222" text-anchor="middle" font-weight="normal" >MFI</text><text x="722.7" y="171.5" font-size="14.5" fill="#3030c0" text-anchor="middle" font-weight="normal" >Nuclei</text><text x="823.3" y="171.5" font-size="14.5" fill="#40b050" text-anchor="middle" font-weight="normal" >miRNA</text><text x="920.5" y="171.5" font-size="14.5" fill="#e03030" text-anchor="middle" font-weight="normal" >LNP</text><text x="1020" y="171.5" font-size="14.5" fill="#222" text-anchor="middle" font-weight="normal" >Merge</text><text x="0" y="0" font-size="15" fill="#222" text-anchor="middle" font-weight="normal" transform="translate(669.3 224.5) rotate(-90)">PBS</text><text x="0" y="0" font-size="15" fill="#222" text-anchor="middle" font-weight="normal" transform="translate(669.3 326.2) rotate(-90)">Naked miRNA</text><text x="0" y="0" font-size="15" fill="#222" text-anchor="middle" font-weight="normal" transform="translate(669.3 429) rotate(-90)">LNP<tspan font-size="11.5" dy="5">small</tspan></text><text x="0" y="0" font-size="15" fill="#222" text-anchor="middle" font-weight="normal" transform="translate(669.3 519.4) rotate(-90)">LNP<tspan font-size="11.5" dy="5">middle</tspan></text><text x="0" y="0" font-size="15" fill="#222" text-anchor="middle" font-weight="normal" transform="translate(669.3 623.8) rotate(-90)">(+/-) LNP<tspan font-size="11.5" dy="5">large</tspan></text><text x="0" y="0" font-size="15" fill="#222" text-anchor="middle" font-weight="normal" transform="translate(669.3 722.2) rotate(-90)">(+) LNP</text><text x="0" y="0" font-size="15" fill="#222" text-anchor="middle" font-weight="normal" transform="translate(669.3 822.1) rotate(-90)">(-) LNP</text><defs><filter id="n1" x="0" y="0" width="100%" height="100%" color-interpolation-filters="sRGB"><feTurbulence type="turbulence" baseFrequency="0.07" numOctaves="2" seed="11" result="t"/><feColorMatrix in="t" type="matrix" values="0 0 0 0 0  0 0 0 0 0  0 0 0 0 0  -9 0 0 0 1.0" result="a"/><feTurbulence type="fractalNoise" baseFrequency="0.05" numOctaves="2" seed="12" result="m"/><feComponentTransfer in="m" result="mt"><feFuncA type="table" tableValues="0.2 0.5 1 1 1 1"/></feComponentTransfer><feColorMatrix in="m" type="matrix" values="0 0 0 0 0  0 0 0 0 0  0 0 0 0 0  0 0 0 0 1" result="one"/><feComponentTransfer in="m" result="mm"><feFuncR type="table" tableValues="0.2 0.5 1 1 1 1"/></feComponentTransfer><feColorMatrix in="mm" type="matrix" values="0 0 0 0 0  0 0 0 0 0  0 0 0 0 0  1 0 0 0 0" result="ma"/><feComposite in="a" in2="ma" operator="in" result="am"/><feFlood flood-color="rgb(45,45,235)" result="col"/><feComposite in="col" in2="am" operator="in"/><feGaussianBlur stdDeviation="0.6"/></filter><filter id="n1b" x="0" y="0" width="100%" height="100%" color-interpolation-filters="sRGB"><feTurbulence type="fractalNoise" baseFrequency="0.05" numOctaves="2" seed="13" result="t"/><feComponentTransfer in="t" result="bt"><feFuncR type="table" tableValues="0 0 0.2 0.5 0.8 1 1 1 1"/></feComponentTransfer><feColorMatrix in="bt" type="matrix" values="0 0 0 0 0.078  0 0 0 0 0.078  0 0 0 0 0.588  0.15 0 0 0 0"/></filter><filter id="n2" x="0" y="0" width="100%" height="100%" color-interpolation-filters="sRGB"><feTurbulence type="turbulence" baseFrequency="0.065" numOctaves="2" seed="21" result="t"/><feColorMatrix in="t" type="matrix" values="0 0 0 0 0  0 0 0 0 0  0 0 0 0 0  -8 0 0 0 1.0" result="a"/><feTurbulence type="fractalNoise" baseFrequency="0.04" numOctaves="2" seed="22" result="m"/><feComponentTransfer in="m" result="mt"><feFuncA type="table" tableValues="0 0.2 0.6 1 1 1"/></feComponentTransfer><feColorMatrix in="m" type="matrix" values="0 0 0 0 0  0 0 0 0 0  0 0 0 0 0  0 0 0 0 1" result="one"/><feComponentTransfer in="m" result="mm"><feFuncR type="table" tableValues="0 0.2 0.6 1 1 1"/></feComponentTransfer><feColorMatrix in="mm" type="matrix" values="0 0 0 0 0  0 0 0 0 0  0 0 0 0 0  1 0 0 0 0" result="ma"/><feComposite in="a" in2="ma" operator="in" result="am"/><feFlood flood-color="rgb(50,50,240)" result="col"/><feComposite in="col" in2="am" operator="in"/><feGaussianBlur stdDeviation="0.7"/></filter><filter id="n2b" x="0" y="0" width="100%" height="100%" color-interpolation-filters="sRGB"><feTurbulence type="fractalNoise" baseFrequency="0.06" numOctaves="2" seed="23" result="t"/><feComponentTransfer in="t" result="bt"><feFuncR type="table" tableValues="0 0 0 0 0.3 1 1 1"/></feComponentTransfer><feColorMatrix in="bt" type="matrix" values="0 0 0 0 0.098  0 0 0 0 0.098  0 0 0 0 0.667  0.2 0 0 0 0"/></filter><filter id="n3" x="0" y="0" width="100%" height="100%" color-interpolation-filters="sRGB"><feTurbulence type="fractalNoise" baseFrequency="0.16" numOctaves="3" seed="31" result="t"/><feComponentTransfer in="t" result="bt"><feFuncR type="table" tableValues="0 0 0 0.25 0.6 0.9 1 1 1"/></feComponentTransfer><feColorMatrix in="bt" type="matrix" values="0 0 0 0 0.118  0 0 0 0 0.118  0 0 0 0 0.961  0.85 0 0 0 0"/><feGaussianBlur stdDeviation="0.4"/></filter><filter id="n3r" x="0" y="0" width="100%" height="100%" color-interpolation-filters="sRGB"><feTurbulence type="turbulence" baseFrequency="0.09" numOctaves="2" seed="32" result="t"/><feColorMatrix in="t" type="matrix" values="0 0 0 0 0  0 0 0 0 0  0 0 0 0 0  -12 0 0 0 0.8" result="a"/><feFlood flood-color="rgb(60,60,255)" result="col"/><feComposite in="col" in2="a" operator="in"/><feGaussianBlur stdDeviation="0.6"/></filter><filter id="n4" x="0" y="0" width="100%" height="100%" color-interpolation-filters="sRGB"><feTurbulence type="fractalNoise" baseFrequency="0.16" numOctaves="3" seed="41" result="t"/><feComponentTransfer in="t" result="bt"><feFuncR type="table" tableValues="0 0 0 0 0.3 0.7 1 1 1"/></feComponentTransfer><feColorMatrix in="bt" type="matrix" values="0 0 0 0 0.098  0 0 0 0 0.098  0 0 0 0 0.843  0.6 0 0 0 0"/><feGaussianBlur stdDeviation="0.4"/></filter><filter id="n4r" x="0" y="0" width="100%" height="100%" color-interpolation-filters="sRGB"><feTurbulence type="turbulence" baseFrequency="0.09" numOctaves="2" seed="42" result="t"/><feColorMatrix in="t" type="matrix" values="0 0 0 0 0  0 0 0 0 0  0 0 0 0 0  -12 0 0 0 0.6" result="a"/><feFlood flood-color="rgb(50,50,220)" result="col"/><feComposite in="col" in2="a" operator="in"/><feGaussianBlur stdDeviation="0.6"/></filter><filter id="n5" x="0" y="0" width="100%" height="100%" color-interpolation-filters="sRGB"><feTurbulence type="fractalNoise" baseFrequency="0.15" numOctaves="3" seed="51" result="t"/><feComponentTransfer in="t" result="bt"><feFuncR type="table" tableValues="0 0 0 0 0.3 0.7 1 1 1"/></feComponentTransfer><feColorMatrix in="bt" type="matrix" values="0 0 0 0 0.110  0 0 0 0 0.110  0 0 0 0 0.882  0.55 0 0 0 0"/><feGaussianBlur stdDeviation="0.4"/></filter><filter id="n5r" x="0" y="0" width="100%" height="100%" color-interpolation-filters="sRGB"><feTurbulence type="turbulence" baseFrequency="0.09" numOctaves="2" seed="52" result="t"/><feColorMatrix in="t" type="matrix" values="0 0 0 0 0  0 0 0 0 0  0 0 0 0 0  -12 0 0 0 0.6" result="a"/><feFlood flood-color="rgb(60,60,240)" result="col"/><feComposite in="col" in2="a" operator="in"/><feGaussianBlur stdDeviation="0.6"/></filter><filter id="n6" x="0" y="0" width="100%" height="100%" color-interpolation-filters="sRGB"><feTurbulence type="fractalNoise" baseFrequency="0.14" numOctaves="3" seed="61" result="t"/><feComponentTransfer in="t" result="bt"><feFuncR type="table" tableValues="0 0 0 0 0.3 0.7 1 1 1"/></feComponentTransfer><feColorMatrix in="bt" type="matrix" values="0 0 0 0 0.098  0 0 0 0 0.098  0 0 0 0 0.843  0.38 0 0 0 0"/><feGaussianBlur stdDeviation="0.4"/></filter><filter id="n6r" x="0" y="0" width="100%" height="100%" color-interpolation-filters="sRGB"><feTurbulence type="turbulence" baseFrequency="0.08" numOctaves="2" seed="62" result="t"/><feColorMatrix in="t" type="matrix" values="0 0 0 0 0  0 0 0 0 0  0 0 0 0 0  -12 0 0 0 0.6" result="a"/><feFlood flood-color="rgb(50,50,220)" result="col"/><feComposite in="col" in2="a" operator="in"/><feGaussianBlur stdDeviation="0.6"/></filter><filter id="n7" x="0" y="0" width="100%" height="100%" color-interpolation-filters="sRGB"><feTurbulence type="fractalNoise" baseFrequency="0.2" numOctaves="3" seed="71" result="t"/><feComponentTransfer in="t" result="bt"><feFuncR type="table" tableValues="0 0 0.05 0.35 0.7 0.9 1 1 1"/></feComponentTransfer><feColorMatrix in="bt" type="matrix" values="0 0 0 0 0.118  0 0 0 0 0.118  0 0 0 0 0.941  0.8 0 0 0 0"/><feGaussianBlur stdDeviation="0.45"/></filter><filter id="n7r" x="0" y="0" width="100%" height="100%" color-interpolation-filters="sRGB"><feTurbulence type="turbulence" baseFrequency="0.09" numOctaves="2" seed="72" result="t"/><feColorMatrix in="t" type="matrix" values="0 0 0 0 0  0 0 0 0 0  0 0 0 0 0  -12 0 0 0 0.8" result="a"/><feFlood flood-color="rgb(60,60,255)" result="col"/><feComposite in="col" in2="a" operator="in"/><feGaussianBlur stdDeviation="0.6"/></filter><filter id="g4" x="0" y="0" width="100%" height="100%" color-interpolation-filters="sRGB"><feTurbulence type="fractalNoise" baseFrequency="0.2" numOctaves="2" seed="43" result="t"/><feComponentTransfer in="t" result="bt"><feFuncR type="table" tableValues="0 0 0 0 0 1 0 0 0 0 0"/></feComponentTransfer><feTurbulence type="fractalNoise" baseFrequency="0.12" numOctaves="2" seed="44" result="m"/><feComponentTransfer in="m" result="mt"><feFuncR type="table" tableValues="0 0 0 0 0.5 1"/><feFuncA type="linear" slope="0" intercept="1"/></feComponentTransfer><feComposite in="bt" in2="mt" operator="arithmetic" k1="1" k2="0" k3="0" k4="0" result="mb"/><feColorMatrix in="mb" type="matrix" values="0 0 0 0 0.314  0 0 0 0 0.863  0 0 0 0 0.314  1.0 0 0 0 0"/><feGaussianBlur stdDeviation="0.45"/></filter><filter id="g5" x="0" y="0" width="100%" height="100%" color-interpolation-filters="sRGB"><feTurbulence type="fractalNoise" baseFrequency="0.17" numOctaves="3" seed="53" result="t"/><feComponentTransfer in="t" result="bt"><feFuncR type="table" tableValues="0 0 0 0 0 1 0 0 0 0 0"/></feComponentTransfer><feTurbulence type="fractalNoise" baseFrequency="0.07" numOctaves="2" seed="54" result="m"/><feComponentTransfer in="m" result="mt"><feFuncR type="table" tableValues="0 0 0 0.4 1 1"/><feFuncA type="linear" slope="0" intercept="1"/></feComponentTransfer><feComposite in="bt" in2="mt" operator="arithmetic" k1="1" k2="0" k3="0" k4="0" result="mb"/><feColorMatrix in="mb" type="matrix" values="0 0 0 0 0.275  0 0 0 0 0.745  0 0 0 0 0.275  0.65 0 0 0 0"/><feGaussianBlur stdDeviation="0.4"/></filter><filter id="g6" x="0" y="0" width="100%" height="100%" color-interpolation-filters="sRGB"><feTurbulence type="fractalNoise" baseFrequency="0.13" numOctaves="3" seed="63" result="t"/><feComponentTransfer in="t" result="bt"><feFuncR type="table" tableValues="0 0 0 0 0 1 0 0 0 0 0"/></feComponentTransfer><feTurbulence type="fractalNoise" baseFrequency="0.07" numOctaves="2" seed="64" result="m"/><feComponentTransfer in="m" result="mt"><feFuncR type="table" tableValues="0 0 0 0.6 1 1"/><feFuncA type="linear" slope="0" intercept="1"/></feComponentTransfer><feComposite in="bt" in2="mt" operator="arithmetic" k1="1" k2="0" k3="0" k4="0" result="mb"/><feColorMatrix in="mb" type="matrix" values="0 0 0 0 0.314  0 0 0 0 0.824  0 0 0 0 0.314  0.7 0 0 0 0"/><feGaussianBlur stdDeviation="0.4"/></filter><filter id="g7" x="0" y="0" width="100%" height="100%" color-interpolation-filters="sRGB"><feTurbulence type="fractalNoise" baseFrequency="0.2" numOctaves="2" seed="73" result="t"/><feComponentTransfer in="t" result="bt"><feFuncR type="table" tableValues="0 0 0 0 0 1 0 0 0 0 0"/></feComponentTransfer><feTurbulence type="fractalNoise" baseFrequency="0.12" numOctaves="2" seed="74" result="m"/><feComponentTransfer in="m" result="mt"><feFuncR type="table" tableValues="0 0 0 0 0 0.6 1"/><feFuncA type="linear" slope="0" intercept="1"/></feComponentTransfer><feComposite in="bt" in2="mt" operator="arithmetic" k1="1" k2="0" k3="0" k4="0" result="mb"/><feColorMatrix in="mb" type="matrix" values="0 0 0 0 0.275  0 0 0 0 0.745  0 0 0 0 0.275  0.9 0 0 0 0"/><feGaussianBlur stdDeviation="0.45"/></filter><filter id="r4" x="0" y="0" width="100%" height="100%" color-interpolation-filters="sRGB"><feTurbulence type="fractalNoise" baseFrequency="0.2" numOctaves="2" seed="83" result="t"/><feComponentTransfer in="t" result="bt"><feFuncR type="table" tableValues="0 0 0 0 0 1 0 0 0 0 0"/></feComponentTransfer><feTurbulence type="fractalNoise" baseFrequency="0.12" numOctaves="2" seed="84" result="m"/><feComponentTransfer in="m" result="mt"><feFuncR type="table" tableValues="0 0 0 0 0.5 1"/><feFuncA type="linear" slope="0" intercept="1"/></feComponentTransfer><feComposite in="bt" in2="mt" operator="arithmetic" k1="1" k2="0" k3="0" k4="0" result="mb"/><feColorMatrix in="mb" type="matrix" values="0 0 0 0 0.922  0 0 0 0 0.216  0 0 0 0 0.216  1.0 0 0 0 0"/><feGaussianBlur stdDeviation="0.45"/></filter><filter id="r5" x="0" y="0" width="100%" height="100%" color-interpolation-filters="sRGB"><feTurbulence type="fractalNoise" baseFrequency="0.17" numOctaves="3" seed="93" result="t"/><feComponentTransfer in="t" result="bt"><feFuncR type="table" tableValues="0 0 0 0 0 1 0 0 0 0 0"/></feComponentTransfer><feTurbulence type="fractalNoise" baseFrequency="0.07" numOctaves="2" seed="94" result="m"/><feComponentTransfer in="m" result="mt"><feFuncR type="table" tableValues="0 0 0 0.4 1 1"/><feFuncA type="linear" slope="0" intercept="1"/></feComponentTransfer><feComposite in="bt" in2="mt" operator="arithmetic" k1="1" k2="0" k3="0" k4="0" result="mb"/><feColorMatrix in="mb" type="matrix" values="0 0 0 0 0.843  0 0 0 0 0.196  0 0 0 0 0.196  0.65 0 0 0 0"/><feGaussianBlur stdDeviation="0.4"/></filter><filter id="r6" x="0" y="0" width="100%" height="100%" color-interpolation-filters="sRGB"><feTurbulence type="fractalNoise" baseFrequency="0.13" numOctaves="3" seed="103" result="t"/><feComponentTransfer in="t" result="bt"><feFuncR type="table" tableValues="0 0 0 0 0 1 0 0 0 0 0"/></feComponentTransfer><feTurbulence type="fractalNoise" baseFrequency="0.07" numOctaves="2" seed="104" result="m"/><feComponentTransfer in="m" result="mt"><feFuncR type="table" tableValues="0 0 0 0.6 1 1"/><feFuncA type="linear" slope="0" intercept="1"/></feComponentTransfer><feComposite in="bt" in2="mt" operator="arithmetic" k1="1" k2="0" k3="0" k4="0" result="mb"/><feColorMatrix in="mb" type="matrix" values="0 0 0 0 0.863  0 0 0 0 0.196  0 0 0 0 0.196  0.7 0 0 0 0"/><feGaussianBlur stdDeviation="0.4"/></filter><filter id="r7" x="0" y="0" width="100%" height="100%" color-interpolation-filters="sRGB"><feTurbulence type="fractalNoise" baseFrequency="0.12" numOctaves="2" seed="113" result="t"/><feComponentTransfer in="t" result="bt"><feFuncR type="table" tableValues="0 0 0.2 0.5 0.8 1 1 1 1"/></feComponentTransfer><feColorMatrix in="bt" type="matrix" values="0 0 0 0 0.314  0 0 0 0 0.047  0 0 0 0 0.047  0.22 0 0 0 0"/><feGaussianBlur stdDeviation="0.5"/></filter><filter id="m1" x="0" y="0" width="100%" height="100%" color-interpolation-filters="sRGB"><feTurbulence type="turbulence" baseFrequency="0.07" numOctaves="2" seed="121" result="t"/><feColorMatrix in="t" type="matrix" values="0 0 0 0 0  0 0 0 0 0  0 0 0 0 0  -9 0 0 0 1.0" result="a"/><feTurbulence type="fractalNoise" baseFrequency="0.05" numOctaves="2" seed="122" result="m"/><feComponentTransfer in="m" result="mt"><feFuncA type="table" tableValues="0.2 0.5 1 1 1 1"/></feComponentTransfer><feColorMatrix in="m" type="matrix" values="0 0 0 0 0  0 0 0 0 0  0 0 0 0 0  0 0 0 0 1" result="one"/><feComponentTransfer in="m" result="mm"><feFuncR type="table" tableValues="0.2 0.5 1 1 1 1"/></feComponentTransfer><feColorMatrix in="mm" type="matrix" values="0 0 0 0 0  0 0 0 0 0  0 0 0 0 0  1 0 0 0 0" result="ma"/><feComposite in="a" in2="ma" operator="in" result="am"/><feFlood flood-color="rgb(50,50,240)" result="col"/><feComposite in="col" in2="am" operator="in"/><feGaussianBlur stdDeviation="0.6"/></filter><filter id="m1b" x="0" y="0" width="100%" height="100%" color-interpolation-filters="sRGB"><feTurbulence type="fractalNoise" baseFrequency="0.05" numOctaves="2" seed="123" result="t"/><feComponentTransfer in="t" result="bt"><feFuncR type="table" tableValues="0 0 0.2 0.5 0.8 1 1 1 1"/></feComponentTransfer><feColorMatrix in="bt" type="matrix" values="0 0 0 0 0.078  0 0 0 0 0.078  0 0 0 0 0.588  0.15 0 0 0 0"/></filter><filter id="m2" x="0" y="0" width="100%" height="100%" color-interpolation-filters="sRGB"><feTurbulence type="turbulence" baseFrequency="0.065" numOctaves="2" seed="131" result="t"/><feColorMatrix in="t" type="matrix" values="0 0 0 0 0  0 0 0 0 0  0 0 0 0 0  -8 0 0 0 1.0" result="a"/><feTurbulence type="fractalNoise" baseFrequency="0.04" numOctaves="2" seed="132" result="m"/><feComponentTransfer in="m" result="mt"><feFuncA type="table" tableValues="0 0.2 0.6 1 1 1"/></feComponentTransfer><feColorMatrix in="m" type="matrix" values="0 0 0 0 0  0 0 0 0 0  0 0 0 0 0  0 0 0 0 1" result="one"/><feComponentTransfer in="m" result="mm"><feFuncR type="table" tableValues="0 0.2 0.6 1 1 1"/></feComponentTransfer><feColorMatrix in="mm" type="matrix" values="0 0 0 0 0  0 0 0 0 0  0 0 0 0 0  1 0 0 0 0" result="ma"/><feComposite in="a" in2="ma" operator="in" result="am"/><feFlood flood-color="rgb(55,55,245)" result="col"/><feComposite in="col" in2="am" operator="in"/><feGaussianBlur stdDeviation="0.7"/></filter><filter id="m2b" x="0" y="0" width="100%" height="100%" color-interpolation-filters="sRGB"><feTurbulence type="fractalNoise" baseFrequency="0.06" numOctaves="2" seed="133" result="t"/><feComponentTransfer in="t" result="bt"><feFuncR type="table" tableValues="0 0 0 0 0.3 1 1 1"/></feComponentTransfer><feColorMatrix in="bt" type="matrix" values="0 0 0 0 0.098  0 0 0 0 0.098  0 0 0 0 0.667  0.2 0 0 0 0"/></filter><filter id="m3" x="0" y="0" width="100%" height="100%" color-interpolation-filters="sRGB"><feTurbulence type="fractalNoise" baseFrequency="0.16" numOctaves="3" seed="141" result="t"/><feComponentTransfer in="t" result="bt"><feFuncR type="table" tableValues="0 0 0 0.25 0.6 0.9 1 1 1"/></feComponentTransfer><feColorMatrix in="bt" type="matrix" values="0 0 0 0 0.118  0 0 0 0 0.118  0 0 0 0 0.961  0.85 0 0 0 0"/><feGaussianBlur stdDeviation="0.4"/></filter><filter id="m3r" x="0" y="0" width="100%" height="100%" color-interpolation-filters="sRGB"><feTurbulence type="turbulence" baseFrequency="0.09" numOctaves="2" seed="142" result="t"/><feColorMatrix in="t" type="matrix" values="0 0 0 0 0  0 0 0 0 0  0 0 0 0 0  -12 0 0 0 0.8" result="a"/><feFlood flood-color="rgb(60,60,255)" result="col"/><feComposite in="col" in2="a" operator="in"/><feGaussianBlur stdDeviation="0.6"/></filter><filter id="m4a" x="0" y="0" width="100%" height="100%" color-interpolation-filters="sRGB"><feTurbulence type="fractalNoise" baseFrequency="0.16" numOctaves="3" seed="151" result="t"/><feComponentTransfer in="t" result="bt"><feFuncR type="table" tableValues="0 0 0 0 0.3 0.7 1 1 1"/></feComponentTransfer><feColorMatrix in="bt" type="matrix" values="0 0 0 0 0.098  0 0 0 0 0.098  0 0 0 0 0.843  0.6 0 0 0 0"/><feGaussianBlur stdDeviation="0.4"/></filter><filter id="m4b" x="0" y="0" width="100%" height="100%" color-interpolation-filters="sRGB"><feTurbulence type="fractalNoise" baseFrequency="0.2" numOctaves="2" seed="152" result="t"/><feComponentTransfer in="t" result="bt"><feFuncR type="table" tableValues="0 0 0 0 0 1 0 0 0 0 0"/></feComponentTransfer><feTurbulence type="fractalNoise" baseFrequency="0.25" numOctaves="2" seed="153" result="m"/><feComponentTransfer in="m" result="mt"><feFuncR type="table" tableValues="0 0 0 0 0 0.6 1"/><feFuncA type="linear" slope="0" intercept="1"/></feComponentTransfer><feComposite in="bt" in2="mt" operator="arithmetic" k1="1" k2="0" k3="0" k4="0" result="mb"/><feColorMatrix in="mb" type="matrix" values="0 0 0 0 0.745  0 0 0 0 0.667  0 0 0 0 1.000  0.9 0 0 0 0"/><feGaussianBlur stdDeviation="0.4"/></filter><filter id="m5a" x="0" y="0" width="100%" height="100%" color-interpolation-filters="sRGB"><feTurbulence type="fractalNoise" baseFrequency="0.15" numOctaves="3" seed="161" result="t"/><feComponentTransfer in="t" result="bt"><feFuncR type="table" tableValues="0 0 0 0 0.3 0.7 1 1 1"/></feComponentTransfer><feColorMatrix in="bt" type="matrix" values="0 0 0 0 0.110  0 0 0 0 0.110  0 0 0 0 0.882  0.55 0 0 0 0"/><feGaussianBlur stdDeviation="0.4"/></filter><filter id="m5b" x="0" y="0" width="100%" height="100%" color-interpolation-filters="sRGB"><feTurbulence type="fractalNoise" baseFrequency="0.17" numOctaves="3" seed="162" result="t"/><feComponentTransfer in="t" result="bt"><feFuncR type="table" tableValues="0 0 0 0 0 1 0 0 0 0 0"/></feComponentTransfer><feTurbulence type="fractalNoise" baseFrequency="0.07" numOctaves="2" seed="163" result="m"/><feComponentTransfer in="m" result="mt"><feFuncR type="table" tableValues="0 0 0 0.4 1 1"/><feFuncA type="linear" slope="0" intercept="1"/></feComponentTransfer><feComposite in="bt" in2="mt" operator="arithmetic" k1="1" k2="0" k3="0" k4="0" result="mb"/><feColorMatrix in="mb" type="matrix" values="0 0 0 0 0.745  0 0 0 0 0.706  0 0 0 0 1.000  0.7 0 0 0 0"/><feGaussianBlur stdDeviation="0.4"/></filter><filter id="m6a" x="0" y="0" width="100%" height="100%" color-interpolation-filters="sRGB"><feTurbulence type="fractalNoise" baseFrequency="0.13" numOctaves="3" seed="171" result="t"/><feComponentTransfer in="t" result="bt"><feFuncR type="table" tableValues="0 0 0 0 0.3 0.7 1 1 1"/></feComponentTransfer><feColorMatrix in="bt" type="matrix" values="0 0 0 0 0.098  0 0 0 0 0.098  0 0 0 0 0.667  0.22 0 0 0 0"/><feGaussianBlur stdDeviation="0.4"/></filter><filter id="m6b" x="0" y="0" width="100%" height="100%" color-interpolation-filters="sRGB"><feTurbulence type="fractalNoise" baseFrequency="0.13" numOctaves="3" seed="172" result="t"/><feComponentTransfer in="t" result="bt"><feFuncR type="table" tableValues="0 0 0 0 0 1 0 0 0 0 0"/></feComponentTransfer><feTurbulence type="fractalNoise" baseFrequency="0.07" numOctaves="2" seed="173" result="m"/><feComponentTransfer in="m" result="mt"><feFuncR type="table" tableValues="0 0 0 0.6 1 1"/><feFuncA type="linear" slope="0" intercept="1"/></feComponentTransfer><feComposite in="bt" in2="mt" operator="arithmetic" k1="1" k2="0" k3="0" k4="0" result="mb"/><feColorMatrix in="mb" type="matrix" values="0 0 0 0 0.784  0 0 0 0 0.745  0 0 0 0 1.000  0.75 0 0 0 0"/><feGaussianBlur stdDeviation="0.4"/></filter><filter id="m7" x="0" y="0" width="100%" height="100%" color-interpolation-filters="sRGB"><feTurbulence type="fractalNoise" baseFrequency="0.24" numOctaves="3" seed="181" result="t"/><feComponentTransfer in="t" result="bt"><feFuncR type="table" tableValues="0 0 0.1 0.4 0.7 0.9 1 1 1"/></feComponentTransfer><feColorMatrix in="bt" type="matrix" values="0 0 0 0 0.137  0 0 0 0 0.137  0 0 0 0 0.922  0.8 0 0 0 0"/><feGaussianBlur stdDeviation="0.45"/></filter><filter id="m7b" x="0" y="0" width="100%" height="100%" color-interpolation-filters="sRGB"><feTurbulence type="fractalNoise" baseFrequency="0.2" numOctaves="2" seed="182" result="t"/><feComponentTransfer in="t" result="bt"><feFuncR type="table" tableValues="0 0 0 0 0 1 0 0 0 0 0"/></feComponentTransfer><feTurbulence type="fractalNoise" baseFrequency="0.25" numOctaves="2" seed="183" result="m"/><feComponentTransfer in="m" result="mt"><feFuncR type="table" tableValues="0 0 0 0 0 0.6 1"/><feFuncA type="linear" slope="0" intercept="1"/></feComponentTransfer><feComposite in="bt" in2="mt" operator="arithmetic" k1="1" k2="0" k3="0" k4="0" result="mb"/><feColorMatrix in="mb" type="matrix" values="0 0 0 0 0.667  0 0 0 0 0.667  0 0 0 0 1.000  0.7 0 0 0 0"/><feGaussianBlur stdDeviation="0.4"/></filter></defs><rect x="679" y="180.0" width="96" height="95.5" fill="#000"/><rect x="679" y="180.0" width="96" height="95.5" filter="url(#n1)"/><rect x="679" y="180.0" width="96" height="95.5" filter="url(#n1b)"/><rect x="777" y="180.0" width="96" height="95.5" fill="#000"/><rect x="875" y="180.0" width="96" height="95.5" fill="#000"/><rect x="973" y="180.0" width="95" height="95.5" fill="#000"/><rect x="973" y="180.0" width="95" height="95.5" filter="url(#m1)"/><rect x="973" y="180.0" width="95" height="95.5" filter="url(#m1b)"/><rect x="679" y="279.8" width="96" height="95.5" fill="#000"/><rect x="679" y="279.8" width="96" height="95.5" filter="url(#n2)"/><rect x="679" y="279.8" width="96" height="95.5" filter="url(#n2b)"/><rect x="777" y="279.8" width="96" height="95.5" fill="#000"/><rect x="875" y="279.8" width="96" height="95.5" fill="#000"/><rect x="973" y="279.8" width="95" height="95.5" fill="#000"/><rect x="973" y="279.8" width="95" height="95.5" filter="url(#m2)"/><rect x="973" y="279.8" width="95" height="95.5" filter="url(#m2b)"/><rect x="679" y="379.6" width="96" height="95.5" fill="#000"/><rect x="679" y="379.6" width="96" height="95.5" filter="url(#n3)"/><rect x="679" y="379.6" width="96" height="95.5" filter="url(#n3r)"/><rect x="777" y="379.6" width="96" height="95.5" fill="#000"/><rect x="875" y="379.6" width="96" height="95.5" fill="#000"/><rect x="973" y="379.6" width="95" height="95.5" fill="#000"/><rect x="973" y="379.6" width="95" height="95.5" filter="url(#m3)"/><rect x="973" y="379.6" width="95" height="95.5" filter="url(#m3r)"/><rect x="679" y="479.4" width="96" height="95.5" fill="#000"/><rect x="679" y="479.4" width="96" height="95.5" filter="url(#n4)"/><rect x="679" y="479.4" width="96" height="95.5" filter="url(#n4r)"/><rect x="777" y="479.4" width="96" height="95.5" fill="#000"/><rect x="777" y="479.4" width="96" height="95.5" filter="url(#g4)"/><rect x="875" y="479.4" width="96" height="95.5" fill="#000"/><rect x="875" y="479.4" width="96" height="95.5" filter="url(#r4)"/><rect x="973" y="479.4" width="95" height="95.5" fill="#000"/><rect x="973" y="479.4" width="95" height="95.5" filter="url(#m4a)"/><rect x="973" y="479.4" width="95" height="95.5" filter="url(#m4b)"/><rect x="679" y="579.2" width="96" height="95.5" fill="#000"/><rect x="679" y="579.2" width="96" height="95.5" filter="url(#n5)"/><rect x="679" y="579.2" width="96" height="95.5" filter="url(#n5r)"/><rect x="777" y="579.2" width="96" height="95.5" fill="#000"/><rect x="777" y="579.2" width="96" height="95.5" filter="url(#g5)"/><rect x="875" y="579.2" width="96" height="95.5" fill="#000"/><rect x="875" y="579.2" width="96" height="95.5" filter="url(#r5)"/><rect x="973" y="579.2" width="95" height="95.5" fill="#000"/><rect x="973" y="579.2" width="95" height="95.5" filter="url(#m5a)"/><rect x="973" y="579.2" width="95" height="95.5" filter="url(#m5b)"/><rect x="679" y="679.0" width="96" height="95.5" fill="#000"/><rect x="679" y="679.0" width="96" height="95.5" filter="url(#n6)"/><rect x="679" y="679.0" width="96" height="95.5" filter="url(#n6r)"/><rect x="777" y="679.0" width="96" height="95.5" fill="#000"/><rect x="777" y="679.0" width="96" height="95.5" filter="url(#g6)"/><rect x="875" y="679.0" width="96" height="95.5" fill="#000"/><rect x="875" y="679.0" width="96" height="95.5" filter="url(#r6)"/><rect x="973" y="679.0" width="95" height="95.5" fill="#000"/><rect x="973" y="679.0" width="95" height="95.5" filter="url(#m6a)"/><rect x="973" y="679.0" width="95" height="95.5" filter="url(#m6b)"/><rect x="679" y="778.8" width="96" height="95.5" fill="#000"/><rect x="679" y="778.8" width="96" height="95.5" filter="url(#n7)"/><rect x="679" y="778.8" width="96" height="95.5" filter="url(#n7r)"/><rect x="777" y="778.8" width="96" height="95.5" fill="#000"/><rect x="777" y="778.8" width="96" height="95.5" filter="url(#g7)"/><rect x="875" y="778.8" width="96" height="95.5" fill="#000"/><rect x="875" y="778.8" width="96" height="95.5" filter="url(#r7)"/><rect x="973" y="778.8" width="95" height="95.5" fill="#000"/><rect x="973" y="778.8" width="95" height="95.5" filter="url(#m7)"/><rect x="973" y="778.8" width="95" height="95.5" filter="url(#m7b)"/><line x1="1017" y1="180.0" x2="1017" y2="275.5" stroke="#b03838" stroke-width="0.7" opacity="0.75"/><line x1="973" y1="224.5" x2="1068" y2="224.5" stroke="#b03838" stroke-width="0.7" opacity="0.75"/><path d="M973 270.2 L1063 270.2 L1063 180.0" fill="none" stroke="#c8c070" stroke-width="0.9" opacity="0.9"/><line x1="1017" y1="279.8" x2="1017" y2="375.3" stroke="#b03838" stroke-width="0.7" opacity="0.75"/><line x1="973" y1="324.6" x2="1068" y2="324.6" stroke="#b03838" stroke-width="0.7" opacity="0.75"/><path d="M973 370.0 L1063 370.0 L1063 279.8" fill="none" stroke="#c8c070" stroke-width="0.9" opacity="0.9"/><line x1="1017" y1="379.6" x2="1017" y2="475.1" stroke="#b03838" stroke-width="0.7" opacity="0.75"/><line x1="973" y1="424.0" x2="1068" y2="424.0" stroke="#b03838" stroke-width="0.7" opacity="0.75"/><path d="M973 469.8 L1063 469.8 L1063 379.6" fill="none" stroke="#c8c070" stroke-width="0.9" opacity="0.9"/><line x1="1057" y1="479.4" x2="1057" y2="574.9" stroke="#b03838" stroke-width="0.7" opacity="0.75"/><line x1="973" y1="483.4" x2="1068" y2="483.4" stroke="#b03838" stroke-width="0.7" opacity="0.75"/><path d="M973 569.6 L1063 569.6 L1063 479.4" fill="none" stroke="#c8c070" stroke-width="0.9" opacity="0.9"/><line x1="1057" y1="579.2" x2="1057" y2="674.7" stroke="#b03838" stroke-width="0.7" opacity="0.75"/><line x1="973" y1="660.2" x2="1068" y2="660.2" stroke="#b03838" stroke-width="0.7" opacity="0.75"/><path d="M973 669.4 L1063 669.4 L1063 579.2" fill="none" stroke="#c8c070" stroke-width="0.9" opacity="0.9"/><line x1="1026" y1="679.0" x2="1026" y2="774.5" stroke="#b03838" stroke-width="0.7" opacity="0.75"/><line x1="973" y1="730.0" x2="1068" y2="730.0" stroke="#b03838" stroke-width="0.7" opacity="0.75"/><path d="M973 769.2 L1063 769.2 L1063 679.0" fill="none" stroke="#c8c070" stroke-width="0.9" opacity="0.9"/><line x1="981" y1="778.8" x2="981" y2="874.3" stroke="#b03838" stroke-width="0.7" opacity="0.75"/><path d="M973 869.0 L1063 869.0 L1063 778.8" fill="none" stroke="#c8c070" stroke-width="0.9" opacity="0.9"/><line x1="757" y1="866.8" x2="771" y2="866.8" stroke="#fff" stroke-width="2"/><text x="982.6" y="788" font-size="9" fill="#e06030" text-anchor="start" font-weight="bold" ><tspan font-style="italic">X-Y</tspan> view</text><text x="0" y="0" font-size="9" fill="#e06030" text-anchor="middle" font-weight="bold" transform="translate(1075 798) rotate(-90)"><tspan font-style="italic">X-Z</tspan> view</text><text x="984" y="880.5" font-size="9" fill="#e06030" text-anchor="start" font-weight="bold" ><tspan font-style="italic">Y-Z</tspan> view</text>
</g>
</svg></body></html>
